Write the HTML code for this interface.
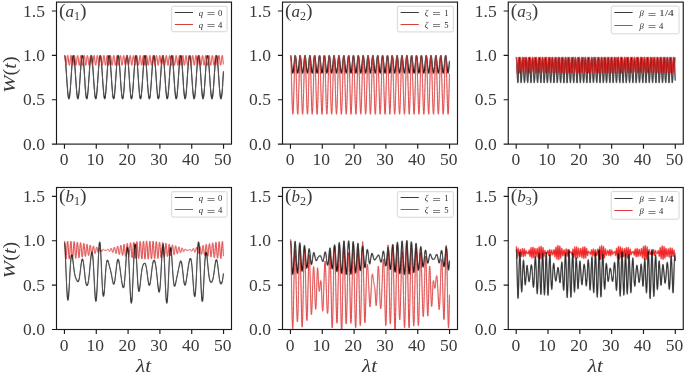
<!DOCTYPE html><html><head><meta charset="utf-8"><style>html,body{margin:0;padding:0;background:#fff;}svg{display:block;}text{font-family:"Liberation Serif",serif;}</style></head><body>
<svg width="685" height="374" viewBox="0 0 685 374">
<rect width="685" height="374" fill="#fff"/>
<defs>
<filter id="bl" x="0" y="0" width="685" height="374" filterUnits="userSpaceOnUse"><feConvolveMatrix order="3" kernelMatrix="0.00250 0.04500 0.00250 0.04500 0.81000 0.04500 0.00250 0.04500 0.00250" divisor="1" edgeMode="duplicate"/></filter>
<filter id="nf" x="0" y="0" width="685" height="374" filterUnits="userSpaceOnUse"><feOffset dx="0" dy="0"/></filter>
<clipPath id="c00"><rect x="56.5" y="2.1" width="175.0" height="142.0"/></clipPath>
<clipPath id="c01"><rect x="282.5" y="2.1" width="175.0" height="142.0"/></clipPath>
<clipPath id="c02"><rect x="508.25" y="2.1" width="175.0" height="142.0"/></clipPath>
<clipPath id="c10"><rect x="56.5" y="187.5" width="175.0" height="142.0"/></clipPath>
<clipPath id="c11"><rect x="282.5" y="187.5" width="175.0" height="142.0"/></clipPath>
<clipPath id="c12"><rect x="508.25" y="187.5" width="175.0" height="142.0"/></clipPath>
</defs>
<g filter="url(#bl)">
<rect width="685" height="374" fill="#fff"/>
<g clip-path="url(#c00)">
<polyline points="64.5,55.3 64.6,55.4 64.7,55.6 64.8,55.8 64.9,56.2 65.0,56.7 65.1,57.2 65.2,57.9 65.3,58.7 65.3,59.5 65.4,60.5 65.5,61.5 65.6,62.6 65.7,63.7 65.8,65.0 65.9,66.3 66.0,67.6 66.1,69.0 66.2,70.4 66.3,71.9 66.4,73.4 66.5,74.9 66.6,76.4 66.7,77.9 66.8,79.4 66.9,80.9 67.0,82.4 67.1,83.9 67.2,85.3 67.3,86.7 67.4,88.0 67.5,89.3 67.6,90.5 67.7,91.7 67.8,92.8 67.9,93.8 68.0,94.7 68.1,95.6 68.2,96.3 68.3,97.0 68.4,97.6 68.5,98.0 68.6,98.4 68.7,98.6 68.8,98.8 68.9,98.8 69.0,98.8 69.1,98.6 69.2,98.3 69.3,98.0 69.4,97.5 69.5,96.9 69.6,96.2 69.7,95.5 69.8,94.6 69.9,93.7 70.0,92.6 70.1,91.5 70.2,90.4 70.3,89.1 70.4,87.8 70.5,86.5 70.6,85.1 70.7,83.7 70.8,82.2 70.9,80.7 71.0,79.2 71.1,77.7 71.2,76.2 71.3,74.7 71.4,73.2 71.5,71.7 71.6,70.2 71.7,68.8 71.8,67.4 71.9,66.1 72.0,64.8 72.1,63.6 72.2,62.4 72.3,61.3 72.4,60.3 72.5,59.4 72.6,58.6 72.7,57.8 72.8,57.2 72.9,56.6 73.0,56.1 73.1,55.8 73.2,55.5 73.3,55.4 73.4,55.4 73.5,55.4 73.6,55.6 73.7,55.9 73.8,56.3 73.9,56.7 74.0,57.3 74.1,58.0 74.2,58.8 74.3,59.6 74.4,60.6 74.5,61.6 74.6,62.7 74.7,63.9 74.8,65.1 74.9,66.4 75.0,67.8 75.1,69.2 75.2,70.6 75.3,72.1 75.4,73.6 75.5,75.1 75.6,76.6 75.7,78.1 75.8,79.6 75.9,81.1 76.0,82.6 76.1,84.1 76.2,85.5 76.3,86.9 76.4,88.2 76.5,89.5 76.6,90.7 76.7,91.9 76.8,92.9 76.9,93.9 77.0,94.9 77.1,95.7 77.2,96.4 77.3,97.1 77.4,97.6 77.5,98.1 77.6,98.4 77.7,98.7 77.8,98.8 77.9,98.8 78.0,98.8 78.1,98.6 78.2,98.3 78.3,97.9 78.4,97.4 78.5,96.8 78.6,96.1 78.7,95.4 78.8,94.5 78.9,93.5 79.0,92.5 79.1,91.4 79.2,90.2 79.3,89.0 79.4,87.7 79.5,86.3 79.6,84.9 79.7,83.5 79.8,82.0 79.9,80.5 80.0,79.0 80.1,77.5 80.2,76.0 80.3,74.5 80.4,72.9 80.5,71.5 80.6,70.0 80.7,68.6 80.8,67.2 80.9,65.9 81.0,64.6 81.1,63.4 81.2,62.3 81.3,61.2 81.4,60.2 81.5,59.3 81.6,58.4 81.7,57.7 81.8,57.1 81.9,56.5 82.0,56.1 82.1,55.7 82.2,55.5 82.3,55.4 82.4,55.4 82.5,55.4 82.6,55.6 82.7,55.9 82.8,56.3 82.9,56.8 83.0,57.4 83.1,58.1 83.2,58.9 83.3,59.8 83.4,60.7 83.5,61.8 83.6,62.9 83.7,64.1 83.8,65.3 83.9,66.6 84.0,68.0 84.1,69.4 84.2,70.8 84.3,72.3 84.4,73.8 84.5,75.3 84.6,76.8 84.7,78.3 84.8,79.8 84.9,81.3 85.0,82.8 85.0,84.3 85.1,85.7 85.2,87.1 85.3,88.4 85.4,89.7 85.5,90.9 85.6,92.0 85.7,93.1 85.8,94.1 85.9,95.0 86.0,95.8 86.1,96.5 86.2,97.2 86.3,97.7 86.4,98.1 86.5,98.5 86.6,98.7 86.7,98.8 86.8,98.8 86.9,98.7 87.0,98.5 87.1,98.2 87.2,97.8 87.3,97.3 87.4,96.7 87.5,96.0 87.6,95.2 87.7,94.4 87.8,93.4 87.9,92.3 88.0,91.2 88.1,90.0 88.2,88.8 88.3,87.5 88.4,86.1 88.5,84.7 88.6,83.3 88.7,81.8 88.8,80.3 88.9,78.8 89.0,77.3 89.1,75.8 89.2,74.2 89.3,72.7 89.4,71.3 89.5,69.8 89.6,68.4 89.7,67.0 89.8,65.7 89.9,64.4 90.0,63.2 90.1,62.1 90.2,61.0 90.3,60.1 90.4,59.2 90.5,58.3 90.6,57.6 90.7,57.0 90.8,56.5 90.9,56.0 91.0,55.7 91.1,55.5 91.2,55.4 91.3,55.4 91.4,55.5 91.5,55.7 91.6,56.0 91.7,56.4 91.8,56.9 91.9,57.5 92.0,58.2 92.1,59.0 92.2,59.9 92.3,60.9 92.4,61.9 92.5,63.0 92.6,64.2 92.7,65.5 92.8,66.8 92.9,68.2 93.0,69.6 93.1,71.0 93.2,72.5 93.3,74.0 93.4,75.5 93.5,77.0 93.6,78.5 93.7,80.0 93.8,81.5 93.9,83.0 94.0,84.5 94.1,85.9 94.2,87.2 94.3,88.6 94.4,89.8 94.5,91.0 94.6,92.2 94.7,93.2 94.8,94.2 94.9,95.1 95.0,95.9 95.1,96.6 95.2,97.2 95.3,97.8 95.4,98.2 95.5,98.5 95.6,98.7 95.7,98.8 95.8,98.8 95.9,98.7 96.0,98.5 96.1,98.2 96.2,97.8 96.3,97.3 96.4,96.6 96.5,95.9 96.6,95.1 96.7,94.2 96.8,93.3 96.9,92.2 97.0,91.1 97.1,89.9 97.2,88.6 97.3,87.3 97.4,85.9 97.5,84.5 97.6,83.1 97.7,81.6 97.8,80.1 97.9,78.6 98.0,77.1 98.1,75.5 98.2,74.0 98.3,72.5 98.4,71.1 98.5,69.6 98.6,68.2 98.7,66.8 98.8,65.5 98.9,64.3 99.0,63.1 99.1,61.9 99.2,60.9 99.3,59.9 99.4,59.0 99.5,58.2 99.6,57.5 99.7,56.9 99.8,56.4 99.9,56.0 100.0,55.7 100.1,55.5 100.2,55.4 100.3,55.4 100.4,55.5 100.5,55.7 100.6,56.0 100.7,56.4 100.8,57.0 100.9,57.6 101.0,58.3 101.1,59.1 101.2,60.0 101.3,61.0 101.4,62.1 101.5,63.2 101.6,64.4 101.7,65.7 101.8,67.0 101.9,68.4 102.0,69.8 102.1,71.2 102.2,72.7 102.3,74.2 102.4,75.7 102.5,77.2 102.6,78.7 102.7,80.3 102.8,81.8 102.9,83.2 103.0,84.7 103.1,86.1 103.2,87.4 103.3,88.7 103.4,90.0 103.5,91.2 103.6,92.3 103.7,93.4 103.8,94.3 103.9,95.2 104.0,96.0 104.1,96.7 104.2,97.3 104.3,97.8 104.4,98.2 104.5,98.5 104.6,98.7 104.7,98.8 104.7,98.8 104.8,98.7 104.9,98.5 105.0,98.1 105.1,97.7 105.2,97.2 105.3,96.5 105.4,95.8 105.5,95.0 105.6,94.1 105.7,93.1 105.8,92.0 105.9,90.9 106.0,89.7 106.1,88.4 106.2,87.1 106.3,85.7 106.4,84.3 106.5,82.9 106.6,81.4 106.7,79.9 106.8,78.4 106.9,76.9 107.0,75.3 107.1,73.8 107.2,72.3 107.3,70.9 107.4,69.4 107.5,68.0 107.6,66.7 107.7,65.4 107.8,64.1 107.9,62.9 108.0,61.8 108.1,60.8 108.2,59.8 108.3,58.9 108.4,58.1 108.5,57.4 108.6,56.8 108.7,56.3 108.8,55.9 108.9,55.6 109.0,55.4 109.1,55.4 109.2,55.4 109.3,55.5 109.4,55.7 109.5,56.1 109.6,56.5 109.7,57.0 109.8,57.7 109.9,58.4 110.0,59.2 110.1,60.2 110.2,61.1 110.3,62.2 110.4,63.4 110.5,64.6 110.6,65.9 110.7,67.2 110.8,68.6 110.9,70.0 111.0,71.4 111.1,72.9 111.2,74.4 111.3,75.9 111.4,77.4 111.5,79.0 111.6,80.5 111.7,82.0 111.8,83.4 111.9,84.9 112.0,86.3 112.1,87.6 112.2,88.9 112.3,90.2 112.4,91.4 112.5,92.5 112.6,93.5 112.7,94.5 112.8,95.3 112.9,96.1 113.0,96.8 113.1,97.4 113.2,97.9 113.3,98.3 113.4,98.6 113.5,98.8 113.6,98.8 113.7,98.8 113.8,98.7 113.9,98.4 114.0,98.1 114.1,97.6 114.2,97.1 114.3,96.5 114.4,95.7 114.5,94.9 114.6,94.0 114.7,93.0 114.8,91.9 114.9,90.7 115.0,89.5 115.1,88.2 115.2,86.9 115.3,85.5 115.4,84.1 115.5,82.7 115.6,81.2 115.7,79.7 115.8,78.2 115.9,76.6 116.0,75.1 116.1,73.6 116.2,72.1 116.3,70.7 116.4,69.2 116.5,67.8 116.6,66.5 116.7,65.2 116.8,63.9 116.9,62.8 117.0,61.6 117.1,60.6 117.2,59.7 117.3,58.8 117.4,58.0 117.5,57.3 117.6,56.8 117.7,56.3 117.8,55.9 117.9,55.6 118.0,55.4 118.1,55.4 118.2,55.4 118.3,55.5 118.4,55.8 118.5,56.1 118.6,56.6 118.7,57.1 118.8,57.8 118.9,58.5 119.0,59.4 119.1,60.3 119.2,61.3 119.3,62.4 119.4,63.5 119.5,64.8 119.6,66.0 119.7,67.4 119.8,68.7 119.9,70.2 120.0,71.6 120.1,73.1 120.2,74.6 120.3,76.1 120.4,77.7 120.5,79.2 120.6,80.7 120.7,82.2 120.8,83.6 120.9,85.1 121.0,86.5 121.1,87.8 121.2,89.1 121.3,90.3 121.4,91.5 121.5,92.6 121.6,93.6 121.7,94.6 121.8,95.4 121.9,96.2 122.0,96.9 122.1,97.5 122.2,98.0 122.3,98.3 122.4,98.6 122.5,98.8 122.6,98.8 122.7,98.8 122.8,98.6 122.9,98.4 123.0,98.0 123.1,97.6 123.2,97.0 123.3,96.4 123.4,95.6 123.5,94.8 123.6,93.8 123.7,92.8 123.8,91.7 123.9,90.6 124.0,89.4 124.1,88.1 124.2,86.7 124.3,85.3 124.3,83.9 124.4,82.5 124.5,81.0 124.6,79.5 124.7,78.0 124.8,76.4 124.9,74.9 125.0,73.4 125.1,71.9 125.2,70.5 125.3,69.0 125.4,67.6 125.5,66.3 125.6,65.0 125.7,63.8 125.8,62.6 125.9,61.5 126.0,60.5 126.1,59.5 126.2,58.7 126.3,57.9 126.4,57.3 126.5,56.7 126.6,56.2 126.7,55.8 126.8,55.6 126.9,55.4 127.0,55.4 127.1,55.4 127.2,55.6 127.3,55.8 127.4,56.2 127.5,56.6 127.6,57.2 127.7,57.9 127.8,58.6 127.9,59.5 128.0,60.4 128.1,61.4 128.2,62.5 128.3,63.7 128.4,64.9 128.5,66.2 128.6,67.6 128.7,68.9 128.8,70.4 128.9,71.8 129.0,73.3 129.1,74.8 129.2,76.3 129.3,77.9 129.4,79.4 129.5,80.9 129.6,82.4 129.7,83.8 129.8,85.3 129.9,86.6 130.0,88.0 130.1,89.3 130.2,90.5 130.3,91.7 130.4,92.8 130.5,93.8 130.6,94.7 130.7,95.6 130.8,96.3 130.9,97.0 131.0,97.5 131.1,98.0 131.2,98.4 131.3,98.6 131.4,98.8 131.5,98.8 131.6,98.8 131.7,98.6 131.8,98.3 131.9,98.0 132.0,97.5 132.1,96.9 132.2,96.3 132.3,95.5 132.4,94.6 132.5,93.7 132.6,92.7 132.7,91.6 132.8,90.4 132.9,89.2 133.0,87.9 133.1,86.5 133.2,85.1 133.3,83.7 133.4,82.3 133.5,80.8 133.6,79.3 133.7,77.7 133.8,76.2 133.9,74.7 134.0,73.2 134.1,71.7 134.2,70.3 134.3,68.8 134.4,67.4 134.5,66.1 134.6,64.8 134.7,63.6 134.8,62.4 134.9,61.4 135.0,60.3 135.1,59.4 135.2,58.6 135.3,57.8 135.4,57.2 135.5,56.6 135.6,56.1 135.7,55.8 135.8,55.5 135.9,55.4 136.0,55.4 136.1,55.4 136.2,55.6 136.3,55.9 136.4,56.2 136.5,56.7 136.6,57.3 136.7,58.0 136.8,58.8 136.9,59.6 137.0,60.6 137.1,61.6 137.2,62.7 137.3,63.9 137.4,65.1 137.5,66.4 137.6,67.7 137.7,69.1 137.8,70.6 137.9,72.0 138.0,73.5 138.1,75.0 138.2,76.6 138.3,78.1 138.4,79.6 138.5,81.1 138.6,82.6 138.7,84.0 138.8,85.5 138.9,86.8 139.0,88.2 139.1,89.4 139.2,90.7 139.3,91.8 139.4,92.9 139.5,93.9 139.6,94.8 139.7,95.7 139.8,96.4 139.9,97.1 140.0,97.6 140.1,98.1 140.2,98.4 140.3,98.7 140.4,98.8 140.5,98.8 140.6,98.8 140.7,98.6 140.8,98.3 140.9,97.9 141.0,97.4 141.1,96.8 141.2,96.2 141.3,95.4 141.4,94.5 141.5,93.6 141.6,92.5 141.7,91.4 141.8,90.2 141.9,89.0 142.0,87.7 142.1,86.3 142.2,85.0 142.3,83.5 142.4,82.0 142.5,80.6 142.6,79.0 142.7,77.5 142.8,76.0 142.9,74.5 143.0,73.0 143.1,71.5 143.2,70.1 143.3,68.6 143.4,67.3 143.5,65.9 143.6,64.7 143.7,63.4 143.8,62.3 143.9,61.2 144.0,60.2 144.0,59.3 144.1,58.5 144.2,57.7 144.3,57.1 144.4,56.5 144.5,56.1 144.6,55.8 144.7,55.5 144.8,55.4 144.9,55.4 145.0,55.4 145.1,55.6 145.2,55.9 145.3,56.3 145.4,56.8 145.5,57.4 145.6,58.1 145.7,58.9 145.8,59.7 145.9,60.7 146.0,61.7 146.1,62.8 146.2,64.0 146.3,65.3 146.4,66.6 146.5,67.9 146.6,69.3 146.7,70.8 146.8,72.2 146.9,73.7 147.0,75.2 147.1,76.8 147.2,78.3 147.3,79.8 147.4,81.3 147.5,82.8 147.6,84.2 147.7,85.6 147.8,87.0 147.9,88.3 148.0,89.6 148.1,90.8 148.2,92.0 148.3,93.0 148.4,94.0 148.5,95.0 148.6,95.8 148.7,96.5 148.8,97.1 148.9,97.7 149.0,98.1 149.1,98.5 149.2,98.7 149.3,98.8 149.4,98.8 149.5,98.7 149.6,98.6 149.7,98.3 149.8,97.9 149.9,97.4 150.0,96.8 150.1,96.1 150.2,95.3 150.3,94.4 150.4,93.4 150.5,92.4 150.6,91.3 150.7,90.1 150.8,88.8 150.9,87.5 151.0,86.2 151.1,84.8 151.2,83.3 151.3,81.8 151.4,80.3 151.5,78.8 151.6,77.3 151.7,75.8 151.8,74.3 151.9,72.8 152.0,71.3 152.1,69.9 152.2,68.4 152.3,67.1 152.4,65.7 152.5,64.5 152.6,63.3 152.7,62.1 152.8,61.1 152.9,60.1 153.0,59.2 153.1,58.4 153.2,57.6 153.3,57.0 153.4,56.5 153.5,56.0 153.6,55.7 153.7,55.5 153.8,55.4 153.9,55.4 154.0,55.5 154.1,55.7 154.2,56.0 154.3,56.4 154.4,56.9 154.5,57.5 154.6,58.2 154.7,59.0 154.8,59.9 154.9,60.8 155.0,61.9 155.1,63.0 155.2,64.2 155.3,65.5 155.4,66.8 155.5,68.1 155.6,69.5 155.7,71.0 155.8,72.4 155.9,73.9 156.0,75.5 156.1,77.0 156.2,78.5 156.3,80.0 156.4,81.5 156.5,83.0 156.6,84.4 156.7,85.8 156.8,87.2 156.9,88.5 157.0,89.8 157.1,91.0 157.2,92.1 157.3,93.2 157.4,94.2 157.5,95.1 157.6,95.9 157.7,96.6 157.8,97.2 157.9,97.7 158.0,98.2 158.1,98.5 158.2,98.7 158.3,98.8 158.4,98.8 158.5,98.7 158.6,98.5 158.7,98.2 158.8,97.8 158.9,97.3 159.0,96.7 159.1,95.9 159.2,95.1 159.3,94.3 159.4,93.3 159.5,92.2 159.6,91.1 159.7,89.9 159.8,88.6 159.9,87.3 160.0,86.0 160.1,84.6 160.2,83.1 160.3,81.6 160.4,80.1 160.5,78.6 160.6,77.1 160.7,75.6 160.8,74.1 160.9,72.6 161.0,71.1 161.1,69.7 161.2,68.3 161.3,66.9 161.4,65.6 161.5,64.3 161.6,63.1 161.7,62.0 161.8,60.9 161.9,60.0 162.0,59.1 162.1,58.3 162.2,57.5 162.3,56.9 162.4,56.4 162.5,56.0 162.6,55.7 162.7,55.5 162.8,55.4 162.9,55.4 163.0,55.5 163.1,55.7 163.2,56.0 163.3,56.4 163.4,57.0 163.5,57.6 163.6,58.3 163.7,59.1 163.7,60.0 163.8,61.0 163.9,62.0 164.0,63.2 164.1,64.4 164.2,65.6 164.3,67.0 164.4,68.3 164.5,69.7 164.6,71.2 164.7,72.7 164.8,74.2 164.9,75.7 165.0,77.2 165.1,78.7 165.2,80.2 165.3,81.7 165.4,83.2 165.5,84.6 165.6,86.0 165.7,87.4 165.8,88.7 165.9,90.0 166.0,91.2 166.1,92.3 166.2,93.3 166.3,94.3 166.4,95.2 166.5,96.0 166.6,96.7 166.7,97.3 166.8,97.8 166.9,98.2 167.0,98.5 167.1,98.7 167.2,98.8 167.3,98.8 167.4,98.7 167.5,98.5 167.6,98.2 167.7,97.7 167.8,97.2 167.9,96.6 168.0,95.8 168.1,95.0 168.2,94.1 168.3,93.1 168.4,92.1 168.5,90.9 168.6,89.7 168.7,88.5 168.8,87.1 168.9,85.8 169.0,84.4 169.1,82.9 169.2,81.4 169.3,79.9 169.4,78.4 169.5,76.9 169.6,75.4 169.7,73.9 169.8,72.4 169.9,70.9 170.0,69.5 170.1,68.1 170.2,66.7 170.3,65.4 170.4,64.1 170.5,63.0 170.6,61.8 170.7,60.8 170.8,59.8 170.9,58.9 171.0,58.1 171.1,57.4 171.2,56.8 171.3,56.3 171.4,55.9 171.5,55.6 171.6,55.4 171.7,55.4 171.8,55.4 171.9,55.5 172.0,55.7 172.1,56.1 172.2,56.5 172.3,57.0 172.4,57.7 172.5,58.4 172.6,59.2 172.7,60.1 172.8,61.1 172.9,62.2 173.0,63.3 173.1,64.5 173.2,65.8 173.3,67.1 173.4,68.5 173.5,69.9 173.6,71.4 173.7,72.9 173.8,74.4 173.9,75.9 174.0,77.4 174.1,78.9 174.2,80.4 174.3,81.9 174.4,83.4 174.5,84.8 174.6,86.2 174.7,87.6 174.8,88.9 174.9,90.1 175.0,91.3 175.1,92.4 175.2,93.5 175.3,94.4 175.4,95.3 175.5,96.1 175.6,96.8 175.7,97.4 175.8,97.9 175.9,98.3 176.0,98.6 176.1,98.8 176.2,98.8 176.3,98.8 176.4,98.7 176.5,98.4 176.6,98.1 176.7,97.7 176.8,97.1 176.9,96.5 177.0,95.7 177.1,94.9 177.2,94.0 177.3,93.0 177.4,91.9 177.5,90.8 177.6,89.6 177.7,88.3 177.8,87.0 177.9,85.6 178.0,84.2 178.1,82.7 178.2,81.2 178.3,79.7 178.4,78.2 178.5,76.7 178.6,75.2 178.7,73.7 178.8,72.2 178.9,70.7 179.0,69.3 179.1,67.9 179.2,66.5 179.3,65.2 179.4,64.0 179.5,62.8 179.6,61.7 179.7,60.6 179.8,59.7 179.9,58.8 180.0,58.0 180.1,57.4 180.2,56.8 180.3,56.3 180.4,55.9 180.5,55.6 180.6,55.4 180.7,55.4 180.8,55.4 180.9,55.5 181.0,55.8 181.1,56.1 181.2,56.6 181.3,57.1 181.4,57.8 181.5,58.5 181.6,59.3 181.7,60.3 181.8,61.3 181.9,62.3 182.0,63.5 182.1,64.7 182.2,66.0 182.3,67.3 182.4,68.7 182.5,70.1 182.6,71.6 182.7,73.1 182.8,74.6 182.9,76.1 183.0,77.6 183.1,79.1 183.2,80.6 183.3,82.1 183.3,83.6 183.4,85.0 183.5,86.4 183.6,87.8 183.7,89.1 183.8,90.3 183.9,91.5 184.0,92.6 184.1,93.6 184.2,94.6 184.3,95.4 184.4,96.2 184.5,96.9 184.6,97.5 184.7,97.9 184.8,98.3 184.9,98.6 185.0,98.8 185.1,98.8 185.2,98.8 185.3,98.7 185.4,98.4 185.5,98.0 185.6,97.6 185.7,97.0 185.8,96.4 185.9,95.6 186.0,94.8 186.1,93.9 186.2,92.9 186.3,91.8 186.4,90.6 186.5,89.4 186.6,88.1 186.7,86.8 186.8,85.4 186.9,84.0 187.0,82.5 187.1,81.0 187.2,79.5 187.3,78.0 187.4,76.5 187.5,75.0 187.6,73.5 187.7,72.0 187.8,70.5 187.9,69.1 188.0,67.7 188.1,66.3 188.2,65.0 188.3,63.8 188.4,62.6 188.5,61.5 188.6,60.5 188.7,59.6 188.8,58.7 188.9,57.9 189.0,57.3 189.1,56.7 189.2,56.2 189.3,55.8 189.4,55.6 189.5,55.4 189.6,55.4 189.7,55.4 189.8,55.5 189.9,55.8 190.0,56.2 190.1,56.6 190.2,57.2 190.3,57.9 190.4,58.6 190.5,59.5 190.6,60.4 190.7,61.4 190.8,62.5 190.9,63.7 191.0,64.9 191.1,66.2 191.2,67.5 191.3,68.9 191.4,70.3 191.5,71.8 191.6,73.3 191.7,74.8 191.8,76.3 191.9,77.8 192.0,79.3 192.1,80.8 192.2,82.3 192.3,83.8 192.4,85.2 192.5,86.6 192.6,87.9 192.7,89.2 192.8,90.5 192.9,91.6 193.0,92.7 193.1,93.7 193.2,94.7 193.3,95.5 193.4,96.3 193.5,97.0 193.6,97.5 193.7,98.0 193.8,98.4 193.9,98.6 194.0,98.8 194.1,98.8 194.2,98.8 194.3,98.6 194.4,98.4 194.5,98.0 194.6,97.5 194.7,96.9 194.8,96.3 194.9,95.5 195.0,94.7 195.1,93.7 195.2,92.7 195.3,91.6 195.4,90.4 195.5,89.2 195.6,87.9 195.7,86.6 195.8,85.2 195.9,83.8 196.0,82.3 196.1,80.8 196.2,79.3 196.3,77.8 196.4,76.3 196.5,74.8 196.6,73.2 196.7,71.8 196.8,70.3 196.9,68.9 197.0,67.5 197.1,66.1 197.2,64.9 197.3,63.6 197.4,62.5 197.5,61.4 197.6,60.4 197.7,59.4 197.8,58.6 197.9,57.8 198.0,57.2 198.1,56.6 198.2,56.2 198.3,55.8 198.4,55.5 198.5,55.4 198.6,55.4 198.7,55.4 198.8,55.6 198.9,55.9 199.0,56.2 199.1,56.7 199.2,57.3 199.3,58.0 199.4,58.7 199.5,59.6 199.6,60.5 199.7,61.6 199.8,62.7 199.9,63.8 200.0,65.1 200.1,66.4 200.2,67.7 200.3,69.1 200.4,70.5 200.5,72.0 200.6,73.5 200.7,75.0 200.8,76.5 200.9,78.0 201.0,79.5 201.1,81.0 201.2,82.5 201.3,84.0 201.4,85.4 201.5,86.8 201.6,88.1 201.7,89.4 201.8,90.6 201.9,91.8 202.0,92.9 202.1,93.9 202.2,94.8 202.3,95.6 202.4,96.4 202.5,97.0 202.6,97.6 202.7,98.1 202.8,98.4 202.9,98.7 203.0,98.8 203.0,98.8 203.1,98.8 203.2,98.6 203.3,98.3 203.4,97.9 203.5,97.4 203.6,96.9 203.7,96.2 203.8,95.4 203.9,94.5 204.0,93.6 204.1,92.6 204.2,91.5 204.3,90.3 204.4,89.0 204.5,87.7 204.6,86.4 204.7,85.0 204.8,83.6 204.9,82.1 205.0,80.6 205.1,79.1 205.2,77.6 205.3,76.1 205.4,74.5 205.5,73.0 205.6,71.6 205.7,70.1 205.8,68.7 205.9,67.3 206.0,66.0 206.1,64.7 206.2,63.5 206.3,62.3 206.4,61.2 206.5,60.2 206.6,59.3 206.7,58.5 206.8,57.7 206.9,57.1 207.0,56.6 207.1,56.1 207.2,55.8 207.3,55.5 207.4,55.4 207.5,55.4 207.6,55.4 207.7,55.6 207.8,55.9 207.9,56.3 208.0,56.8 208.1,57.4 208.2,58.1 208.3,58.8 208.4,59.7 208.5,60.7 208.6,61.7 208.7,62.8 208.8,64.0 208.9,65.2 209.0,66.5 209.1,67.9 209.2,69.3 209.3,70.7 209.4,72.2 209.5,73.7 209.6,75.2 209.7,76.7 209.8,78.2 209.9,79.8 210.0,81.3 210.1,82.7 210.2,84.2 210.3,85.6 210.4,87.0 210.5,88.3 210.6,89.6 210.7,90.8 210.8,91.9 210.9,93.0 211.0,94.0 211.1,94.9 211.2,95.8 211.3,96.5 211.4,97.1 211.5,97.7 211.6,98.1 211.7,98.4 211.8,98.7 211.9,98.8 212.0,98.8 212.1,98.7 212.2,98.6 212.3,98.3 212.4,97.9 212.5,97.4 212.6,96.8 212.7,96.1 212.8,95.3 212.9,94.4 213.0,93.5 213.1,92.4 213.2,91.3 213.3,90.1 213.4,88.9 213.5,87.6 213.6,86.2 213.7,84.8 213.8,83.4 213.9,81.9 214.0,80.4 214.1,78.9 214.2,77.4 214.3,75.8 214.4,74.3 214.5,72.8 214.6,71.4 214.7,69.9 214.8,68.5 214.9,67.1 215.0,65.8 215.1,64.5 215.2,63.3 215.3,62.2 215.4,61.1 215.5,60.1 215.6,59.2 215.7,58.4 215.8,57.7 215.9,57.0 216.0,56.5 216.1,56.1 216.2,55.7 216.3,55.5 216.4,55.4 216.5,55.4 216.6,55.4 216.7,55.6 216.8,55.9 216.9,56.4 217.0,56.9 217.1,57.5 217.2,58.2 217.3,59.0 217.4,59.8 217.5,60.8 217.6,61.9 217.7,63.0 217.8,64.2 217.9,65.4 218.0,66.7 218.1,68.1 218.2,69.5 218.3,70.9 218.4,72.4 218.5,73.9 218.6,75.4 218.7,76.9 218.8,78.4 218.9,80.0 219.0,81.5 219.1,82.9 219.2,84.4 219.3,85.8 219.4,87.2 219.5,88.5 219.6,89.8 219.7,91.0 219.8,92.1 219.9,93.2 220.0,94.1 220.1,95.0 220.2,95.9 220.3,96.6 220.4,97.2 220.5,97.7 220.6,98.2 220.7,98.5 220.8,98.7 220.9,98.8 221.0,98.8 221.1,98.7 221.2,98.5 221.3,98.2 221.4,97.8 221.5,97.3 221.6,96.7 221.7,96.0 221.8,95.2 221.9,94.3 222.0,93.3 222.1,92.3 222.2,91.1 222.3,89.9 222.4,88.7 222.5,87.4 222.6,86.0 222.7,84.6 222.7,83.2 222.8,81.7 222.9,80.2 223.0,78.7 223.1,77.2 223.2,75.6 223.3,74.1 223.4,72.6 223.5,71.2" fill="none" stroke="#000" stroke-width="1.05" stroke-linejoin="round" opacity="1.0"/>
<polyline points="64.5,55.3 64.6,55.4 64.7,55.7 64.8,56.1 64.9,56.7 65.0,57.4 65.1,58.3 65.2,59.1 65.3,60.1 65.3,61.0 65.4,61.9 65.5,62.8 65.6,63.6 65.7,64.2 65.8,64.7 65.9,65.1 66.0,65.3 66.1,65.3 66.2,65.1 66.3,64.7 66.4,64.2 66.5,63.6 66.6,62.8 66.7,62.0 66.8,61.1 66.9,60.1 67.0,59.2 67.1,58.3 67.2,57.5 67.3,56.7 67.4,56.2 67.5,55.7 67.6,55.4 67.7,55.4 67.8,55.4 67.9,55.7 68.0,56.1 68.1,56.7 68.2,57.4 68.3,58.2 68.4,59.1 68.5,60.0 68.6,61.0 68.7,61.9 68.8,62.8 68.9,63.5 69.0,64.2 69.1,64.7 69.2,65.1 69.3,65.3 69.4,65.3 69.5,65.1 69.6,64.8 69.7,64.3 69.8,63.6 69.9,62.9 70.0,62.0 70.1,61.1 70.2,60.1 70.3,59.2 70.4,58.3 70.5,57.5 70.6,56.8 70.7,56.2 70.8,55.7 70.9,55.5 71.0,55.4 71.1,55.4 71.2,55.7 71.3,56.1 71.4,56.7 71.5,57.4 71.6,58.2 71.7,59.1 71.8,60.0 71.9,61.0 72.0,61.9 72.1,62.7 72.2,63.5 72.3,64.2 72.4,64.7 72.5,65.1 72.6,65.3 72.7,65.3 72.8,65.1 72.9,64.8 73.0,64.3 73.1,63.6 73.2,62.9 73.3,62.0 73.4,61.1 73.5,60.2 73.6,59.2 73.7,58.3 73.8,57.5 73.9,56.8 74.0,56.2 74.1,55.7 74.2,55.5 74.3,55.4 74.4,55.4 74.5,55.7 74.6,56.1 74.7,56.7 74.8,57.4 74.9,58.2 75.0,59.0 75.1,60.0 75.2,60.9 75.3,61.8 75.4,62.7 75.5,63.5 75.6,64.2 75.7,64.7 75.8,65.1 75.9,65.3 76.0,65.3 76.1,65.1 76.2,64.8 76.3,64.3 76.4,63.7 76.5,62.9 76.6,62.1 76.7,61.1 76.8,60.2 76.9,59.3 77.0,58.4 77.1,57.5 77.2,56.8 77.3,56.2 77.4,55.8 77.5,55.5 77.6,55.4 77.7,55.4 77.8,55.7 77.9,56.1 78.0,56.6 78.1,57.3 78.2,58.1 78.3,59.0 78.4,59.9 78.5,60.9 78.6,61.8 78.7,62.7 78.8,63.5 78.9,64.1 79.0,64.7 79.1,65.0 79.2,65.3 79.3,65.3 79.4,65.1 79.5,64.8 79.6,64.3 79.7,63.7 79.8,62.9 79.9,62.1 80.0,61.2 80.1,60.2 80.2,59.3 80.3,58.4 80.4,57.6 80.5,56.8 80.6,56.2 80.7,55.8 80.8,55.5 80.9,55.4 81.0,55.4 81.1,55.6 81.2,56.1 81.3,56.6 81.4,57.3 81.5,58.1 81.6,59.0 81.7,59.9 81.8,60.9 81.9,61.8 82.0,62.7 82.1,63.4 82.2,64.1 82.3,64.7 82.4,65.0 82.5,65.2 82.6,65.3 82.7,65.1 82.8,64.8 82.9,64.3 83.0,63.7 83.1,63.0 83.2,62.1 83.3,61.2 83.4,60.3 83.5,59.3 83.6,58.4 83.7,57.6 83.8,56.9 83.9,56.2 84.0,55.8 84.1,55.5 84.2,55.4 84.3,55.4 84.4,55.6 84.5,56.0 84.6,56.6 84.7,57.3 84.8,58.1 84.9,59.0 85.0,59.9 85.0,60.8 85.1,61.8 85.2,62.6 85.3,63.4 85.4,64.1 85.5,64.6 85.6,65.0 85.7,65.2 85.8,65.3 85.9,65.1 86.0,64.8 86.1,64.4 86.2,63.7 86.3,63.0 86.4,62.1 86.5,61.2 86.6,60.3 86.7,59.4 86.8,58.5 86.9,57.6 87.0,56.9 87.1,56.3 87.2,55.8 87.3,55.5 87.4,55.4 87.5,55.4 87.6,55.6 87.7,56.0 87.8,56.6 87.9,57.3 88.0,58.0 88.1,58.9 88.2,59.9 88.3,60.8 88.4,61.7 88.5,62.6 88.6,63.4 88.7,64.1 88.8,64.6 88.9,65.0 89.0,65.2 89.1,65.3 89.2,65.2 89.3,64.8 89.4,64.4 89.5,63.8 89.6,63.0 89.7,62.2 89.8,61.3 89.9,60.3 90.0,59.4 90.1,58.5 90.2,57.6 90.3,56.9 90.4,56.3 90.5,55.8 90.6,55.5 90.7,55.4 90.8,55.4 90.9,55.6 91.0,56.0 91.1,56.5 91.2,57.2 91.3,58.0 91.4,58.9 91.5,59.8 91.6,60.8 91.7,61.7 91.8,62.6 91.9,63.4 92.0,64.1 92.1,64.6 92.2,65.0 92.3,65.2 92.4,65.3 92.5,65.2 92.6,64.9 92.7,64.4 92.8,63.8 92.9,63.0 93.0,62.2 93.1,61.3 93.2,60.4 93.3,59.4 93.4,58.5 93.5,57.7 93.6,56.9 93.7,56.3 93.8,55.8 93.9,55.5 94.0,55.4 94.1,55.4 94.2,55.6 94.3,56.0 94.4,56.5 94.5,57.2 94.6,58.0 94.7,58.9 94.8,59.8 94.9,60.7 95.0,61.7 95.1,62.5 95.2,63.3 95.3,64.0 95.4,64.6 95.5,65.0 95.6,65.2 95.7,65.3 95.8,65.2 95.9,64.9 96.0,64.4 96.1,63.8 96.2,63.1 96.3,62.2 96.4,61.3 96.5,60.4 96.6,59.5 96.7,58.5 96.8,57.7 96.9,56.9 97.0,56.3 97.1,55.8 97.2,55.5 97.3,55.4 97.4,55.4 97.5,55.6 97.6,56.0 97.7,56.5 97.8,57.2 97.9,58.0 98.0,58.8 98.1,59.8 98.2,60.7 98.3,61.6 98.4,62.5 98.5,63.3 98.6,64.0 98.7,64.6 98.8,65.0 98.9,65.2 99.0,65.3 99.1,65.2 99.2,64.9 99.3,64.4 99.4,63.8 99.5,63.1 99.6,62.3 99.7,61.4 99.8,60.4 99.9,59.5 100.0,58.6 100.1,57.7 100.2,57.0 100.3,56.3 100.4,55.8 100.5,55.5 100.6,55.4 100.7,55.4 100.8,55.6 100.9,56.0 101.0,56.5 101.1,57.2 101.2,57.9 101.3,58.8 101.4,59.7 101.5,60.7 101.6,61.6 101.7,62.5 101.8,63.3 101.9,64.0 102.0,64.6 102.1,65.0 102.2,65.2 102.3,65.3 102.4,65.2 102.5,64.9 102.6,64.4 102.7,63.8 102.8,63.1 102.9,62.3 103.0,61.4 103.1,60.5 103.2,59.5 103.3,58.6 103.4,57.8 103.5,57.0 103.6,56.4 103.7,55.9 103.8,55.5 103.9,55.4 104.0,55.4 104.1,55.6 104.2,55.9 104.3,56.5 104.4,57.1 104.5,57.9 104.6,58.8 104.7,59.7 104.7,60.6 104.8,61.6 104.9,62.5 105.0,63.3 105.1,64.0 105.2,64.5 105.3,65.0 105.4,65.2 105.5,65.3 105.6,65.2 105.7,64.9 105.8,64.5 105.9,63.9 106.0,63.1 106.1,62.3 106.2,61.4 106.3,60.5 106.4,59.5 106.5,58.6 106.6,57.8 106.7,57.0 106.8,56.4 106.9,55.9 107.0,55.5 107.1,55.4 107.2,55.4 107.3,55.6 107.4,55.9 107.5,56.4 107.6,57.1 107.7,57.9 107.8,58.7 107.9,59.7 108.0,60.6 108.1,61.5 108.2,62.4 108.3,63.2 108.4,63.9 108.5,64.5 108.6,65.0 108.7,65.2 108.8,65.3 108.9,65.2 109.0,64.9 109.1,64.5 109.2,63.9 109.3,63.2 109.4,62.4 109.5,61.5 109.6,60.5 109.7,59.6 109.8,58.7 109.9,57.8 110.0,57.0 110.1,56.4 110.2,55.9 110.3,55.5 110.4,55.4 110.5,55.4 110.6,55.6 110.7,55.9 110.8,56.4 110.9,57.1 111.0,57.9 111.1,58.7 111.2,59.6 111.3,60.6 111.4,61.5 111.5,62.4 111.6,63.2 111.7,63.9 111.8,64.5 111.9,64.9 112.0,65.2 112.1,65.3 112.2,65.2 112.3,64.9 112.4,64.5 112.5,63.9 112.6,63.2 112.7,62.4 112.8,61.5 112.9,60.6 113.0,59.6 113.1,58.7 113.2,57.8 113.3,57.1 113.4,56.4 113.5,55.9 113.6,55.6 113.7,55.4 113.8,55.4 113.9,55.5 114.0,55.9 114.1,56.4 114.2,57.1 114.3,57.8 114.4,58.7 114.5,59.6 114.6,60.5 114.7,61.5 114.8,62.4 114.9,63.2 115.0,63.9 115.1,64.5 115.2,64.9 115.3,65.2 115.4,65.3 115.5,65.2 115.6,64.9 115.7,64.5 115.8,63.9 115.9,63.2 116.0,62.4 116.1,61.5 116.2,60.6 116.3,59.6 116.4,58.7 116.5,57.9 116.6,57.1 116.7,56.4 116.8,55.9 116.9,55.6 117.0,55.4 117.1,55.4 117.2,55.5 117.3,55.9 117.4,56.4 117.5,57.0 117.6,57.8 117.7,58.7 117.8,59.6 117.9,60.5 118.0,61.4 118.1,62.3 118.2,63.2 118.3,63.9 118.4,64.5 118.5,64.9 118.6,65.2 118.7,65.3 118.8,65.2 118.9,65.0 119.0,64.5 119.1,64.0 119.2,63.3 119.3,62.4 119.4,61.5 119.5,60.6 119.6,59.7 119.7,58.8 119.8,57.9 119.9,57.1 120.0,56.5 120.1,55.9 120.2,55.6 120.3,55.4 120.4,55.4 120.5,55.5 120.6,55.9 120.7,56.4 120.8,57.0 120.9,57.8 121.0,58.6 121.1,59.5 121.2,60.5 121.3,61.4 121.4,62.3 121.5,63.1 121.6,63.9 121.7,64.5 121.8,64.9 121.9,65.2 122.0,65.3 122.1,65.2 122.2,65.0 122.3,64.5 122.4,64.0 122.5,63.3 122.6,62.5 122.7,61.6 122.8,60.6 122.9,59.7 123.0,58.8 123.1,57.9 123.2,57.1 123.3,56.5 123.4,55.9 123.5,55.6 123.6,55.4 123.7,55.4 123.8,55.5 123.9,55.9 124.0,56.3 124.1,57.0 124.2,57.7 124.3,58.6 124.3,59.5 124.4,60.4 124.5,61.4 124.6,62.3 124.7,63.1 124.8,63.8 124.9,64.4 125.0,64.9 125.1,65.2 125.2,65.3 125.3,65.2 125.4,65.0 125.5,64.6 125.6,64.0 125.7,63.3 125.8,62.5 125.9,61.6 126.0,60.7 126.1,59.7 126.2,58.8 126.3,57.9 126.4,57.2 126.5,56.5 126.6,56.0 126.7,55.6 126.8,55.4 126.9,55.4 127.0,55.5 127.1,55.8 127.2,56.3 127.3,57.0 127.4,57.7 127.5,58.6 127.6,59.5 127.7,60.4 127.8,61.4 127.9,62.3 128.0,63.1 128.1,63.8 128.2,64.4 128.3,64.9 128.4,65.2 128.5,65.3 128.6,65.2 128.7,65.0 128.8,64.6 128.9,64.0 129.0,63.3 129.1,62.5 129.2,61.6 129.3,60.7 129.4,59.8 129.5,58.8 129.6,58.0 129.7,57.2 129.8,56.5 129.9,56.0 130.0,55.6 130.1,55.4 130.2,55.4 130.3,55.5 130.4,55.8 130.5,56.3 130.6,56.9 130.7,57.7 130.8,58.5 130.9,59.4 131.0,60.4 131.1,61.3 131.2,62.2 131.3,63.1 131.4,63.8 131.5,64.4 131.6,64.9 131.7,65.2 131.8,65.3 131.9,65.2 132.0,65.0 132.1,64.6 132.2,64.0 132.3,63.4 132.4,62.6 132.5,61.7 132.6,60.7 132.7,59.8 132.8,58.9 132.9,58.0 133.0,57.2 133.1,56.5 133.2,56.0 133.3,55.6 133.4,55.4 133.5,55.4 133.6,55.5 133.7,55.8 133.8,56.3 133.9,56.9 134.0,57.7 134.1,58.5 134.2,59.4 134.3,60.4 134.4,61.3 134.5,62.2 134.6,63.0 134.7,63.8 134.8,64.4 134.9,64.9 135.0,65.2 135.1,65.3 135.2,65.2 135.3,65.0 135.4,64.6 135.5,64.1 135.6,63.4 135.7,62.6 135.8,61.7 135.9,60.8 136.0,59.8 136.1,58.9 136.2,58.0 136.3,57.2 136.4,56.6 136.5,56.0 136.6,55.6 136.7,55.4 136.8,55.4 136.9,55.5 137.0,55.8 137.1,56.3 137.2,56.9 137.3,57.6 137.4,58.5 137.5,59.4 137.6,60.3 137.7,61.3 137.8,62.2 137.9,63.0 138.0,63.7 138.1,64.4 138.2,64.8 138.3,65.1 138.4,65.3 138.5,65.2 138.6,65.0 138.7,64.6 138.8,64.1 138.9,63.4 139.0,62.6 139.1,61.7 139.2,60.8 139.3,59.9 139.4,58.9 139.5,58.1 139.6,57.3 139.7,56.6 139.8,56.0 139.9,55.6 140.0,55.4 140.1,55.4 140.2,55.5 140.3,55.8 140.4,56.3 140.5,56.9 140.6,57.6 140.7,58.4 140.8,59.3 140.9,60.3 141.0,61.2 141.1,62.1 141.2,63.0 141.3,63.7 141.4,64.3 141.5,64.8 141.6,65.1 141.7,65.3 141.8,65.2 141.9,65.0 142.0,64.6 142.1,64.1 142.2,63.4 142.3,62.6 142.4,61.8 142.5,60.8 142.6,59.9 142.7,59.0 142.8,58.1 142.9,57.3 143.0,56.6 143.1,56.0 143.2,55.6 143.3,55.4 143.4,55.4 143.5,55.5 143.6,55.8 143.7,56.2 143.8,56.8 143.9,57.6 144.0,58.4 144.0,59.3 144.1,60.3 144.2,61.2 144.3,62.1 144.4,63.0 144.5,63.7 144.6,64.3 144.7,64.8 144.8,65.1 144.9,65.3 145.0,65.2 145.1,65.0 145.2,64.7 145.3,64.1 145.4,63.5 145.5,62.7 145.6,61.8 145.7,60.9 145.8,59.9 145.9,59.0 146.0,58.1 146.1,57.3 146.2,56.6 146.3,56.1 146.4,55.7 146.5,55.4 146.6,55.4 146.7,55.5 146.8,55.8 146.9,56.2 147.0,56.8 147.1,57.6 147.2,58.4 147.3,59.3 147.4,60.2 147.5,61.2 147.6,62.1 147.7,62.9 147.8,63.7 147.9,64.3 148.0,64.8 148.1,65.1 148.2,65.3 148.3,65.3 148.4,65.1 148.5,64.7 148.6,64.1 148.7,63.5 148.8,62.7 148.9,61.8 149.0,60.9 149.1,60.0 149.2,59.0 149.3,58.1 149.4,57.3 149.5,56.6 149.6,56.1 149.7,55.7 149.8,55.4 149.9,55.4 150.0,55.5 150.1,55.7 150.2,56.2 150.3,56.8 150.4,57.5 150.5,58.4 150.6,59.3 150.7,60.2 150.8,61.1 150.9,62.0 151.0,62.9 151.1,63.7 151.2,64.3 151.3,64.8 151.4,65.1 151.5,65.3 151.6,65.3 151.7,65.1 151.8,64.7 151.9,64.2 152.0,63.5 152.1,62.7 152.2,61.9 152.3,60.9 152.4,60.0 152.5,59.1 152.6,58.2 152.7,57.4 152.8,56.7 152.9,56.1 153.0,55.7 153.1,55.4 153.2,55.4 153.3,55.5 153.4,55.7 153.5,56.2 153.6,56.8 153.7,57.5 153.8,58.3 153.9,59.2 154.0,60.2 154.1,61.1 154.2,62.0 154.3,62.9 154.4,63.6 154.5,64.3 154.6,64.8 154.7,65.1 154.8,65.3 154.9,65.3 155.0,65.1 155.1,64.7 155.2,64.2 155.3,63.5 155.4,62.7 155.5,61.9 155.6,61.0 155.7,60.0 155.8,59.1 155.9,58.2 156.0,57.4 156.1,56.7 156.2,56.1 156.3,55.7 156.4,55.4 156.5,55.4 156.6,55.4 156.7,55.7 156.8,56.2 156.9,56.8 157.0,57.5 157.1,58.3 157.2,59.2 157.3,60.1 157.4,61.1 157.5,62.0 157.6,62.8 157.7,63.6 157.8,64.3 157.9,64.8 158.0,65.1 158.1,65.3 158.2,65.3 158.3,65.1 158.4,64.7 158.5,64.2 158.6,63.5 158.7,62.8 158.8,61.9 158.9,61.0 159.0,60.1 159.1,59.1 159.2,58.2 159.3,57.4 159.4,56.7 159.5,56.1 159.6,55.7 159.7,55.4 159.8,55.4 159.9,55.4 160.0,55.7 160.1,56.1 160.2,56.7 160.3,57.5 160.4,58.3 160.5,59.2 160.6,60.1 160.7,61.0 160.8,62.0 160.9,62.8 161.0,63.6 161.1,64.2 161.2,64.7 161.3,65.1 161.4,65.3 161.5,65.3 161.6,65.1 161.7,64.7 161.8,64.2 161.9,63.6 162.0,62.8 162.1,61.9 162.2,61.0 162.3,60.1 162.4,59.2 162.5,58.3 162.6,57.4 162.7,56.7 162.8,56.1 162.9,55.7 163.0,55.4 163.1,55.4 163.2,55.4 163.3,55.7 163.4,56.1 163.5,56.7 163.6,57.4 163.7,58.2 163.7,59.1 163.8,60.1 163.9,61.0 164.0,61.9 164.1,62.8 164.2,63.6 164.3,64.2 164.4,64.7 164.5,65.1 164.6,65.3 164.7,65.3 164.8,65.1 164.9,64.8 165.0,64.2 165.1,63.6 165.2,62.8 165.3,62.0 165.4,61.1 165.5,60.1 165.6,59.2 165.7,58.3 165.8,57.5 165.9,56.8 166.0,56.2 166.1,55.7 166.2,55.4 166.3,55.4 166.4,55.4 166.5,55.7 166.6,56.1 166.7,56.7 166.8,57.4 166.9,58.2 167.0,59.1 167.1,60.0 167.2,61.0 167.3,61.9 167.4,62.8 167.5,63.5 167.6,64.2 167.7,64.7 167.8,65.1 167.9,65.3 168.0,65.3 168.1,65.1 168.2,64.8 168.3,64.3 168.4,63.6 168.5,62.9 168.6,62.0 168.7,61.1 168.8,60.2 168.9,59.2 169.0,58.3 169.1,57.5 169.2,56.8 169.3,56.2 169.4,55.7 169.5,55.5 169.6,55.4 169.7,55.4 169.8,55.7 169.9,56.1 170.0,56.7 170.1,57.4 170.2,58.2 170.3,59.1 170.4,60.0 170.5,60.9 170.6,61.9 170.7,62.7 170.8,63.5 170.9,64.2 171.0,64.7 171.1,65.1 171.2,65.3 171.3,65.3 171.4,65.1 171.5,64.8 171.6,64.3 171.7,63.6 171.8,62.9 171.9,62.0 172.0,61.1 172.1,60.2 172.2,59.2 172.3,58.3 172.4,57.5 172.5,56.8 172.6,56.2 172.7,55.7 172.8,55.5 172.9,55.4 173.0,55.4 173.1,55.7 173.2,56.1 173.3,56.6 173.4,57.3 173.5,58.2 173.6,59.0 173.7,60.0 173.8,60.9 173.9,61.8 174.0,62.7 174.1,63.5 174.2,64.2 174.3,64.7 174.4,65.1 174.5,65.3 174.6,65.3 174.7,65.1 174.8,64.8 174.9,64.3 175.0,63.7 175.1,62.9 175.2,62.1 175.3,61.2 175.4,60.2 175.5,59.3 175.6,58.4 175.7,57.5 175.8,56.8 175.9,56.2 176.0,55.8 176.1,55.5 176.2,55.4 176.3,55.4 176.4,55.7 176.5,56.1 176.6,56.6 176.7,57.3 176.8,58.1 176.9,59.0 177.0,59.9 177.1,60.9 177.2,61.8 177.3,62.7 177.4,63.5 177.5,64.1 177.6,64.7 177.7,65.0 177.8,65.3 177.9,65.3 178.0,65.1 178.1,64.8 178.2,64.3 178.3,63.7 178.4,62.9 178.5,62.1 178.6,61.2 178.7,60.2 178.8,59.3 178.9,58.4 179.0,57.6 179.1,56.8 179.2,56.2 179.3,55.8 179.4,55.5 179.5,55.4 179.6,55.4 179.7,55.6 179.8,56.0 179.9,56.6 180.0,57.3 180.1,58.1 180.2,59.0 180.3,59.9 180.4,60.8 180.5,61.8 180.6,62.6 180.7,63.4 180.8,64.1 180.9,64.7 181.0,65.0 181.1,65.2 181.2,65.3 181.3,65.1 181.4,64.8 181.5,64.3 181.6,63.7 181.7,63.0 181.8,62.1 181.9,61.2 182.0,60.3 182.1,59.3 182.2,58.4 182.3,57.6 182.4,56.9 182.5,56.3 182.6,55.8 182.7,55.5 182.8,55.4 182.9,55.4 183.0,55.6 183.1,56.0 183.2,56.6 183.3,57.3 183.3,58.1 183.4,58.9 183.5,59.9 183.6,60.8 183.7,61.7 183.8,62.6 183.9,63.4 184.0,64.1 184.1,64.6 184.2,65.0 184.3,65.2 184.4,65.3 184.5,65.1 184.6,64.8 184.7,64.4 184.8,63.7 184.9,63.0 185.0,62.2 185.1,61.2 185.2,60.3 185.3,59.4 185.4,58.5 185.5,57.6 185.6,56.9 185.7,56.3 185.8,55.8 185.9,55.5 186.0,55.4 186.1,55.4 186.2,55.6 186.3,56.0 186.4,56.6 186.5,57.2 186.6,58.0 186.7,58.9 186.8,59.8 186.9,60.8 187.0,61.7 187.1,62.6 187.2,63.4 187.3,64.1 187.4,64.6 187.5,65.0 187.6,65.2 187.7,65.3 187.8,65.2 187.9,64.8 188.0,64.4 188.1,63.8 188.2,63.0 188.3,62.2 188.4,61.3 188.5,60.3 188.6,59.4 188.7,58.5 188.8,57.7 188.9,56.9 189.0,56.3 189.1,55.8 189.2,55.5 189.3,55.4 189.4,55.4 189.5,55.6 189.6,56.0 189.7,56.5 189.8,57.2 189.9,58.0 190.0,58.9 190.1,59.8 190.2,60.8 190.3,61.7 190.4,62.6 190.5,63.4 190.6,64.0 190.7,64.6 190.8,65.0 190.9,65.2 191.0,65.3 191.1,65.2 191.2,64.9 191.3,64.4 191.4,63.8 191.5,63.0 191.6,62.2 191.7,61.3 191.8,60.4 191.9,59.4 192.0,58.5 192.1,57.7 192.2,56.9 192.3,56.3 192.4,55.8 192.5,55.5 192.6,55.4 192.7,55.4 192.8,55.6 192.9,56.0 193.0,56.5 193.1,57.2 193.2,58.0 193.3,58.9 193.4,59.8 193.5,60.7 193.6,61.7 193.7,62.5 193.8,63.3 193.9,64.0 194.0,64.6 194.1,65.0 194.2,65.2 194.3,65.3 194.4,65.2 194.5,64.9 194.6,64.4 194.7,63.8 194.8,63.1 194.9,62.2 195.0,61.3 195.1,60.4 195.2,59.5 195.3,58.6 195.4,57.7 195.5,57.0 195.6,56.3 195.7,55.8 195.8,55.5 195.9,55.4 196.0,55.4 196.1,55.6 196.2,56.0 196.3,56.5 196.4,57.2 196.5,58.0 196.6,58.8 196.7,59.7 196.8,60.7 196.9,61.6 197.0,62.5 197.1,63.3 197.2,64.0 197.3,64.6 197.4,65.0 197.5,65.2 197.6,65.3 197.7,65.2 197.8,64.9 197.9,64.4 198.0,63.8 198.1,63.1 198.2,62.3 198.3,61.4 198.4,60.4 198.5,59.5 198.6,58.6 198.7,57.7 198.8,57.0 198.9,56.3 199.0,55.9 199.1,55.5 199.2,55.4 199.3,55.4 199.4,55.6 199.5,56.0 199.6,56.5 199.7,57.1 199.8,57.9 199.9,58.8 200.0,59.7 200.1,60.7 200.2,61.6 200.3,62.5 200.4,63.3 200.5,64.0 200.6,64.6 200.7,65.0 200.8,65.2 200.9,65.3 201.0,65.2 201.1,64.9 201.2,64.5 201.3,63.9 201.4,63.1 201.5,62.3 201.6,61.4 201.7,60.5 201.8,59.5 201.9,58.6 202.0,57.8 202.1,57.0 202.2,56.4 202.3,55.9 202.4,55.5 202.5,55.4 202.6,55.4 202.7,55.6 202.8,55.9 202.9,56.5 203.0,57.1 203.0,57.9 203.1,58.8 203.2,59.7 203.3,60.6 203.4,61.6 203.5,62.4 203.6,63.3 203.7,64.0 203.8,64.5 203.9,65.0 204.0,65.2 204.1,65.3 204.2,65.2 204.3,64.9 204.4,64.5 204.5,63.9 204.6,63.2 204.7,62.3 204.8,61.4 204.9,60.5 205.0,59.6 205.1,58.6 205.2,57.8 205.3,57.0 205.4,56.4 205.5,55.9 205.6,55.5 205.7,55.4 205.8,55.4 205.9,55.6 206.0,55.9 206.1,56.4 206.2,57.1 206.3,57.9 206.4,58.7 206.5,59.7 206.6,60.6 206.7,61.5 206.8,62.4 206.9,63.2 207.0,63.9 207.1,64.5 207.2,64.9 207.3,65.2 207.4,65.3 207.5,65.2 207.6,64.9 207.7,64.5 207.8,63.9 207.9,63.2 208.0,62.4 208.1,61.5 208.2,60.5 208.3,59.6 208.4,58.7 208.5,57.8 208.6,57.1 208.7,56.4 208.8,55.9 208.9,55.5 209.0,55.4 209.1,55.4 209.2,55.6 209.3,55.9 209.4,56.4 209.5,57.1 209.6,57.8 209.7,58.7 209.8,59.6 209.9,60.6 210.0,61.5 210.1,62.4 210.2,63.2 210.3,63.9 210.4,64.5 210.5,64.9 210.6,65.2 210.7,65.3 210.8,65.2 210.9,64.9 211.0,64.5 211.1,63.9 211.2,63.2 211.3,62.4 211.4,61.5 211.5,60.6 211.6,59.6 211.7,58.7 211.8,57.8 211.9,57.1 212.0,56.4 212.1,55.9 212.2,55.6 212.3,55.4 212.4,55.4 212.5,55.5 212.6,55.9 212.7,56.4 212.8,57.0 212.9,57.8 213.0,58.7 213.1,59.6 213.2,60.5 213.3,61.5 213.4,62.4 213.5,63.2 213.6,63.9 213.7,64.5 213.8,64.9 213.9,65.2 214.0,65.3 214.1,65.2 214.2,64.9 214.3,64.5 214.4,63.9 214.5,63.2 214.6,62.4 214.7,61.5 214.8,60.6 214.9,59.7 215.0,58.7 215.1,57.9 215.2,57.1 215.3,56.4 215.4,55.9 215.5,55.6 215.6,55.4 215.7,55.4 215.8,55.5 215.9,55.9 216.0,56.4 216.1,57.0 216.2,57.8 216.3,58.6 216.4,59.6 216.5,60.5 216.6,61.4 216.7,62.3 216.8,63.2 216.9,63.9 217.0,64.5 217.1,64.9 217.2,65.2 217.3,65.3 217.4,65.2 217.5,65.0 217.6,64.5 217.7,64.0 217.8,63.3 217.9,62.4 218.0,61.6 218.1,60.6 218.2,59.7 218.3,58.8 218.4,57.9 218.5,57.1 218.6,56.5 218.7,55.9 218.8,55.6 218.9,55.4 219.0,55.4 219.1,55.5 219.2,55.9 219.3,56.4 219.4,57.0 219.5,57.8 219.6,58.6 219.7,59.5 219.8,60.5 219.9,61.4 220.0,62.3 220.1,63.1 220.2,63.9 220.3,64.4 220.4,64.9 220.5,65.2 220.6,65.3 220.7,65.2 220.8,65.0 220.9,64.6 221.0,64.0 221.1,63.3 221.2,62.5 221.3,61.6 221.4,60.7 221.5,59.7 221.6,58.8 221.7,57.9 221.8,57.1 221.9,56.5 222.0,56.0 222.1,55.6 222.2,55.4 222.3,55.4 222.4,55.5 222.5,55.9 222.6,56.3 222.7,57.0 222.7,57.7 222.8,58.6 222.9,59.5 223.0,60.4 223.1,61.4 223.2,62.3 223.3,63.1 223.4,63.8 223.5,64.4" fill="none" stroke="#dc2626" stroke-width="1.0" stroke-linejoin="round" opacity="1.0"/>
<polyline points="64.5,55.3 64.6,55.4 64.7,55.6 64.8,55.8 64.9,56.2 65.0,56.7 65.1,57.2 65.2,57.9 65.3,58.7 65.3,59.5 65.4,60.5 65.5,61.5 65.6,62.6 65.7,63.7 65.8,65.0 65.9,66.3 66.0,67.6 66.1,69.0 66.2,70.4 66.3,71.9 66.4,73.4 66.5,74.9 66.6,76.4 66.7,77.9 66.8,79.4 66.9,80.9 67.0,82.4 67.1,83.9 67.2,85.3 67.3,86.7 67.4,88.0 67.5,89.3 67.6,90.5 67.7,91.7 67.8,92.8 67.9,93.8 68.0,94.7 68.1,95.6 68.2,96.3 68.3,97.0 68.4,97.6 68.5,98.0 68.6,98.4 68.7,98.6 68.8,98.8 68.9,98.8 69.0,98.8 69.1,98.6 69.2,98.3 69.3,98.0 69.4,97.5 69.5,96.9 69.6,96.2 69.7,95.5 69.8,94.6 69.9,93.7 70.0,92.6 70.1,91.5 70.2,90.4 70.3,89.1 70.4,87.8 70.5,86.5 70.6,85.1 70.7,83.7 70.8,82.2 70.9,80.7 71.0,79.2 71.1,77.7 71.2,76.2 71.3,74.7 71.4,73.2 71.5,71.7 71.6,70.2 71.7,68.8 71.8,67.4 71.9,66.1 72.0,64.8 72.1,63.6 72.2,62.4 72.3,61.3 72.4,60.3 72.5,59.4 72.6,58.6 72.7,57.8 72.8,57.2 72.9,56.6 73.0,56.1 73.1,55.8 73.2,55.5 73.3,55.4 73.4,55.4 73.5,55.4 73.6,55.6 73.7,55.9 73.8,56.3 73.9,56.7 74.0,57.3 74.1,58.0 74.2,58.8 74.3,59.6 74.4,60.6 74.5,61.6 74.6,62.7 74.7,63.9 74.8,65.1 74.9,66.4 75.0,67.8 75.1,69.2 75.2,70.6 75.3,72.1 75.4,73.6 75.5,75.1 75.6,76.6 75.7,78.1 75.8,79.6 75.9,81.1 76.0,82.6 76.1,84.1 76.2,85.5 76.3,86.9 76.4,88.2 76.5,89.5 76.6,90.7 76.7,91.9 76.8,92.9 76.9,93.9 77.0,94.9 77.1,95.7 77.2,96.4 77.3,97.1 77.4,97.6 77.5,98.1 77.6,98.4 77.7,98.7 77.8,98.8 77.9,98.8 78.0,98.8 78.1,98.6 78.2,98.3 78.3,97.9 78.4,97.4 78.5,96.8 78.6,96.1 78.7,95.4 78.8,94.5 78.9,93.5 79.0,92.5 79.1,91.4 79.2,90.2 79.3,89.0 79.4,87.7 79.5,86.3 79.6,84.9 79.7,83.5 79.8,82.0 79.9,80.5 80.0,79.0 80.1,77.5 80.2,76.0 80.3,74.5 80.4,72.9 80.5,71.5 80.6,70.0 80.7,68.6 80.8,67.2 80.9,65.9 81.0,64.6 81.1,63.4 81.2,62.3 81.3,61.2 81.4,60.2 81.5,59.3 81.6,58.4 81.7,57.7 81.8,57.1 81.9,56.5 82.0,56.1 82.1,55.7 82.2,55.5 82.3,55.4 82.4,55.4 82.5,55.4 82.6,55.6 82.7,55.9 82.8,56.3 82.9,56.8 83.0,57.4 83.1,58.1 83.2,58.9 83.3,59.8 83.4,60.7 83.5,61.8 83.6,62.9 83.7,64.1 83.8,65.3 83.9,66.6 84.0,68.0 84.1,69.4 84.2,70.8 84.3,72.3 84.4,73.8 84.5,75.3 84.6,76.8 84.7,78.3 84.8,79.8 84.9,81.3 85.0,82.8 85.0,84.3 85.1,85.7 85.2,87.1 85.3,88.4 85.4,89.7 85.5,90.9 85.6,92.0 85.7,93.1 85.8,94.1 85.9,95.0 86.0,95.8 86.1,96.5 86.2,97.2 86.3,97.7 86.4,98.1 86.5,98.5 86.6,98.7 86.7,98.8 86.8,98.8 86.9,98.7 87.0,98.5 87.1,98.2 87.2,97.8 87.3,97.3 87.4,96.7 87.5,96.0 87.6,95.2 87.7,94.4 87.8,93.4 87.9,92.3 88.0,91.2 88.1,90.0 88.2,88.8 88.3,87.5 88.4,86.1 88.5,84.7 88.6,83.3 88.7,81.8 88.8,80.3 88.9,78.8 89.0,77.3 89.1,75.8 89.2,74.2 89.3,72.7 89.4,71.3 89.5,69.8 89.6,68.4 89.7,67.0 89.8,65.7 89.9,64.4 90.0,63.2 90.1,62.1 90.2,61.0 90.3,60.1 90.4,59.2 90.5,58.3 90.6,57.6 90.7,57.0 90.8,56.5 90.9,56.0 91.0,55.7 91.1,55.5 91.2,55.4 91.3,55.4 91.4,55.5 91.5,55.7 91.6,56.0 91.7,56.4 91.8,56.9 91.9,57.5 92.0,58.2 92.1,59.0 92.2,59.9 92.3,60.9 92.4,61.9 92.5,63.0 92.6,64.2 92.7,65.5 92.8,66.8 92.9,68.2 93.0,69.6 93.1,71.0 93.2,72.5 93.3,74.0 93.4,75.5 93.5,77.0 93.6,78.5 93.7,80.0 93.8,81.5 93.9,83.0 94.0,84.5 94.1,85.9 94.2,87.2 94.3,88.6 94.4,89.8 94.5,91.0 94.6,92.2 94.7,93.2 94.8,94.2 94.9,95.1 95.0,95.9 95.1,96.6 95.2,97.2 95.3,97.8 95.4,98.2 95.5,98.5 95.6,98.7 95.7,98.8 95.8,98.8 95.9,98.7 96.0,98.5 96.1,98.2 96.2,97.8 96.3,97.3 96.4,96.6 96.5,95.9 96.6,95.1 96.7,94.2 96.8,93.3 96.9,92.2 97.0,91.1 97.1,89.9 97.2,88.6 97.3,87.3 97.4,85.9 97.5,84.5 97.6,83.1 97.7,81.6 97.8,80.1 97.9,78.6 98.0,77.1 98.1,75.5 98.2,74.0 98.3,72.5 98.4,71.1 98.5,69.6 98.6,68.2 98.7,66.8 98.8,65.5 98.9,64.3 99.0,63.1 99.1,61.9 99.2,60.9 99.3,59.9 99.4,59.0 99.5,58.2 99.6,57.5 99.7,56.9 99.8,56.4 99.9,56.0 100.0,55.7 100.1,55.5 100.2,55.4 100.3,55.4 100.4,55.5 100.5,55.7 100.6,56.0 100.7,56.4 100.8,57.0 100.9,57.6 101.0,58.3 101.1,59.1 101.2,60.0 101.3,61.0 101.4,62.1 101.5,63.2 101.6,64.4 101.7,65.7 101.8,67.0 101.9,68.4 102.0,69.8 102.1,71.2 102.2,72.7 102.3,74.2 102.4,75.7 102.5,77.2 102.6,78.7 102.7,80.3 102.8,81.8 102.9,83.2 103.0,84.7 103.1,86.1 103.2,87.4 103.3,88.7 103.4,90.0 103.5,91.2 103.6,92.3 103.7,93.4 103.8,94.3 103.9,95.2 104.0,96.0 104.1,96.7 104.2,97.3 104.3,97.8 104.4,98.2 104.5,98.5 104.6,98.7 104.7,98.8 104.7,98.8 104.8,98.7 104.9,98.5 105.0,98.1 105.1,97.7 105.2,97.2 105.3,96.5 105.4,95.8 105.5,95.0 105.6,94.1 105.7,93.1 105.8,92.0 105.9,90.9 106.0,89.7 106.1,88.4 106.2,87.1 106.3,85.7 106.4,84.3 106.5,82.9 106.6,81.4 106.7,79.9 106.8,78.4 106.9,76.9 107.0,75.3 107.1,73.8 107.2,72.3 107.3,70.9 107.4,69.4 107.5,68.0 107.6,66.7 107.7,65.4 107.8,64.1 107.9,62.9 108.0,61.8 108.1,60.8 108.2,59.8 108.3,58.9 108.4,58.1 108.5,57.4 108.6,56.8 108.7,56.3 108.8,55.9 108.9,55.6 109.0,55.4 109.1,55.4 109.2,55.4 109.3,55.5 109.4,55.7 109.5,56.1 109.6,56.5 109.7,57.0 109.8,57.7 109.9,58.4 110.0,59.2 110.1,60.2 110.2,61.1 110.3,62.2 110.4,63.4 110.5,64.6 110.6,65.9 110.7,67.2 110.8,68.6 110.9,70.0 111.0,71.4 111.1,72.9 111.2,74.4 111.3,75.9 111.4,77.4 111.5,79.0 111.6,80.5 111.7,82.0 111.8,83.4 111.9,84.9 112.0,86.3 112.1,87.6 112.2,88.9 112.3,90.2 112.4,91.4 112.5,92.5 112.6,93.5 112.7,94.5 112.8,95.3 112.9,96.1 113.0,96.8 113.1,97.4 113.2,97.9 113.3,98.3 113.4,98.6 113.5,98.8 113.6,98.8 113.7,98.8 113.8,98.7 113.9,98.4 114.0,98.1 114.1,97.6 114.2,97.1 114.3,96.5 114.4,95.7 114.5,94.9 114.6,94.0 114.7,93.0 114.8,91.9 114.9,90.7 115.0,89.5 115.1,88.2 115.2,86.9 115.3,85.5 115.4,84.1 115.5,82.7 115.6,81.2 115.7,79.7 115.8,78.2 115.9,76.6 116.0,75.1 116.1,73.6 116.2,72.1 116.3,70.7 116.4,69.2 116.5,67.8 116.6,66.5 116.7,65.2 116.8,63.9 116.9,62.8 117.0,61.6 117.1,60.6 117.2,59.7 117.3,58.8 117.4,58.0 117.5,57.3 117.6,56.8 117.7,56.3 117.8,55.9 117.9,55.6 118.0,55.4 118.1,55.4 118.2,55.4 118.3,55.5 118.4,55.8 118.5,56.1 118.6,56.6 118.7,57.1 118.8,57.8 118.9,58.5 119.0,59.4 119.1,60.3 119.2,61.3 119.3,62.4 119.4,63.5 119.5,64.8 119.6,66.0 119.7,67.4 119.8,68.7 119.9,70.2 120.0,71.6 120.1,73.1 120.2,74.6 120.3,76.1 120.4,77.7 120.5,79.2 120.6,80.7 120.7,82.2 120.8,83.6 120.9,85.1 121.0,86.5 121.1,87.8 121.2,89.1 121.3,90.3 121.4,91.5 121.5,92.6 121.6,93.6 121.7,94.6 121.8,95.4 121.9,96.2 122.0,96.9 122.1,97.5 122.2,98.0 122.3,98.3 122.4,98.6 122.5,98.8 122.6,98.8 122.7,98.8 122.8,98.6 122.9,98.4 123.0,98.0 123.1,97.6 123.2,97.0 123.3,96.4 123.4,95.6 123.5,94.8 123.6,93.8 123.7,92.8 123.8,91.7 123.9,90.6 124.0,89.4 124.1,88.1 124.2,86.7 124.3,85.3 124.3,83.9 124.4,82.5 124.5,81.0 124.6,79.5 124.7,78.0 124.8,76.4 124.9,74.9 125.0,73.4 125.1,71.9 125.2,70.5 125.3,69.0 125.4,67.6 125.5,66.3 125.6,65.0 125.7,63.8 125.8,62.6 125.9,61.5 126.0,60.5 126.1,59.5 126.2,58.7 126.3,57.9 126.4,57.3 126.5,56.7 126.6,56.2 126.7,55.8 126.8,55.6 126.9,55.4 127.0,55.4 127.1,55.4 127.2,55.6 127.3,55.8 127.4,56.2 127.5,56.6 127.6,57.2 127.7,57.9 127.8,58.6 127.9,59.5 128.0,60.4 128.1,61.4 128.2,62.5 128.3,63.7 128.4,64.9 128.5,66.2 128.6,67.6 128.7,68.9 128.8,70.4 128.9,71.8 129.0,73.3 129.1,74.8 129.2,76.3 129.3,77.9 129.4,79.4 129.5,80.9 129.6,82.4 129.7,83.8 129.8,85.3 129.9,86.6 130.0,88.0 130.1,89.3 130.2,90.5 130.3,91.7 130.4,92.8 130.5,93.8 130.6,94.7 130.7,95.6 130.8,96.3 130.9,97.0 131.0,97.5 131.1,98.0 131.2,98.4 131.3,98.6 131.4,98.8 131.5,98.8 131.6,98.8 131.7,98.6 131.8,98.3 131.9,98.0 132.0,97.5 132.1,96.9 132.2,96.3 132.3,95.5 132.4,94.6 132.5,93.7 132.6,92.7 132.7,91.6 132.8,90.4 132.9,89.2 133.0,87.9 133.1,86.5 133.2,85.1 133.3,83.7 133.4,82.3 133.5,80.8 133.6,79.3 133.7,77.7 133.8,76.2 133.9,74.7 134.0,73.2 134.1,71.7 134.2,70.3 134.3,68.8 134.4,67.4 134.5,66.1 134.6,64.8 134.7,63.6 134.8,62.4 134.9,61.4 135.0,60.3 135.1,59.4 135.2,58.6 135.3,57.8 135.4,57.2 135.5,56.6 135.6,56.1 135.7,55.8 135.8,55.5 135.9,55.4 136.0,55.4 136.1,55.4 136.2,55.6 136.3,55.9 136.4,56.2 136.5,56.7 136.6,57.3 136.7,58.0 136.8,58.8 136.9,59.6 137.0,60.6 137.1,61.6 137.2,62.7 137.3,63.9 137.4,65.1 137.5,66.4 137.6,67.7 137.7,69.1 137.8,70.6 137.9,72.0 138.0,73.5 138.1,75.0 138.2,76.6 138.3,78.1 138.4,79.6 138.5,81.1 138.6,82.6 138.7,84.0 138.8,85.5 138.9,86.8 139.0,88.2 139.1,89.4 139.2,90.7 139.3,91.8 139.4,92.9 139.5,93.9 139.6,94.8 139.7,95.7 139.8,96.4 139.9,97.1 140.0,97.6 140.1,98.1 140.2,98.4 140.3,98.7 140.4,98.8 140.5,98.8 140.6,98.8 140.7,98.6 140.8,98.3 140.9,97.9 141.0,97.4 141.1,96.8 141.2,96.2 141.3,95.4 141.4,94.5 141.5,93.6 141.6,92.5 141.7,91.4 141.8,90.2 141.9,89.0 142.0,87.7 142.1,86.3 142.2,85.0 142.3,83.5 142.4,82.0 142.5,80.6 142.6,79.0 142.7,77.5 142.8,76.0 142.9,74.5 143.0,73.0 143.1,71.5 143.2,70.1 143.3,68.6 143.4,67.3 143.5,65.9 143.6,64.7 143.7,63.4 143.8,62.3 143.9,61.2 144.0,60.2 144.0,59.3 144.1,58.5 144.2,57.7 144.3,57.1 144.4,56.5 144.5,56.1 144.6,55.8 144.7,55.5 144.8,55.4 144.9,55.4 145.0,55.4 145.1,55.6 145.2,55.9 145.3,56.3 145.4,56.8 145.5,57.4 145.6,58.1 145.7,58.9 145.8,59.7 145.9,60.7 146.0,61.7 146.1,62.8 146.2,64.0 146.3,65.3 146.4,66.6 146.5,67.9 146.6,69.3 146.7,70.8 146.8,72.2 146.9,73.7 147.0,75.2 147.1,76.8 147.2,78.3 147.3,79.8 147.4,81.3 147.5,82.8 147.6,84.2 147.7,85.6 147.8,87.0 147.9,88.3 148.0,89.6 148.1,90.8 148.2,92.0 148.3,93.0 148.4,94.0 148.5,95.0 148.6,95.8 148.7,96.5 148.8,97.1 148.9,97.7 149.0,98.1 149.1,98.5 149.2,98.7 149.3,98.8 149.4,98.8 149.5,98.7 149.6,98.6 149.7,98.3 149.8,97.9 149.9,97.4 150.0,96.8 150.1,96.1 150.2,95.3 150.3,94.4 150.4,93.4 150.5,92.4 150.6,91.3 150.7,90.1 150.8,88.8 150.9,87.5 151.0,86.2 151.1,84.8 151.2,83.3 151.3,81.8 151.4,80.3 151.5,78.8 151.6,77.3 151.7,75.8 151.8,74.3 151.9,72.8 152.0,71.3 152.1,69.9 152.2,68.4 152.3,67.1 152.4,65.7 152.5,64.5 152.6,63.3 152.7,62.1 152.8,61.1 152.9,60.1 153.0,59.2 153.1,58.4 153.2,57.6 153.3,57.0 153.4,56.5 153.5,56.0 153.6,55.7 153.7,55.5 153.8,55.4 153.9,55.4 154.0,55.5 154.1,55.7 154.2,56.0 154.3,56.4 154.4,56.9 154.5,57.5 154.6,58.2 154.7,59.0 154.8,59.9 154.9,60.8 155.0,61.9 155.1,63.0 155.2,64.2 155.3,65.5 155.4,66.8 155.5,68.1 155.6,69.5 155.7,71.0 155.8,72.4 155.9,73.9 156.0,75.5 156.1,77.0 156.2,78.5 156.3,80.0 156.4,81.5 156.5,83.0 156.6,84.4 156.7,85.8 156.8,87.2 156.9,88.5 157.0,89.8 157.1,91.0 157.2,92.1 157.3,93.2 157.4,94.2 157.5,95.1 157.6,95.9 157.7,96.6 157.8,97.2 157.9,97.7 158.0,98.2 158.1,98.5 158.2,98.7 158.3,98.8 158.4,98.8 158.5,98.7 158.6,98.5 158.7,98.2 158.8,97.8 158.9,97.3 159.0,96.7 159.1,95.9 159.2,95.1 159.3,94.3 159.4,93.3 159.5,92.2 159.6,91.1 159.7,89.9 159.8,88.6 159.9,87.3 160.0,86.0 160.1,84.6 160.2,83.1 160.3,81.6 160.4,80.1 160.5,78.6 160.6,77.1 160.7,75.6 160.8,74.1 160.9,72.6 161.0,71.1 161.1,69.7 161.2,68.3 161.3,66.9 161.4,65.6 161.5,64.3 161.6,63.1 161.7,62.0 161.8,60.9 161.9,60.0 162.0,59.1 162.1,58.3 162.2,57.5 162.3,56.9 162.4,56.4 162.5,56.0 162.6,55.7 162.7,55.5 162.8,55.4 162.9,55.4 163.0,55.5 163.1,55.7 163.2,56.0 163.3,56.4 163.4,57.0 163.5,57.6 163.6,58.3 163.7,59.1 163.7,60.0 163.8,61.0 163.9,62.0 164.0,63.2 164.1,64.4 164.2,65.6 164.3,67.0 164.4,68.3 164.5,69.7 164.6,71.2 164.7,72.7 164.8,74.2 164.9,75.7 165.0,77.2 165.1,78.7 165.2,80.2 165.3,81.7 165.4,83.2 165.5,84.6 165.6,86.0 165.7,87.4 165.8,88.7 165.9,90.0 166.0,91.2 166.1,92.3 166.2,93.3 166.3,94.3 166.4,95.2 166.5,96.0 166.6,96.7 166.7,97.3 166.8,97.8 166.9,98.2 167.0,98.5 167.1,98.7 167.2,98.8 167.3,98.8 167.4,98.7 167.5,98.5 167.6,98.2 167.7,97.7 167.8,97.2 167.9,96.6 168.0,95.8 168.1,95.0 168.2,94.1 168.3,93.1 168.4,92.1 168.5,90.9 168.6,89.7 168.7,88.5 168.8,87.1 168.9,85.8 169.0,84.4 169.1,82.9 169.2,81.4 169.3,79.9 169.4,78.4 169.5,76.9 169.6,75.4 169.7,73.9 169.8,72.4 169.9,70.9 170.0,69.5 170.1,68.1 170.2,66.7 170.3,65.4 170.4,64.1 170.5,63.0 170.6,61.8 170.7,60.8 170.8,59.8 170.9,58.9 171.0,58.1 171.1,57.4 171.2,56.8 171.3,56.3 171.4,55.9 171.5,55.6 171.6,55.4 171.7,55.4 171.8,55.4 171.9,55.5 172.0,55.7 172.1,56.1 172.2,56.5 172.3,57.0 172.4,57.7 172.5,58.4 172.6,59.2 172.7,60.1 172.8,61.1 172.9,62.2 173.0,63.3 173.1,64.5 173.2,65.8 173.3,67.1 173.4,68.5 173.5,69.9 173.6,71.4 173.7,72.9 173.8,74.4 173.9,75.9 174.0,77.4 174.1,78.9 174.2,80.4 174.3,81.9 174.4,83.4 174.5,84.8 174.6,86.2 174.7,87.6 174.8,88.9 174.9,90.1 175.0,91.3 175.1,92.4 175.2,93.5 175.3,94.4 175.4,95.3 175.5,96.1 175.6,96.8 175.7,97.4 175.8,97.9 175.9,98.3 176.0,98.6 176.1,98.8 176.2,98.8 176.3,98.8 176.4,98.7 176.5,98.4 176.6,98.1 176.7,97.7 176.8,97.1 176.9,96.5 177.0,95.7 177.1,94.9 177.2,94.0 177.3,93.0 177.4,91.9 177.5,90.8 177.6,89.6 177.7,88.3 177.8,87.0 177.9,85.6 178.0,84.2 178.1,82.7 178.2,81.2 178.3,79.7 178.4,78.2 178.5,76.7 178.6,75.2 178.7,73.7 178.8,72.2 178.9,70.7 179.0,69.3 179.1,67.9 179.2,66.5 179.3,65.2 179.4,64.0 179.5,62.8 179.6,61.7 179.7,60.6 179.8,59.7 179.9,58.8 180.0,58.0 180.1,57.4 180.2,56.8 180.3,56.3 180.4,55.9 180.5,55.6 180.6,55.4 180.7,55.4 180.8,55.4 180.9,55.5 181.0,55.8 181.1,56.1 181.2,56.6 181.3,57.1 181.4,57.8 181.5,58.5 181.6,59.3 181.7,60.3 181.8,61.3 181.9,62.3 182.0,63.5 182.1,64.7 182.2,66.0 182.3,67.3 182.4,68.7 182.5,70.1 182.6,71.6 182.7,73.1 182.8,74.6 182.9,76.1 183.0,77.6 183.1,79.1 183.2,80.6 183.3,82.1 183.3,83.6 183.4,85.0 183.5,86.4 183.6,87.8 183.7,89.1 183.8,90.3 183.9,91.5 184.0,92.6 184.1,93.6 184.2,94.6 184.3,95.4 184.4,96.2 184.5,96.9 184.6,97.5 184.7,97.9 184.8,98.3 184.9,98.6 185.0,98.8 185.1,98.8 185.2,98.8 185.3,98.7 185.4,98.4 185.5,98.0 185.6,97.6 185.7,97.0 185.8,96.4 185.9,95.6 186.0,94.8 186.1,93.9 186.2,92.9 186.3,91.8 186.4,90.6 186.5,89.4 186.6,88.1 186.7,86.8 186.8,85.4 186.9,84.0 187.0,82.5 187.1,81.0 187.2,79.5 187.3,78.0 187.4,76.5 187.5,75.0 187.6,73.5 187.7,72.0 187.8,70.5 187.9,69.1 188.0,67.7 188.1,66.3 188.2,65.0 188.3,63.8 188.4,62.6 188.5,61.5 188.6,60.5 188.7,59.6 188.8,58.7 188.9,57.9 189.0,57.3 189.1,56.7 189.2,56.2 189.3,55.8 189.4,55.6 189.5,55.4 189.6,55.4 189.7,55.4 189.8,55.5 189.9,55.8 190.0,56.2 190.1,56.6 190.2,57.2 190.3,57.9 190.4,58.6 190.5,59.5 190.6,60.4 190.7,61.4 190.8,62.5 190.9,63.7 191.0,64.9 191.1,66.2 191.2,67.5 191.3,68.9 191.4,70.3 191.5,71.8 191.6,73.3 191.7,74.8 191.8,76.3 191.9,77.8 192.0,79.3 192.1,80.8 192.2,82.3 192.3,83.8 192.4,85.2 192.5,86.6 192.6,87.9 192.7,89.2 192.8,90.5 192.9,91.6 193.0,92.7 193.1,93.7 193.2,94.7 193.3,95.5 193.4,96.3 193.5,97.0 193.6,97.5 193.7,98.0 193.8,98.4 193.9,98.6 194.0,98.8 194.1,98.8 194.2,98.8 194.3,98.6 194.4,98.4 194.5,98.0 194.6,97.5 194.7,96.9 194.8,96.3 194.9,95.5 195.0,94.7 195.1,93.7 195.2,92.7 195.3,91.6 195.4,90.4 195.5,89.2 195.6,87.9 195.7,86.6 195.8,85.2 195.9,83.8 196.0,82.3 196.1,80.8 196.2,79.3 196.3,77.8 196.4,76.3 196.5,74.8 196.6,73.2 196.7,71.8 196.8,70.3 196.9,68.9 197.0,67.5 197.1,66.1 197.2,64.9 197.3,63.6 197.4,62.5 197.5,61.4 197.6,60.4 197.7,59.4 197.8,58.6 197.9,57.8 198.0,57.2 198.1,56.6 198.2,56.2 198.3,55.8 198.4,55.5 198.5,55.4 198.6,55.4 198.7,55.4 198.8,55.6 198.9,55.9 199.0,56.2 199.1,56.7 199.2,57.3 199.3,58.0 199.4,58.7 199.5,59.6 199.6,60.5 199.7,61.6 199.8,62.7 199.9,63.8 200.0,65.1 200.1,66.4 200.2,67.7 200.3,69.1 200.4,70.5 200.5,72.0 200.6,73.5 200.7,75.0 200.8,76.5 200.9,78.0 201.0,79.5 201.1,81.0 201.2,82.5 201.3,84.0 201.4,85.4 201.5,86.8 201.6,88.1 201.7,89.4 201.8,90.6 201.9,91.8 202.0,92.9 202.1,93.9 202.2,94.8 202.3,95.6 202.4,96.4 202.5,97.0 202.6,97.6 202.7,98.1 202.8,98.4 202.9,98.7 203.0,98.8 203.0,98.8 203.1,98.8 203.2,98.6 203.3,98.3 203.4,97.9 203.5,97.4 203.6,96.9 203.7,96.2 203.8,95.4 203.9,94.5 204.0,93.6 204.1,92.6 204.2,91.5 204.3,90.3 204.4,89.0 204.5,87.7 204.6,86.4 204.7,85.0 204.8,83.6 204.9,82.1 205.0,80.6 205.1,79.1 205.2,77.6 205.3,76.1 205.4,74.5 205.5,73.0 205.6,71.6 205.7,70.1 205.8,68.7 205.9,67.3 206.0,66.0 206.1,64.7 206.2,63.5 206.3,62.3 206.4,61.2 206.5,60.2 206.6,59.3 206.7,58.5 206.8,57.7 206.9,57.1 207.0,56.6 207.1,56.1 207.2,55.8 207.3,55.5 207.4,55.4 207.5,55.4 207.6,55.4 207.7,55.6 207.8,55.9 207.9,56.3 208.0,56.8 208.1,57.4 208.2,58.1 208.3,58.8 208.4,59.7 208.5,60.7 208.6,61.7 208.7,62.8 208.8,64.0 208.9,65.2 209.0,66.5 209.1,67.9 209.2,69.3 209.3,70.7 209.4,72.2 209.5,73.7 209.6,75.2 209.7,76.7 209.8,78.2 209.9,79.8 210.0,81.3 210.1,82.7 210.2,84.2 210.3,85.6 210.4,87.0 210.5,88.3 210.6,89.6 210.7,90.8 210.8,91.9 210.9,93.0 211.0,94.0 211.1,94.9 211.2,95.8 211.3,96.5 211.4,97.1 211.5,97.7 211.6,98.1 211.7,98.4 211.8,98.7 211.9,98.8 212.0,98.8 212.1,98.7 212.2,98.6 212.3,98.3 212.4,97.9 212.5,97.4 212.6,96.8 212.7,96.1 212.8,95.3 212.9,94.4 213.0,93.5 213.1,92.4 213.2,91.3 213.3,90.1 213.4,88.9 213.5,87.6 213.6,86.2 213.7,84.8 213.8,83.4 213.9,81.9 214.0,80.4 214.1,78.9 214.2,77.4 214.3,75.8 214.4,74.3 214.5,72.8 214.6,71.4 214.7,69.9 214.8,68.5 214.9,67.1 215.0,65.8 215.1,64.5 215.2,63.3 215.3,62.2 215.4,61.1 215.5,60.1 215.6,59.2 215.7,58.4 215.8,57.7 215.9,57.0 216.0,56.5 216.1,56.1 216.2,55.7 216.3,55.5 216.4,55.4 216.5,55.4 216.6,55.4 216.7,55.6 216.8,55.9 216.9,56.4 217.0,56.9 217.1,57.5 217.2,58.2 217.3,59.0 217.4,59.8 217.5,60.8 217.6,61.9 217.7,63.0 217.8,64.2 217.9,65.4 218.0,66.7 218.1,68.1 218.2,69.5 218.3,70.9 218.4,72.4 218.5,73.9 218.6,75.4 218.7,76.9 218.8,78.4 218.9,80.0 219.0,81.5 219.1,82.9 219.2,84.4 219.3,85.8 219.4,87.2 219.5,88.5 219.6,89.8 219.7,91.0 219.8,92.1 219.9,93.2 220.0,94.1 220.1,95.0 220.2,95.9 220.3,96.6 220.4,97.2 220.5,97.7 220.6,98.2 220.7,98.5 220.8,98.7 220.9,98.8 221.0,98.8 221.1,98.7 221.2,98.5 221.3,98.2 221.4,97.8 221.5,97.3 221.6,96.7 221.7,96.0 221.8,95.2 221.9,94.3 222.0,93.3 222.1,92.3 222.2,91.1 222.3,89.9 222.4,88.7 222.5,87.4 222.6,86.0 222.7,84.6 222.7,83.2 222.8,81.7 222.9,80.2 223.0,78.7 223.1,77.2 223.2,75.6 223.3,74.1 223.4,72.6 223.5,71.2" fill="none" stroke="#000" stroke-width="1.05" stroke-linejoin="round" opacity="0.22"/>
</g>
<rect x="171.60" y="6.25" width="55.50" height="25.45" rx="1.6" fill="#fff" fill-opacity="0.8" stroke="#cfcfcf" stroke-width="0.9"/>
<g clip-path="url(#c01)">
<polyline points="290.5,55.3 290.6,55.4 290.7,55.6 290.8,56.0 290.9,56.5 291.0,57.1 291.1,57.9 291.2,58.7 291.3,59.7 291.3,60.7 291.4,61.8 291.5,62.9 291.6,64.0 291.7,65.2 291.8,66.3 291.9,67.4 292.0,68.4 292.1,69.4 292.2,70.3 292.3,71.1 292.4,71.7 292.5,72.3 292.6,72.7 292.7,73.0 292.8,73.1 292.9,73.1 293.0,72.9 293.1,72.6 293.2,72.1 293.3,71.6 293.4,70.9 293.5,70.0 293.6,69.1 293.7,68.1 293.8,67.1 293.9,66.0 294.0,64.9 294.1,63.7 294.2,62.6 294.3,61.5 294.4,60.4 294.5,59.4 294.6,58.5 294.7,57.7 294.8,57.0 294.9,56.4 295.0,55.9 295.1,55.6 295.2,55.4 295.3,55.4 295.4,55.5 295.5,55.7 295.6,56.1 295.7,56.7 295.8,57.3 295.9,58.1 296.0,59.0 296.1,59.9 296.2,61.0 296.3,62.1 296.4,63.2 296.5,64.3 296.6,65.5 296.7,66.6 296.8,67.7 296.9,68.7 297.0,69.6 297.1,70.5 297.2,71.2 297.3,71.9 297.4,72.4 297.5,72.8 297.6,73.0 297.7,73.1 297.8,73.0 297.9,72.8 298.0,72.5 298.1,72.0 298.2,71.4 298.3,70.7 298.4,69.8 298.5,68.9 298.6,67.9 298.7,66.8 298.8,65.7 298.9,64.6 299.0,63.4 299.1,62.3 299.2,61.2 299.3,60.1 299.4,59.2 299.5,58.3 299.6,57.5 299.7,56.8 299.8,56.2 299.9,55.8 300.0,55.5 300.1,55.4 300.2,55.4 300.3,55.5 300.4,55.8 300.5,56.3 300.6,56.8 300.7,57.5 300.8,58.3 300.9,59.2 301.0,60.2 301.1,61.2 301.2,62.3 301.3,63.5 301.4,64.6 301.5,65.8 301.6,66.9 301.7,67.9 301.8,68.9 301.9,69.9 302.0,70.7 302.1,71.4 302.2,72.0 302.3,72.5 302.4,72.9 302.5,73.0 302.6,73.1 302.7,73.0 302.8,72.8 302.9,72.4 303.0,71.9 303.1,71.2 303.2,70.4 303.3,69.6 303.4,68.6 303.5,67.6 303.6,66.5 303.7,65.4 303.8,64.2 303.9,63.1 304.0,62.0 304.1,60.9 304.2,59.9 304.3,58.9 304.4,58.0 304.5,57.3 304.6,56.6 304.7,56.1 304.8,55.7 304.9,55.5 305.0,55.4 305.1,55.4 305.2,55.6 305.3,55.9 305.4,56.4 305.5,57.0 305.6,57.7 305.7,58.5 305.8,59.5 305.9,60.5 306.0,61.5 306.1,62.6 306.2,63.8 306.3,64.9 306.4,66.1 306.5,67.2 306.6,68.2 306.7,69.2 306.8,70.1 306.9,70.9 307.0,71.6 307.1,72.2 307.2,72.6 307.3,72.9 307.4,73.1 307.5,73.1 307.6,72.9 307.7,72.7 307.8,72.2 307.9,71.7 308.0,71.0 308.1,70.2 308.2,69.3 308.3,68.4 308.4,67.3 308.5,66.2 308.6,65.1 308.7,63.9 308.8,62.8 308.9,61.7 309.0,60.6 309.1,59.6 309.2,58.7 309.3,57.8 309.4,57.1 309.5,56.5 309.6,56.0 309.7,55.6 309.8,55.4 309.9,55.4 310.0,55.4 310.1,55.7 310.2,56.0 310.3,56.5 310.4,57.2 310.5,57.9 310.6,58.8 310.7,59.7 310.8,60.8 310.9,61.8 311.0,62.9 311.0,64.1 311.1,65.2 311.2,66.4 311.3,67.4 311.4,68.5 311.5,69.4 311.6,70.3 311.7,71.1 311.8,71.8 311.9,72.3 312.0,72.7 312.1,73.0 312.2,73.1 312.3,73.1 312.4,72.9 312.5,72.6 312.6,72.1 312.7,71.5 312.8,70.8 312.9,70.0 313.0,69.1 313.1,68.1 313.2,67.0 313.3,65.9 313.4,64.8 313.5,63.6 313.6,62.5 313.7,61.4 313.8,60.3 313.9,59.3 314.0,58.4 314.1,57.6 314.2,56.9 314.3,56.3 314.4,55.9 314.5,55.6 314.6,55.4 314.7,55.4 314.8,55.5 314.9,55.7 315.0,56.2 315.1,56.7 315.2,57.4 315.3,58.1 315.4,59.0 315.5,60.0 315.6,61.0 315.7,62.1 315.8,63.2 315.9,64.4 316.0,65.5 316.1,66.6 316.2,67.7 316.3,68.7 316.4,69.7 316.5,70.5 316.6,71.3 316.7,71.9 316.8,72.4 316.9,72.8 317.0,73.0 317.1,73.1 317.2,73.0 317.3,72.8 317.4,72.5 317.5,72.0 317.6,71.3 317.7,70.6 317.8,69.8 317.9,68.8 318.0,67.8 318.1,66.7 318.2,65.6 318.3,64.5 318.4,63.3 318.5,62.2 318.6,61.1 318.7,60.1 318.8,59.1 318.9,58.2 319.0,57.4 319.1,56.7 319.2,56.2 319.3,55.8 319.4,55.5 319.5,55.4 319.6,55.4 319.7,55.5 319.8,55.8 319.9,56.3 320.0,56.9 320.1,57.6 320.2,58.4 320.3,59.3 320.4,60.3 320.5,61.3 320.6,62.4 320.7,63.6 320.8,64.7 320.9,65.8 321.0,66.9 321.1,68.0 321.2,69.0 321.3,69.9 321.4,70.8 321.5,71.5 321.6,72.1 321.7,72.5 321.8,72.9 321.9,73.1 322.0,73.1 322.1,73.0 322.2,72.7 322.3,72.3 322.4,71.8 322.5,71.2 322.6,70.4 322.7,69.5 322.8,68.6 322.9,67.5 323.0,66.4 323.1,65.3 323.2,64.2 323.3,63.0 323.4,61.9 323.5,60.8 323.6,59.8 323.7,58.9 323.8,58.0 323.9,57.2 324.0,56.6 324.1,56.1 324.2,55.7 324.3,55.4 324.4,55.4 324.5,55.4 324.6,55.6 324.7,55.9 324.8,56.4 324.9,57.0 325.0,57.8 325.1,58.6 325.2,59.5 325.3,60.5 325.4,61.6 325.5,62.7 325.6,63.9 325.7,65.0 325.8,66.1 325.9,67.2 326.0,68.3 326.1,69.3 326.2,70.2 326.3,71.0 326.4,71.6 326.5,72.2 326.6,72.6 326.7,72.9 326.8,73.1 326.9,73.1 327.0,72.9 327.1,72.6 327.2,72.2 327.3,71.7 327.4,71.0 327.5,70.2 327.6,69.3 327.7,68.3 327.8,67.2 327.9,66.1 328.0,65.0 328.1,63.9 328.2,62.7 328.3,61.6 328.4,60.6 328.5,59.5 328.6,58.6 328.7,57.8 328.8,57.0 328.9,56.4 329.0,56.0 329.1,55.6 329.2,55.4 329.3,55.4 329.4,55.4 329.5,55.7 329.6,56.1 329.7,56.6 329.8,57.2 329.9,58.0 330.0,58.8 330.1,59.8 330.2,60.8 330.3,61.9 330.4,63.0 330.5,64.2 330.6,65.3 330.7,66.4 330.7,67.5 330.8,68.5 330.9,69.5 331.0,70.4 331.1,71.2 331.2,71.8 331.3,72.3 331.4,72.7 331.5,73.0 331.6,73.1 331.7,73.1 331.8,72.9 331.9,72.5 332.0,72.1 332.1,71.5 332.2,70.8 332.3,69.9 332.4,69.0 332.5,68.0 332.6,67.0 332.7,65.8 332.8,64.7 332.9,63.6 333.0,62.4 333.1,61.3 333.2,60.3 333.3,59.3 333.4,58.4 333.5,57.6 333.6,56.9 333.7,56.3 333.8,55.8 333.9,55.5 334.0,55.4 334.1,55.4 334.2,55.5 334.3,55.8 334.4,56.2 334.5,56.7 334.6,57.4 334.7,58.2 334.8,59.1 334.9,60.1 335.0,61.1 335.1,62.2 335.2,63.3 335.3,64.5 335.4,65.6 335.5,66.7 335.6,67.8 335.7,68.8 335.8,69.7 335.9,70.6 336.0,71.3 336.1,72.0 336.2,72.5 336.3,72.8 336.4,73.0 336.5,73.1 336.6,73.0 336.7,72.8 336.8,72.4 336.9,71.9 337.0,71.3 337.1,70.6 337.2,69.7 337.3,68.8 337.4,67.7 337.5,66.7 337.6,65.5 337.7,64.4 337.8,63.3 337.9,62.1 338.0,61.0 338.1,60.0 338.2,59.0 338.3,58.2 338.4,57.4 338.5,56.7 338.6,56.2 338.7,55.8 338.8,55.5 338.9,55.4 339.0,55.4 339.1,55.6 339.2,55.9 339.3,56.3 339.4,56.9 339.5,57.6 339.6,58.4 339.7,59.3 339.8,60.3 339.9,61.4 340.0,62.5 340.1,63.6 340.2,64.8 340.3,65.9 340.4,67.0 340.5,68.1 340.6,69.1 340.7,70.0 340.8,70.8 340.9,71.5 341.0,72.1 341.1,72.6 341.2,72.9 341.3,73.1 341.4,73.1 341.5,73.0 341.6,72.7 341.7,72.3 341.8,71.8 341.9,71.1 342.0,70.3 342.1,69.5 342.2,68.5 342.3,67.5 342.4,66.4 342.5,65.2 342.6,64.1 342.7,63.0 342.8,61.8 342.9,60.8 343.0,59.7 343.1,58.8 343.2,57.9 343.3,57.2 343.4,56.5 343.5,56.0 343.6,55.7 343.7,55.4 343.8,55.4 343.9,55.4 344.0,55.6 344.1,56.0 344.2,56.5 344.3,57.1 344.4,57.8 344.5,58.7 344.6,59.6 344.7,60.6 344.8,61.7 344.9,62.8 345.0,63.9 345.1,65.1 345.2,66.2 345.3,67.3 345.4,68.3 345.5,69.3 345.6,70.2 345.7,71.0 345.8,71.7 345.9,72.2 346.0,72.7 346.1,72.9 346.2,73.1 346.3,73.1 346.4,72.9 346.5,72.6 346.6,72.2 346.7,71.6 346.8,70.9 346.9,70.1 347.0,69.2 347.1,68.2 347.2,67.2 347.3,66.1 347.4,64.9 347.5,63.8 347.6,62.7 347.7,61.6 347.8,60.5 347.9,59.5 348.0,58.6 348.1,57.7 348.2,57.0 348.3,56.4 348.4,55.9 348.5,55.6 348.6,55.4 348.7,55.4 348.8,55.5 348.9,55.7 349.0,56.1 349.1,56.6 349.2,57.3 349.3,58.0 349.4,58.9 349.5,59.9 349.6,60.9 349.7,62.0 349.8,63.1 349.9,64.2 350.0,65.4 350.1,66.5 350.2,67.6 350.3,68.6 350.3,69.6 350.4,70.4 350.5,71.2 350.6,71.8 350.7,72.4 350.8,72.8 350.9,73.0 351.0,73.1 351.1,73.1 351.2,72.9 351.3,72.5 351.4,72.0 351.5,71.4 351.6,70.7 351.7,69.9 351.8,69.0 351.9,68.0 352.0,66.9 352.1,65.8 352.2,64.6 352.3,63.5 352.4,62.4 352.5,61.3 352.6,60.2 352.7,59.2 352.8,58.3 352.9,57.5 353.0,56.8 353.1,56.3 353.2,55.8 353.3,55.5 353.4,55.4 353.5,55.4 353.6,55.5 353.7,55.8 353.8,56.2 353.9,56.8 354.0,57.5 354.1,58.3 354.2,59.1 354.3,60.1 354.4,61.2 354.5,62.3 354.6,63.4 354.7,64.5 354.8,65.7 354.9,66.8 355.0,67.9 355.1,68.9 355.2,69.8 355.3,70.6 355.4,71.4 355.5,72.0 355.6,72.5 355.7,72.8 355.8,73.0 355.9,73.1 356.0,73.0 356.1,72.8 356.2,72.4 356.3,71.9 356.4,71.3 356.5,70.5 356.6,69.6 356.7,68.7 356.8,67.7 356.9,66.6 357.0,65.5 357.1,64.3 357.2,63.2 357.3,62.1 357.4,61.0 357.5,59.9 357.6,59.0 357.7,58.1 357.8,57.3 357.9,56.7 358.0,56.1 358.1,55.7 358.2,55.5 358.3,55.4 358.4,55.4 358.5,55.6 358.6,55.9 358.7,56.4 358.8,56.9 358.9,57.7 359.0,58.5 359.1,59.4 359.2,60.4 359.3,61.5 359.4,62.6 359.5,63.7 359.6,64.8 359.7,66.0 359.8,67.1 359.9,68.1 360.0,69.1 360.1,70.0 360.2,70.9 360.3,71.6 360.4,72.1 360.5,72.6 360.6,72.9 360.7,73.1 360.8,73.1 360.9,73.0 361.0,72.7 361.1,72.3 361.2,71.7 361.3,71.1 361.4,70.3 361.5,69.4 361.6,68.4 361.7,67.4 361.8,66.3 361.9,65.2 362.0,64.0 362.1,62.9 362.2,61.8 362.3,60.7 362.4,59.7 362.5,58.7 362.6,57.9 362.7,57.1 362.8,56.5 362.9,56.0 363.0,55.6 363.1,55.4 363.2,55.4 363.3,55.4 363.4,55.6 363.5,56.0 363.6,56.5 363.7,57.1 363.8,57.9 363.9,58.7 364.0,59.7 364.1,60.7 364.2,61.7 364.3,62.9 364.4,64.0 364.5,65.1 364.6,66.3 364.7,67.4 364.8,68.4 364.9,69.4 365.0,70.3 365.1,71.0 365.2,71.7 365.3,72.3 365.4,72.7 365.5,73.0 365.6,73.1 365.7,73.1 365.8,72.9 365.9,72.6 366.0,72.2 366.1,71.6 366.2,70.9 366.3,70.1 366.4,69.2 366.5,68.2 366.6,67.1 366.7,66.0 366.8,64.9 366.9,63.7 367.0,62.6 367.1,61.5 367.2,60.4 367.3,59.4 367.4,58.5 367.5,57.7 367.6,57.0 367.7,56.4 367.8,55.9 367.9,55.6 368.0,55.4 368.1,55.4 368.2,55.5 368.3,55.7 368.4,56.1 368.5,56.7 368.6,57.3 368.7,58.1 368.8,59.0 368.9,59.9 369.0,61.0 369.1,62.0 369.2,63.2 369.3,64.3 369.4,65.4 369.5,66.6 369.6,67.6 369.7,68.7 369.8,69.6 369.9,70.5 370.0,71.2 370.0,71.9 370.1,72.4 370.2,72.8 370.3,73.0 370.4,73.1 370.5,73.0 370.6,72.8 370.7,72.5 370.8,72.0 370.9,71.4 371.0,70.7 371.1,69.8 371.2,68.9 371.3,67.9 371.4,66.8 371.5,65.7 371.6,64.6 371.7,63.4 371.8,62.3 371.9,61.2 372.0,60.1 372.1,59.2 372.2,58.3 372.3,57.5 372.4,56.8 372.5,56.2 372.6,55.8 372.7,55.5 372.8,55.4 372.9,55.4 373.0,55.5 373.1,55.8 373.2,56.2 373.3,56.8 373.4,57.5 373.5,58.3 373.6,59.2 373.7,60.2 373.8,61.2 373.9,62.3 374.0,63.5 374.1,64.6 374.2,65.7 374.3,66.9 374.4,67.9 374.5,68.9 374.6,69.9 374.7,70.7 374.8,71.4 374.9,72.0 375.0,72.5 375.1,72.8 375.2,73.0 375.3,73.1 375.4,73.0 375.5,72.8 375.6,72.4 375.7,71.9 375.8,71.2 375.9,70.5 376.0,69.6 376.1,68.6 376.2,67.6 376.3,66.5 376.4,65.4 376.5,64.3 376.6,63.1 376.7,62.0 376.8,60.9 376.9,59.9 377.0,58.9 377.1,58.1 377.2,57.3 377.3,56.6 377.4,56.1 377.5,55.7 377.6,55.5 377.7,55.4 377.8,55.4 377.9,55.6 378.0,55.9 378.1,56.4 378.2,57.0 378.3,57.7 378.4,58.5 378.5,59.5 378.6,60.5 378.7,61.5 378.8,62.6 378.9,63.8 379.0,64.9 379.1,66.0 379.2,67.1 379.3,68.2 379.4,69.2 379.5,70.1 379.6,70.9 379.7,71.6 379.8,72.2 379.9,72.6 380.0,72.9 380.1,73.1 380.2,73.1 380.3,73.0 380.4,72.7 380.5,72.3 380.6,71.7 380.7,71.0 380.8,70.2 380.9,69.3 381.0,68.4 381.1,67.3 381.2,66.2 381.3,65.1 381.4,64.0 381.5,62.8 381.6,61.7 381.7,60.6 381.8,59.6 381.9,58.7 382.0,57.8 382.1,57.1 382.2,56.5 382.3,56.0 382.4,55.6 382.5,55.4 382.6,55.4 382.7,55.4 382.8,55.7 382.9,56.0 383.0,56.5 383.1,57.2 383.2,57.9 383.3,58.8 383.4,59.7 383.5,60.7 383.6,61.8 383.7,62.9 383.8,64.1 383.9,65.2 384.0,66.3 384.1,67.4 384.2,68.5 384.3,69.4 384.4,70.3 384.5,71.1 384.6,71.8 384.7,72.3 384.8,72.7 384.9,73.0 385.0,73.1 385.1,73.1 385.2,72.9 385.3,72.6 385.4,72.1 385.5,71.5 385.6,70.8 385.7,70.0 385.8,69.1 385.9,68.1 386.0,67.0 386.1,65.9 386.2,64.8 386.3,63.7 386.4,62.5 386.5,61.4 386.6,60.4 386.7,59.4 386.8,58.4 386.9,57.6 387.0,56.9 387.1,56.3 387.2,55.9 387.3,55.6 387.4,55.4 387.5,55.4 387.6,55.5 387.7,55.7 387.8,56.1 387.9,56.7 388.0,57.4 388.1,58.1 388.2,59.0 388.3,60.0 388.4,61.0 388.5,62.1 388.6,63.2 388.7,64.4 388.8,65.5 388.9,66.6 389.0,67.7 389.1,68.7 389.2,69.7 389.3,70.5 389.4,71.3 389.5,71.9 389.6,72.4 389.7,72.8 389.7,73.0 389.8,73.1 389.9,73.0 390.0,72.8 390.1,72.5 390.2,72.0 390.3,71.4 390.4,70.6 390.5,69.8 390.6,68.8 390.7,67.8 390.8,66.7 390.9,65.6 391.0,64.5 391.1,63.4 391.2,62.2 391.3,61.1 391.4,60.1 391.5,59.1 391.6,58.2 391.7,57.4 391.8,56.8 391.9,56.2 392.0,55.8 392.1,55.5 392.2,55.4 392.3,55.4 392.4,55.5 392.5,55.8 392.6,56.3 392.7,56.9 392.8,57.6 392.9,58.4 393.0,59.3 393.1,60.3 393.2,61.3 393.3,62.4 393.4,63.5 393.5,64.7 393.6,65.8 393.7,66.9 393.8,68.0 393.9,69.0 394.0,69.9 394.1,70.7 394.2,71.5 394.3,72.1 394.4,72.5 394.5,72.9 394.6,73.1 394.7,73.1 394.8,73.0 394.9,72.7 395.0,72.3 395.1,71.8 395.2,71.2 395.3,70.4 395.4,69.5 395.5,68.6 395.6,67.5 395.7,66.5 395.8,65.3 395.9,64.2 396.0,63.0 396.1,61.9 396.2,60.8 396.3,59.8 396.4,58.9 396.5,58.0 396.6,57.2 396.7,56.6 396.8,56.1 396.9,55.7 397.0,55.4 397.1,55.4 397.2,55.4 397.3,55.6 397.4,55.9 397.5,56.4 397.6,57.0 397.7,57.8 397.8,58.6 397.9,59.5 398.0,60.5 398.1,61.6 398.2,62.7 398.3,63.8 398.4,65.0 398.5,66.1 398.6,67.2 398.7,68.3 398.8,69.2 398.9,70.1 399.0,70.9 399.1,71.6 399.2,72.2 399.3,72.6 399.4,72.9 399.5,73.1 399.6,73.1 399.7,72.9 399.8,72.7 399.9,72.2 400.0,71.7 400.1,71.0 400.2,70.2 400.3,69.3 400.4,68.3 400.5,67.3 400.6,66.2 400.7,65.0 400.8,63.9 400.9,62.7 401.0,61.6 401.1,60.6 401.2,59.6 401.3,58.6 401.4,57.8 401.5,57.1 401.6,56.4 401.7,56.0 401.8,55.6 401.9,55.4 402.0,55.4 402.1,55.4 402.2,55.7 402.3,56.1 402.4,56.6 402.5,57.2 402.6,58.0 402.7,58.8 402.8,59.8 402.9,60.8 403.0,61.9 403.1,63.0 403.2,64.1 403.3,65.3 403.4,66.4 403.5,67.5 403.6,68.5 403.7,69.5 403.8,70.4 403.9,71.1 404.0,71.8 404.1,72.3 404.2,72.7 404.3,73.0 404.4,73.1 404.5,73.1 404.6,72.9 404.7,72.5 404.8,72.1 404.9,71.5 405.0,70.8 405.1,69.9 405.2,69.0 405.3,68.0 405.4,67.0 405.5,65.9 405.6,64.7 405.7,63.6 405.8,62.4 405.9,61.3 406.0,60.3 406.1,59.3 406.2,58.4 406.3,57.6 406.4,56.9 406.5,56.3 406.6,55.9 406.7,55.5 406.8,55.4 406.9,55.4 407.0,55.5 407.1,55.8 407.2,56.2 407.3,56.7 407.4,57.4 407.5,58.2 407.6,59.1 407.7,60.0 407.8,61.1 407.9,62.2 408.0,63.3 408.1,64.4 408.2,65.6 408.3,66.7 408.4,67.8 408.5,68.8 408.6,69.7 408.7,70.6 408.8,71.3 408.9,72.0 409.0,72.4 409.1,72.8 409.2,73.0 409.3,73.1 409.3,73.0 409.4,72.8 409.5,72.4 409.6,71.9 409.7,71.3 409.8,70.6 409.9,69.7 410.0,68.8 410.1,67.8 410.2,66.7 410.3,65.6 410.4,64.4 410.5,63.3 410.6,62.2 410.7,61.1 410.8,60.0 410.9,59.1 411.0,58.2 411.1,57.4 411.2,56.7 411.3,56.2 411.4,55.8 411.5,55.5 411.6,55.4 411.7,55.4 411.8,55.5 411.9,55.9 412.0,56.3 412.1,56.9 412.2,57.6 412.3,58.4 412.4,59.3 412.5,60.3 412.6,61.4 412.7,62.5 412.8,63.6 412.9,64.8 413.0,65.9 413.1,67.0 413.2,68.1 413.3,69.1 413.4,70.0 413.5,70.8 413.6,71.5 413.7,72.1 413.8,72.6 413.9,72.9 414.0,73.1 414.1,73.1 414.2,73.0 414.3,72.7 414.4,72.3 414.5,71.8 414.6,71.1 414.7,70.3 414.8,69.5 414.9,68.5 415.0,67.5 415.1,66.4 415.2,65.3 415.3,64.1 415.4,63.0 415.5,61.9 415.6,60.8 415.7,59.8 415.8,58.8 415.9,57.9 416.0,57.2 416.1,56.6 416.2,56.0 416.3,55.7 416.4,55.4 416.5,55.4 416.6,55.4 416.7,55.6 416.8,56.0 416.9,56.5 417.0,57.1 417.1,57.8 417.2,58.6 417.3,59.6 417.4,60.6 417.5,61.7 417.6,62.8 417.7,63.9 417.8,65.1 417.9,66.2 418.0,67.3 418.1,68.3 418.2,69.3 418.3,70.2 418.4,71.0 418.5,71.7 418.6,72.2 418.7,72.7 418.8,72.9 418.9,73.1 419.0,73.1 419.1,72.9 419.2,72.6 419.3,72.2 419.4,71.6 419.5,70.9 419.6,70.1 419.7,69.2 419.8,68.2 419.9,67.2 420.0,66.1 420.1,65.0 420.2,63.8 420.3,62.7 420.4,61.6 420.5,60.5 420.6,59.5 420.7,58.6 420.8,57.7 420.9,57.0 421.0,56.4 421.1,55.9 421.2,55.6 421.3,55.4 421.4,55.4 421.5,55.5 421.6,55.7 421.7,56.1 421.8,56.6 421.9,57.3 422.0,58.0 422.1,58.9 422.2,59.8 422.3,60.9 422.4,62.0 422.5,63.1 422.6,64.2 422.7,65.4 422.8,66.5 422.9,67.6 423.0,68.6 423.1,69.6 423.2,70.4 423.3,71.2 423.4,71.8 423.5,72.4 423.6,72.7 423.7,73.0 423.8,73.1 423.9,73.1 424.0,72.9 424.1,72.5 424.2,72.1 424.3,71.4 424.4,70.7 424.5,69.9 424.6,69.0 424.7,68.0 424.8,66.9 424.9,65.8 425.0,64.7 425.1,63.5 425.2,62.4 425.3,61.3 425.4,60.2 425.5,59.2 425.6,58.3 425.7,57.5 425.8,56.8 425.9,56.3 426.0,55.8 426.1,55.5 426.2,55.4 426.3,55.4 426.4,55.5 426.5,55.8 426.6,56.2 426.7,56.8 426.8,57.4 426.9,58.2 427.0,59.1 427.1,60.1 427.2,61.2 427.3,62.2 427.4,63.4 427.5,64.5 427.6,65.7 427.7,66.8 427.8,67.8 427.9,68.9 428.0,69.8 428.1,70.6 428.2,71.4 428.3,72.0 428.4,72.5 428.5,72.8 428.6,73.0 428.7,73.1 428.8,73.0 428.9,72.8 429.0,72.4 429.0,71.9 429.1,71.3 429.2,70.5 429.3,69.7 429.4,68.7 429.5,67.7 429.6,66.6 429.7,65.5 429.8,64.3 429.9,63.2 430.0,62.1 430.1,61.0 430.2,60.0 430.3,59.0 430.4,58.1 430.5,57.3 430.6,56.7 430.7,56.1 430.8,55.7 430.9,55.5 431.0,55.4 431.1,55.4 431.2,55.6 431.3,55.9 431.4,56.3 431.5,56.9 431.6,57.6 431.7,58.5 431.8,59.4 431.9,60.4 432.0,61.4 432.1,62.5 432.2,63.7 432.3,64.8 432.4,66.0 432.5,67.1 432.6,68.1 432.7,69.1 432.8,70.0 432.9,70.8 433.0,71.5 433.1,72.1 433.2,72.6 433.3,72.9 433.4,73.1 433.5,73.1 433.6,73.0 433.7,72.7 433.8,72.3 433.9,71.7 434.0,71.1 434.1,70.3 434.2,69.4 434.3,68.4 434.4,67.4 434.5,66.3 434.6,65.2 434.7,64.0 434.8,62.9 434.9,61.8 435.0,60.7 435.1,59.7 435.2,58.7 435.3,57.9 435.4,57.1 435.5,56.5 435.6,56.0 435.7,55.7 435.8,55.4 435.9,55.4 436.0,55.4 436.1,55.6 436.2,56.0 436.3,56.5 436.4,57.1 436.5,57.9 436.6,58.7 436.7,59.6 436.8,60.7 436.9,61.7 437.0,62.8 437.1,64.0 437.2,65.1 437.3,66.3 437.4,67.3 437.5,68.4 437.6,69.4 437.7,70.3 437.8,71.0 437.9,71.7 438.0,72.3 438.1,72.7 438.2,73.0 438.3,73.1 438.4,73.1 438.5,72.9 438.6,72.6 438.7,72.2 438.8,71.6 438.9,70.9 439.0,70.1 439.1,69.2 439.2,68.2 439.3,67.1 439.4,66.0 439.5,64.9 439.6,63.7 439.7,62.6 439.8,61.5 439.9,60.4 440.0,59.4 440.1,58.5 440.2,57.7 440.3,57.0 440.4,56.4 440.5,55.9 440.6,55.6 440.7,55.4 440.8,55.4 440.9,55.5 441.0,55.7 441.1,56.1 441.2,56.6 441.3,57.3 441.4,58.1 441.5,58.9 441.6,59.9 441.7,60.9 441.8,62.0 441.9,63.1 442.0,64.3 442.1,65.4 442.2,66.6 442.3,67.6 442.4,68.7 442.5,69.6 442.6,70.5 442.7,71.2 442.8,71.9 442.9,72.4 443.0,72.8 443.1,73.0 443.2,73.1 443.3,73.0 443.4,72.8 443.5,72.5 443.6,72.0 443.7,71.4 443.8,70.7 443.9,69.8 444.0,68.9 444.1,67.9 444.2,66.8 444.3,65.7 444.4,64.6 444.5,63.4 444.6,62.3 444.7,61.2 444.8,60.2 444.9,59.2 445.0,58.3 445.1,57.5 445.2,56.8 445.3,56.2 445.4,55.8 445.5,55.5 445.6,55.4 445.7,55.4 445.8,55.5 445.9,55.8 446.0,56.2 446.1,56.8 446.2,57.5 446.3,58.3 446.4,59.2 446.5,60.2 446.6,61.2 446.7,62.3 446.8,63.5 446.9,64.6 447.0,65.7 447.1,66.8 447.2,67.9 447.3,68.9 447.4,69.8 447.5,70.7 447.6,71.4 447.7,72.0 447.8,72.5 447.9,72.8 448.0,73.0 448.1,73.1 448.2,73.0 448.3,72.8 448.4,72.4 448.5,71.9 448.6,71.2 448.7,70.5 448.7,69.6 448.8,68.6 448.9,67.6 449.0,66.5 449.1,65.4 449.2,64.3 449.3,63.1 449.4,62.0 449.5,60.9" fill="none" stroke="#000" stroke-width="1.05" stroke-linejoin="round" opacity="1.0"/>
<polyline points="290.5,55.3 290.6,55.6 290.7,56.3 290.8,57.5 290.9,59.2 291.0,61.3 291.1,63.7 291.2,66.6 291.3,69.7 291.3,73.1 291.4,76.6 291.5,80.3 291.6,84.1 291.7,87.9 291.8,91.7 291.9,95.3 292.0,98.7 292.1,102.0 292.2,104.9 292.3,107.5 292.4,109.7 292.5,111.5 292.6,112.9 292.7,113.8 292.8,114.2 292.9,114.2 293.0,113.6 293.1,112.6 293.2,111.1 293.3,109.2 293.4,106.8 293.5,104.1 293.6,101.1 293.7,97.8 293.8,94.3 293.9,90.7 294.0,86.9 294.1,83.1 294.2,79.3 294.3,75.7 294.4,72.1 294.5,68.8 294.6,65.8 294.7,63.0 294.8,60.7 294.9,58.7 295.0,57.2 295.1,56.1 295.2,55.5 295.3,55.4 295.4,55.7 295.5,56.6 295.6,57.9 295.7,59.7 295.8,61.9 295.9,64.5 296.0,67.4 296.1,70.6 296.2,74.0 296.3,77.6 296.4,81.3 296.5,85.1 296.6,88.9 296.7,92.6 296.8,96.2 296.9,99.6 297.0,102.8 297.1,105.6 297.2,108.1 297.3,110.3 297.4,112.0 297.5,113.2 297.6,114.0 297.7,114.3 297.8,114.1 297.9,113.4 298.0,112.2 298.1,110.6 298.2,108.6 298.3,106.2 298.4,103.4 298.5,100.3 298.6,96.9 298.7,93.4 298.8,89.7 298.9,85.9 299.0,82.1 299.1,78.4 299.2,74.7 299.3,71.2 299.4,68.0 299.5,65.0 299.6,62.4 299.7,60.1 299.8,58.2 299.9,56.8 300.0,55.9 300.1,55.4 300.2,55.4 300.3,55.9 300.4,56.9 300.5,58.4 300.6,60.2 300.7,62.5 300.8,65.2 300.9,68.2 301.0,71.4 301.1,74.9 301.2,78.6 301.3,82.3 301.4,86.1 301.5,89.9 301.6,93.6 301.7,97.1 301.8,100.5 301.9,103.6 302.0,106.3 302.1,108.7 302.2,110.8 302.3,112.3 302.4,113.5 302.5,114.1 302.6,114.3 302.7,113.9 302.8,113.1 302.9,111.9 303.0,110.1 303.1,108.0 303.2,105.5 303.3,102.6 303.4,99.4 303.5,96.0 303.6,92.4 303.7,88.7 303.8,84.9 303.9,81.1 304.0,77.4 304.1,73.8 304.2,70.3 304.3,67.2 304.4,64.3 304.5,61.7 304.6,59.6 304.7,57.8 304.8,56.5 304.9,55.7 305.0,55.4 305.1,55.5 305.2,56.1 305.3,57.2 305.4,58.8 305.5,60.8 305.6,63.2 305.7,66.0 305.8,69.0 305.9,72.4 306.0,75.9 306.1,79.6 306.2,83.3 306.3,87.1 306.4,90.9 306.5,94.6 306.6,98.1 306.7,101.3 306.8,104.3 306.9,107.0 307.0,109.3 307.1,111.2 307.2,112.7 307.3,113.7 307.4,114.2 307.5,114.2 307.6,113.8 307.7,112.8 307.8,111.4 307.9,109.6 308.0,107.3 308.1,104.7 308.2,101.8 308.3,98.5 308.4,95.1 308.5,91.4 308.6,87.7 308.7,83.9 308.8,80.1 308.9,76.4 309.0,72.8 309.1,69.5 309.2,66.4 309.3,63.6 309.4,61.1 309.5,59.1 309.6,57.4 309.7,56.3 309.8,55.6 309.9,55.4 310.0,55.6 310.1,56.4 310.2,57.6 310.3,59.3 310.4,61.4 310.5,63.9 310.6,66.7 310.7,69.9 310.8,73.3 310.9,76.9 311.0,80.6 311.0,84.4 311.1,88.1 311.2,91.9 311.3,95.5 311.4,98.9 311.5,102.2 311.6,105.1 311.7,107.7 311.8,109.9 311.9,111.6 312.0,113.0 312.1,113.9 312.2,114.3 312.3,114.2 312.4,113.6 312.5,112.5 312.6,111.0 312.7,109.0 312.8,106.7 312.9,104.0 313.0,100.9 313.1,97.6 313.2,94.1 313.3,90.4 313.4,86.7 313.5,82.9 313.6,79.1 313.7,75.4 313.8,71.9 313.9,68.6 314.0,65.6 314.1,62.9 314.2,60.5 314.3,58.6 314.4,57.1 314.5,56.0 314.6,55.5 314.7,55.4 314.8,55.8 314.9,56.7 315.0,58.0 315.1,59.8 315.2,62.0 315.3,64.6 315.4,67.6 315.5,70.8 315.6,74.2 315.7,77.8 315.8,81.6 315.9,85.4 316.0,89.2 316.1,92.9 316.2,96.4 316.3,99.8 316.4,103.0 316.5,105.8 316.6,108.3 316.7,110.4 316.8,112.0 316.9,113.3 317.0,114.0 317.1,114.3 317.2,114.1 317.3,113.3 317.4,112.2 317.5,110.5 317.6,108.5 317.7,106.0 317.8,103.2 317.9,100.1 318.0,96.7 318.1,93.1 318.2,89.4 318.3,85.7 318.4,81.9 318.5,78.1 318.6,74.5 318.7,71.0 318.8,67.8 318.9,64.8 319.0,62.2 319.1,60.0 319.2,58.1 319.3,56.8 319.4,55.8 319.5,55.4 319.6,55.4 319.7,56.0 319.8,57.0 319.9,58.5 320.0,60.4 320.1,62.7 320.2,65.4 320.3,68.4 320.4,71.7 320.5,75.2 320.6,78.8 320.7,82.6 320.8,86.4 320.9,90.1 321.0,93.8 321.1,97.4 321.2,100.7 321.3,103.7 321.4,106.5 321.5,108.9 321.6,110.9 321.7,112.4 321.8,113.5 321.9,114.1 322.0,114.3 322.1,113.9 322.2,113.1 322.3,111.8 322.4,110.0 322.5,107.8 322.6,105.3 322.7,102.4 322.8,99.2 322.9,95.8 323.0,92.2 323.1,88.4 323.2,84.6 323.3,80.9 323.4,77.1 323.5,73.5 323.6,70.1 323.7,67.0 323.8,64.1 323.9,61.6 324.0,59.4 324.1,57.7 324.2,56.5 324.3,55.7 324.4,55.4 324.5,55.5 324.6,56.2 324.7,57.3 324.8,58.9 324.9,60.9 325.0,63.4 325.1,66.1 325.2,69.2 325.3,72.6 325.4,76.1 325.5,79.8 325.6,83.6 325.7,87.4 325.8,91.1 325.9,94.8 326.0,98.3 326.1,101.5 326.2,104.5 326.3,107.2 326.4,109.4 326.5,111.3 326.6,112.8 326.7,113.7 326.8,114.2 326.9,114.2 327.0,113.7 327.1,112.8 327.2,111.3 327.3,109.5 327.4,107.2 327.5,104.5 327.6,101.6 327.7,98.3 327.8,94.8 327.9,91.2 328.0,87.4 328.1,83.6 328.2,79.9 328.3,76.2 328.4,72.6 328.5,69.3 328.6,66.2 328.7,63.4 328.8,61.0 328.9,58.9 329.0,57.3 329.1,56.2 329.2,55.5 329.3,55.4 329.4,55.7 329.5,56.5 329.6,57.7 329.7,59.4 329.8,61.6 329.9,64.1 330.0,66.9 330.1,70.1 330.2,73.5 330.3,77.1 330.4,80.8 330.5,84.6 330.6,88.4 330.7,92.1 330.7,95.7 330.8,99.2 330.9,102.3 331.0,105.2 331.1,107.8 331.2,110.0 331.3,111.7 331.4,113.1 331.5,113.9 331.6,114.3 331.7,114.1 331.8,113.5 331.9,112.4 332.0,110.9 332.1,108.9 332.2,106.5 332.3,103.8 332.4,100.7 332.5,97.4 332.6,93.9 332.7,90.2 332.8,86.4 332.9,82.6 333.0,78.9 333.1,75.2 333.2,71.7 333.3,68.4 333.4,65.4 333.5,62.7 333.6,60.4 333.7,58.5 333.8,57.0 333.9,56.0 334.0,55.4 334.1,55.4 334.2,55.8 334.3,56.7 334.4,58.1 334.5,59.9 334.6,62.2 334.7,64.8 334.8,67.7 334.9,71.0 335.0,74.4 335.1,78.1 335.2,81.8 335.3,85.6 335.4,89.4 335.5,93.1 335.6,96.7 335.7,100.0 335.8,103.1 335.9,106.0 336.0,108.4 336.1,110.5 336.2,112.1 336.3,113.3 336.4,114.0 336.5,114.3 336.6,114.0 336.7,113.3 336.8,112.1 336.9,110.4 337.0,108.3 337.1,105.8 337.2,103.0 337.3,99.9 337.4,96.5 337.5,92.9 337.6,89.2 337.7,85.4 337.8,81.6 337.9,77.9 338.0,74.3 338.1,70.8 338.2,67.6 338.3,64.7 338.4,62.1 338.5,59.8 338.6,58.0 338.7,56.7 338.8,55.8 338.9,55.4 339.0,55.5 339.1,56.0 339.2,57.1 339.3,58.6 339.4,60.5 339.5,62.8 339.6,65.6 339.7,68.6 339.8,71.9 339.9,75.4 340.0,79.1 340.1,82.8 340.2,86.6 340.3,90.4 340.4,94.1 340.5,97.6 340.6,100.9 340.7,103.9 340.8,106.7 340.9,109.0 341.0,111.0 341.1,112.5 341.2,113.6 341.3,114.2 341.4,114.3 341.5,113.9 341.6,113.0 341.7,111.7 341.8,109.9 341.9,107.7 342.0,105.1 342.1,102.2 342.2,99.0 342.3,95.6 342.4,91.9 342.5,88.2 342.6,84.4 342.7,80.6 342.8,76.9 342.9,73.3 343.0,69.9 343.1,66.8 343.2,63.9 343.3,61.4 343.4,59.3 343.5,57.6 343.6,56.4 343.7,55.6 343.8,55.4 343.9,55.6 344.0,56.3 344.1,57.4 344.2,59.0 344.3,61.1 344.4,63.5 344.5,66.3 344.6,69.4 344.7,72.8 344.8,76.4 344.9,80.1 345.0,83.8 345.1,87.6 345.2,91.4 345.3,95.0 345.4,98.5 345.5,101.7 345.6,104.7 345.7,107.3 345.8,109.6 345.9,111.4 346.0,112.8 346.1,113.8 346.2,114.2 346.3,114.2 346.4,113.7 346.5,112.7 346.6,111.2 346.7,109.3 346.8,107.0 346.9,104.4 347.0,101.4 347.1,98.1 347.2,94.6 347.3,91.0 347.4,87.2 347.5,83.4 347.6,79.6 347.7,75.9 347.8,72.4 347.9,69.1 348.0,66.0 348.1,63.2 348.2,60.8 348.3,58.8 348.4,57.3 348.5,56.1 348.6,55.5 348.7,55.4 348.8,55.7 348.9,56.5 349.0,57.8 349.1,59.5 349.2,61.7 349.3,64.2 349.4,67.1 349.5,70.3 349.6,73.7 349.7,77.3 349.8,81.0 349.9,84.8 350.0,88.6 350.1,92.4 350.2,96.0 350.3,99.4 350.3,102.5 350.4,105.4 350.5,108.0 350.6,110.1 350.7,111.8 350.8,113.1 350.9,113.9 351.0,114.3 351.1,114.1 351.2,113.5 351.3,112.4 351.4,110.8 351.5,108.8 351.6,106.4 351.7,103.6 351.8,100.5 351.9,97.2 352.0,93.6 352.1,90.0 352.2,86.2 352.3,82.4 352.4,78.6 352.5,75.0 352.6,71.5 352.7,68.2 352.8,65.2 352.9,62.6 353.0,60.3 353.1,58.4 353.2,56.9 353.3,55.9 353.4,55.4 353.5,55.4 353.6,55.9 353.7,56.8 353.8,58.2 353.9,60.1 354.0,62.3 354.1,65.0 354.2,67.9 354.3,71.2 354.4,74.7 354.5,78.3 354.6,82.1 354.7,85.8 354.8,89.6 354.9,93.3 355.0,96.9 355.1,100.2 355.2,103.3 355.3,106.1 355.4,108.6 355.5,110.6 355.6,112.2 355.7,113.4 355.8,114.1 355.9,114.3 356.0,114.0 356.1,113.2 356.2,112.0 356.3,110.3 356.4,108.2 356.5,105.7 356.6,102.8 356.7,99.7 356.8,96.3 356.9,92.7 357.0,89.0 357.1,85.2 357.2,81.4 357.3,77.7 357.4,74.0 357.5,70.6 357.6,67.4 357.7,64.5 357.8,61.9 357.9,59.7 358.0,57.9 358.1,56.6 358.2,55.7 358.3,55.4 358.4,55.5 358.5,56.1 358.6,57.1 358.7,58.7 358.8,60.6 358.9,63.0 359.0,65.7 359.1,68.8 359.2,72.1 359.3,75.6 359.4,79.3 359.5,83.1 359.6,86.9 359.7,90.6 359.8,94.3 359.9,97.8 360.0,101.1 360.1,104.1 360.2,106.8 360.3,109.2 360.4,111.1 360.5,112.6 360.6,113.6 360.7,114.2 360.8,114.2 360.9,113.8 361.0,112.9 361.1,111.6 361.2,109.8 361.3,107.5 361.4,104.9 361.5,102.0 361.6,98.8 361.7,95.3 361.8,91.7 361.9,88.0 362.0,84.2 362.1,80.4 362.2,76.7 362.3,73.1 362.4,69.7 362.5,66.6 362.6,63.8 362.7,61.3 362.8,59.2 362.9,57.5 363.0,56.3 363.1,55.6 363.2,55.4 363.3,55.6 363.4,56.3 363.5,57.5 363.6,59.2 363.7,61.2 363.8,63.7 363.9,66.5 364.0,69.6 364.1,73.0 364.2,76.6 364.3,80.3 364.4,84.1 364.5,87.9 364.6,91.6 364.7,95.2 364.8,98.7 364.9,101.9 365.0,104.9 365.1,107.5 365.2,109.7 365.3,111.5 365.4,112.9 365.5,113.8 365.6,114.2 365.7,114.2 365.8,113.6 365.9,112.6 366.0,111.1 366.1,109.2 366.2,106.9 366.3,104.2 366.4,101.2 366.5,97.9 366.6,94.4 366.7,90.7 366.8,87.0 366.9,83.2 367.0,79.4 367.1,75.7 367.2,72.2 367.3,68.9 367.4,65.8 367.5,63.1 367.6,60.7 367.7,58.7 367.8,57.2 367.9,56.1 368.0,55.5 368.1,55.4 368.2,55.7 368.3,56.6 368.4,57.9 368.5,59.7 368.6,61.9 368.7,64.4 368.8,67.3 368.9,70.5 369.0,73.9 369.1,77.6 369.2,81.3 369.3,85.1 369.4,88.9 369.5,92.6 369.6,96.2 369.7,99.6 369.8,102.7 369.9,105.6 370.0,108.1 370.0,110.2 370.1,111.9 370.2,113.2 370.3,114.0 370.4,114.3 370.5,114.1 370.6,113.4 370.7,112.3 370.8,110.7 370.9,108.6 371.0,106.2 371.1,103.4 371.2,100.3 371.3,97.0 371.4,93.4 371.5,89.7 371.6,85.9 371.7,82.2 371.8,78.4 371.9,74.8 372.0,71.3 372.1,68.0 372.2,65.1 372.3,62.4 372.4,60.1 372.5,58.3 372.6,56.8 372.7,55.9 372.8,55.4 372.9,55.4 373.0,55.9 373.1,56.9 373.2,58.3 373.3,60.2 373.4,62.5 373.5,65.2 373.6,68.1 373.7,71.4 373.8,74.9 373.9,78.5 374.0,82.3 374.1,86.1 374.2,89.9 374.3,93.6 374.4,97.1 374.5,100.4 374.6,103.5 374.7,106.3 374.8,108.7 374.9,110.7 375.0,112.3 375.1,113.4 375.2,114.1 375.3,114.3 375.4,114.0 375.5,113.2 375.6,111.9 375.7,110.2 375.8,108.0 375.9,105.5 376.0,102.6 376.1,99.5 376.2,96.0 376.3,92.4 376.4,88.7 376.5,84.9 376.6,81.1 376.7,77.4 376.8,73.8 376.9,70.4 377.0,67.2 377.1,64.3 377.2,61.8 377.3,59.6 377.4,57.8 377.5,56.5 377.6,55.7 377.7,55.4 377.8,55.5 377.9,56.1 378.0,57.2 378.1,58.8 378.2,60.8 378.3,63.2 378.4,65.9 378.5,69.0 378.6,72.3 378.7,75.8 378.8,79.5 378.9,83.3 379.0,87.1 379.1,90.9 379.2,94.5 379.3,98.0 379.4,101.3 379.5,104.3 379.6,107.0 379.7,109.3 379.8,111.2 379.9,112.7 380.0,113.7 380.1,114.2 380.2,114.2 380.3,113.8 380.4,112.9 380.5,111.5 380.6,109.6 380.7,107.4 380.8,104.8 380.9,101.8 381.0,98.6 381.1,95.1 381.2,91.5 381.3,87.7 381.4,83.9 381.5,80.1 381.6,76.4 381.7,72.9 381.8,69.5 381.9,66.4 382.0,63.6 382.1,61.1 382.2,59.1 382.3,57.5 382.4,56.3 382.5,55.6 382.6,55.4 382.7,55.6 382.8,56.4 382.9,57.6 383.0,59.3 383.1,61.4 383.2,63.9 383.3,66.7 383.4,69.8 383.5,73.2 383.6,76.8 383.7,80.5 383.8,84.3 383.9,88.1 384.0,91.8 384.1,95.5 384.2,98.9 384.3,102.1 384.4,105.0 384.5,107.6 384.6,109.8 384.7,111.6 384.8,113.0 384.9,113.9 385.0,114.3 385.1,114.2 385.2,113.6 385.3,112.5 385.4,111.0 385.5,109.1 385.6,106.7 385.7,104.0 385.8,101.0 385.9,97.7 386.0,94.2 386.1,90.5 386.2,86.7 386.3,82.9 386.4,79.2 386.5,75.5 386.6,72.0 386.7,68.7 386.8,65.6 386.9,62.9 387.0,60.6 387.1,58.6 387.2,57.1 387.3,56.0 387.4,55.5 387.5,55.4 387.6,55.8 387.7,56.7 387.8,58.0 387.9,59.8 388.0,62.0 388.1,64.6 388.2,67.5 388.3,70.7 388.4,74.2 388.5,77.8 388.6,81.5 388.7,85.3 388.8,89.1 388.9,92.8 389.0,96.4 389.1,99.8 389.2,102.9 389.3,105.8 389.4,108.2 389.5,110.4 389.6,112.0 389.7,113.3 389.7,114.0 389.8,114.3 389.9,114.1 390.0,113.4 390.1,112.2 390.2,110.5 390.3,108.5 390.4,106.0 390.5,103.2 390.6,100.1 390.7,96.8 390.8,93.2 390.9,89.5 391.0,85.7 391.1,81.9 391.2,78.2 391.3,74.5 391.4,71.1 391.5,67.8 391.6,64.9 391.7,62.3 391.8,60.0 391.9,58.2 392.0,56.8 392.1,55.8 392.2,55.4 392.3,55.4 392.4,56.0 392.5,57.0 392.6,58.4 392.7,60.3 392.8,62.7 392.9,65.3 393.0,68.3 393.1,71.6 393.2,75.1 393.3,78.8 393.4,82.5 393.5,86.3 393.6,90.1 393.7,93.8 393.8,97.3 393.9,100.6 394.0,103.7 394.1,106.5 394.2,108.8 394.3,110.8 394.4,112.4 394.5,113.5 394.6,114.1 394.7,114.3 394.8,113.9 394.9,113.1 395.0,111.8 395.1,110.0 395.2,107.9 395.3,105.3 395.4,102.4 395.5,99.2 395.6,95.8 395.7,92.2 395.8,88.5 395.9,84.7 396.0,80.9 396.1,77.2 396.2,73.6 396.3,70.2 396.4,67.0 396.5,64.1 396.6,61.6 396.7,59.5 396.8,57.8 396.9,56.5 397.0,55.7 397.1,55.4 397.2,55.5 397.3,56.2 397.4,57.3 397.5,58.9 397.6,60.9 397.7,63.3 397.8,66.1 397.9,69.2 398.0,72.5 398.1,76.1 398.2,79.8 398.3,83.5 398.4,87.3 398.5,91.1 398.6,94.7 398.7,98.2 398.8,101.5 398.9,104.5 399.0,107.1 399.1,109.4 399.2,111.3 399.3,112.7 399.4,113.7 399.5,114.2 399.6,114.2 399.7,113.7 399.8,112.8 399.9,111.4 400.0,109.5 400.1,107.2 400.2,104.6 400.3,101.6 400.4,98.4 400.5,94.9 400.6,91.2 400.7,87.5 400.8,83.7 400.9,79.9 401.0,76.2 401.1,72.7 401.2,69.3 401.3,66.2 401.4,63.4 401.5,61.0 401.6,59.0 401.7,57.4 401.8,56.2 401.9,55.5 402.0,55.4 402.1,55.7 402.2,56.4 402.3,57.7 402.4,59.4 402.5,61.5 402.6,64.0 402.7,66.9 402.8,70.1 402.9,73.5 403.0,77.0 403.1,80.8 403.2,84.5 403.3,88.3 403.4,92.1 403.5,95.7 403.6,99.1 403.7,102.3 403.8,105.2 403.9,107.8 404.0,110.0 404.1,111.7 404.2,113.0 404.3,113.9 404.4,114.3 404.5,114.1 404.6,113.5 404.7,112.5 404.8,110.9 404.9,108.9 405.0,106.6 405.1,103.8 405.2,100.8 405.3,97.4 405.4,93.9 405.5,90.2 405.6,86.5 405.7,82.7 405.8,78.9 405.9,75.3 406.0,71.8 406.1,68.5 406.2,65.4 406.3,62.8 406.4,60.4 406.5,58.5 406.6,57.0 406.7,56.0 406.8,55.4 406.9,55.4 407.0,55.8 407.1,56.7 407.2,58.1 407.3,59.9 407.4,62.2 407.5,64.8 407.6,67.7 407.7,70.9 407.8,74.4 407.9,78.0 408.0,81.8 408.1,85.6 408.2,89.3 408.3,93.0 408.4,96.6 408.5,100.0 408.6,103.1 408.7,105.9 408.8,108.4 408.9,110.5 409.0,112.1 409.1,113.3 409.2,114.0 409.3,114.3 409.3,114.0 409.4,113.3 409.5,112.1 409.6,110.4 409.7,108.3 409.8,105.9 409.9,103.0 410.0,99.9 410.1,96.5 410.2,93.0 410.3,89.2 410.4,85.5 410.5,81.7 410.6,77.9 410.7,74.3 410.8,70.9 410.9,67.6 411.0,64.7 411.1,62.1 411.2,59.9 411.3,58.1 411.4,56.7 411.5,55.8 411.6,55.4 411.7,55.5 411.8,56.0 411.9,57.0 412.0,58.5 412.1,60.5 412.2,62.8 412.3,65.5 412.4,68.5 412.5,71.8 412.6,75.3 412.7,79.0 412.8,82.8 412.9,86.6 413.0,90.3 413.1,94.0 413.2,97.5 413.3,100.8 413.4,103.9 413.5,106.6 413.6,109.0 413.7,111.0 413.8,112.5 413.9,113.6 414.0,114.2 414.1,114.3 414.2,113.9 414.3,113.0 414.4,111.7 414.5,109.9 414.6,107.7 414.7,105.1 414.8,102.2 414.9,99.0 415.0,95.6 415.1,92.0 415.2,88.2 415.3,84.5 415.4,80.7 415.5,77.0 415.6,73.4 415.7,70.0 415.8,66.8 415.9,64.0 416.0,61.5 416.1,59.4 416.2,57.7 416.3,56.4 416.4,55.6 416.5,55.4 416.6,55.6 416.7,56.2 416.8,57.4 416.9,59.0 417.0,61.1 417.1,63.5 417.2,66.3 417.3,69.4 417.4,72.7 417.5,76.3 417.6,80.0 417.7,83.8 417.8,87.6 417.9,91.3 418.0,95.0 418.1,98.4 418.2,101.7 418.3,104.6 418.4,107.3 418.5,109.5 418.6,111.4 418.7,112.8 418.8,113.8 418.9,114.2 419.0,114.2 419.1,113.7 419.2,112.7 419.3,111.3 419.4,109.4 419.5,107.1 419.6,104.4 419.7,101.4 419.8,98.1 419.9,94.7 420.0,91.0 420.1,87.2 420.2,83.4 420.3,79.7 420.4,76.0 420.5,72.4 420.6,69.1 420.7,66.0 420.8,63.3 420.9,60.9 421.0,58.9 421.1,57.3 421.2,56.2 421.3,55.5 421.4,55.4 421.5,55.7 421.6,56.5 421.7,57.8 421.8,59.5 421.9,61.7 422.0,64.2 422.1,67.1 422.2,70.3 422.3,73.7 422.4,77.3 422.5,81.0 422.6,84.8 422.7,88.6 422.8,92.3 422.9,95.9 423.0,99.3 423.1,102.5 423.2,105.4 423.3,107.9 423.4,110.1 423.5,111.8 423.6,113.1 423.7,113.9 423.8,114.3 423.9,114.1 424.0,113.5 424.1,112.4 424.2,110.8 424.3,108.8 424.4,106.4 424.5,103.6 424.6,100.6 424.7,97.2 424.8,93.7 424.9,90.0 425.0,86.2 425.1,82.4 425.2,78.7 425.3,75.0 425.4,71.5 425.5,68.3 425.6,65.3 425.7,62.6 425.8,60.3 425.9,58.4 426.0,56.9 426.1,55.9 426.2,55.4 426.3,55.4 426.4,55.9 426.5,56.8 426.6,58.2 426.7,60.1 426.8,62.3 426.9,64.9 427.0,67.9 427.1,71.1 427.2,74.6 427.3,78.3 427.4,82.0 427.5,85.8 427.6,89.6 427.7,93.3 427.8,96.8 427.9,100.2 428.0,103.3 428.1,106.1 428.2,108.5 428.3,110.6 428.4,112.2 428.5,113.4 428.6,114.1 428.7,114.3 428.8,114.0 428.9,113.2 429.0,112.0 429.0,110.3 429.1,108.2 429.2,105.7 429.3,102.8 429.4,99.7 429.5,96.3 429.6,92.7 429.7,89.0 429.8,85.2 429.9,81.4 430.0,77.7 430.1,74.1 430.2,70.6 430.3,67.4 430.4,64.5 430.5,61.9 430.6,59.7 430.7,58.0 430.8,56.6 430.9,55.8 431.0,55.4 431.1,55.5 431.2,56.1 431.3,57.1 431.4,58.7 431.5,60.6 431.6,63.0 431.7,65.7 431.8,68.7 431.9,72.0 432.0,75.6 432.1,79.2 432.2,83.0 432.3,86.8 432.4,90.6 432.5,94.2 432.6,97.7 432.7,101.0 432.8,104.1 432.9,106.8 433.0,109.1 433.1,111.1 433.2,112.6 433.3,113.6 433.4,114.2 433.5,114.3 433.6,113.8 433.7,112.9 433.8,111.6 433.9,109.8 434.0,107.6 434.1,105.0 434.2,102.0 434.3,98.8 434.4,95.4 434.5,91.7 434.6,88.0 434.7,84.2 434.8,80.4 434.9,76.7 435.0,73.1 435.1,69.8 435.2,66.6 435.3,63.8 435.4,61.3 435.5,59.2 435.6,57.6 435.7,56.3 435.8,55.6 435.9,55.4 436.0,55.6 436.1,56.3 436.2,57.5 436.3,59.1 436.4,61.2 436.5,63.7 436.6,66.5 436.7,69.6 436.8,73.0 436.9,76.5 437.0,80.2 437.1,84.0 437.2,87.8 437.3,91.6 437.4,95.2 437.5,98.6 437.6,101.9 437.7,104.8 437.8,107.4 437.9,109.7 438.0,111.5 438.1,112.9 438.2,113.8 438.3,114.2 438.4,114.2 438.5,113.6 438.6,112.6 438.7,111.2 438.8,109.2 438.9,106.9 439.0,104.2 439.1,101.2 439.2,97.9 439.3,94.4 439.4,90.8 439.5,87.0 439.6,83.2 439.7,79.4 439.8,75.8 439.9,72.2 440.0,68.9 440.1,65.9 440.2,63.1 440.3,60.7 440.4,58.7 440.5,57.2 440.6,56.1 440.7,55.5 440.8,55.4 440.9,55.7 441.0,56.6 441.1,57.9 441.2,59.6 441.3,61.8 441.4,64.4 441.5,67.3 441.6,70.5 441.7,73.9 441.8,77.5 441.9,81.2 442.0,85.0 442.1,88.8 442.2,92.5 442.3,96.1 442.4,99.5 442.5,102.7 442.6,105.6 442.7,108.1 442.8,110.2 442.9,111.9 443.0,113.2 443.1,114.0 443.2,114.3 443.3,114.1 443.4,113.4 443.5,112.3 443.6,110.7 443.7,108.7 443.8,106.2 443.9,103.5 444.0,100.4 444.1,97.0 444.2,93.5 444.3,89.8 444.4,86.0 444.5,82.2 444.6,78.4 444.7,74.8 444.8,71.3 444.9,68.1 445.0,65.1 445.1,62.4 445.2,60.2 445.3,58.3 445.4,56.9 445.5,55.9 445.6,55.4 445.7,55.4 445.8,55.9 445.9,56.9 446.0,58.3 446.1,60.2 446.2,62.5 446.3,65.1 446.4,68.1 446.5,71.4 446.6,74.8 446.7,78.5 446.8,82.2 446.9,86.0 447.0,89.8 447.1,93.5 447.2,97.1 447.3,100.4 447.4,103.5 447.5,106.3 447.6,108.7 447.7,110.7 447.8,112.3 447.9,113.4 448.0,114.1 448.1,114.3 448.2,114.0 448.3,113.2 448.4,111.9 448.5,110.2 448.6,108.0 448.7,105.5 448.7,102.7 448.8,99.5 448.9,96.1 449.0,92.5 449.1,88.8 449.2,85.0 449.3,81.2 449.4,77.5 449.5,73.9" fill="none" stroke="#dc2626" stroke-width="1.0" stroke-linejoin="round" opacity="1.0"/>
<polyline points="290.5,55.3 290.6,55.4 290.7,55.6 290.8,56.0 290.9,56.5 291.0,57.1 291.1,57.9 291.2,58.7 291.3,59.7 291.3,60.7 291.4,61.8 291.5,62.9 291.6,64.0 291.7,65.2 291.8,66.3 291.9,67.4 292.0,68.4 292.1,69.4 292.2,70.3 292.3,71.1 292.4,71.7 292.5,72.3 292.6,72.7 292.7,73.0 292.8,73.1 292.9,73.1 293.0,72.9 293.1,72.6 293.2,72.1 293.3,71.6 293.4,70.9 293.5,70.0 293.6,69.1 293.7,68.1 293.8,67.1 293.9,66.0 294.0,64.9 294.1,63.7 294.2,62.6 294.3,61.5 294.4,60.4 294.5,59.4 294.6,58.5 294.7,57.7 294.8,57.0 294.9,56.4 295.0,55.9 295.1,55.6 295.2,55.4 295.3,55.4 295.4,55.5 295.5,55.7 295.6,56.1 295.7,56.7 295.8,57.3 295.9,58.1 296.0,59.0 296.1,59.9 296.2,61.0 296.3,62.1 296.4,63.2 296.5,64.3 296.6,65.5 296.7,66.6 296.8,67.7 296.9,68.7 297.0,69.6 297.1,70.5 297.2,71.2 297.3,71.9 297.4,72.4 297.5,72.8 297.6,73.0 297.7,73.1 297.8,73.0 297.9,72.8 298.0,72.5 298.1,72.0 298.2,71.4 298.3,70.7 298.4,69.8 298.5,68.9 298.6,67.9 298.7,66.8 298.8,65.7 298.9,64.6 299.0,63.4 299.1,62.3 299.2,61.2 299.3,60.1 299.4,59.2 299.5,58.3 299.6,57.5 299.7,56.8 299.8,56.2 299.9,55.8 300.0,55.5 300.1,55.4 300.2,55.4 300.3,55.5 300.4,55.8 300.5,56.3 300.6,56.8 300.7,57.5 300.8,58.3 300.9,59.2 301.0,60.2 301.1,61.2 301.2,62.3 301.3,63.5 301.4,64.6 301.5,65.8 301.6,66.9 301.7,67.9 301.8,68.9 301.9,69.9 302.0,70.7 302.1,71.4 302.2,72.0 302.3,72.5 302.4,72.9 302.5,73.0 302.6,73.1 302.7,73.0 302.8,72.8 302.9,72.4 303.0,71.9 303.1,71.2 303.2,70.4 303.3,69.6 303.4,68.6 303.5,67.6 303.6,66.5 303.7,65.4 303.8,64.2 303.9,63.1 304.0,62.0 304.1,60.9 304.2,59.9 304.3,58.9 304.4,58.0 304.5,57.3 304.6,56.6 304.7,56.1 304.8,55.7 304.9,55.5 305.0,55.4 305.1,55.4 305.2,55.6 305.3,55.9 305.4,56.4 305.5,57.0 305.6,57.7 305.7,58.5 305.8,59.5 305.9,60.5 306.0,61.5 306.1,62.6 306.2,63.8 306.3,64.9 306.4,66.1 306.5,67.2 306.6,68.2 306.7,69.2 306.8,70.1 306.9,70.9 307.0,71.6 307.1,72.2 307.2,72.6 307.3,72.9 307.4,73.1 307.5,73.1 307.6,72.9 307.7,72.7 307.8,72.2 307.9,71.7 308.0,71.0 308.1,70.2 308.2,69.3 308.3,68.4 308.4,67.3 308.5,66.2 308.6,65.1 308.7,63.9 308.8,62.8 308.9,61.7 309.0,60.6 309.1,59.6 309.2,58.7 309.3,57.8 309.4,57.1 309.5,56.5 309.6,56.0 309.7,55.6 309.8,55.4 309.9,55.4 310.0,55.4 310.1,55.7 310.2,56.0 310.3,56.5 310.4,57.2 310.5,57.9 310.6,58.8 310.7,59.7 310.8,60.8 310.9,61.8 311.0,62.9 311.0,64.1 311.1,65.2 311.2,66.4 311.3,67.4 311.4,68.5 311.5,69.4 311.6,70.3 311.7,71.1 311.8,71.8 311.9,72.3 312.0,72.7 312.1,73.0 312.2,73.1 312.3,73.1 312.4,72.9 312.5,72.6 312.6,72.1 312.7,71.5 312.8,70.8 312.9,70.0 313.0,69.1 313.1,68.1 313.2,67.0 313.3,65.9 313.4,64.8 313.5,63.6 313.6,62.5 313.7,61.4 313.8,60.3 313.9,59.3 314.0,58.4 314.1,57.6 314.2,56.9 314.3,56.3 314.4,55.9 314.5,55.6 314.6,55.4 314.7,55.4 314.8,55.5 314.9,55.7 315.0,56.2 315.1,56.7 315.2,57.4 315.3,58.1 315.4,59.0 315.5,60.0 315.6,61.0 315.7,62.1 315.8,63.2 315.9,64.4 316.0,65.5 316.1,66.6 316.2,67.7 316.3,68.7 316.4,69.7 316.5,70.5 316.6,71.3 316.7,71.9 316.8,72.4 316.9,72.8 317.0,73.0 317.1,73.1 317.2,73.0 317.3,72.8 317.4,72.5 317.5,72.0 317.6,71.3 317.7,70.6 317.8,69.8 317.9,68.8 318.0,67.8 318.1,66.7 318.2,65.6 318.3,64.5 318.4,63.3 318.5,62.2 318.6,61.1 318.7,60.1 318.8,59.1 318.9,58.2 319.0,57.4 319.1,56.7 319.2,56.2 319.3,55.8 319.4,55.5 319.5,55.4 319.6,55.4 319.7,55.5 319.8,55.8 319.9,56.3 320.0,56.9 320.1,57.6 320.2,58.4 320.3,59.3 320.4,60.3 320.5,61.3 320.6,62.4 320.7,63.6 320.8,64.7 320.9,65.8 321.0,66.9 321.1,68.0 321.2,69.0 321.3,69.9 321.4,70.8 321.5,71.5 321.6,72.1 321.7,72.5 321.8,72.9 321.9,73.1 322.0,73.1 322.1,73.0 322.2,72.7 322.3,72.3 322.4,71.8 322.5,71.2 322.6,70.4 322.7,69.5 322.8,68.6 322.9,67.5 323.0,66.4 323.1,65.3 323.2,64.2 323.3,63.0 323.4,61.9 323.5,60.8 323.6,59.8 323.7,58.9 323.8,58.0 323.9,57.2 324.0,56.6 324.1,56.1 324.2,55.7 324.3,55.4 324.4,55.4 324.5,55.4 324.6,55.6 324.7,55.9 324.8,56.4 324.9,57.0 325.0,57.8 325.1,58.6 325.2,59.5 325.3,60.5 325.4,61.6 325.5,62.7 325.6,63.9 325.7,65.0 325.8,66.1 325.9,67.2 326.0,68.3 326.1,69.3 326.2,70.2 326.3,71.0 326.4,71.6 326.5,72.2 326.6,72.6 326.7,72.9 326.8,73.1 326.9,73.1 327.0,72.9 327.1,72.6 327.2,72.2 327.3,71.7 327.4,71.0 327.5,70.2 327.6,69.3 327.7,68.3 327.8,67.2 327.9,66.1 328.0,65.0 328.1,63.9 328.2,62.7 328.3,61.6 328.4,60.6 328.5,59.5 328.6,58.6 328.7,57.8 328.8,57.0 328.9,56.4 329.0,56.0 329.1,55.6 329.2,55.4 329.3,55.4 329.4,55.4 329.5,55.7 329.6,56.1 329.7,56.6 329.8,57.2 329.9,58.0 330.0,58.8 330.1,59.8 330.2,60.8 330.3,61.9 330.4,63.0 330.5,64.2 330.6,65.3 330.7,66.4 330.7,67.5 330.8,68.5 330.9,69.5 331.0,70.4 331.1,71.2 331.2,71.8 331.3,72.3 331.4,72.7 331.5,73.0 331.6,73.1 331.7,73.1 331.8,72.9 331.9,72.5 332.0,72.1 332.1,71.5 332.2,70.8 332.3,69.9 332.4,69.0 332.5,68.0 332.6,67.0 332.7,65.8 332.8,64.7 332.9,63.6 333.0,62.4 333.1,61.3 333.2,60.3 333.3,59.3 333.4,58.4 333.5,57.6 333.6,56.9 333.7,56.3 333.8,55.8 333.9,55.5 334.0,55.4 334.1,55.4 334.2,55.5 334.3,55.8 334.4,56.2 334.5,56.7 334.6,57.4 334.7,58.2 334.8,59.1 334.9,60.1 335.0,61.1 335.1,62.2 335.2,63.3 335.3,64.5 335.4,65.6 335.5,66.7 335.6,67.8 335.7,68.8 335.8,69.7 335.9,70.6 336.0,71.3 336.1,72.0 336.2,72.5 336.3,72.8 336.4,73.0 336.5,73.1 336.6,73.0 336.7,72.8 336.8,72.4 336.9,71.9 337.0,71.3 337.1,70.6 337.2,69.7 337.3,68.8 337.4,67.7 337.5,66.7 337.6,65.5 337.7,64.4 337.8,63.3 337.9,62.1 338.0,61.0 338.1,60.0 338.2,59.0 338.3,58.2 338.4,57.4 338.5,56.7 338.6,56.2 338.7,55.8 338.8,55.5 338.9,55.4 339.0,55.4 339.1,55.6 339.2,55.9 339.3,56.3 339.4,56.9 339.5,57.6 339.6,58.4 339.7,59.3 339.8,60.3 339.9,61.4 340.0,62.5 340.1,63.6 340.2,64.8 340.3,65.9 340.4,67.0 340.5,68.1 340.6,69.1 340.7,70.0 340.8,70.8 340.9,71.5 341.0,72.1 341.1,72.6 341.2,72.9 341.3,73.1 341.4,73.1 341.5,73.0 341.6,72.7 341.7,72.3 341.8,71.8 341.9,71.1 342.0,70.3 342.1,69.5 342.2,68.5 342.3,67.5 342.4,66.4 342.5,65.2 342.6,64.1 342.7,63.0 342.8,61.8 342.9,60.8 343.0,59.7 343.1,58.8 343.2,57.9 343.3,57.2 343.4,56.5 343.5,56.0 343.6,55.7 343.7,55.4 343.8,55.4 343.9,55.4 344.0,55.6 344.1,56.0 344.2,56.5 344.3,57.1 344.4,57.8 344.5,58.7 344.6,59.6 344.7,60.6 344.8,61.7 344.9,62.8 345.0,63.9 345.1,65.1 345.2,66.2 345.3,67.3 345.4,68.3 345.5,69.3 345.6,70.2 345.7,71.0 345.8,71.7 345.9,72.2 346.0,72.7 346.1,72.9 346.2,73.1 346.3,73.1 346.4,72.9 346.5,72.6 346.6,72.2 346.7,71.6 346.8,70.9 346.9,70.1 347.0,69.2 347.1,68.2 347.2,67.2 347.3,66.1 347.4,64.9 347.5,63.8 347.6,62.7 347.7,61.6 347.8,60.5 347.9,59.5 348.0,58.6 348.1,57.7 348.2,57.0 348.3,56.4 348.4,55.9 348.5,55.6 348.6,55.4 348.7,55.4 348.8,55.5 348.9,55.7 349.0,56.1 349.1,56.6 349.2,57.3 349.3,58.0 349.4,58.9 349.5,59.9 349.6,60.9 349.7,62.0 349.8,63.1 349.9,64.2 350.0,65.4 350.1,66.5 350.2,67.6 350.3,68.6 350.3,69.6 350.4,70.4 350.5,71.2 350.6,71.8 350.7,72.4 350.8,72.8 350.9,73.0 351.0,73.1 351.1,73.1 351.2,72.9 351.3,72.5 351.4,72.0 351.5,71.4 351.6,70.7 351.7,69.9 351.8,69.0 351.9,68.0 352.0,66.9 352.1,65.8 352.2,64.6 352.3,63.5 352.4,62.4 352.5,61.3 352.6,60.2 352.7,59.2 352.8,58.3 352.9,57.5 353.0,56.8 353.1,56.3 353.2,55.8 353.3,55.5 353.4,55.4 353.5,55.4 353.6,55.5 353.7,55.8 353.8,56.2 353.9,56.8 354.0,57.5 354.1,58.3 354.2,59.1 354.3,60.1 354.4,61.2 354.5,62.3 354.6,63.4 354.7,64.5 354.8,65.7 354.9,66.8 355.0,67.9 355.1,68.9 355.2,69.8 355.3,70.6 355.4,71.4 355.5,72.0 355.6,72.5 355.7,72.8 355.8,73.0 355.9,73.1 356.0,73.0 356.1,72.8 356.2,72.4 356.3,71.9 356.4,71.3 356.5,70.5 356.6,69.6 356.7,68.7 356.8,67.7 356.9,66.6 357.0,65.5 357.1,64.3 357.2,63.2 357.3,62.1 357.4,61.0 357.5,59.9 357.6,59.0 357.7,58.1 357.8,57.3 357.9,56.7 358.0,56.1 358.1,55.7 358.2,55.5 358.3,55.4 358.4,55.4 358.5,55.6 358.6,55.9 358.7,56.4 358.8,56.9 358.9,57.7 359.0,58.5 359.1,59.4 359.2,60.4 359.3,61.5 359.4,62.6 359.5,63.7 359.6,64.8 359.7,66.0 359.8,67.1 359.9,68.1 360.0,69.1 360.1,70.0 360.2,70.9 360.3,71.6 360.4,72.1 360.5,72.6 360.6,72.9 360.7,73.1 360.8,73.1 360.9,73.0 361.0,72.7 361.1,72.3 361.2,71.7 361.3,71.1 361.4,70.3 361.5,69.4 361.6,68.4 361.7,67.4 361.8,66.3 361.9,65.2 362.0,64.0 362.1,62.9 362.2,61.8 362.3,60.7 362.4,59.7 362.5,58.7 362.6,57.9 362.7,57.1 362.8,56.5 362.9,56.0 363.0,55.6 363.1,55.4 363.2,55.4 363.3,55.4 363.4,55.6 363.5,56.0 363.6,56.5 363.7,57.1 363.8,57.9 363.9,58.7 364.0,59.7 364.1,60.7 364.2,61.7 364.3,62.9 364.4,64.0 364.5,65.1 364.6,66.3 364.7,67.4 364.8,68.4 364.9,69.4 365.0,70.3 365.1,71.0 365.2,71.7 365.3,72.3 365.4,72.7 365.5,73.0 365.6,73.1 365.7,73.1 365.8,72.9 365.9,72.6 366.0,72.2 366.1,71.6 366.2,70.9 366.3,70.1 366.4,69.2 366.5,68.2 366.6,67.1 366.7,66.0 366.8,64.9 366.9,63.7 367.0,62.6 367.1,61.5 367.2,60.4 367.3,59.4 367.4,58.5 367.5,57.7 367.6,57.0 367.7,56.4 367.8,55.9 367.9,55.6 368.0,55.4 368.1,55.4 368.2,55.5 368.3,55.7 368.4,56.1 368.5,56.7 368.6,57.3 368.7,58.1 368.8,59.0 368.9,59.9 369.0,61.0 369.1,62.0 369.2,63.2 369.3,64.3 369.4,65.4 369.5,66.6 369.6,67.6 369.7,68.7 369.8,69.6 369.9,70.5 370.0,71.2 370.0,71.9 370.1,72.4 370.2,72.8 370.3,73.0 370.4,73.1 370.5,73.0 370.6,72.8 370.7,72.5 370.8,72.0 370.9,71.4 371.0,70.7 371.1,69.8 371.2,68.9 371.3,67.9 371.4,66.8 371.5,65.7 371.6,64.6 371.7,63.4 371.8,62.3 371.9,61.2 372.0,60.1 372.1,59.2 372.2,58.3 372.3,57.5 372.4,56.8 372.5,56.2 372.6,55.8 372.7,55.5 372.8,55.4 372.9,55.4 373.0,55.5 373.1,55.8 373.2,56.2 373.3,56.8 373.4,57.5 373.5,58.3 373.6,59.2 373.7,60.2 373.8,61.2 373.9,62.3 374.0,63.5 374.1,64.6 374.2,65.7 374.3,66.9 374.4,67.9 374.5,68.9 374.6,69.9 374.7,70.7 374.8,71.4 374.9,72.0 375.0,72.5 375.1,72.8 375.2,73.0 375.3,73.1 375.4,73.0 375.5,72.8 375.6,72.4 375.7,71.9 375.8,71.2 375.9,70.5 376.0,69.6 376.1,68.6 376.2,67.6 376.3,66.5 376.4,65.4 376.5,64.3 376.6,63.1 376.7,62.0 376.8,60.9 376.9,59.9 377.0,58.9 377.1,58.1 377.2,57.3 377.3,56.6 377.4,56.1 377.5,55.7 377.6,55.5 377.7,55.4 377.8,55.4 377.9,55.6 378.0,55.9 378.1,56.4 378.2,57.0 378.3,57.7 378.4,58.5 378.5,59.5 378.6,60.5 378.7,61.5 378.8,62.6 378.9,63.8 379.0,64.9 379.1,66.0 379.2,67.1 379.3,68.2 379.4,69.2 379.5,70.1 379.6,70.9 379.7,71.6 379.8,72.2 379.9,72.6 380.0,72.9 380.1,73.1 380.2,73.1 380.3,73.0 380.4,72.7 380.5,72.3 380.6,71.7 380.7,71.0 380.8,70.2 380.9,69.3 381.0,68.4 381.1,67.3 381.2,66.2 381.3,65.1 381.4,64.0 381.5,62.8 381.6,61.7 381.7,60.6 381.8,59.6 381.9,58.7 382.0,57.8 382.1,57.1 382.2,56.5 382.3,56.0 382.4,55.6 382.5,55.4 382.6,55.4 382.7,55.4 382.8,55.7 382.9,56.0 383.0,56.5 383.1,57.2 383.2,57.9 383.3,58.8 383.4,59.7 383.5,60.7 383.6,61.8 383.7,62.9 383.8,64.1 383.9,65.2 384.0,66.3 384.1,67.4 384.2,68.5 384.3,69.4 384.4,70.3 384.5,71.1 384.6,71.8 384.7,72.3 384.8,72.7 384.9,73.0 385.0,73.1 385.1,73.1 385.2,72.9 385.3,72.6 385.4,72.1 385.5,71.5 385.6,70.8 385.7,70.0 385.8,69.1 385.9,68.1 386.0,67.0 386.1,65.9 386.2,64.8 386.3,63.7 386.4,62.5 386.5,61.4 386.6,60.4 386.7,59.4 386.8,58.4 386.9,57.6 387.0,56.9 387.1,56.3 387.2,55.9 387.3,55.6 387.4,55.4 387.5,55.4 387.6,55.5 387.7,55.7 387.8,56.1 387.9,56.7 388.0,57.4 388.1,58.1 388.2,59.0 388.3,60.0 388.4,61.0 388.5,62.1 388.6,63.2 388.7,64.4 388.8,65.5 388.9,66.6 389.0,67.7 389.1,68.7 389.2,69.7 389.3,70.5 389.4,71.3 389.5,71.9 389.6,72.4 389.7,72.8 389.7,73.0 389.8,73.1 389.9,73.0 390.0,72.8 390.1,72.5 390.2,72.0 390.3,71.4 390.4,70.6 390.5,69.8 390.6,68.8 390.7,67.8 390.8,66.7 390.9,65.6 391.0,64.5 391.1,63.4 391.2,62.2 391.3,61.1 391.4,60.1 391.5,59.1 391.6,58.2 391.7,57.4 391.8,56.8 391.9,56.2 392.0,55.8 392.1,55.5 392.2,55.4 392.3,55.4 392.4,55.5 392.5,55.8 392.6,56.3 392.7,56.9 392.8,57.6 392.9,58.4 393.0,59.3 393.1,60.3 393.2,61.3 393.3,62.4 393.4,63.5 393.5,64.7 393.6,65.8 393.7,66.9 393.8,68.0 393.9,69.0 394.0,69.9 394.1,70.7 394.2,71.5 394.3,72.1 394.4,72.5 394.5,72.9 394.6,73.1 394.7,73.1 394.8,73.0 394.9,72.7 395.0,72.3 395.1,71.8 395.2,71.2 395.3,70.4 395.4,69.5 395.5,68.6 395.6,67.5 395.7,66.5 395.8,65.3 395.9,64.2 396.0,63.0 396.1,61.9 396.2,60.8 396.3,59.8 396.4,58.9 396.5,58.0 396.6,57.2 396.7,56.6 396.8,56.1 396.9,55.7 397.0,55.4 397.1,55.4 397.2,55.4 397.3,55.6 397.4,55.9 397.5,56.4 397.6,57.0 397.7,57.8 397.8,58.6 397.9,59.5 398.0,60.5 398.1,61.6 398.2,62.7 398.3,63.8 398.4,65.0 398.5,66.1 398.6,67.2 398.7,68.3 398.8,69.2 398.9,70.1 399.0,70.9 399.1,71.6 399.2,72.2 399.3,72.6 399.4,72.9 399.5,73.1 399.6,73.1 399.7,72.9 399.8,72.7 399.9,72.2 400.0,71.7 400.1,71.0 400.2,70.2 400.3,69.3 400.4,68.3 400.5,67.3 400.6,66.2 400.7,65.0 400.8,63.9 400.9,62.7 401.0,61.6 401.1,60.6 401.2,59.6 401.3,58.6 401.4,57.8 401.5,57.1 401.6,56.4 401.7,56.0 401.8,55.6 401.9,55.4 402.0,55.4 402.1,55.4 402.2,55.7 402.3,56.1 402.4,56.6 402.5,57.2 402.6,58.0 402.7,58.8 402.8,59.8 402.9,60.8 403.0,61.9 403.1,63.0 403.2,64.1 403.3,65.3 403.4,66.4 403.5,67.5 403.6,68.5 403.7,69.5 403.8,70.4 403.9,71.1 404.0,71.8 404.1,72.3 404.2,72.7 404.3,73.0 404.4,73.1 404.5,73.1 404.6,72.9 404.7,72.5 404.8,72.1 404.9,71.5 405.0,70.8 405.1,69.9 405.2,69.0 405.3,68.0 405.4,67.0 405.5,65.9 405.6,64.7 405.7,63.6 405.8,62.4 405.9,61.3 406.0,60.3 406.1,59.3 406.2,58.4 406.3,57.6 406.4,56.9 406.5,56.3 406.6,55.9 406.7,55.5 406.8,55.4 406.9,55.4 407.0,55.5 407.1,55.8 407.2,56.2 407.3,56.7 407.4,57.4 407.5,58.2 407.6,59.1 407.7,60.0 407.8,61.1 407.9,62.2 408.0,63.3 408.1,64.4 408.2,65.6 408.3,66.7 408.4,67.8 408.5,68.8 408.6,69.7 408.7,70.6 408.8,71.3 408.9,72.0 409.0,72.4 409.1,72.8 409.2,73.0 409.3,73.1 409.3,73.0 409.4,72.8 409.5,72.4 409.6,71.9 409.7,71.3 409.8,70.6 409.9,69.7 410.0,68.8 410.1,67.8 410.2,66.7 410.3,65.6 410.4,64.4 410.5,63.3 410.6,62.2 410.7,61.1 410.8,60.0 410.9,59.1 411.0,58.2 411.1,57.4 411.2,56.7 411.3,56.2 411.4,55.8 411.5,55.5 411.6,55.4 411.7,55.4 411.8,55.5 411.9,55.9 412.0,56.3 412.1,56.9 412.2,57.6 412.3,58.4 412.4,59.3 412.5,60.3 412.6,61.4 412.7,62.5 412.8,63.6 412.9,64.8 413.0,65.9 413.1,67.0 413.2,68.1 413.3,69.1 413.4,70.0 413.5,70.8 413.6,71.5 413.7,72.1 413.8,72.6 413.9,72.9 414.0,73.1 414.1,73.1 414.2,73.0 414.3,72.7 414.4,72.3 414.5,71.8 414.6,71.1 414.7,70.3 414.8,69.5 414.9,68.5 415.0,67.5 415.1,66.4 415.2,65.3 415.3,64.1 415.4,63.0 415.5,61.9 415.6,60.8 415.7,59.8 415.8,58.8 415.9,57.9 416.0,57.2 416.1,56.6 416.2,56.0 416.3,55.7 416.4,55.4 416.5,55.4 416.6,55.4 416.7,55.6 416.8,56.0 416.9,56.5 417.0,57.1 417.1,57.8 417.2,58.6 417.3,59.6 417.4,60.6 417.5,61.7 417.6,62.8 417.7,63.9 417.8,65.1 417.9,66.2 418.0,67.3 418.1,68.3 418.2,69.3 418.3,70.2 418.4,71.0 418.5,71.7 418.6,72.2 418.7,72.7 418.8,72.9 418.9,73.1 419.0,73.1 419.1,72.9 419.2,72.6 419.3,72.2 419.4,71.6 419.5,70.9 419.6,70.1 419.7,69.2 419.8,68.2 419.9,67.2 420.0,66.1 420.1,65.0 420.2,63.8 420.3,62.7 420.4,61.6 420.5,60.5 420.6,59.5 420.7,58.6 420.8,57.7 420.9,57.0 421.0,56.4 421.1,55.9 421.2,55.6 421.3,55.4 421.4,55.4 421.5,55.5 421.6,55.7 421.7,56.1 421.8,56.6 421.9,57.3 422.0,58.0 422.1,58.9 422.2,59.8 422.3,60.9 422.4,62.0 422.5,63.1 422.6,64.2 422.7,65.4 422.8,66.5 422.9,67.6 423.0,68.6 423.1,69.6 423.2,70.4 423.3,71.2 423.4,71.8 423.5,72.4 423.6,72.7 423.7,73.0 423.8,73.1 423.9,73.1 424.0,72.9 424.1,72.5 424.2,72.1 424.3,71.4 424.4,70.7 424.5,69.9 424.6,69.0 424.7,68.0 424.8,66.9 424.9,65.8 425.0,64.7 425.1,63.5 425.2,62.4 425.3,61.3 425.4,60.2 425.5,59.2 425.6,58.3 425.7,57.5 425.8,56.8 425.9,56.3 426.0,55.8 426.1,55.5 426.2,55.4 426.3,55.4 426.4,55.5 426.5,55.8 426.6,56.2 426.7,56.8 426.8,57.4 426.9,58.2 427.0,59.1 427.1,60.1 427.2,61.2 427.3,62.2 427.4,63.4 427.5,64.5 427.6,65.7 427.7,66.8 427.8,67.8 427.9,68.9 428.0,69.8 428.1,70.6 428.2,71.4 428.3,72.0 428.4,72.5 428.5,72.8 428.6,73.0 428.7,73.1 428.8,73.0 428.9,72.8 429.0,72.4 429.0,71.9 429.1,71.3 429.2,70.5 429.3,69.7 429.4,68.7 429.5,67.7 429.6,66.6 429.7,65.5 429.8,64.3 429.9,63.2 430.0,62.1 430.1,61.0 430.2,60.0 430.3,59.0 430.4,58.1 430.5,57.3 430.6,56.7 430.7,56.1 430.8,55.7 430.9,55.5 431.0,55.4 431.1,55.4 431.2,55.6 431.3,55.9 431.4,56.3 431.5,56.9 431.6,57.6 431.7,58.5 431.8,59.4 431.9,60.4 432.0,61.4 432.1,62.5 432.2,63.7 432.3,64.8 432.4,66.0 432.5,67.1 432.6,68.1 432.7,69.1 432.8,70.0 432.9,70.8 433.0,71.5 433.1,72.1 433.2,72.6 433.3,72.9 433.4,73.1 433.5,73.1 433.6,73.0 433.7,72.7 433.8,72.3 433.9,71.7 434.0,71.1 434.1,70.3 434.2,69.4 434.3,68.4 434.4,67.4 434.5,66.3 434.6,65.2 434.7,64.0 434.8,62.9 434.9,61.8 435.0,60.7 435.1,59.7 435.2,58.7 435.3,57.9 435.4,57.1 435.5,56.5 435.6,56.0 435.7,55.7 435.8,55.4 435.9,55.4 436.0,55.4 436.1,55.6 436.2,56.0 436.3,56.5 436.4,57.1 436.5,57.9 436.6,58.7 436.7,59.6 436.8,60.7 436.9,61.7 437.0,62.8 437.1,64.0 437.2,65.1 437.3,66.3 437.4,67.3 437.5,68.4 437.6,69.4 437.7,70.3 437.8,71.0 437.9,71.7 438.0,72.3 438.1,72.7 438.2,73.0 438.3,73.1 438.4,73.1 438.5,72.9 438.6,72.6 438.7,72.2 438.8,71.6 438.9,70.9 439.0,70.1 439.1,69.2 439.2,68.2 439.3,67.1 439.4,66.0 439.5,64.9 439.6,63.7 439.7,62.6 439.8,61.5 439.9,60.4 440.0,59.4 440.1,58.5 440.2,57.7 440.3,57.0 440.4,56.4 440.5,55.9 440.6,55.6 440.7,55.4 440.8,55.4 440.9,55.5 441.0,55.7 441.1,56.1 441.2,56.6 441.3,57.3 441.4,58.1 441.5,58.9 441.6,59.9 441.7,60.9 441.8,62.0 441.9,63.1 442.0,64.3 442.1,65.4 442.2,66.6 442.3,67.6 442.4,68.7 442.5,69.6 442.6,70.5 442.7,71.2 442.8,71.9 442.9,72.4 443.0,72.8 443.1,73.0 443.2,73.1 443.3,73.0 443.4,72.8 443.5,72.5 443.6,72.0 443.7,71.4 443.8,70.7 443.9,69.8 444.0,68.9 444.1,67.9 444.2,66.8 444.3,65.7 444.4,64.6 444.5,63.4 444.6,62.3 444.7,61.2 444.8,60.2 444.9,59.2 445.0,58.3 445.1,57.5 445.2,56.8 445.3,56.2 445.4,55.8 445.5,55.5 445.6,55.4 445.7,55.4 445.8,55.5 445.9,55.8 446.0,56.2 446.1,56.8 446.2,57.5 446.3,58.3 446.4,59.2 446.5,60.2 446.6,61.2 446.7,62.3 446.8,63.5 446.9,64.6 447.0,65.7 447.1,66.8 447.2,67.9 447.3,68.9 447.4,69.8 447.5,70.7 447.6,71.4 447.7,72.0 447.8,72.5 447.9,72.8 448.0,73.0 448.1,73.1 448.2,73.0 448.3,72.8 448.4,72.4 448.5,71.9 448.6,71.2 448.7,70.5 448.7,69.6 448.8,68.6 448.9,67.6 449.0,66.5 449.1,65.4 449.2,64.3 449.3,63.1 449.4,62.0 449.5,60.9" fill="none" stroke="#000" stroke-width="1.05" stroke-linejoin="round" opacity="0.22"/>
</g>
<rect x="397.40" y="6.25" width="56.00" height="25.65" rx="1.6" fill="#fff" fill-opacity="0.8" stroke="#cfcfcf" stroke-width="0.9"/>
<g clip-path="url(#c02)">
<polyline points="516.2,57.1 516.3,57.4 516.4,58.0 516.5,59.2 516.6,60.7 516.7,62.5 516.8,64.6 516.9,66.9 517.0,69.4 517.1,71.8 517.2,74.2 517.3,76.4 517.4,78.4 517.5,80.1 517.6,81.4 517.7,82.3 517.8,82.8 517.9,82.8 518.0,82.4 518.1,81.5 518.2,80.1 518.3,78.5 518.4,76.5 518.5,74.3 518.6,71.9 518.7,69.4 518.8,67.0 518.9,64.7 519.0,62.6 519.1,60.7 519.2,59.2 519.3,58.1 519.4,57.4 519.5,57.1 519.6,57.3 519.7,58.0 519.8,59.1 519.9,60.6 520.0,62.5 520.1,64.6 520.2,66.9 520.3,69.3 520.4,71.7 520.5,74.1 520.6,76.3 520.7,78.3 520.8,80.0 520.9,81.4 521.0,82.3 521.1,82.8 521.2,82.8 521.3,82.4 521.4,81.5 521.5,80.2 521.6,78.5 521.7,76.5 521.8,74.3 521.9,72.0 522.0,69.5 522.1,67.1 522.2,64.8 522.3,62.7 522.4,60.8 522.5,59.3 522.6,58.1 522.7,57.4 522.8,57.1 522.9,57.3 523.0,58.0 523.1,59.1 523.2,60.6 523.3,62.4 523.4,64.5 523.5,66.8 523.6,69.2 523.7,71.6 523.8,74.0 523.9,76.3 524.0,78.3 524.1,80.0 524.2,81.3 524.3,82.3 524.4,82.8 524.5,82.8 524.6,82.4 524.7,81.5 524.8,80.2 524.9,78.6 525.0,76.6 525.1,74.4 525.2,72.0 525.3,69.6 525.4,67.2 525.5,64.9 525.6,62.7 525.7,60.8 525.8,59.3 525.9,58.1 526.0,57.4 526.1,57.1 526.2,57.3 526.3,58.0 526.4,59.0 526.5,60.5 526.6,62.3 526.7,64.4 526.8,66.7 526.9,69.1 526.9,71.6 527.0,73.9 527.1,76.2 527.2,78.2 527.3,79.9 527.4,81.3 527.5,82.3 527.6,82.8 527.7,82.8 527.8,82.4 527.9,81.6 528.0,80.3 528.1,78.6 528.2,76.7 528.3,74.5 528.4,72.1 528.5,69.7 528.6,67.3 528.7,64.9 528.8,62.8 528.9,60.9 529.0,59.3 529.1,58.2 529.2,57.4 529.3,57.1 529.4,57.3 529.5,57.9 529.6,59.0 529.7,60.4 529.8,62.3 529.9,64.3 530.0,66.6 530.1,69.0 530.2,71.5 530.3,73.9 530.4,76.1 530.5,78.1 530.6,79.9 530.7,81.3 530.8,82.2 530.9,82.8 531.0,82.8 531.1,82.4 531.2,81.6 531.3,80.3 531.4,78.7 531.5,76.8 531.6,74.6 531.7,72.2 531.8,69.8 531.9,67.3 532.0,65.0 532.1,62.9 532.2,61.0 532.3,59.4 532.4,58.2 532.5,57.4 532.6,57.1 532.7,57.3 532.8,57.9 532.9,58.9 533.0,60.4 533.1,62.2 533.2,64.3 533.3,66.5 533.4,68.9 533.5,71.4 533.6,73.8 533.7,76.0 533.8,78.1 533.9,79.8 534.0,81.2 534.1,82.2 534.2,82.8 534.3,82.8 534.4,82.5 534.5,81.6 534.6,80.4 534.7,78.8 534.8,76.8 534.9,74.6 535.0,72.3 535.1,69.9 535.2,67.4 535.3,65.1 535.4,62.9 535.5,61.0 535.6,59.4 535.7,58.2 535.8,57.5 535.9,57.1 536.0,57.3 536.1,57.9 536.2,58.9 536.3,60.3 536.4,62.1 536.5,64.2 536.6,66.5 536.7,68.9 536.8,71.3 536.9,73.7 537.0,76.0 537.1,78.0 537.2,79.8 537.3,81.2 537.4,82.2 537.5,82.7 537.6,82.8 537.7,82.5 537.8,81.7 537.9,80.4 538.0,78.8 538.1,76.9 538.2,74.7 538.3,72.4 538.4,69.9 538.5,67.5 538.6,65.2 538.7,63.0 538.8,61.1 538.9,59.5 539.0,58.3 539.1,57.5 539.2,57.1 539.3,57.3 539.4,57.8 539.5,58.9 539.6,60.3 539.7,62.1 539.8,64.1 539.9,66.4 540.0,68.8 540.1,71.2 540.2,73.6 540.3,75.9 540.4,78.0 540.5,79.7 540.6,81.1 540.7,82.2 540.8,82.7 540.9,82.8 541.0,82.5 541.1,81.7 541.2,80.5 541.3,78.9 541.4,77.0 541.5,74.8 541.6,72.5 541.7,70.0 541.8,67.6 541.9,65.2 542.0,63.1 542.1,61.1 542.2,59.5 542.3,58.3 542.4,57.5 542.5,57.1 542.6,57.2 542.7,57.8 542.8,58.8 542.9,60.2 543.0,62.0 543.1,64.0 543.2,66.3 543.3,68.7 543.4,71.1 543.5,73.5 543.6,75.8 543.7,77.9 543.8,79.7 543.9,81.1 544.0,82.1 544.1,82.7 544.2,82.9 544.3,82.5 544.4,81.7 544.5,80.5 544.6,78.9 544.7,77.0 544.8,74.9 544.9,72.5 545.0,70.1 545.1,67.7 545.2,65.3 545.3,63.1 545.4,61.2 545.5,59.6 545.6,58.3 545.7,57.5 545.8,57.1 545.9,57.2 546.0,57.8 546.1,58.8 546.2,60.2 546.3,61.9 546.4,64.0 546.5,66.2 546.6,68.6 546.6,71.1 546.7,73.5 546.8,75.7 546.9,77.8 547.0,79.6 547.1,81.1 547.2,82.1 547.3,82.7 547.4,82.9 547.5,82.5 547.6,81.8 547.7,80.6 547.8,79.0 547.9,77.1 548.0,75.0 548.1,72.6 548.2,70.2 548.3,67.8 548.4,65.4 548.5,63.2 548.6,61.3 548.7,59.6 548.8,58.4 548.9,57.5 549.0,57.2 549.1,57.2 549.2,57.8 549.3,58.7 549.4,60.1 549.5,61.9 549.6,63.9 549.7,66.1 549.8,68.5 549.9,71.0 550.0,73.4 550.1,75.7 550.2,77.8 550.3,79.6 550.4,81.0 550.5,82.1 550.6,82.7 550.7,82.9 550.8,82.6 550.9,81.8 551.0,80.6 551.1,79.1 551.2,77.2 551.3,75.0 551.4,72.7 551.5,70.3 551.6,67.8 551.7,65.5 551.8,63.3 551.9,61.3 552.0,59.7 552.1,58.4 552.2,57.6 552.3,57.2 552.4,57.2 552.5,57.7 552.6,58.7 552.7,60.1 552.8,61.8 552.9,63.8 553.0,66.1 553.1,68.5 553.2,70.9 553.3,73.3 553.4,75.6 553.5,77.7 553.6,79.5 553.7,81.0 553.8,82.0 553.9,82.7 554.0,82.9 554.1,82.6 554.2,81.8 554.3,80.7 554.4,79.1 554.5,77.2 554.6,75.1 554.7,72.8 554.8,70.4 554.9,67.9 555.0,65.5 555.1,63.3 555.2,61.4 555.3,59.7 555.4,58.4 555.5,57.6 555.6,57.2 555.7,57.2 555.8,57.7 555.9,58.7 556.0,60.0 556.1,61.7 556.2,63.8 556.3,66.0 556.4,68.4 556.5,70.8 556.6,73.2 556.7,75.5 556.8,77.6 556.9,79.4 557.0,80.9 557.1,82.0 557.2,82.7 557.3,82.9 557.4,82.6 557.5,81.9 557.6,80.7 557.7,79.2 557.8,77.3 557.9,75.2 558.0,72.9 558.1,70.4 558.2,68.0 558.3,65.6 558.4,63.4 558.5,61.4 558.6,59.8 558.7,58.5 558.8,57.6 558.9,57.2 559.0,57.2 559.1,57.7 559.2,58.6 559.3,60.0 559.4,61.7 559.5,63.7 559.6,65.9 559.7,68.3 559.8,70.7 559.9,73.2 560.0,75.5 560.1,77.6 560.2,79.4 560.3,80.9 560.4,82.0 560.5,82.7 560.6,82.9 560.7,82.6 560.8,81.9 560.9,80.8 561.0,79.2 561.1,77.4 561.2,75.3 561.3,72.9 561.4,70.5 561.5,68.1 561.6,65.7 561.7,63.5 561.8,61.5 561.9,59.8 562.0,58.5 562.1,57.6 562.2,57.2 562.3,57.2 562.4,57.7 562.5,58.6 562.6,59.9 562.7,61.6 562.8,63.6 562.9,65.8 563.0,68.2 563.1,70.7 563.2,73.1 563.3,75.4 563.4,77.5 563.5,79.3 563.6,80.8 563.7,82.0 563.8,82.6 563.9,82.9 564.0,82.6 564.1,81.9 564.2,80.8 564.3,79.3 564.4,77.4 564.5,75.3 564.6,73.0 564.7,70.6 564.8,68.2 564.9,65.8 565.0,63.6 565.1,61.6 565.2,59.9 565.3,58.6 565.4,57.6 565.5,57.2 565.6,57.2 565.7,57.6 565.8,58.5 565.9,59.9 566.0,61.5 566.1,63.5 566.2,65.8 566.3,68.1 566.3,70.6 566.4,73.0 566.5,75.3 566.6,77.4 566.7,79.3 566.8,80.8 566.9,81.9 567.0,82.6 567.1,82.9 567.2,82.6 567.3,82.0 567.4,80.9 567.5,79.4 567.6,77.5 567.7,75.4 567.8,73.1 567.9,70.7 568.0,68.2 568.1,65.9 568.2,63.6 568.3,61.6 568.4,59.9 568.5,58.6 568.6,57.7 568.7,57.2 568.8,57.2 568.9,57.6 569.0,58.5 569.1,59.8 569.2,61.5 569.3,63.5 569.4,65.7 569.5,68.0 569.6,70.5 569.7,72.9 569.8,75.2 569.9,77.4 570.0,79.2 570.1,80.7 570.2,81.9 570.3,82.6 570.4,82.9 570.5,82.7 570.6,82.0 570.7,80.9 570.8,79.4 570.9,77.6 571.0,75.5 571.1,73.2 571.2,70.8 571.3,68.3 571.4,65.9 571.5,63.7 571.6,61.7 571.7,60.0 571.8,58.6 571.9,57.7 572.0,57.2 572.1,57.2 572.2,57.6 572.3,58.5 572.4,59.8 572.5,61.4 572.6,63.4 572.7,65.6 572.8,68.0 572.9,70.4 573.0,72.8 573.1,75.2 573.2,77.3 573.3,79.2 573.4,80.7 573.5,81.9 573.6,82.6 573.7,82.9 573.8,82.7 573.9,82.0 574.0,80.9 574.1,79.5 574.2,77.6 574.3,75.6 574.4,73.3 574.5,70.8 574.6,68.4 574.7,66.0 574.8,63.8 574.9,61.8 575.0,60.0 575.1,58.7 575.2,57.7 575.3,57.2 575.4,57.2 575.5,57.6 575.6,58.4 575.7,59.7 575.8,61.4 575.9,63.3 576.0,65.5 576.1,67.9 576.2,70.3 576.3,72.7 576.4,75.1 576.5,77.2 576.6,79.1 576.7,80.7 576.8,81.8 576.9,82.6 577.0,82.9 577.1,82.7 577.2,82.1 577.3,81.0 577.4,79.5 577.5,77.7 577.6,75.6 577.7,73.3 577.8,70.9 577.9,68.5 578.0,66.1 578.1,63.8 578.2,61.8 578.3,60.1 578.4,58.7 578.5,57.7 578.6,57.2 578.7,57.2 578.8,57.6 578.9,58.4 579.0,59.7 579.1,61.3 579.2,63.3 579.3,65.4 579.4,67.8 579.5,70.2 579.6,72.7 579.7,75.0 579.8,77.2 579.9,79.0 580.0,80.6 580.1,81.8 580.2,82.6 580.3,82.9 580.4,82.7 580.5,82.1 580.6,81.0 580.7,79.6 580.8,77.8 580.9,75.7 581.0,73.4 581.1,71.0 581.2,68.6 581.3,66.2 581.4,63.9 581.5,61.9 581.6,60.1 581.7,58.8 581.8,57.8 581.9,57.2 582.0,57.1 582.1,57.5 582.2,58.4 582.3,59.6 582.4,61.2 582.5,63.2 582.6,65.4 582.7,67.7 582.8,70.2 582.9,72.6 583.0,74.9 583.1,77.1 583.2,79.0 583.3,80.6 583.4,81.8 583.5,82.5 583.6,82.9 583.7,82.7 583.8,82.1 583.9,81.1 584.0,79.6 584.1,77.8 584.2,75.8 584.3,73.5 584.4,71.1 584.5,68.6 584.6,66.3 584.7,64.0 584.8,61.9 584.9,60.2 585.0,58.8 585.1,57.8 585.2,57.2 585.3,57.1 585.4,57.5 585.5,58.3 585.6,59.6 585.7,61.2 585.8,63.1 585.9,65.3 585.9,67.6 586.0,70.1 586.1,72.5 586.2,74.8 586.3,77.0 586.4,78.9 586.5,80.5 586.6,81.7 586.7,82.5 586.8,82.9 586.9,82.7 587.0,82.1 587.1,81.1 587.2,79.7 587.3,77.9 587.4,75.8 587.5,73.6 587.6,71.2 587.7,68.7 587.8,66.3 587.9,64.1 588.0,62.0 588.1,60.2 588.2,58.8 588.3,57.8 588.4,57.3 588.5,57.1 588.6,57.5 588.7,58.3 588.8,59.5 588.9,61.1 589.0,63.0 589.1,65.2 589.2,67.6 589.3,70.0 589.4,72.4 589.5,74.8 589.6,76.9 589.7,78.9 589.8,80.5 589.9,81.7 590.0,82.5 590.1,82.8 590.2,82.7 590.3,82.2 590.4,81.2 590.5,79.7 590.6,78.0 590.7,75.9 590.8,73.7 590.9,71.3 591.0,68.8 591.1,66.4 591.2,64.1 591.3,62.1 591.4,60.3 591.5,58.9 591.6,57.9 591.7,57.3 591.8,57.1 591.9,57.5 592.0,58.3 592.1,59.5 592.2,61.1 592.3,63.0 592.4,65.1 592.5,67.5 592.6,69.9 592.7,72.3 592.8,74.7 592.9,76.9 593.0,78.8 593.1,80.4 593.2,81.7 593.3,82.5 593.4,82.8 593.5,82.7 593.6,82.2 593.7,81.2 593.8,79.8 593.9,78.0 594.0,76.0 594.1,73.7 594.2,71.3 594.3,68.9 594.4,66.5 594.5,64.2 594.6,62.1 594.7,60.4 594.8,58.9 594.9,57.9 595.0,57.3 595.1,57.1 595.2,57.5 595.3,58.2 595.4,59.4 595.5,61.0 595.6,62.9 595.7,65.1 595.8,67.4 595.9,69.8 596.0,72.3 596.1,74.6 596.2,76.8 596.3,78.7 596.4,80.4 596.5,81.6 596.6,82.5 596.7,82.8 596.8,82.8 596.9,82.2 597.0,81.2 597.1,79.8 597.2,78.1 597.3,76.1 597.4,73.8 597.5,71.4 597.6,69.0 597.7,66.6 597.8,64.3 597.9,62.2 598.0,60.4 598.1,59.0 598.2,57.9 598.3,57.3 598.4,57.1 598.5,57.4 598.6,58.2 598.7,59.4 598.8,60.9 598.9,62.8 599.0,65.0 599.1,67.3 599.2,69.7 599.3,72.2 599.4,74.5 599.5,76.7 599.6,78.7 599.7,80.3 599.8,81.6 599.9,82.4 600.0,82.8 600.1,82.8 600.2,82.2 600.3,81.3 600.4,79.9 600.5,78.2 600.6,76.1 600.7,73.9 600.8,71.5 600.9,69.1 601.0,66.7 601.1,64.4 601.2,62.3 601.3,60.5 601.4,59.0 601.5,57.9 601.6,57.3 601.7,57.1 601.8,57.4 601.9,58.2 602.0,59.3 602.1,60.9 602.2,62.8 602.3,64.9 602.4,67.2 602.5,69.7 602.6,72.1 602.7,74.5 602.8,76.7 602.9,78.6 603.0,80.3 603.1,81.6 603.2,82.4 603.3,82.8 603.4,82.8 603.5,82.3 603.6,81.3 603.7,80.0 603.8,78.2 603.9,76.2 604.0,74.0 604.1,71.6 604.2,69.1 604.3,66.7 604.4,64.4 604.5,62.3 604.6,60.5 604.7,59.0 604.8,58.0 604.9,57.3 605.0,57.1 605.1,57.4 605.2,58.1 605.3,59.3 605.4,60.8 605.5,62.7 605.6,64.8 605.6,67.2 605.7,69.6 605.8,72.0 605.9,74.4 606.0,76.6 606.1,78.6 606.2,80.2 606.3,81.5 606.4,82.4 606.5,82.8 606.6,82.8 606.7,82.3 606.8,81.4 606.9,80.0 607.0,78.3 607.1,76.3 607.2,74.0 607.3,71.7 607.4,69.2 607.5,66.8 607.6,64.5 607.7,62.4 607.8,60.6 607.9,59.1 608.0,58.0 608.1,57.3 608.2,57.1 608.3,57.4 608.4,58.1 608.5,59.2 608.6,60.8 608.7,62.6 608.8,64.8 608.9,67.1 609.0,69.5 609.1,71.9 609.2,74.3 609.3,76.5 609.4,78.5 609.5,80.2 609.6,81.5 609.7,82.4 609.8,82.8 609.9,82.8 610.0,82.3 610.1,81.4 610.2,80.1 610.3,78.4 610.4,76.4 610.5,74.1 610.6,71.7 610.7,69.3 610.8,66.9 610.9,64.6 611.0,62.5 611.1,60.6 611.2,59.1 611.3,58.0 611.4,57.3 611.5,57.1 611.6,57.4 611.7,58.1 611.8,59.2 611.9,60.7 612.0,62.6 612.1,64.7 612.2,67.0 612.3,69.4 612.4,71.9 612.5,74.2 612.6,76.5 612.7,78.4 612.8,80.1 612.9,81.4 613.0,82.3 613.1,82.8 613.2,82.8 613.3,82.3 613.4,81.4 613.5,80.1 613.6,78.4 613.7,76.4 613.8,74.2 613.9,71.8 614.0,69.4 614.1,67.0 614.2,64.7 614.3,62.5 614.4,60.7 614.5,59.2 614.6,58.1 614.7,57.4 614.8,57.1 614.9,57.4 615.0,58.0 615.1,59.1 615.2,60.7 615.3,62.5 615.4,64.6 615.5,66.9 615.6,69.3 615.7,71.8 615.8,74.2 615.9,76.4 616.0,78.4 616.1,80.1 616.2,81.4 616.3,82.3 616.4,82.8 616.5,82.8 616.6,82.4 616.7,81.5 616.8,80.2 616.9,78.5 617.0,76.5 617.1,74.3 617.2,71.9 617.3,69.5 617.4,67.1 617.5,64.7 617.6,62.6 617.7,60.8 617.8,59.2 617.9,58.1 618.0,57.4 618.1,57.1 618.2,57.3 618.3,58.0 618.4,59.1 618.5,60.6 618.6,62.4 618.7,64.5 618.8,66.8 618.9,69.3 619.0,71.7 619.1,74.1 619.2,76.3 619.3,78.3 619.4,80.0 619.5,81.4 619.6,82.3 619.7,82.8 619.8,82.8 619.9,82.4 620.0,81.5 620.1,80.2 620.2,78.5 620.3,76.6 620.4,74.4 620.5,72.0 620.6,69.6 620.7,67.1 620.8,64.8 620.9,62.7 621.0,60.8 621.1,59.3 621.2,58.1 621.3,57.4 621.4,57.1 621.5,57.3 621.6,58.0 621.7,59.1 621.8,60.5 621.9,62.4 622.0,64.5 622.1,66.8 622.2,69.2 622.3,71.6 622.4,74.0 622.5,76.2 622.6,78.3 622.7,80.0 622.8,81.3 622.9,82.3 623.0,82.8 623.1,82.8 623.2,82.4 623.3,81.5 623.4,80.3 623.5,78.6 623.6,76.6 623.7,74.4 623.8,72.1 623.9,69.6 624.0,67.2 624.1,64.9 624.2,62.7 624.3,60.9 624.4,59.3 624.5,58.2 624.6,57.4 624.7,57.1 624.8,57.3 624.9,57.9 625.0,59.0 625.1,60.5 625.2,62.3 625.2,64.4 625.3,66.7 625.4,69.1 625.5,71.5 625.6,73.9 625.7,76.2 625.8,78.2 625.9,79.9 626.0,81.3 626.1,82.2 626.2,82.8 626.3,82.8 626.4,82.4 626.5,81.6 626.6,80.3 626.7,78.7 626.8,76.7 626.9,74.5 627.0,72.2 627.1,69.7 627.2,67.3 627.3,65.0 627.4,62.8 627.5,60.9 627.6,59.4 627.7,58.2 627.8,57.4 627.9,57.1 628.0,57.3 628.1,57.9 628.2,59.0 628.3,60.4 628.4,62.2 628.5,64.3 628.6,66.6 628.7,69.0 628.8,71.4 628.9,73.8 629.0,76.1 629.1,78.1 629.2,79.9 629.3,81.2 629.4,82.2 629.5,82.8 629.6,82.8 629.7,82.4 629.8,81.6 629.9,80.4 630.0,78.7 630.1,76.8 630.2,74.6 630.3,72.2 630.4,69.8 630.5,67.4 630.6,65.0 630.7,62.9 630.8,61.0 630.9,59.4 631.0,58.2 631.1,57.4 631.2,57.1 631.3,57.3 631.4,57.9 631.5,58.9 631.6,60.4 631.7,62.2 631.8,64.2 631.9,66.5 632.0,68.9 632.1,71.4 632.2,73.8 632.3,76.0 632.4,78.1 632.5,79.8 632.6,81.2 632.7,82.2 632.8,82.7 632.9,82.8 633.0,82.5 633.1,81.6 633.2,80.4 633.3,78.8 633.4,76.9 633.5,74.7 633.6,72.3 633.7,69.9 633.8,67.5 633.9,65.1 634.0,63.0 634.1,61.0 634.2,59.5 634.3,58.2 634.4,57.5 634.5,57.1 634.6,57.3 634.7,57.9 634.8,58.9 634.9,60.3 635.0,62.1 635.1,64.2 635.2,66.4 635.3,68.8 635.4,71.3 635.5,73.7 635.6,75.9 635.7,78.0 635.8,79.8 635.9,81.2 636.0,82.2 636.1,82.7 636.2,82.8 636.3,82.5 636.4,81.7 636.5,80.5 636.6,78.8 636.7,76.9 636.8,74.7 636.9,72.4 637.0,70.0 637.1,67.5 637.2,65.2 637.3,63.0 637.4,61.1 637.5,59.5 637.6,58.3 637.7,57.5 637.8,57.1 637.9,57.3 638.0,57.8 638.1,58.8 638.2,60.3 638.3,62.0 638.4,64.1 638.5,66.4 638.6,68.8 638.7,71.2 638.8,73.6 638.9,75.9 639.0,77.9 639.1,79.7 639.2,81.1 639.3,82.1 639.4,82.7 639.5,82.8 639.6,82.5 639.7,81.7 639.8,80.5 639.9,78.9 640.0,77.0 640.1,74.8 640.2,72.5 640.3,70.0 640.4,67.6 640.5,65.3 640.6,63.1 640.7,61.2 640.8,59.6 640.9,58.3 641.0,57.5 641.1,57.1 641.2,57.2 641.3,57.8 641.4,58.8 641.5,60.2 641.6,62.0 641.7,64.0 641.8,66.3 641.9,68.7 642.0,71.1 642.1,73.5 642.2,75.8 642.3,77.9 642.4,79.6 642.5,81.1 642.6,82.1 642.7,82.7 642.8,82.9 642.9,82.5 643.0,81.8 643.1,80.5 643.2,79.0 643.3,77.1 643.4,74.9 643.5,72.6 643.6,70.1 643.7,67.7 643.8,65.3 643.9,63.2 644.0,61.2 644.1,59.6 644.2,58.4 644.3,57.5 644.4,57.1 644.5,57.2 644.6,57.8 644.7,58.8 644.8,60.2 644.9,61.9 644.9,63.9 645.0,66.2 645.1,68.6 645.2,71.0 645.3,73.4 645.4,75.7 645.5,77.8 645.6,79.6 645.7,81.0 645.8,82.1 645.9,82.7 646.0,82.9 646.1,82.5 646.2,81.8 646.3,80.6 646.4,79.0 646.5,77.1 646.6,75.0 646.7,72.6 646.8,70.2 646.9,67.8 647.0,65.4 647.1,63.2 647.2,61.3 647.3,59.6 647.4,58.4 647.5,57.5 647.6,57.2 647.7,57.2 647.8,57.8 647.9,58.7 648.0,60.1 648.1,61.8 648.2,63.9 648.3,66.1 648.4,68.5 648.5,71.0 648.6,73.4 648.7,75.7 648.8,77.7 648.9,79.5 649.0,81.0 649.1,82.1 649.2,82.7 649.3,82.9 649.4,82.6 649.5,81.8 649.6,80.6 649.7,79.1 649.8,77.2 649.9,75.1 650.0,72.7 650.1,70.3 650.2,67.9 650.3,65.5 650.4,63.3 650.5,61.3 650.6,59.7 650.7,58.4 650.8,57.6 650.9,57.2 651.0,57.2 651.1,57.7 651.2,58.7 651.3,60.1 651.4,61.8 651.5,63.8 651.6,66.0 651.7,68.4 651.8,70.9 651.9,73.3 652.0,75.6 652.1,77.7 652.2,79.5 652.3,81.0 652.4,82.0 652.5,82.7 652.6,82.9 652.7,82.6 652.8,81.8 652.9,80.7 653.0,79.1 653.1,77.3 653.2,75.1 653.3,72.8 653.4,70.4 653.5,67.9 653.6,65.6 653.7,63.4 653.8,61.4 653.9,59.7 654.0,58.5 654.1,57.6 654.2,57.2 654.3,57.2 654.4,57.7 654.5,58.6 654.6,60.0 654.7,61.7 654.8,63.7 654.9,66.0 655.0,68.3 655.1,70.8 655.2,73.2 655.3,75.5 655.4,77.6 655.5,79.4 655.6,80.9 655.7,82.0 655.8,82.7 655.9,82.9 656.0,82.6 656.1,81.9 656.2,80.7 656.3,79.2 656.4,77.3 656.5,75.2 656.6,72.9 656.7,70.5 656.8,68.0 656.9,65.7 657.0,63.4 657.1,61.5 657.2,59.8 657.3,58.5 657.4,57.6 657.5,57.2 657.6,57.2 657.7,57.7 657.8,58.6 657.9,59.9 658.0,61.7 658.1,63.7 658.2,65.9 658.3,68.3 658.4,70.7 658.5,73.1 658.6,75.4 658.7,77.5 658.8,79.4 658.9,80.9 659.0,82.0 659.1,82.6 659.2,82.9 659.3,82.6 659.4,81.9 659.5,80.8 659.6,79.3 659.7,77.4 659.8,75.3 659.9,73.0 660.0,70.5 660.1,68.1 660.2,65.7 660.3,63.5 660.4,61.5 660.5,59.8 660.6,58.5 660.7,57.6 660.8,57.2 660.9,57.2 661.0,57.7 661.1,58.6 661.2,59.9 661.3,61.6 661.4,63.6 661.5,65.8 661.6,68.2 661.7,70.6 661.8,73.0 661.9,75.4 662.0,77.5 662.1,79.3 662.2,80.8 662.3,81.9 662.4,82.6 662.5,82.9 662.6,82.6 662.7,81.9 662.8,80.8 662.9,79.3 663.0,77.5 663.1,75.4 663.2,73.0 663.3,70.6 663.4,68.2 663.5,65.8 663.6,63.6 663.7,61.6 663.8,59.9 663.9,58.6 664.0,57.7 664.1,57.2 664.2,57.2 664.3,57.6 664.4,58.5 664.5,59.8 664.6,61.5 664.6,63.5 664.7,65.7 664.8,68.1 664.9,70.5 665.0,73.0 665.1,75.3 665.2,77.4 665.3,79.3 665.4,80.8 665.5,81.9 665.6,82.6 665.7,82.9 665.8,82.6 665.9,82.0 666.0,80.9 666.1,79.4 666.2,77.5 666.3,75.4 666.4,73.1 666.5,70.7 666.6,68.3 666.7,65.9 666.8,63.7 666.9,61.7 667.0,60.0 667.1,58.6 667.2,57.7 667.3,57.2 667.4,57.2 667.5,57.6 667.6,58.5 667.7,59.8 667.8,61.5 667.9,63.4 668.0,65.7 668.1,68.0 668.2,70.5 668.3,72.9 668.4,75.2 668.5,77.3 668.6,79.2 668.7,80.7 668.8,81.9 668.9,82.6 669.0,82.9 669.1,82.7 669.2,82.0 669.3,80.9 669.4,79.4 669.5,77.6 669.6,75.5 669.7,73.2 669.8,70.8 669.9,68.3 670.0,66.0 670.1,63.7 670.2,61.7 670.3,60.0 670.4,58.6 670.5,57.7 670.6,57.2 670.7,57.2 670.8,57.6 670.9,58.5 671.0,59.7 671.1,61.4 671.2,63.4 671.3,65.6 671.4,67.9 671.5,70.4 671.6,72.8 671.7,75.1 671.8,77.3 671.9,79.1 672.0,80.7 672.1,81.8 672.2,82.6 672.3,82.9 672.4,82.7 672.5,82.0 672.6,81.0 672.7,79.5 672.8,77.7 672.9,75.6 673.0,73.3 673.1,70.9 673.2,68.4 673.3,66.0 673.4,63.8 673.5,61.8 673.6,60.1 673.7,58.7 673.8,57.7 673.9,57.2 674.0,57.2 674.1,57.6 674.2,58.4 674.3,59.7 674.4,61.3 674.5,63.3 674.6,65.5 674.7,67.9 674.8,70.3 674.9,72.7 675.0,75.1 675.1,77.2 675.2,79.1 675.3,80.6" fill="none" stroke="#000" stroke-width="0.85" stroke-linejoin="round" opacity="1.0"/>
<polyline points="516.2,57.3 516.3,57.7 516.4,58.7 516.5,60.4 516.6,62.5 516.7,64.8 516.8,67.2 516.9,69.4 517.0,71.1 517.1,72.4 517.2,72.9 517.3,72.7 517.4,71.8 517.5,70.3 517.6,68.3 517.7,66.0 517.8,63.6 517.9,61.4 518.0,59.5 518.1,58.1 518.2,57.4 518.3,57.4 518.4,58.1 518.5,59.5 518.6,61.4 518.7,63.6 518.8,66.0 518.9,68.3 519.0,70.3 519.1,71.8 519.2,72.7 519.3,72.9 519.4,72.4 519.5,71.1 519.6,69.4 519.7,67.2 519.8,64.8 519.9,62.5 520.0,60.4 520.1,58.7 520.2,57.7 520.3,57.3 520.4,57.7 520.5,58.7 520.6,60.4 520.7,62.5 520.8,64.8 520.9,67.2 521.0,69.3 521.1,71.1 521.2,72.3 521.3,72.9 521.4,72.7 521.5,71.8 521.6,70.3 521.7,68.3 521.8,66.0 521.9,63.6 522.0,61.4 522.1,59.5 522.2,58.1 522.3,57.4 522.4,57.4 522.5,58.1 522.6,59.5 522.7,61.4 522.8,63.6 522.9,66.0 523.0,68.3 523.1,70.3 523.2,71.8 523.3,72.7 523.4,72.9 523.5,72.4 523.6,71.2 523.7,69.4 523.8,67.2 523.9,64.8 524.0,62.5 524.1,60.4 524.2,58.7 524.3,57.7 524.4,57.3 524.5,57.7 524.6,58.7 524.7,60.3 524.8,62.4 524.9,64.8 525.0,67.1 525.1,69.3 525.2,71.1 525.3,72.3 525.4,72.9 525.5,72.7 525.6,71.8 525.7,70.3 525.8,68.3 525.9,66.0 526.0,63.7 526.1,61.4 526.2,59.5 526.3,58.1 526.4,57.4 526.5,57.4 526.6,58.1 526.7,59.5 526.8,61.3 526.9,63.6 526.9,66.0 527.0,68.3 527.1,70.3 527.2,71.8 527.3,72.7 527.4,72.9 527.5,72.4 527.6,71.2 527.7,69.4 527.8,67.2 527.9,64.9 528.0,62.5 528.1,60.4 528.2,58.8 528.3,57.7 528.4,57.3 528.5,57.7 528.6,58.7 528.7,60.3 528.8,62.4 528.9,64.8 529.0,67.1 529.1,69.3 529.2,71.1 529.3,72.3 529.4,72.9 529.5,72.7 529.6,71.9 529.7,70.4 529.8,68.4 529.9,66.1 530.0,63.7 530.1,61.4 530.2,59.5 530.3,58.1 530.4,57.4 530.5,57.4 530.6,58.1 530.7,59.4 530.8,61.3 530.9,63.6 531.0,65.9 531.1,68.2 531.2,70.3 531.3,71.8 531.4,72.7 531.5,72.9 531.6,72.4 531.7,71.2 531.8,69.4 531.9,67.2 532.0,64.9 532.1,62.5 532.2,60.4 532.3,58.8 532.4,57.7 532.5,57.3 532.6,57.6 532.7,58.7 532.8,60.3 532.9,62.4 533.0,64.7 533.1,67.1 533.2,69.3 533.3,71.1 533.4,72.3 533.5,72.9 533.6,72.7 533.7,71.9 533.8,70.4 533.9,68.4 534.0,66.1 534.1,63.7 534.2,61.5 534.3,59.5 534.4,58.1 534.5,57.4 534.6,57.4 534.7,58.1 534.8,59.4 534.9,61.3 535.0,63.5 535.1,65.9 535.2,68.2 535.3,70.2 535.4,71.8 535.5,72.7 535.6,72.9 535.7,72.4 535.8,71.2 535.9,69.4 536.0,67.3 536.1,64.9 536.2,62.6 536.3,60.4 536.4,58.8 536.5,57.7 536.6,57.3 536.7,57.6 536.8,58.7 536.9,60.3 537.0,62.4 537.1,64.7 537.2,67.1 537.3,69.3 537.4,71.1 537.5,72.3 537.6,72.9 537.7,72.7 537.8,71.9 537.9,70.4 538.0,68.4 538.1,66.1 538.2,63.7 538.3,61.5 538.4,59.6 538.5,58.2 538.6,57.4 538.7,57.4 538.8,58.1 538.9,59.4 539.0,61.3 539.1,63.5 539.2,65.9 539.3,68.2 539.4,70.2 539.5,71.8 539.6,72.7 539.7,72.9 539.8,72.4 539.9,71.2 540.0,69.4 540.1,67.3 540.2,64.9 540.3,62.6 540.4,60.5 540.5,58.8 540.6,57.7 540.7,57.3 540.8,57.6 540.9,58.7 541.0,60.3 541.1,62.4 541.2,64.7 541.3,67.1 541.4,69.3 541.5,71.1 541.6,72.3 541.7,72.9 541.8,72.7 541.9,71.9 542.0,70.4 542.1,68.4 542.2,66.1 542.3,63.7 542.4,61.5 542.5,59.6 542.6,58.2 542.7,57.4 542.8,57.4 542.9,58.1 543.0,59.4 543.1,61.3 543.2,63.5 543.3,65.9 543.4,68.2 543.5,70.2 543.6,71.8 543.7,72.7 543.8,72.9 543.9,72.4 544.0,71.2 544.1,69.5 544.2,67.3 544.3,64.9 544.4,62.6 544.5,60.5 544.6,58.8 544.7,57.7 544.8,57.3 544.9,57.6 545.0,58.7 545.1,60.3 545.2,62.4 545.3,64.7 545.4,67.1 545.5,69.3 545.6,71.1 545.7,72.3 545.8,72.9 545.9,72.7 546.0,71.9 546.1,70.4 546.2,68.4 546.3,66.1 546.4,63.8 546.5,61.5 546.6,59.6 546.6,58.2 546.7,57.4 546.8,57.4 546.9,58.1 547.0,59.4 547.1,61.3 547.2,63.5 547.3,65.9 547.4,68.2 547.5,70.2 547.6,71.8 547.7,72.7 547.8,72.9 547.9,72.4 548.0,71.2 548.1,69.5 548.2,67.3 548.3,65.0 548.4,62.6 548.5,60.5 548.6,58.8 548.7,57.7 548.8,57.3 548.9,57.6 549.0,58.6 549.1,60.3 549.2,62.3 549.3,64.7 549.4,67.0 549.5,69.2 549.6,71.0 549.7,72.3 549.8,72.9 549.9,72.7 550.0,71.9 550.1,70.4 550.2,68.4 550.3,66.2 550.4,63.8 550.5,61.5 550.6,59.6 550.7,58.2 550.8,57.4 550.9,57.4 551.0,58.0 551.1,59.4 551.2,61.2 551.3,63.5 551.4,65.9 551.5,68.2 551.6,70.2 551.7,71.7 551.8,72.7 551.9,72.9 552.0,72.4 552.1,71.2 552.2,69.5 552.3,67.3 552.4,65.0 552.5,62.6 552.6,60.5 552.7,58.8 552.8,57.7 552.9,57.3 553.0,57.6 553.1,58.6 553.2,60.3 553.3,62.3 553.4,64.7 553.5,67.0 553.6,69.2 553.7,71.0 553.8,72.3 553.9,72.9 554.0,72.8 554.1,71.9 554.2,70.4 554.3,68.5 554.4,66.2 554.5,63.8 554.6,61.5 554.7,59.6 554.8,58.2 554.9,57.4 555.0,57.4 555.1,58.0 555.2,59.4 555.3,61.2 555.4,63.5 555.5,65.8 555.6,68.2 555.7,70.2 555.8,71.7 555.9,72.7 556.0,72.9 556.1,72.4 556.2,71.2 556.3,69.5 556.4,67.3 556.5,65.0 556.6,62.6 556.7,60.5 556.8,58.8 556.9,57.7 557.0,57.3 557.1,57.6 557.2,58.6 557.3,60.2 557.4,62.3 557.5,64.6 557.6,67.0 557.7,69.2 557.8,71.0 557.9,72.3 558.0,72.9 558.1,72.8 558.2,71.9 558.3,70.4 558.4,68.5 558.5,66.2 558.6,63.8 558.7,61.5 558.8,59.6 558.9,58.2 559.0,57.4 559.1,57.4 559.2,58.0 559.3,59.4 559.4,61.2 559.5,63.4 559.6,65.8 559.7,68.1 559.8,70.2 559.9,71.7 560.0,72.7 560.1,72.9 560.2,72.4 560.3,71.3 560.4,69.5 560.5,67.4 560.6,65.0 560.7,62.7 560.8,60.5 560.9,58.8 561.0,57.7 561.1,57.3 561.2,57.6 561.3,58.6 561.4,60.2 561.5,62.3 561.6,64.6 561.7,67.0 561.8,69.2 561.9,71.0 562.0,72.3 562.1,72.9 562.2,72.8 562.3,71.9 562.4,70.5 562.5,68.5 562.6,66.2 562.7,63.8 562.8,61.6 562.9,59.6 563.0,58.2 563.1,57.4 563.2,57.4 563.3,58.0 563.4,59.3 563.5,61.2 563.6,63.4 563.7,65.8 563.8,68.1 563.9,70.2 564.0,71.7 564.1,72.7 564.2,72.9 564.3,72.4 564.4,71.3 564.5,69.5 564.6,67.4 564.7,65.0 564.8,62.7 564.9,60.5 565.0,58.8 565.1,57.7 565.2,57.3 565.3,57.6 565.4,58.6 565.5,60.2 565.6,62.3 565.7,64.6 565.8,67.0 565.9,69.2 566.0,71.0 566.1,72.3 566.2,72.9 566.3,72.8 566.3,71.9 566.4,70.5 566.5,68.5 566.6,66.2 566.7,63.8 566.8,61.6 566.9,59.6 567.0,58.2 567.1,57.4 567.2,57.4 567.3,58.0 567.4,59.3 567.5,61.2 567.6,63.4 567.7,65.8 567.8,68.1 567.9,70.1 568.0,71.7 568.1,72.7 568.2,72.9 568.3,72.4 568.4,71.3 568.5,69.5 568.6,67.4 568.7,65.0 568.8,62.7 568.9,60.6 569.0,58.9 569.1,57.7 569.2,57.3 569.3,57.6 569.4,58.6 569.5,60.2 569.6,62.3 569.7,64.6 569.8,67.0 569.9,69.2 570.0,71.0 570.1,72.3 570.2,72.9 570.3,72.8 570.4,71.9 570.5,70.5 570.6,68.5 570.7,66.2 570.8,63.9 570.9,61.6 571.0,59.7 571.1,58.2 571.2,57.4 571.3,57.4 571.4,58.0 571.5,59.3 571.6,61.2 571.7,63.4 571.8,65.8 571.9,68.1 572.0,70.1 572.1,71.7 572.2,72.7 572.3,72.9 572.4,72.4 572.5,71.3 572.6,69.6 572.7,67.4 572.8,65.1 572.9,62.7 573.0,60.6 573.1,58.9 573.2,57.7 573.3,57.3 573.4,57.6 573.5,58.6 573.6,60.2 573.7,62.2 573.8,64.6 573.9,66.9 574.0,69.1 574.1,71.0 574.2,72.3 574.3,72.9 574.4,72.8 574.5,72.0 574.6,70.5 574.7,68.5 574.8,66.3 574.9,63.9 575.0,61.6 575.1,59.7 575.2,58.2 575.3,57.4 575.4,57.4 575.5,58.0 575.6,59.3 575.7,61.2 575.8,63.4 575.9,65.8 576.0,68.1 576.1,70.1 576.2,71.7 576.3,72.7 576.4,72.9 576.5,72.5 576.6,71.3 576.7,69.6 576.8,67.4 576.9,65.1 577.0,62.7 577.1,60.6 577.2,58.9 577.3,57.8 577.4,57.3 577.5,57.6 577.6,58.6 577.7,60.2 577.8,62.2 577.9,64.5 578.0,66.9 578.1,69.1 578.2,71.0 578.3,72.3 578.4,72.9 578.5,72.8 578.6,72.0 578.7,70.5 578.8,68.6 578.9,66.3 579.0,63.9 579.1,61.6 579.2,59.7 579.3,58.2 579.4,57.4 579.5,57.4 579.6,58.0 579.7,59.3 579.8,61.1 579.9,63.4 580.0,65.7 580.1,68.1 580.2,70.1 580.3,71.7 580.4,72.6 580.5,72.9 580.6,72.5 580.7,71.3 580.8,69.6 580.9,67.5 581.0,65.1 581.1,62.7 581.2,60.6 581.3,58.9 581.4,57.8 581.5,57.3 581.6,57.6 581.7,58.6 581.8,60.2 581.9,62.2 582.0,64.5 582.1,66.9 582.2,69.1 582.3,71.0 582.4,72.2 582.5,72.9 582.6,72.8 582.7,72.0 582.8,70.5 582.9,68.6 583.0,66.3 583.1,63.9 583.2,61.6 583.3,59.7 583.4,58.2 583.5,57.4 583.6,57.4 583.7,58.0 583.8,59.3 583.9,61.1 584.0,63.3 584.1,65.7 584.2,68.0 584.3,70.1 584.4,71.7 584.5,72.6 584.6,72.9 584.7,72.5 584.8,71.3 584.9,69.6 585.0,67.5 585.1,65.1 585.2,62.8 585.3,60.6 585.4,58.9 585.5,57.8 585.6,57.3 585.7,57.6 585.8,58.6 585.9,60.1 585.9,62.2 586.0,64.5 586.1,66.9 586.2,69.1 586.3,70.9 586.4,72.2 586.5,72.9 586.6,72.8 586.7,72.0 586.8,70.5 586.9,68.6 587.0,66.3 587.1,63.9 587.2,61.7 587.3,59.7 587.4,58.3 587.5,57.4 587.6,57.4 587.7,58.0 587.8,59.3 587.9,61.1 588.0,63.3 588.1,65.7 588.2,68.0 588.3,70.1 588.4,71.7 588.5,72.6 588.6,72.9 588.7,72.5 588.8,71.3 588.9,69.6 589.0,67.5 589.1,65.1 589.2,62.8 589.3,60.6 589.4,58.9 589.5,57.8 589.6,57.3 589.7,57.6 589.8,58.5 589.9,60.1 590.0,62.2 590.1,64.5 590.2,66.9 590.3,69.1 590.4,70.9 590.5,72.2 590.6,72.9 590.7,72.8 590.8,72.0 590.9,70.5 591.0,68.6 591.1,66.3 591.2,63.9 591.3,61.7 591.4,59.7 591.5,58.3 591.6,57.5 591.7,57.4 591.8,58.0 591.9,59.3 592.0,61.1 592.1,63.3 592.2,65.7 592.3,68.0 592.4,70.1 592.5,71.7 592.6,72.6 592.7,72.9 592.8,72.5 592.9,71.3 593.0,69.6 593.1,67.5 593.2,65.1 593.3,62.8 593.4,60.6 593.5,58.9 593.6,57.8 593.7,57.3 593.8,57.6 593.9,58.5 594.0,60.1 594.1,62.2 594.2,64.5 594.3,66.9 594.4,69.1 594.5,70.9 594.6,72.2 594.7,72.9 594.8,72.8 594.9,72.0 595.0,70.6 595.1,68.6 595.2,66.3 595.3,64.0 595.4,61.7 595.5,59.7 595.6,58.3 595.7,57.5 595.8,57.3 595.9,58.0 596.0,59.3 596.1,61.1 596.2,63.3 596.3,65.7 596.4,68.0 596.5,70.0 596.6,71.6 596.7,72.6 596.8,72.9 596.9,72.5 597.0,71.4 597.1,69.6 597.2,67.5 597.3,65.2 597.4,62.8 597.5,60.7 597.6,58.9 597.7,57.8 597.8,57.3 597.9,57.6 598.0,58.5 598.1,60.1 598.2,62.1 598.3,64.5 598.4,66.8 598.5,69.1 598.6,70.9 598.7,72.2 598.8,72.9 598.9,72.8 599.0,72.0 599.1,70.6 599.2,68.6 599.3,66.4 599.4,64.0 599.5,61.7 599.6,59.7 599.7,58.3 599.8,57.5 599.9,57.3 600.0,58.0 600.1,59.2 600.2,61.1 600.3,63.3 600.4,65.6 600.5,68.0 600.6,70.0 600.7,71.6 600.8,72.6 600.9,72.9 601.0,72.5 601.1,71.4 601.2,69.7 601.3,67.5 601.4,65.2 601.5,62.8 601.6,60.7 601.7,58.9 601.8,57.8 601.9,57.3 602.0,57.6 602.1,58.5 602.2,60.1 602.3,62.1 602.4,64.4 602.5,66.8 602.6,69.0 602.7,70.9 602.8,72.2 602.9,72.9 603.0,72.8 603.1,72.0 603.2,70.6 603.3,68.6 603.4,66.4 603.5,64.0 603.6,61.7 603.7,59.8 603.8,58.3 603.9,57.5 604.0,57.3 604.1,58.0 604.2,59.2 604.3,61.1 604.4,63.3 604.5,65.6 604.6,68.0 604.7,70.0 604.8,71.6 604.9,72.6 605.0,72.9 605.1,72.5 605.2,71.4 605.3,69.7 605.4,67.6 605.5,65.2 605.6,62.8 605.6,60.7 605.7,59.0 605.8,57.8 605.9,57.3 606.0,57.6 606.1,58.5 606.2,60.1 606.3,62.1 606.4,64.4 606.5,66.8 606.6,69.0 606.7,70.9 606.8,72.2 606.9,72.9 607.0,72.8 607.1,72.0 607.2,70.6 607.3,68.7 607.4,66.4 607.5,64.0 607.6,61.7 607.7,59.8 607.8,58.3 607.9,57.5 608.0,57.3 608.1,57.9 608.2,59.2 608.3,61.0 608.4,63.2 608.5,65.6 608.6,67.9 608.7,70.0 608.8,71.6 608.9,72.6 609.0,72.9 609.1,72.5 609.2,71.4 609.3,69.7 609.4,67.6 609.5,65.2 609.6,62.9 609.7,60.7 609.8,59.0 609.9,57.8 610.0,57.3 610.1,57.6 610.2,58.5 610.3,60.1 610.4,62.1 610.5,64.4 610.6,66.8 610.7,69.0 610.8,70.9 610.9,72.2 611.0,72.9 611.1,72.8 611.2,72.0 611.3,70.6 611.4,68.7 611.5,66.4 611.6,64.0 611.7,61.8 611.8,59.8 611.9,58.3 612.0,57.5 612.1,57.3 612.2,57.9 612.3,59.2 612.4,61.0 612.5,63.2 612.6,65.6 612.7,67.9 612.8,70.0 612.9,71.6 613.0,72.6 613.1,72.9 613.2,72.5 613.3,71.4 613.4,69.7 613.5,67.6 613.6,65.2 613.7,62.9 613.8,60.7 613.9,59.0 614.0,57.8 614.1,57.3 614.2,57.5 614.3,58.5 614.4,60.0 614.5,62.1 614.6,64.4 614.7,66.8 614.8,69.0 614.9,70.9 615.0,72.2 615.1,72.9 615.2,72.8 615.3,72.0 615.4,70.6 615.5,68.7 615.6,66.4 615.7,64.1 615.8,61.8 615.9,59.8 616.0,58.3 616.1,57.5 616.2,57.3 616.3,57.9 616.4,59.2 616.5,61.0 616.6,63.2 616.7,65.6 616.8,67.9 616.9,70.0 617.0,71.6 617.1,72.6 617.2,72.9 617.3,72.5 617.4,71.4 617.5,69.7 617.6,67.6 617.7,65.3 617.8,62.9 617.9,60.7 618.0,59.0 618.1,57.8 618.2,57.3 618.3,57.5 618.4,58.5 618.5,60.0 618.6,62.1 618.7,64.4 618.8,66.7 618.9,69.0 619.0,70.8 619.1,72.2 619.2,72.9 619.3,72.8 619.4,72.0 619.5,70.6 619.6,68.7 619.7,66.5 619.8,64.1 619.9,61.8 620.0,59.8 620.1,58.3 620.2,57.5 620.3,57.3 620.4,57.9 620.5,59.2 620.6,61.0 620.7,63.2 620.8,65.6 620.9,67.9 621.0,70.0 621.1,71.6 621.2,72.6 621.3,72.9 621.4,72.5 621.5,71.4 621.6,69.7 621.7,67.6 621.8,65.3 621.9,62.9 622.0,60.8 622.1,59.0 622.2,57.8 622.3,57.3 622.4,57.5 622.5,58.5 622.6,60.0 622.7,62.0 622.8,64.4 622.9,66.7 623.0,69.0 623.1,70.8 623.2,72.2 623.3,72.9 623.4,72.8 623.5,72.1 623.6,70.6 623.7,68.7 623.8,66.5 623.9,64.1 624.0,61.8 624.1,59.8 624.2,58.3 624.3,57.5 624.4,57.3 624.5,57.9 624.6,59.2 624.7,61.0 624.8,63.2 624.9,65.5 625.0,67.9 625.1,69.9 625.2,71.6 625.2,72.6 625.3,72.9 625.4,72.5 625.5,71.4 625.6,69.7 625.7,67.6 625.8,65.3 625.9,62.9 626.0,60.8 626.1,59.0 626.2,57.8 626.3,57.3 626.4,57.5 626.5,58.5 626.6,60.0 626.7,62.0 626.8,64.3 626.9,66.7 627.0,68.9 627.1,70.8 627.2,72.2 627.3,72.8 627.4,72.8 627.5,72.1 627.6,70.7 627.7,68.7 627.8,66.5 627.9,64.1 628.0,61.8 628.1,59.8 628.2,58.3 628.3,57.5 628.4,57.3 628.5,57.9 628.6,59.2 628.7,61.0 628.8,63.1 628.9,65.5 629.0,67.9 629.1,69.9 629.2,71.6 629.3,72.6 629.4,72.9 629.5,72.5 629.6,71.4 629.7,69.8 629.8,67.7 629.9,65.3 630.0,62.9 630.1,60.8 630.2,59.0 630.3,57.8 630.4,57.3 630.5,57.5 630.6,58.5 630.7,60.0 630.8,62.0 630.9,64.3 631.0,66.7 631.1,68.9 631.2,70.8 631.3,72.2 631.4,72.8 631.5,72.8 631.6,72.1 631.7,70.7 631.8,68.8 631.9,66.5 632.0,64.1 632.1,61.8 632.2,59.8 632.3,58.4 632.4,57.5 632.5,57.3 632.6,57.9 632.7,59.1 632.8,60.9 632.9,63.1 633.0,65.5 633.1,67.8 633.2,69.9 633.3,71.6 633.4,72.6 633.5,72.9 633.6,72.5 633.7,71.4 633.8,69.8 633.9,67.7 634.0,65.3 634.1,63.0 634.2,60.8 634.3,59.0 634.4,57.8 634.5,57.3 634.6,57.5 634.7,58.4 634.8,60.0 634.9,62.0 635.0,64.3 635.1,66.7 635.2,68.9 635.3,70.8 635.4,72.1 635.5,72.8 635.6,72.8 635.7,72.1 635.8,70.7 635.9,68.8 636.0,66.5 636.1,64.1 636.2,61.8 636.3,59.9 636.4,58.4 636.5,57.5 636.6,57.3 636.7,57.9 636.8,59.1 636.9,60.9 637.0,63.1 637.1,65.5 637.2,67.8 637.3,69.9 637.4,71.5 637.5,72.6 637.6,72.9 637.7,72.5 637.8,71.5 637.9,69.8 638.0,67.7 638.1,65.3 638.2,63.0 638.3,60.8 638.4,59.0 638.5,57.8 638.6,57.3 638.7,57.5 638.8,58.4 638.9,60.0 639.0,62.0 639.1,64.3 639.2,66.7 639.3,68.9 639.4,70.8 639.5,72.1 639.6,72.8 639.7,72.8 639.8,72.1 639.9,70.7 640.0,68.8 640.1,66.5 640.2,64.2 640.3,61.9 640.4,59.9 640.5,58.4 640.6,57.5 640.7,57.3 640.8,57.9 640.9,59.1 641.0,60.9 641.1,63.1 641.2,65.5 641.3,67.8 641.4,69.9 641.5,71.5 641.6,72.6 641.7,72.9 641.8,72.5 641.9,71.5 642.0,69.8 642.1,67.7 642.2,65.4 642.3,63.0 642.4,60.8 642.5,59.1 642.6,57.9 642.7,57.3 642.8,57.5 642.9,58.4 643.0,60.0 643.1,62.0 643.2,64.3 643.3,66.6 643.4,68.9 643.5,70.8 643.6,72.1 643.7,72.8 643.8,72.8 643.9,72.1 644.0,70.7 644.1,68.8 644.2,66.6 644.3,64.2 644.4,61.9 644.5,59.9 644.6,58.4 644.7,57.5 644.8,57.3 644.9,57.9 644.9,59.1 645.0,60.9 645.1,63.1 645.2,65.4 645.3,67.8 645.4,69.9 645.5,71.5 645.6,72.6 645.7,72.9 645.8,72.5 645.9,71.5 646.0,69.8 646.1,67.7 646.2,65.4 646.3,63.0 646.4,60.8 646.5,59.1 646.6,57.9 646.7,57.3 646.8,57.5 646.9,58.4 647.0,59.9 647.1,61.9 647.2,64.2 647.3,66.6 647.4,68.9 647.5,70.8 647.6,72.1 647.7,72.8 647.8,72.8 647.9,72.1 648.0,70.7 648.1,68.8 648.2,66.6 648.3,64.2 648.4,61.9 648.5,59.9 648.6,58.4 648.7,57.5 648.8,57.3 648.9,57.9 649.0,59.1 649.1,60.9 649.2,63.1 649.3,65.4 649.4,67.8 649.5,69.9 649.6,71.5 649.7,72.6 649.8,72.9 649.9,72.6 650.0,71.5 650.1,69.8 650.2,67.7 650.3,65.4 650.4,63.0 650.5,60.9 650.6,59.1 650.7,57.9 650.8,57.3 650.9,57.5 651.0,58.4 651.1,59.9 651.2,61.9 651.3,64.2 651.4,66.6 651.5,68.9 651.6,70.7 651.7,72.1 651.8,72.8 651.9,72.8 652.0,72.1 652.1,70.7 652.2,68.8 652.3,66.6 652.4,64.2 652.5,61.9 652.6,59.9 652.7,58.4 652.8,57.5 652.9,57.3 653.0,57.9 653.1,59.1 653.2,60.9 653.3,63.0 653.4,65.4 653.5,67.8 653.6,69.8 653.7,71.5 653.8,72.6 653.9,72.9 654.0,72.6 654.1,71.5 654.2,69.8 654.3,67.8 654.4,65.4 654.5,63.0 654.6,60.9 654.7,59.1 654.8,57.9 654.9,57.3 655.0,57.5 655.1,58.4 655.2,59.9 655.3,61.9 655.4,64.2 655.5,66.6 655.6,68.8 655.7,70.7 655.8,72.1 655.9,72.8 656.0,72.8 656.1,72.1 656.2,70.7 656.3,68.9 656.4,66.6 656.5,64.2 656.6,61.9 656.7,59.9 656.8,58.4 656.9,57.5 657.0,57.3 657.1,57.9 657.2,59.1 657.3,60.9 657.4,63.0 657.5,65.4 657.6,67.7 657.7,69.8 657.8,71.5 657.9,72.6 658.0,72.9 658.1,72.6 658.2,71.5 658.3,69.9 658.4,67.8 658.5,65.4 658.6,63.1 658.7,60.9 658.8,59.1 658.9,57.9 659.0,57.3 659.1,57.5 659.2,58.4 659.3,59.9 659.4,61.9 659.5,64.2 659.6,66.6 659.7,68.8 659.8,70.7 659.9,72.1 660.0,72.8 660.1,72.8 660.2,72.1 660.3,70.8 660.4,68.9 660.5,66.6 660.6,64.2 660.7,61.9 660.8,59.9 660.9,58.4 661.0,57.5 661.1,57.3 661.2,57.9 661.3,59.1 661.4,60.8 661.5,63.0 661.6,65.4 661.7,67.7 661.8,69.8 661.9,71.5 662.0,72.5 662.1,72.9 662.2,72.6 662.3,71.5 662.4,69.9 662.5,67.8 662.6,65.4 662.7,63.1 662.8,60.9 662.9,59.1 663.0,57.9 663.1,57.3 663.2,57.5 663.3,58.4 663.4,59.9 663.5,61.9 663.6,64.2 663.7,66.6 663.8,68.8 663.9,70.7 664.0,72.1 664.1,72.8 664.2,72.8 664.3,72.1 664.4,70.8 664.5,68.9 664.6,66.6 664.6,64.3 664.7,62.0 664.8,60.0 664.9,58.4 665.0,57.5 665.1,57.3 665.2,57.9 665.3,59.1 665.4,60.8 665.5,63.0 665.6,65.4 665.7,67.7 665.8,69.8 665.9,71.5 666.0,72.5 666.1,72.9 666.2,72.6 666.3,71.5 666.4,69.9 666.5,67.8 666.6,65.5 666.7,63.1 666.8,60.9 666.9,59.1 667.0,57.9 667.1,57.3 667.2,57.5 667.3,58.4 667.4,59.9 667.5,61.9 667.6,64.2 667.7,66.5 667.8,68.8 667.9,70.7 668.0,72.1 668.1,72.8 668.2,72.8 668.3,72.1 668.4,70.8 668.5,68.9 668.6,66.7 668.7,64.3 668.8,62.0 668.9,60.0 669.0,58.4 669.1,57.5 669.2,57.3 669.3,57.8 669.4,59.0 669.5,60.8 669.6,63.0 669.7,65.3 669.8,67.7 669.9,69.8 670.0,71.5 670.1,72.5 670.2,72.9 670.3,72.6 670.4,71.5 670.5,69.9 670.6,67.8 670.7,65.5 670.8,63.1 670.9,60.9 671.0,59.1 671.1,57.9 671.2,57.3 671.3,57.5 671.4,58.4 671.5,59.9 671.6,61.8 671.7,64.1 671.8,66.5 671.9,68.8 672.0,70.7 672.1,72.1 672.2,72.8 672.3,72.8 672.4,72.1 672.5,70.8 672.6,68.9 672.7,66.7 672.8,64.3 672.9,62.0 673.0,60.0 673.1,58.4 673.2,57.5 673.3,57.3 673.4,57.8 673.5,59.0 673.6,60.8 673.7,63.0 673.8,65.3 673.9,67.7 674.0,69.8 674.1,71.4 674.2,72.5 674.3,72.9 674.4,72.6 674.5,71.6 674.6,69.9 674.7,67.8 674.8,65.5 674.9,63.1 675.0,60.9 675.1,59.1 675.2,57.9 675.3,57.3" fill="none" stroke="#ee2a2a" stroke-width="1.1" stroke-linejoin="round" opacity="1.0"/>
<polyline points="516.2,57.1 516.3,57.4 516.4,58.0 516.5,59.2 516.6,60.7 516.7,62.5 516.8,64.6 516.9,66.9 517.0,69.4 517.1,71.8 517.2,74.2 517.3,76.4 517.4,78.4 517.5,80.1 517.6,81.4 517.7,82.3 517.8,82.8 517.9,82.8 518.0,82.4 518.1,81.5 518.2,80.1 518.3,78.5 518.4,76.5 518.5,74.3 518.6,71.9 518.7,69.4 518.8,67.0 518.9,64.7 519.0,62.6 519.1,60.7 519.2,59.2 519.3,58.1 519.4,57.4 519.5,57.1 519.6,57.3 519.7,58.0 519.8,59.1 519.9,60.6 520.0,62.5 520.1,64.6 520.2,66.9 520.3,69.3 520.4,71.7 520.5,74.1 520.6,76.3 520.7,78.3 520.8,80.0 520.9,81.4 521.0,82.3 521.1,82.8 521.2,82.8 521.3,82.4 521.4,81.5 521.5,80.2 521.6,78.5 521.7,76.5 521.8,74.3 521.9,72.0 522.0,69.5 522.1,67.1 522.2,64.8 522.3,62.7 522.4,60.8 522.5,59.3 522.6,58.1 522.7,57.4 522.8,57.1 522.9,57.3 523.0,58.0 523.1,59.1 523.2,60.6 523.3,62.4 523.4,64.5 523.5,66.8 523.6,69.2 523.7,71.6 523.8,74.0 523.9,76.3 524.0,78.3 524.1,80.0 524.2,81.3 524.3,82.3 524.4,82.8 524.5,82.8 524.6,82.4 524.7,81.5 524.8,80.2 524.9,78.6 525.0,76.6 525.1,74.4 525.2,72.0 525.3,69.6 525.4,67.2 525.5,64.9 525.6,62.7 525.7,60.8 525.8,59.3 525.9,58.1 526.0,57.4 526.1,57.1 526.2,57.3 526.3,58.0 526.4,59.0 526.5,60.5 526.6,62.3 526.7,64.4 526.8,66.7 526.9,69.1 526.9,71.6 527.0,73.9 527.1,76.2 527.2,78.2 527.3,79.9 527.4,81.3 527.5,82.3 527.6,82.8 527.7,82.8 527.8,82.4 527.9,81.6 528.0,80.3 528.1,78.6 528.2,76.7 528.3,74.5 528.4,72.1 528.5,69.7 528.6,67.3 528.7,64.9 528.8,62.8 528.9,60.9 529.0,59.3 529.1,58.2 529.2,57.4 529.3,57.1 529.4,57.3 529.5,57.9 529.6,59.0 529.7,60.4 529.8,62.3 529.9,64.3 530.0,66.6 530.1,69.0 530.2,71.5 530.3,73.9 530.4,76.1 530.5,78.1 530.6,79.9 530.7,81.3 530.8,82.2 530.9,82.8 531.0,82.8 531.1,82.4 531.2,81.6 531.3,80.3 531.4,78.7 531.5,76.8 531.6,74.6 531.7,72.2 531.8,69.8 531.9,67.3 532.0,65.0 532.1,62.9 532.2,61.0 532.3,59.4 532.4,58.2 532.5,57.4 532.6,57.1 532.7,57.3 532.8,57.9 532.9,58.9 533.0,60.4 533.1,62.2 533.2,64.3 533.3,66.5 533.4,68.9 533.5,71.4 533.6,73.8 533.7,76.0 533.8,78.1 533.9,79.8 534.0,81.2 534.1,82.2 534.2,82.8 534.3,82.8 534.4,82.5 534.5,81.6 534.6,80.4 534.7,78.8 534.8,76.8 534.9,74.6 535.0,72.3 535.1,69.9 535.2,67.4 535.3,65.1 535.4,62.9 535.5,61.0 535.6,59.4 535.7,58.2 535.8,57.5 535.9,57.1 536.0,57.3 536.1,57.9 536.2,58.9 536.3,60.3 536.4,62.1 536.5,64.2 536.6,66.5 536.7,68.9 536.8,71.3 536.9,73.7 537.0,76.0 537.1,78.0 537.2,79.8 537.3,81.2 537.4,82.2 537.5,82.7 537.6,82.8 537.7,82.5 537.8,81.7 537.9,80.4 538.0,78.8 538.1,76.9 538.2,74.7 538.3,72.4 538.4,69.9 538.5,67.5 538.6,65.2 538.7,63.0 538.8,61.1 538.9,59.5 539.0,58.3 539.1,57.5 539.2,57.1 539.3,57.3 539.4,57.8 539.5,58.9 539.6,60.3 539.7,62.1 539.8,64.1 539.9,66.4 540.0,68.8 540.1,71.2 540.2,73.6 540.3,75.9 540.4,78.0 540.5,79.7 540.6,81.1 540.7,82.2 540.8,82.7 540.9,82.8 541.0,82.5 541.1,81.7 541.2,80.5 541.3,78.9 541.4,77.0 541.5,74.8 541.6,72.5 541.7,70.0 541.8,67.6 541.9,65.2 542.0,63.1 542.1,61.1 542.2,59.5 542.3,58.3 542.4,57.5 542.5,57.1 542.6,57.2 542.7,57.8 542.8,58.8 542.9,60.2 543.0,62.0 543.1,64.0 543.2,66.3 543.3,68.7 543.4,71.1 543.5,73.5 543.6,75.8 543.7,77.9 543.8,79.7 543.9,81.1 544.0,82.1 544.1,82.7 544.2,82.9 544.3,82.5 544.4,81.7 544.5,80.5 544.6,78.9 544.7,77.0 544.8,74.9 544.9,72.5 545.0,70.1 545.1,67.7 545.2,65.3 545.3,63.1 545.4,61.2 545.5,59.6 545.6,58.3 545.7,57.5 545.8,57.1 545.9,57.2 546.0,57.8 546.1,58.8 546.2,60.2 546.3,61.9 546.4,64.0 546.5,66.2 546.6,68.6 546.6,71.1 546.7,73.5 546.8,75.7 546.9,77.8 547.0,79.6 547.1,81.1 547.2,82.1 547.3,82.7 547.4,82.9 547.5,82.5 547.6,81.8 547.7,80.6 547.8,79.0 547.9,77.1 548.0,75.0 548.1,72.6 548.2,70.2 548.3,67.8 548.4,65.4 548.5,63.2 548.6,61.3 548.7,59.6 548.8,58.4 548.9,57.5 549.0,57.2 549.1,57.2 549.2,57.8 549.3,58.7 549.4,60.1 549.5,61.9 549.6,63.9 549.7,66.1 549.8,68.5 549.9,71.0 550.0,73.4 550.1,75.7 550.2,77.8 550.3,79.6 550.4,81.0 550.5,82.1 550.6,82.7 550.7,82.9 550.8,82.6 550.9,81.8 551.0,80.6 551.1,79.1 551.2,77.2 551.3,75.0 551.4,72.7 551.5,70.3 551.6,67.8 551.7,65.5 551.8,63.3 551.9,61.3 552.0,59.7 552.1,58.4 552.2,57.6 552.3,57.2 552.4,57.2 552.5,57.7 552.6,58.7 552.7,60.1 552.8,61.8 552.9,63.8 553.0,66.1 553.1,68.5 553.2,70.9 553.3,73.3 553.4,75.6 553.5,77.7 553.6,79.5 553.7,81.0 553.8,82.0 553.9,82.7 554.0,82.9 554.1,82.6 554.2,81.8 554.3,80.7 554.4,79.1 554.5,77.2 554.6,75.1 554.7,72.8 554.8,70.4 554.9,67.9 555.0,65.5 555.1,63.3 555.2,61.4 555.3,59.7 555.4,58.4 555.5,57.6 555.6,57.2 555.7,57.2 555.8,57.7 555.9,58.7 556.0,60.0 556.1,61.7 556.2,63.8 556.3,66.0 556.4,68.4 556.5,70.8 556.6,73.2 556.7,75.5 556.8,77.6 556.9,79.4 557.0,80.9 557.1,82.0 557.2,82.7 557.3,82.9 557.4,82.6 557.5,81.9 557.6,80.7 557.7,79.2 557.8,77.3 557.9,75.2 558.0,72.9 558.1,70.4 558.2,68.0 558.3,65.6 558.4,63.4 558.5,61.4 558.6,59.8 558.7,58.5 558.8,57.6 558.9,57.2 559.0,57.2 559.1,57.7 559.2,58.6 559.3,60.0 559.4,61.7 559.5,63.7 559.6,65.9 559.7,68.3 559.8,70.7 559.9,73.2 560.0,75.5 560.1,77.6 560.2,79.4 560.3,80.9 560.4,82.0 560.5,82.7 560.6,82.9 560.7,82.6 560.8,81.9 560.9,80.8 561.0,79.2 561.1,77.4 561.2,75.3 561.3,72.9 561.4,70.5 561.5,68.1 561.6,65.7 561.7,63.5 561.8,61.5 561.9,59.8 562.0,58.5 562.1,57.6 562.2,57.2 562.3,57.2 562.4,57.7 562.5,58.6 562.6,59.9 562.7,61.6 562.8,63.6 562.9,65.8 563.0,68.2 563.1,70.7 563.2,73.1 563.3,75.4 563.4,77.5 563.5,79.3 563.6,80.8 563.7,82.0 563.8,82.6 563.9,82.9 564.0,82.6 564.1,81.9 564.2,80.8 564.3,79.3 564.4,77.4 564.5,75.3 564.6,73.0 564.7,70.6 564.8,68.2 564.9,65.8 565.0,63.6 565.1,61.6 565.2,59.9 565.3,58.6 565.4,57.6 565.5,57.2 565.6,57.2 565.7,57.6 565.8,58.5 565.9,59.9 566.0,61.5 566.1,63.5 566.2,65.8 566.3,68.1 566.3,70.6 566.4,73.0 566.5,75.3 566.6,77.4 566.7,79.3 566.8,80.8 566.9,81.9 567.0,82.6 567.1,82.9 567.2,82.6 567.3,82.0 567.4,80.9 567.5,79.4 567.6,77.5 567.7,75.4 567.8,73.1 567.9,70.7 568.0,68.2 568.1,65.9 568.2,63.6 568.3,61.6 568.4,59.9 568.5,58.6 568.6,57.7 568.7,57.2 568.8,57.2 568.9,57.6 569.0,58.5 569.1,59.8 569.2,61.5 569.3,63.5 569.4,65.7 569.5,68.0 569.6,70.5 569.7,72.9 569.8,75.2 569.9,77.4 570.0,79.2 570.1,80.7 570.2,81.9 570.3,82.6 570.4,82.9 570.5,82.7 570.6,82.0 570.7,80.9 570.8,79.4 570.9,77.6 571.0,75.5 571.1,73.2 571.2,70.8 571.3,68.3 571.4,65.9 571.5,63.7 571.6,61.7 571.7,60.0 571.8,58.6 571.9,57.7 572.0,57.2 572.1,57.2 572.2,57.6 572.3,58.5 572.4,59.8 572.5,61.4 572.6,63.4 572.7,65.6 572.8,68.0 572.9,70.4 573.0,72.8 573.1,75.2 573.2,77.3 573.3,79.2 573.4,80.7 573.5,81.9 573.6,82.6 573.7,82.9 573.8,82.7 573.9,82.0 574.0,80.9 574.1,79.5 574.2,77.6 574.3,75.6 574.4,73.3 574.5,70.8 574.6,68.4 574.7,66.0 574.8,63.8 574.9,61.8 575.0,60.0 575.1,58.7 575.2,57.7 575.3,57.2 575.4,57.2 575.5,57.6 575.6,58.4 575.7,59.7 575.8,61.4 575.9,63.3 576.0,65.5 576.1,67.9 576.2,70.3 576.3,72.7 576.4,75.1 576.5,77.2 576.6,79.1 576.7,80.7 576.8,81.8 576.9,82.6 577.0,82.9 577.1,82.7 577.2,82.1 577.3,81.0 577.4,79.5 577.5,77.7 577.6,75.6 577.7,73.3 577.8,70.9 577.9,68.5 578.0,66.1 578.1,63.8 578.2,61.8 578.3,60.1 578.4,58.7 578.5,57.7 578.6,57.2 578.7,57.2 578.8,57.6 578.9,58.4 579.0,59.7 579.1,61.3 579.2,63.3 579.3,65.4 579.4,67.8 579.5,70.2 579.6,72.7 579.7,75.0 579.8,77.2 579.9,79.0 580.0,80.6 580.1,81.8 580.2,82.6 580.3,82.9 580.4,82.7 580.5,82.1 580.6,81.0 580.7,79.6 580.8,77.8 580.9,75.7 581.0,73.4 581.1,71.0 581.2,68.6 581.3,66.2 581.4,63.9 581.5,61.9 581.6,60.1 581.7,58.8 581.8,57.8 581.9,57.2 582.0,57.1 582.1,57.5 582.2,58.4 582.3,59.6 582.4,61.2 582.5,63.2 582.6,65.4 582.7,67.7 582.8,70.2 582.9,72.6 583.0,74.9 583.1,77.1 583.2,79.0 583.3,80.6 583.4,81.8 583.5,82.5 583.6,82.9 583.7,82.7 583.8,82.1 583.9,81.1 584.0,79.6 584.1,77.8 584.2,75.8 584.3,73.5 584.4,71.1 584.5,68.6 584.6,66.3 584.7,64.0 584.8,61.9 584.9,60.2 585.0,58.8 585.1,57.8 585.2,57.2 585.3,57.1 585.4,57.5 585.5,58.3 585.6,59.6 585.7,61.2 585.8,63.1 585.9,65.3 585.9,67.6 586.0,70.1 586.1,72.5 586.2,74.8 586.3,77.0 586.4,78.9 586.5,80.5 586.6,81.7 586.7,82.5 586.8,82.9 586.9,82.7 587.0,82.1 587.1,81.1 587.2,79.7 587.3,77.9 587.4,75.8 587.5,73.6 587.6,71.2 587.7,68.7 587.8,66.3 587.9,64.1 588.0,62.0 588.1,60.2 588.2,58.8 588.3,57.8 588.4,57.3 588.5,57.1 588.6,57.5 588.7,58.3 588.8,59.5 588.9,61.1 589.0,63.0 589.1,65.2 589.2,67.6 589.3,70.0 589.4,72.4 589.5,74.8 589.6,76.9 589.7,78.9 589.8,80.5 589.9,81.7 590.0,82.5 590.1,82.8 590.2,82.7 590.3,82.2 590.4,81.2 590.5,79.7 590.6,78.0 590.7,75.9 590.8,73.7 590.9,71.3 591.0,68.8 591.1,66.4 591.2,64.1 591.3,62.1 591.4,60.3 591.5,58.9 591.6,57.9 591.7,57.3 591.8,57.1 591.9,57.5 592.0,58.3 592.1,59.5 592.2,61.1 592.3,63.0 592.4,65.1 592.5,67.5 592.6,69.9 592.7,72.3 592.8,74.7 592.9,76.9 593.0,78.8 593.1,80.4 593.2,81.7 593.3,82.5 593.4,82.8 593.5,82.7 593.6,82.2 593.7,81.2 593.8,79.8 593.9,78.0 594.0,76.0 594.1,73.7 594.2,71.3 594.3,68.9 594.4,66.5 594.5,64.2 594.6,62.1 594.7,60.4 594.8,58.9 594.9,57.9 595.0,57.3 595.1,57.1 595.2,57.5 595.3,58.2 595.4,59.4 595.5,61.0 595.6,62.9 595.7,65.1 595.8,67.4 595.9,69.8 596.0,72.3 596.1,74.6 596.2,76.8 596.3,78.7 596.4,80.4 596.5,81.6 596.6,82.5 596.7,82.8 596.8,82.8 596.9,82.2 597.0,81.2 597.1,79.8 597.2,78.1 597.3,76.1 597.4,73.8 597.5,71.4 597.6,69.0 597.7,66.6 597.8,64.3 597.9,62.2 598.0,60.4 598.1,59.0 598.2,57.9 598.3,57.3 598.4,57.1 598.5,57.4 598.6,58.2 598.7,59.4 598.8,60.9 598.9,62.8 599.0,65.0 599.1,67.3 599.2,69.7 599.3,72.2 599.4,74.5 599.5,76.7 599.6,78.7 599.7,80.3 599.8,81.6 599.9,82.4 600.0,82.8 600.1,82.8 600.2,82.2 600.3,81.3 600.4,79.9 600.5,78.2 600.6,76.1 600.7,73.9 600.8,71.5 600.9,69.1 601.0,66.7 601.1,64.4 601.2,62.3 601.3,60.5 601.4,59.0 601.5,57.9 601.6,57.3 601.7,57.1 601.8,57.4 601.9,58.2 602.0,59.3 602.1,60.9 602.2,62.8 602.3,64.9 602.4,67.2 602.5,69.7 602.6,72.1 602.7,74.5 602.8,76.7 602.9,78.6 603.0,80.3 603.1,81.6 603.2,82.4 603.3,82.8 603.4,82.8 603.5,82.3 603.6,81.3 603.7,80.0 603.8,78.2 603.9,76.2 604.0,74.0 604.1,71.6 604.2,69.1 604.3,66.7 604.4,64.4 604.5,62.3 604.6,60.5 604.7,59.0 604.8,58.0 604.9,57.3 605.0,57.1 605.1,57.4 605.2,58.1 605.3,59.3 605.4,60.8 605.5,62.7 605.6,64.8 605.6,67.2 605.7,69.6 605.8,72.0 605.9,74.4 606.0,76.6 606.1,78.6 606.2,80.2 606.3,81.5 606.4,82.4 606.5,82.8 606.6,82.8 606.7,82.3 606.8,81.4 606.9,80.0 607.0,78.3 607.1,76.3 607.2,74.0 607.3,71.7 607.4,69.2 607.5,66.8 607.6,64.5 607.7,62.4 607.8,60.6 607.9,59.1 608.0,58.0 608.1,57.3 608.2,57.1 608.3,57.4 608.4,58.1 608.5,59.2 608.6,60.8 608.7,62.6 608.8,64.8 608.9,67.1 609.0,69.5 609.1,71.9 609.2,74.3 609.3,76.5 609.4,78.5 609.5,80.2 609.6,81.5 609.7,82.4 609.8,82.8 609.9,82.8 610.0,82.3 610.1,81.4 610.2,80.1 610.3,78.4 610.4,76.4 610.5,74.1 610.6,71.7 610.7,69.3 610.8,66.9 610.9,64.6 611.0,62.5 611.1,60.6 611.2,59.1 611.3,58.0 611.4,57.3 611.5,57.1 611.6,57.4 611.7,58.1 611.8,59.2 611.9,60.7 612.0,62.6 612.1,64.7 612.2,67.0 612.3,69.4 612.4,71.9 612.5,74.2 612.6,76.5 612.7,78.4 612.8,80.1 612.9,81.4 613.0,82.3 613.1,82.8 613.2,82.8 613.3,82.3 613.4,81.4 613.5,80.1 613.6,78.4 613.7,76.4 613.8,74.2 613.9,71.8 614.0,69.4 614.1,67.0 614.2,64.7 614.3,62.5 614.4,60.7 614.5,59.2 614.6,58.1 614.7,57.4 614.8,57.1 614.9,57.4 615.0,58.0 615.1,59.1 615.2,60.7 615.3,62.5 615.4,64.6 615.5,66.9 615.6,69.3 615.7,71.8 615.8,74.2 615.9,76.4 616.0,78.4 616.1,80.1 616.2,81.4 616.3,82.3 616.4,82.8 616.5,82.8 616.6,82.4 616.7,81.5 616.8,80.2 616.9,78.5 617.0,76.5 617.1,74.3 617.2,71.9 617.3,69.5 617.4,67.1 617.5,64.7 617.6,62.6 617.7,60.8 617.8,59.2 617.9,58.1 618.0,57.4 618.1,57.1 618.2,57.3 618.3,58.0 618.4,59.1 618.5,60.6 618.6,62.4 618.7,64.5 618.8,66.8 618.9,69.3 619.0,71.7 619.1,74.1 619.2,76.3 619.3,78.3 619.4,80.0 619.5,81.4 619.6,82.3 619.7,82.8 619.8,82.8 619.9,82.4 620.0,81.5 620.1,80.2 620.2,78.5 620.3,76.6 620.4,74.4 620.5,72.0 620.6,69.6 620.7,67.1 620.8,64.8 620.9,62.7 621.0,60.8 621.1,59.3 621.2,58.1 621.3,57.4 621.4,57.1 621.5,57.3 621.6,58.0 621.7,59.1 621.8,60.5 621.9,62.4 622.0,64.5 622.1,66.8 622.2,69.2 622.3,71.6 622.4,74.0 622.5,76.2 622.6,78.3 622.7,80.0 622.8,81.3 622.9,82.3 623.0,82.8 623.1,82.8 623.2,82.4 623.3,81.5 623.4,80.3 623.5,78.6 623.6,76.6 623.7,74.4 623.8,72.1 623.9,69.6 624.0,67.2 624.1,64.9 624.2,62.7 624.3,60.9 624.4,59.3 624.5,58.2 624.6,57.4 624.7,57.1 624.8,57.3 624.9,57.9 625.0,59.0 625.1,60.5 625.2,62.3 625.2,64.4 625.3,66.7 625.4,69.1 625.5,71.5 625.6,73.9 625.7,76.2 625.8,78.2 625.9,79.9 626.0,81.3 626.1,82.2 626.2,82.8 626.3,82.8 626.4,82.4 626.5,81.6 626.6,80.3 626.7,78.7 626.8,76.7 626.9,74.5 627.0,72.2 627.1,69.7 627.2,67.3 627.3,65.0 627.4,62.8 627.5,60.9 627.6,59.4 627.7,58.2 627.8,57.4 627.9,57.1 628.0,57.3 628.1,57.9 628.2,59.0 628.3,60.4 628.4,62.2 628.5,64.3 628.6,66.6 628.7,69.0 628.8,71.4 628.9,73.8 629.0,76.1 629.1,78.1 629.2,79.9 629.3,81.2 629.4,82.2 629.5,82.8 629.6,82.8 629.7,82.4 629.8,81.6 629.9,80.4 630.0,78.7 630.1,76.8 630.2,74.6 630.3,72.2 630.4,69.8 630.5,67.4 630.6,65.0 630.7,62.9 630.8,61.0 630.9,59.4 631.0,58.2 631.1,57.4 631.2,57.1 631.3,57.3 631.4,57.9 631.5,58.9 631.6,60.4 631.7,62.2 631.8,64.2 631.9,66.5 632.0,68.9 632.1,71.4 632.2,73.8 632.3,76.0 632.4,78.1 632.5,79.8 632.6,81.2 632.7,82.2 632.8,82.7 632.9,82.8 633.0,82.5 633.1,81.6 633.2,80.4 633.3,78.8 633.4,76.9 633.5,74.7 633.6,72.3 633.7,69.9 633.8,67.5 633.9,65.1 634.0,63.0 634.1,61.0 634.2,59.5 634.3,58.2 634.4,57.5 634.5,57.1 634.6,57.3 634.7,57.9 634.8,58.9 634.9,60.3 635.0,62.1 635.1,64.2 635.2,66.4 635.3,68.8 635.4,71.3 635.5,73.7 635.6,75.9 635.7,78.0 635.8,79.8 635.9,81.2 636.0,82.2 636.1,82.7 636.2,82.8 636.3,82.5 636.4,81.7 636.5,80.5 636.6,78.8 636.7,76.9 636.8,74.7 636.9,72.4 637.0,70.0 637.1,67.5 637.2,65.2 637.3,63.0 637.4,61.1 637.5,59.5 637.6,58.3 637.7,57.5 637.8,57.1 637.9,57.3 638.0,57.8 638.1,58.8 638.2,60.3 638.3,62.0 638.4,64.1 638.5,66.4 638.6,68.8 638.7,71.2 638.8,73.6 638.9,75.9 639.0,77.9 639.1,79.7 639.2,81.1 639.3,82.1 639.4,82.7 639.5,82.8 639.6,82.5 639.7,81.7 639.8,80.5 639.9,78.9 640.0,77.0 640.1,74.8 640.2,72.5 640.3,70.0 640.4,67.6 640.5,65.3 640.6,63.1 640.7,61.2 640.8,59.6 640.9,58.3 641.0,57.5 641.1,57.1 641.2,57.2 641.3,57.8 641.4,58.8 641.5,60.2 641.6,62.0 641.7,64.0 641.8,66.3 641.9,68.7 642.0,71.1 642.1,73.5 642.2,75.8 642.3,77.9 642.4,79.6 642.5,81.1 642.6,82.1 642.7,82.7 642.8,82.9 642.9,82.5 643.0,81.8 643.1,80.5 643.2,79.0 643.3,77.1 643.4,74.9 643.5,72.6 643.6,70.1 643.7,67.7 643.8,65.3 643.9,63.2 644.0,61.2 644.1,59.6 644.2,58.4 644.3,57.5 644.4,57.1 644.5,57.2 644.6,57.8 644.7,58.8 644.8,60.2 644.9,61.9 644.9,63.9 645.0,66.2 645.1,68.6 645.2,71.0 645.3,73.4 645.4,75.7 645.5,77.8 645.6,79.6 645.7,81.0 645.8,82.1 645.9,82.7 646.0,82.9 646.1,82.5 646.2,81.8 646.3,80.6 646.4,79.0 646.5,77.1 646.6,75.0 646.7,72.6 646.8,70.2 646.9,67.8 647.0,65.4 647.1,63.2 647.2,61.3 647.3,59.6 647.4,58.4 647.5,57.5 647.6,57.2 647.7,57.2 647.8,57.8 647.9,58.7 648.0,60.1 648.1,61.8 648.2,63.9 648.3,66.1 648.4,68.5 648.5,71.0 648.6,73.4 648.7,75.7 648.8,77.7 648.9,79.5 649.0,81.0 649.1,82.1 649.2,82.7 649.3,82.9 649.4,82.6 649.5,81.8 649.6,80.6 649.7,79.1 649.8,77.2 649.9,75.1 650.0,72.7 650.1,70.3 650.2,67.9 650.3,65.5 650.4,63.3 650.5,61.3 650.6,59.7 650.7,58.4 650.8,57.6 650.9,57.2 651.0,57.2 651.1,57.7 651.2,58.7 651.3,60.1 651.4,61.8 651.5,63.8 651.6,66.0 651.7,68.4 651.8,70.9 651.9,73.3 652.0,75.6 652.1,77.7 652.2,79.5 652.3,81.0 652.4,82.0 652.5,82.7 652.6,82.9 652.7,82.6 652.8,81.8 652.9,80.7 653.0,79.1 653.1,77.3 653.2,75.1 653.3,72.8 653.4,70.4 653.5,67.9 653.6,65.6 653.7,63.4 653.8,61.4 653.9,59.7 654.0,58.5 654.1,57.6 654.2,57.2 654.3,57.2 654.4,57.7 654.5,58.6 654.6,60.0 654.7,61.7 654.8,63.7 654.9,66.0 655.0,68.3 655.1,70.8 655.2,73.2 655.3,75.5 655.4,77.6 655.5,79.4 655.6,80.9 655.7,82.0 655.8,82.7 655.9,82.9 656.0,82.6 656.1,81.9 656.2,80.7 656.3,79.2 656.4,77.3 656.5,75.2 656.6,72.9 656.7,70.5 656.8,68.0 656.9,65.7 657.0,63.4 657.1,61.5 657.2,59.8 657.3,58.5 657.4,57.6 657.5,57.2 657.6,57.2 657.7,57.7 657.8,58.6 657.9,59.9 658.0,61.7 658.1,63.7 658.2,65.9 658.3,68.3 658.4,70.7 658.5,73.1 658.6,75.4 658.7,77.5 658.8,79.4 658.9,80.9 659.0,82.0 659.1,82.6 659.2,82.9 659.3,82.6 659.4,81.9 659.5,80.8 659.6,79.3 659.7,77.4 659.8,75.3 659.9,73.0 660.0,70.5 660.1,68.1 660.2,65.7 660.3,63.5 660.4,61.5 660.5,59.8 660.6,58.5 660.7,57.6 660.8,57.2 660.9,57.2 661.0,57.7 661.1,58.6 661.2,59.9 661.3,61.6 661.4,63.6 661.5,65.8 661.6,68.2 661.7,70.6 661.8,73.0 661.9,75.4 662.0,77.5 662.1,79.3 662.2,80.8 662.3,81.9 662.4,82.6 662.5,82.9 662.6,82.6 662.7,81.9 662.8,80.8 662.9,79.3 663.0,77.5 663.1,75.4 663.2,73.0 663.3,70.6 663.4,68.2 663.5,65.8 663.6,63.6 663.7,61.6 663.8,59.9 663.9,58.6 664.0,57.7 664.1,57.2 664.2,57.2 664.3,57.6 664.4,58.5 664.5,59.8 664.6,61.5 664.6,63.5 664.7,65.7 664.8,68.1 664.9,70.5 665.0,73.0 665.1,75.3 665.2,77.4 665.3,79.3 665.4,80.8 665.5,81.9 665.6,82.6 665.7,82.9 665.8,82.6 665.9,82.0 666.0,80.9 666.1,79.4 666.2,77.5 666.3,75.4 666.4,73.1 666.5,70.7 666.6,68.3 666.7,65.9 666.8,63.7 666.9,61.7 667.0,60.0 667.1,58.6 667.2,57.7 667.3,57.2 667.4,57.2 667.5,57.6 667.6,58.5 667.7,59.8 667.8,61.5 667.9,63.4 668.0,65.7 668.1,68.0 668.2,70.5 668.3,72.9 668.4,75.2 668.5,77.3 668.6,79.2 668.7,80.7 668.8,81.9 668.9,82.6 669.0,82.9 669.1,82.7 669.2,82.0 669.3,80.9 669.4,79.4 669.5,77.6 669.6,75.5 669.7,73.2 669.8,70.8 669.9,68.3 670.0,66.0 670.1,63.7 670.2,61.7 670.3,60.0 670.4,58.6 670.5,57.7 670.6,57.2 670.7,57.2 670.8,57.6 670.9,58.5 671.0,59.7 671.1,61.4 671.2,63.4 671.3,65.6 671.4,67.9 671.5,70.4 671.6,72.8 671.7,75.1 671.8,77.3 671.9,79.1 672.0,80.7 672.1,81.8 672.2,82.6 672.3,82.9 672.4,82.7 672.5,82.0 672.6,81.0 672.7,79.5 672.8,77.7 672.9,75.6 673.0,73.3 673.1,70.9 673.2,68.4 673.3,66.0 673.4,63.8 673.5,61.8 673.6,60.1 673.7,58.7 673.8,57.7 673.9,57.2 674.0,57.2 674.1,57.6 674.2,58.4 674.3,59.7 674.4,61.3 674.5,63.3 674.6,65.5 674.7,67.9 674.8,70.3 674.9,72.7 675.0,75.1 675.1,77.2 675.2,79.1 675.3,80.6" fill="none" stroke="#000" stroke-width="1.05" stroke-linejoin="round" opacity="0.3"/>
</g>
<rect x="611.20" y="6.10" width="67.90" height="27.70" rx="1.6" fill="#fff" fill-opacity="0.8" stroke="#cfcfcf" stroke-width="0.9"/>
<g clip-path="url(#c10)">
<polyline points="64.5,240.9 64.6,241.1 64.7,241.6 64.8,242.4 64.9,243.5 65.0,244.9 65.1,246.4 65.2,248.1 65.3,249.9 65.3,251.7 65.4,253.4 65.5,254.9 65.6,256.3 65.7,257.5 65.8,258.4 65.9,258.9 66.0,259.2 66.1,259.1 66.2,258.6 66.3,257.9 66.4,256.8 66.5,255.5 66.6,254.0 66.7,252.4 66.8,250.6 66.9,248.8 67.0,247.1 67.1,245.5 67.2,244.1 67.3,242.9 67.4,242.0 67.5,241.3 67.6,241.0 67.7,241.1 67.8,241.4 67.9,242.1 68.0,243.1 68.1,244.4 68.2,245.8 68.3,247.5 68.4,249.2 68.5,250.9 68.6,252.6 68.7,254.3 68.8,255.7 68.9,257.0 69.0,257.9 69.1,258.6 69.2,259.0 69.3,259.0 69.4,258.7 69.5,258.1 69.6,257.2 69.7,256.0 69.8,254.6 69.9,253.0 70.0,251.3 70.1,249.6 70.2,247.9 70.3,246.2 70.4,244.8 70.5,243.5 70.6,242.5 70.7,241.7 70.8,241.3 70.9,241.2 71.0,241.4 71.1,242.0 71.2,242.9 71.3,244.0 71.4,245.3 71.5,246.9 71.6,248.5 71.7,250.2 71.8,251.9 71.9,253.5 72.0,255.0 72.1,256.3 72.2,257.4 72.3,258.1 72.4,258.6 72.5,258.8 72.6,258.6 72.7,258.1 72.8,257.3 72.9,256.3 73.0,255.0 73.1,253.5 73.2,251.9 73.3,250.3 73.4,248.6 73.5,247.0 73.6,245.5 73.7,244.2 73.8,243.1 73.9,242.3 74.0,241.8 74.1,241.5 74.2,241.6 74.3,242.1 74.4,242.8 74.5,243.8 74.6,245.0 74.7,246.4 74.8,247.9 74.9,249.5 75.0,251.2 75.1,252.7 75.2,254.2 75.3,255.5 75.4,256.6 75.5,257.5 75.6,258.1 75.7,258.4 75.8,258.3 75.9,258.0 76.0,257.3 76.1,256.4 76.2,255.3 76.3,254.0 76.4,252.5 76.5,250.9 76.6,249.3 76.7,247.8 76.8,246.3 76.9,245.0 77.0,243.9 77.1,243.0 77.2,242.4 77.3,242.1 77.4,242.0 77.5,242.3 77.6,242.9 77.7,243.7 77.8,244.8 77.9,246.0 78.0,247.4 78.1,248.9 78.2,250.5 78.3,252.0 78.4,253.4 78.5,254.7 78.6,255.8 78.7,256.7 78.8,257.4 78.9,257.8 79.0,257.9 79.1,257.6 79.2,257.2 79.3,256.4 79.4,255.4 79.5,254.2 79.6,252.9 79.7,251.5 79.8,250.0 79.9,248.5 80.0,247.1 80.1,245.8 80.2,244.7 80.3,243.8 80.4,243.1 80.5,242.7 80.6,242.6 80.7,242.7 80.8,243.1 80.9,243.8 81.0,244.7 81.1,245.8 81.2,247.1 81.3,248.4 81.4,249.8 81.5,251.3 81.6,252.6 81.7,253.9 81.8,255.0 81.9,255.9 82.0,256.6 82.1,257.0 82.2,257.2 82.3,257.1 82.4,256.8 82.5,256.2 82.6,255.4 82.7,254.3 82.8,253.2 82.9,251.9 83.0,250.6 83.1,249.2 83.2,247.9 83.3,246.7 83.4,245.6 83.5,244.7 83.6,244.0 83.7,243.5 83.8,243.3 83.9,243.3 84.0,243.6 84.1,244.1 84.2,244.9 84.3,245.8 84.4,246.9 84.5,248.1 84.6,249.3 84.7,250.6 84.8,251.8 84.9,253.0 85.0,254.1 85.0,255.0 85.1,255.7 85.2,256.2 85.3,256.4 85.4,256.4 85.5,256.2 85.6,255.8 85.7,255.1 85.8,254.3 85.9,253.3 86.0,252.2 86.1,251.0 86.2,249.8 86.3,248.6 86.4,247.5 86.5,246.5 86.6,245.6 86.7,244.9 86.8,244.4 86.9,244.2 87.0,244.1 87.1,244.2 87.2,244.6 87.3,245.2 87.4,245.9 87.5,246.8 87.6,247.9 87.7,248.9 87.8,250.1 87.9,251.2 88.0,252.2 88.1,253.2 88.2,254.0 88.3,254.7 88.4,255.2 88.5,255.5 88.6,255.6 88.7,255.5 88.8,255.2 88.9,254.7 89.0,254.0 89.1,253.2 89.2,252.3 89.3,251.3 89.4,250.3 89.5,249.3 89.6,248.3 89.7,247.4 89.8,246.6 89.9,245.9 90.0,245.4 90.1,245.1 90.2,245.0 90.3,245.0 90.4,245.3 90.5,245.7 90.6,246.3 90.7,247.0 90.8,247.8 90.9,248.7 91.0,249.6 91.1,250.6 91.2,251.5 91.3,252.3 91.4,253.1 91.5,253.7 91.6,254.2 91.7,254.5 91.8,254.7 91.9,254.7 92.0,254.5 92.1,254.1 92.2,253.6 92.3,253.0 92.4,252.3 92.5,251.5 92.6,250.7 92.7,249.8 92.8,249.0 92.9,248.2 93.0,247.5 93.1,246.9 93.2,246.5 93.3,246.1 93.4,246.0 93.5,245.9 93.6,246.1 93.7,246.4 93.8,246.8 93.9,247.3 94.0,247.9 94.1,248.6 94.2,249.4 94.3,250.1 94.4,250.9 94.5,251.6 94.6,252.2 94.7,252.7 94.8,253.2 94.9,253.5 95.0,253.6 95.1,253.7 95.2,253.6 95.3,253.4 95.4,253.0 95.5,252.6 95.6,252.1 95.7,251.5 95.8,250.8 95.9,250.2 96.0,249.5 96.1,248.9 96.2,248.4 96.3,247.9 96.4,247.5 96.5,247.2 96.6,247.0 96.7,247.0 96.8,247.0 96.9,247.2 97.0,247.5 97.1,247.8 97.2,248.2 97.3,248.7 97.4,249.3 97.5,249.8 97.6,250.4 97.7,250.9 97.8,251.4 97.9,251.8 98.0,252.1 98.1,252.4 98.2,252.6 98.3,252.6 98.4,252.6 98.5,252.5 98.6,252.3 98.7,252.0 98.8,251.7 98.9,251.3 99.0,250.9 99.1,250.4 99.2,250.0 99.3,249.5 99.4,249.1 99.5,248.8 99.6,248.5 99.7,248.3 99.8,248.1 99.9,248.0 100.0,248.0 100.1,248.1 100.2,248.3 100.3,248.5 100.4,248.7 100.5,249.0 100.6,249.3 100.7,249.7 100.8,250.0 100.9,250.3 101.0,250.6 101.1,250.9 101.2,251.2 101.3,251.3 101.4,251.5 101.5,251.5 101.6,251.6 101.7,251.5 101.8,251.4 101.9,251.3 102.0,251.1 102.1,250.9 102.2,250.7 102.3,250.5 102.4,250.2 102.5,250.0 102.6,249.8 102.7,249.6 102.8,249.4 102.9,249.3 103.0,249.2 103.1,249.2 103.2,249.1 103.3,249.2 103.4,249.2 103.5,249.3 103.6,249.4 103.7,249.5 103.8,249.6 103.9,249.7 104.0,249.8 104.1,250.0 104.2,250.1 104.3,250.2 104.4,250.3 104.5,250.3 104.6,250.4 104.7,250.4 104.7,250.4 104.8,250.4 104.9,250.4 105.0,250.4 105.1,250.4 105.2,250.4 105.3,250.4 105.4,250.4 105.5,250.3 105.6,250.3 105.7,250.3 105.8,250.3 105.9,250.3 106.0,250.3 106.1,250.3 106.2,250.3 106.3,250.3 106.4,250.2 106.5,250.2 106.6,250.2 106.7,250.1 106.8,250.1 106.9,250.0 107.0,249.9 107.1,249.8 107.2,249.7 107.3,249.6 107.4,249.5 107.5,249.5 107.6,249.4 107.7,249.3 107.8,249.3 107.9,249.3 108.0,249.3 108.1,249.4 108.2,249.5 108.3,249.6 108.4,249.7 108.5,249.9 108.6,250.1 108.7,250.3 108.8,250.5 108.9,250.7 109.0,250.8 109.1,251.0 109.2,251.2 109.3,251.3 109.4,251.3 109.5,251.4 109.6,251.4 109.7,251.3 109.8,251.2 109.9,251.0 110.0,250.8 110.1,250.5 110.2,250.3 110.3,250.0 110.4,249.7 110.5,249.4 110.6,249.1 110.7,248.8 110.8,248.6 110.9,248.4 111.0,248.3 111.1,248.2 111.2,248.2 111.3,248.3 111.4,248.4 111.5,248.7 111.6,248.9 111.7,249.3 111.8,249.6 111.9,250.0 112.0,250.4 112.1,250.8 112.2,251.2 112.3,251.6 112.4,251.9 112.5,252.2 112.6,252.4 112.7,252.5 112.8,252.5 112.9,252.4 113.0,252.2 113.1,252.0 113.2,251.6 113.3,251.2 113.4,250.8 113.5,250.3 113.6,249.8 113.7,249.3 113.8,248.8 113.9,248.3 114.0,247.9 114.1,247.6 114.2,247.3 114.3,247.2 114.4,247.1 114.5,247.2 114.6,247.4 114.7,247.7 114.8,248.0 114.9,248.5 115.0,249.0 115.1,249.6 115.2,250.2 115.3,250.8 115.4,251.5 115.5,252.0 115.6,252.5 115.7,252.9 115.8,253.2 115.9,253.5 116.0,253.5 116.1,253.5 116.2,253.3 116.3,253.0 116.4,252.6 116.5,252.1 116.6,251.4 116.7,250.8 116.8,250.1 116.9,249.3 117.0,248.6 117.1,248.0 117.2,247.4 117.3,246.9 117.4,246.5 117.5,246.2 117.6,246.1 117.7,246.1 117.8,246.3 117.9,246.6 118.0,247.1 118.1,247.6 118.2,248.3 118.3,249.1 118.4,249.9 118.5,250.7 118.6,251.5 118.7,252.3 118.8,252.9 118.9,253.5 119.0,254.0 119.1,254.3 119.2,254.5 119.3,254.5 119.4,254.4 119.5,254.0 119.6,253.6 119.7,252.9 119.8,252.2 119.9,251.4 120.0,250.5 120.1,249.6 120.2,248.7 120.3,247.8 120.4,247.0 120.5,246.4 120.6,245.8 120.7,245.4 120.8,245.2 120.9,245.1 121.0,245.3 121.1,245.6 121.2,246.1 121.3,246.7 121.4,247.5 121.5,248.4 121.6,249.4 121.7,250.4 121.8,251.4 121.9,252.3 122.0,253.2 122.1,254.0 122.2,254.6 122.3,255.1 122.4,255.4 122.5,255.5 122.6,255.4 122.7,255.1 122.8,254.6 122.9,253.9 123.0,253.0 123.1,252.1 123.2,251.1 123.3,250.0 123.4,248.9 123.5,247.8 123.6,246.9 123.7,246.0 123.8,245.3 123.9,244.7 124.0,244.4 124.1,244.2 124.2,244.3 124.3,244.6 124.3,245.1 124.4,245.8 124.5,246.6 124.6,247.6 124.7,248.7 124.8,249.9 124.9,251.1 125.0,252.2 125.1,253.3 125.2,254.3 125.3,255.1 125.4,255.7 125.5,256.1 125.6,256.3 125.7,256.3 125.8,256.0 125.9,255.5 126.0,254.8 126.1,253.9 126.2,252.9 126.3,251.7 126.4,250.5 126.5,249.3 126.6,248.0 126.7,246.9 126.8,245.8 126.9,244.9 127.0,244.2 127.1,243.7 127.2,243.4 127.3,243.4 127.4,243.7 127.5,244.1 127.6,244.8 127.7,245.8 127.8,246.8 127.9,248.0 128.0,249.3 128.1,250.6 128.2,252.0 128.3,253.2 128.4,254.3 128.5,255.3 128.6,256.1 128.7,256.7 128.8,257.0 128.9,257.1 129.0,256.9 129.1,256.4 129.2,255.7 129.3,254.8 129.4,253.7 129.5,252.5 129.6,251.2 129.7,249.8 129.8,248.4 129.9,247.0 130.0,245.8 130.1,244.7 130.2,243.9 130.3,243.2 130.4,242.8 130.5,242.7 130.6,242.8 130.7,243.3 130.8,243.9 130.9,244.9 131.0,246.0 131.1,247.2 131.2,248.6 131.3,250.1 131.4,251.5 131.5,252.9 131.6,254.3 131.7,255.4 131.8,256.4 131.9,257.1 132.0,257.6 132.1,257.8 132.2,257.7 132.3,257.3 132.4,256.6 132.5,255.7 132.6,254.6 132.7,253.3 132.8,251.9 132.9,250.4 133.0,248.9 133.1,247.4 133.2,246.0 133.3,244.8 133.4,243.7 133.5,242.9 133.6,242.4 133.7,242.1 133.8,242.1 133.9,242.5 134.0,243.1 134.1,244.0 134.2,245.1 134.3,246.4 134.4,247.9 134.5,249.4 134.6,251.0 134.7,252.5 134.8,254.0 134.9,255.3 135.0,256.4 135.1,257.3 135.2,257.9 135.3,258.3 135.4,258.3 135.5,258.0 135.6,257.4 135.7,256.5 135.8,255.4 135.9,254.1 136.0,252.6 136.1,251.1 136.2,249.4 136.3,247.8 136.4,246.3 136.5,244.9 136.6,243.7 136.7,242.8 136.8,242.1 136.9,241.7 137.0,241.6 137.1,241.8 137.2,242.4 137.3,243.2 137.4,244.3 137.5,245.6 137.6,247.1 137.7,248.7 137.8,250.4 137.9,252.0 138.0,253.6 138.1,255.1 138.2,256.3 138.3,257.4 138.4,258.1 138.5,258.6 138.6,258.7 138.7,258.6 138.8,258.1 138.9,257.3 139.0,256.2 139.1,254.9 139.2,253.4 139.3,251.8 139.4,250.1 139.5,248.4 139.6,246.8 139.7,245.3 139.8,243.9 139.9,242.8 140.0,242.0 140.1,241.5 140.2,241.2 140.3,241.4 140.4,241.8 140.5,242.6 140.6,243.6 140.7,244.9 140.8,246.4 140.9,248.0 141.0,249.7 141.1,251.4 141.2,253.1 141.3,254.6 141.4,256.0 141.5,257.2 141.6,258.1 141.7,258.7 141.8,259.0 141.9,259.0 142.0,258.6 142.1,257.9 142.2,256.9 142.3,255.6 142.4,254.2 142.5,252.5 142.6,250.8 142.7,249.1 142.8,247.4 142.9,245.8 143.0,244.3 143.1,243.1 143.2,242.1 143.3,241.4 143.4,241.1 143.5,241.1 143.6,241.4 143.7,242.0 143.8,243.0 143.9,244.2 144.0,245.6 144.0,247.2 144.1,249.0 144.2,250.7 144.3,252.4 144.4,254.1 144.5,255.6 144.6,256.9 144.7,257.9 144.8,258.7 144.9,259.1 145.0,259.2 145.1,258.9 145.2,258.3 145.3,257.4 145.4,256.2 145.5,254.8 145.6,253.3 145.7,251.5 145.8,249.8 145.9,248.0 146.0,246.4 146.1,244.8 146.2,243.5 146.3,242.4 146.4,241.6 146.5,241.1 146.6,240.9 146.7,241.1 146.8,241.6 146.9,242.5 147.0,243.6 147.1,245.0 147.2,246.5 147.3,248.2 147.4,250.0 147.5,251.8 147.6,253.5 147.7,255.0 147.8,256.4 147.9,257.6 148.0,258.4 148.1,259.0 148.2,259.2 148.3,259.1 148.4,258.6 148.5,257.8 148.6,256.8 148.7,255.4 148.8,253.9 148.9,252.3 149.0,250.5 149.1,248.7 149.2,247.0 149.3,245.4 149.4,244.0 149.5,242.8 149.6,241.9 149.7,241.3 149.8,241.0 149.9,241.1 150.0,241.4 150.1,242.2 150.2,243.2 150.3,244.4 150.4,245.9 150.5,247.6 150.6,249.3 150.7,251.0 150.8,252.7 150.9,254.4 151.0,255.8 151.1,257.0 151.2,258.0 151.3,258.7 151.4,259.0 151.5,259.1 151.6,258.7 151.7,258.1 151.8,257.1 151.9,255.9 152.0,254.5 152.1,252.9 152.2,251.2 152.3,249.5 152.4,247.8 152.5,246.1 152.6,244.7 152.7,243.4 152.8,242.4 152.9,241.7 153.0,241.2 153.1,241.2 153.2,241.4 153.3,242.0 153.4,242.9 153.5,244.0 153.6,245.4 153.7,246.9 153.8,248.6 153.9,250.3 154.0,252.0 154.1,253.6 154.2,255.1 154.3,256.4 154.4,257.5 154.5,258.2 154.6,258.7 154.7,258.8 154.8,258.6 154.9,258.1 155.0,257.3 155.1,256.3 155.2,254.9 155.3,253.5 155.4,251.9 155.5,250.2 155.6,248.5 155.7,246.9 155.8,245.4 155.9,244.1 156.0,243.0 156.1,242.2 156.2,241.7 156.3,241.5 156.4,241.6 156.5,242.0 156.6,242.8 156.7,243.8 156.8,245.0 156.9,246.4 157.0,248.0 157.1,249.6 157.2,251.3 157.3,252.9 157.4,254.3 157.5,255.7 157.6,256.8 157.7,257.6 157.8,258.2 157.9,258.4 158.0,258.4 158.1,258.0 158.2,257.4 158.3,256.4 158.4,255.3 158.5,253.9 158.6,252.4 158.7,250.8 158.8,249.2 158.9,247.7 159.0,246.2 159.1,244.9 159.2,243.8 159.3,242.9 159.4,242.3 159.5,242.0 159.6,242.0 159.7,242.2 159.8,242.8 159.9,243.7 160.0,244.8 160.1,246.1 160.2,247.5 160.3,249.0 160.4,250.6 160.5,252.1 160.6,253.5 160.7,254.8 160.8,256.0 160.9,256.9 161.0,257.5 161.1,257.9 161.2,257.9 161.3,257.7 161.4,257.2 161.5,256.4 161.6,255.4 161.7,254.2 161.8,252.9 161.9,251.4 162.0,249.9 162.1,248.4 162.2,247.0 162.3,245.7 162.4,244.6 162.5,243.7 162.6,243.0 162.7,242.6 162.8,242.5 162.9,242.7 163.0,243.1 163.1,243.8 163.2,244.7 163.3,245.8 163.4,247.1 163.5,248.5 163.6,249.9 163.7,251.4 163.7,252.7 163.8,254.0 163.9,255.1 164.0,256.0 164.1,256.7 164.2,257.1 164.3,257.3 164.4,257.2 164.5,256.9 164.6,256.2 164.7,255.4 164.8,254.3 164.9,253.2 165.0,251.9 165.1,250.5 165.2,249.1 165.3,247.8 165.4,246.6 165.5,245.5 165.6,244.6 165.7,243.9 165.8,243.4 165.9,243.2 166.0,243.2 166.1,243.5 166.2,244.1 166.3,244.8 166.4,245.8 166.5,246.9 166.6,248.1 166.7,249.4 166.8,250.7 166.9,252.0 167.0,253.1 167.1,254.2 167.2,255.1 167.3,255.8 167.4,256.3 167.5,256.6 167.6,256.6 167.7,256.3 167.8,255.9 167.9,255.2 168.0,254.3 168.1,253.3 168.2,252.2 168.3,251.0 168.4,249.7 168.5,248.5 168.6,247.4 168.7,246.4 168.8,245.5 168.9,244.8 169.0,244.3 169.1,244.0 169.2,244.0 169.3,244.1 169.4,244.5 169.5,245.1 169.6,245.9 169.7,246.8 169.8,247.9 169.9,249.0 170.0,250.1 170.1,251.3 170.2,252.3 170.3,253.3 170.4,254.2 170.5,254.9 170.6,255.4 170.7,255.7 170.8,255.8 170.9,255.6 171.0,255.3 171.1,254.8 171.2,254.1 171.3,253.3 171.4,252.3 171.5,251.3 171.6,250.2 171.7,249.2 171.8,248.2 171.9,247.3 172.0,246.4 172.1,245.8 172.2,245.3 172.3,245.0 172.4,244.8 172.5,244.9 172.6,245.2 172.7,245.6 172.8,246.2 172.9,247.0 173.0,247.8 173.1,248.7 173.2,249.7 173.3,250.7 173.4,251.6 173.5,252.5 173.6,253.2 173.7,253.9 173.8,254.4 173.9,254.7 174.0,254.8 174.1,254.8 174.2,254.6 174.3,254.2 174.4,253.7 174.5,253.1 174.6,252.3 174.7,251.5 174.8,250.6 174.9,249.7 175.0,248.9 175.1,248.1 175.2,247.4 175.3,246.8 175.4,246.3 175.5,246.0 175.6,245.8 175.7,245.8 175.8,245.9 175.9,246.3 176.0,246.7 176.1,247.2 176.2,247.9 176.3,248.6 176.4,249.4 176.5,250.2 176.6,250.9 176.7,251.7 176.8,252.3 176.9,252.9 177.0,253.3 177.1,253.6 177.2,253.8 177.3,253.8 177.4,253.7 177.5,253.5 177.6,253.1 177.7,252.7 177.8,252.1 177.9,251.5 178.0,250.8 178.1,250.1 178.2,249.5 178.3,248.8 178.4,248.2 178.5,247.7 178.6,247.3 178.7,247.0 178.8,246.9 178.9,246.8 179.0,246.9 179.1,247.0 179.2,247.3 179.3,247.7 179.4,248.2 179.5,248.7 179.6,249.3 179.7,249.9 179.8,250.4 179.9,251.0 180.0,251.5 180.1,251.9 180.2,252.3 180.3,252.6 180.4,252.7 180.5,252.8 180.6,252.8 180.7,252.6 180.8,252.4 180.9,252.1 181.0,251.8 181.1,251.3 181.2,250.9 181.3,250.4 181.4,249.9 181.5,249.5 181.6,249.0 181.7,248.7 181.8,248.4 181.9,248.1 182.0,248.0 182.1,247.9 182.2,247.9 182.3,248.0 182.4,248.1 182.5,248.4 182.6,248.6 182.7,249.0 182.8,249.3 182.9,249.7 183.0,250.1 183.1,250.4 183.2,250.8 183.3,251.0 183.3,251.3 183.4,251.5 183.5,251.6 183.6,251.7 183.7,251.7 183.8,251.7 183.9,251.6 184.0,251.4 184.1,251.2 184.2,251.0 184.3,250.7 184.4,250.5 184.5,250.2 184.6,249.9 184.7,249.7 184.8,249.5 184.9,249.3 185.0,249.2 185.1,249.1 185.2,249.0 185.3,249.0 185.4,249.0 185.5,249.0 185.6,249.1 185.7,249.2 185.8,249.4 185.9,249.5 186.0,249.7 186.1,249.8 186.2,250.0 186.3,250.1 186.4,250.3 186.5,250.4 186.6,250.5 186.7,250.5 186.8,250.6 186.9,250.6 187.0,250.6 187.1,250.6 187.2,250.6 187.3,250.5 187.4,250.5 187.5,250.4 187.6,250.4 187.7,250.3 187.8,250.3 187.9,250.2 188.0,250.2 188.1,250.2 188.2,250.1 188.3,250.1 188.4,250.1 188.5,250.1 188.6,250.1 188.7,250.0 188.8,250.0 188.9,250.0 189.0,250.0 189.1,249.9 189.2,249.9 189.3,249.8 189.4,249.8 189.5,249.7 189.6,249.6 189.7,249.6 189.8,249.5 189.9,249.5 190.0,249.5 190.1,249.5 190.2,249.5 190.3,249.6 190.4,249.6 190.5,249.7 190.6,249.8 190.7,250.0 190.8,250.1 190.9,250.3 191.0,250.4 191.1,250.6 191.2,250.8 191.3,250.9 191.4,251.0 191.5,251.1 191.6,251.2 191.7,251.2 191.8,251.2 191.9,251.1 192.0,251.0 192.1,250.9 192.2,250.7 192.3,250.5 192.4,250.2 192.5,249.9 192.6,249.7 192.7,249.4 192.8,249.1 192.9,248.9 193.0,248.7 193.1,248.5 193.2,248.4 193.3,248.4 193.4,248.4 193.5,248.5 193.6,248.6 193.7,248.8 193.8,249.1 193.9,249.4 194.0,249.7 194.1,250.1 194.2,250.4 194.3,250.8 194.4,251.2 194.5,251.5 194.6,251.8 194.7,252.0 194.8,252.2 194.9,252.3 195.0,252.3 195.1,252.2 195.2,252.1 195.3,251.8 195.4,251.5 195.5,251.1 195.6,250.7 195.7,250.2 195.8,249.8 195.9,249.3 196.0,248.8 196.1,248.4 196.2,248.0 196.3,247.7 196.4,247.5 196.5,247.3 196.6,247.3 196.7,247.4 196.8,247.5 196.9,247.8 197.0,248.2 197.1,248.6 197.2,249.1 197.3,249.7 197.4,250.3 197.5,250.9 197.6,251.4 197.7,252.0 197.8,252.4 197.9,252.8 198.0,253.1 198.1,253.3 198.2,253.4 198.3,253.3 198.4,253.1 198.5,252.8 198.6,252.4 198.7,251.9 198.8,251.3 198.9,250.7 199.0,250.0 199.1,249.3 199.2,248.7 199.3,248.0 199.4,247.5 199.5,247.0 199.6,246.6 199.7,246.4 199.8,246.3 199.9,246.3 200.0,246.5 200.1,246.8 200.2,247.2 200.3,247.8 200.4,248.4 200.5,249.2 200.6,249.9 200.7,250.7 200.8,251.5 200.9,252.2 201.0,252.9 201.1,253.5 201.2,253.9 201.3,254.2 201.4,254.4 201.5,254.4 201.6,254.2 201.7,253.9 201.8,253.4 201.9,252.8 202.0,252.1 202.1,251.3 202.2,250.4 202.3,249.5 202.4,248.7 202.5,247.8 202.6,247.1 202.7,246.4 202.8,245.9 202.9,245.5 203.0,245.3 203.0,245.3 203.1,245.4 203.2,245.7 203.3,246.2 203.4,246.9 203.5,247.6 203.6,248.5 203.7,249.5 203.8,250.4 203.9,251.4 204.0,252.3 204.1,253.2 204.2,253.9 204.3,254.5 204.4,255.0 204.5,255.3 204.6,255.3 204.7,255.2 204.8,254.9 204.9,254.4 205.0,253.7 205.1,252.9 205.2,252.0 205.3,251.0 205.4,249.9 205.5,248.9 205.6,247.8 205.7,246.9 205.8,246.0 205.9,245.3 206.0,244.8 206.1,244.5 206.2,244.4 206.3,244.4 206.4,244.7 206.5,245.2 206.6,245.9 206.7,246.8 206.8,247.8 206.9,248.8 207.0,250.0 207.1,251.1 207.2,252.2 207.3,253.3 207.4,254.2 207.5,255.0 207.6,255.6 207.7,256.0 207.8,256.2 207.9,256.2 208.0,255.9 208.1,255.4 208.2,254.7 208.3,253.8 208.4,252.8 208.5,251.6 208.6,250.4 208.7,249.2 208.8,248.0 208.9,246.9 209.0,245.8 209.1,245.0 209.2,244.3 209.3,243.8 209.4,243.6 209.5,243.6 209.6,243.8 209.7,244.3 209.8,245.0 209.9,245.9 210.0,247.0 210.1,248.1 210.2,249.4 210.3,250.7 210.4,252.0 210.5,253.2 210.6,254.3 210.7,255.3 210.8,256.1 210.9,256.6 211.0,256.9 211.1,257.0 211.2,256.8 211.3,256.3 211.4,255.6 211.5,254.7 211.6,253.6 211.7,252.4 211.8,251.1 211.9,249.7 212.0,248.3 212.1,247.0 212.2,245.8 212.3,244.8 212.4,243.9 212.5,243.3 212.6,242.9 212.7,242.8 212.8,243.0 212.9,243.4 213.0,244.1 213.1,245.0 213.2,246.1 213.3,247.4 213.4,248.7 213.5,250.2 213.6,251.6 213.7,253.0 213.8,254.3 213.9,255.4 214.0,256.3 214.1,257.0 214.2,257.5 214.3,257.7 214.4,257.6 214.5,257.2 214.6,256.5 214.7,255.6 214.8,254.5 214.9,253.2 215.0,251.8 215.1,250.3 215.2,248.8 215.3,247.3 215.4,246.0 215.5,244.7 215.6,243.7 215.7,242.9 215.8,242.4 215.9,242.2 216.0,242.2 216.1,242.6 216.2,243.2 216.3,244.1 216.4,245.3 216.5,246.6 216.6,248.0 216.7,249.5 216.8,251.1 216.9,252.6 217.0,254.0 217.1,255.3 217.2,256.4 217.3,257.3 217.4,257.9 217.5,258.2 217.6,258.2 217.7,257.9 217.8,257.3 217.9,256.4 218.0,255.3 218.1,254.0 218.2,252.5 218.3,251.0 218.4,249.3 218.5,247.8 218.6,246.3 218.7,244.9 218.8,243.7 218.9,242.8 219.0,242.1 219.1,241.7 219.2,241.7 219.3,241.9 219.4,242.5 219.5,243.3 219.6,244.4 219.7,245.8 219.8,247.2 219.9,248.8 220.0,250.5 220.1,252.1 220.2,253.7 220.3,255.1 220.4,256.3 220.5,257.4 220.6,258.1 220.7,258.5 220.8,258.7 220.9,258.5 221.0,258.0 221.1,257.2 221.2,256.1 221.3,254.8 221.4,253.3 221.5,251.7 221.6,250.0 221.7,248.3 221.8,246.7 221.9,245.2 222.0,243.9 222.1,242.8 222.2,242.0 222.3,241.5 222.4,241.3 222.5,241.4 222.6,241.9 222.7,242.7 222.7,243.7 222.8,245.0 222.9,246.5 223.0,248.1 223.1,249.8 223.2,251.5 223.3,253.2 223.4,254.7 223.5,256.1" fill="none" stroke="#dc2626" stroke-width="1.0" stroke-linejoin="round" opacity="1.0"/>
<polyline points="64.5,242.4 64.6,243.1 64.7,243.9 64.8,244.9 64.9,246.1 65.0,247.5 65.1,249.1 65.2,250.8 65.3,252.6 65.3,254.6 65.4,256.7 65.5,258.9 65.6,261.2 65.7,263.5 65.8,265.9 65.9,268.3 66.0,270.8 66.1,273.2 66.2,275.7 66.3,278.0 66.4,280.4 66.5,282.7 66.6,284.8 66.7,286.9 66.8,288.9 66.9,290.7 67.0,292.4 67.1,294.0 67.2,295.4 67.3,296.6 67.4,297.6 67.5,298.5 67.6,299.2 67.7,299.7 67.8,300.0 67.9,300.1 68.0,300.0 68.1,299.8 68.2,299.4 68.3,298.8 68.4,298.0 68.5,297.1 68.6,296.0 68.7,294.8 68.8,293.4 68.9,292.0 69.0,290.4 69.1,288.8 69.2,287.1 69.3,285.3 69.4,283.5 69.5,281.6 69.6,279.7 69.7,277.8 69.8,275.9 69.9,274.1 70.0,272.3 70.1,270.5 70.2,268.8 70.3,267.1 70.4,265.5 70.5,264.0 70.6,262.6 70.7,261.3 70.8,260.1 70.9,259.1 71.0,258.1 71.1,257.3 71.2,256.5 71.3,255.9 71.4,255.5 71.5,255.1 71.6,254.9 71.7,254.7 71.8,254.7 71.9,254.8 72.0,255.0 72.1,255.3 72.2,255.7 72.3,256.1 72.4,256.7 72.5,257.3 72.6,258.0 72.7,258.7 72.8,259.4 72.9,260.2 73.0,261.1 73.1,261.9 73.2,262.8 73.3,263.7 73.4,264.5 73.5,265.4 73.6,266.3 73.7,267.1 73.8,267.9 73.9,268.8 74.0,269.5 74.1,270.3 74.2,271.0 74.3,271.7 74.4,272.3 74.5,272.9 74.6,273.5 74.7,274.1 74.8,274.6 74.9,275.1 75.0,275.5 75.1,275.9 75.2,276.3 75.3,276.6 75.4,277.0 75.5,277.3 75.6,277.6 75.7,277.9 75.8,278.1 75.9,278.4 76.0,278.6 76.1,278.8 76.2,279.0 76.3,279.2 76.4,279.5 76.5,279.7 76.6,279.8 76.7,280.0 76.8,280.2 76.9,280.4 77.0,280.6 77.1,280.8 77.2,280.9 77.3,281.1 77.4,281.2 77.5,281.3 77.6,281.4 77.7,281.5 77.8,281.6 77.9,281.6 78.0,281.6 78.1,281.6 78.2,281.6 78.3,281.5 78.4,281.3 78.5,281.2 78.6,281.0 78.7,280.7 78.8,280.4 78.9,280.1 79.0,279.7 79.1,279.3 79.2,278.8 79.3,278.3 79.4,277.7 79.5,277.1 79.6,276.4 79.7,275.8 79.8,275.0 79.9,274.3 80.0,273.5 80.1,272.7 80.2,271.9 80.3,271.0 80.4,270.2 80.5,269.3 80.6,268.5 80.7,267.6 80.8,266.8 80.9,266.0 81.0,265.2 81.1,264.4 81.2,263.7 81.3,263.0 81.4,262.3 81.5,261.7 81.6,261.2 81.7,260.7 81.8,260.2 81.9,259.9 82.0,259.6 82.1,259.3 82.2,259.2 82.3,259.1 82.4,259.0 82.5,259.1 82.6,259.2 82.7,259.4 82.8,259.6 82.9,259.9 83.0,260.3 83.1,260.8 83.2,261.3 83.3,261.8 83.4,262.5 83.5,263.1 83.6,263.9 83.7,264.6 83.8,265.4 83.9,266.2 84.0,267.1 84.1,267.9 84.2,268.8 84.3,269.7 84.4,270.6 84.5,271.5 84.6,272.4 84.7,273.3 84.8,274.2 84.9,275.1 85.0,275.9 85.0,276.8 85.1,277.6 85.2,278.4 85.3,279.1 85.4,279.8 85.5,280.5 85.6,281.1 85.7,281.7 85.8,282.3 85.9,282.8 86.0,283.3 86.1,283.7 86.2,284.1 86.3,284.4 86.4,284.7 86.5,285.0 86.6,285.2 86.7,285.3 86.8,285.4 86.9,285.5 87.0,285.5 87.1,285.5 87.2,285.5 87.3,285.3 87.4,285.2 87.5,285.0 87.6,284.8 87.7,284.5 87.8,284.1 87.9,283.8 88.0,283.4 88.1,282.9 88.2,282.4 88.3,281.8 88.4,281.3 88.5,280.6 88.6,279.9 88.7,279.2 88.8,278.5 88.9,277.7 89.0,276.8 89.1,275.9 89.2,275.0 89.3,274.1 89.4,273.1 89.5,272.1 89.6,271.0 89.7,270.0 89.8,268.9 89.9,267.8 90.0,266.7 90.1,265.6 90.2,264.4 90.3,263.3 90.4,262.2 90.5,261.1 90.6,260.1 90.7,259.1 90.8,258.1 90.9,257.1 91.0,256.2 91.1,255.4 91.2,254.7 91.3,254.0 91.4,253.4 91.5,252.8 91.6,252.4 91.7,252.1 91.8,251.9 91.9,251.8 92.0,251.8 92.1,251.9 92.2,252.1 92.3,252.5 92.4,253.0 92.5,253.6 92.6,254.4 92.7,255.3 92.8,256.3 92.9,257.4 93.0,258.6 93.1,260.0 93.2,261.5 93.3,263.0 93.4,264.7 93.5,266.4 93.6,268.2 93.7,270.1 93.8,272.0 93.9,274.0 94.0,276.0 94.1,278.0 94.2,280.0 94.3,282.0 94.4,283.9 94.5,285.9 94.6,287.7 94.7,289.5 94.8,291.2 94.9,292.9 95.0,294.4 95.1,295.8 95.2,297.0 95.3,298.1 95.4,299.1 95.5,299.9 95.6,300.5 95.7,301.0 95.8,301.3 95.9,301.3 96.0,301.2 96.1,300.9 96.2,300.4 96.3,299.8 96.4,298.9 96.5,297.8 96.6,296.6 96.7,295.2 96.8,293.6 96.9,291.9 97.0,290.1 97.1,288.1 97.2,286.0 97.3,283.8 97.4,281.5 97.5,279.1 97.6,276.7 97.7,274.3 97.8,271.8 97.9,269.3 98.0,266.9 98.1,264.4 98.2,262.0 98.3,259.7 98.4,257.5 98.5,255.4 98.6,253.4 98.7,251.5 98.8,249.7 98.9,248.1 99.0,246.7 99.1,245.5 99.2,244.4 99.3,243.5 99.4,242.8 99.5,242.4 99.6,242.1 99.7,242.0 99.8,242.2 99.9,242.5 100.0,243.1 100.1,243.8 100.2,244.7 100.3,245.8 100.4,247.1 100.5,248.5 100.6,250.1 100.7,251.8 100.8,253.7 100.9,255.6 101.0,257.7 101.1,259.8 101.2,262.0 101.3,264.2 101.4,266.5 101.5,268.8 101.6,271.0 101.7,273.3 101.8,275.5 101.9,277.7 102.0,279.7 102.1,281.8 102.2,283.7 102.3,285.5 102.4,287.2 102.5,288.8 102.6,290.2 102.7,291.5 102.8,292.7 102.9,293.7 103.0,294.5 103.1,295.2 103.2,295.7 103.3,296.1 103.4,296.3 103.5,296.3 103.6,296.2 103.7,295.9 103.8,295.5 103.9,294.9 104.0,294.2 104.1,293.4 104.2,292.5 104.3,291.5 104.4,290.4 104.5,289.2 104.6,287.9 104.7,286.6 104.7,285.2 104.8,283.8 104.9,282.3 105.0,280.9 105.1,279.4 105.2,277.9 105.3,276.5 105.4,275.1 105.5,273.7 105.6,272.3 105.7,271.0 105.8,269.8 105.9,268.6 106.0,267.5 106.1,266.5 106.2,265.5 106.3,264.7 106.4,263.9 106.5,263.1 106.6,262.5 106.7,261.9 106.8,261.5 106.9,261.1 107.0,260.7 107.1,260.5 107.2,260.3 107.3,260.2 107.4,260.2 107.5,260.2 107.6,260.2 107.7,260.4 107.8,260.5 107.9,260.7 108.0,261.0 108.1,261.3 108.2,261.6 108.3,261.9 108.4,262.2 108.5,262.6 108.6,262.9 108.7,263.3 108.8,263.7 108.9,264.1 109.0,264.5 109.1,264.9 109.2,265.3 109.3,265.7 109.4,266.0 109.5,266.4 109.6,266.8 109.7,267.2 109.8,267.6 109.9,267.9 110.0,268.3 110.1,268.7 110.2,269.1 110.3,269.4 110.4,269.8 110.5,270.2 110.6,270.7 110.7,271.1 110.8,271.5 110.9,271.9 111.0,272.4 111.1,272.9 111.2,273.4 111.3,273.8 111.4,274.4 111.5,274.9 111.6,275.4 111.7,275.9 111.8,276.5 111.9,277.0 112.0,277.6 112.1,278.2 112.2,278.7 112.3,279.3 112.4,279.8 112.5,280.3 112.6,280.8 112.7,281.3 112.8,281.8 112.9,282.2 113.0,282.6 113.1,283.0 113.2,283.3 113.3,283.6 113.4,283.8 113.5,284.0 113.6,284.1 113.7,284.2 113.8,284.2 113.9,284.1 114.0,284.0 114.1,283.8 114.2,283.6 114.3,283.3 114.4,282.9 114.5,282.5 114.6,282.0 114.7,281.5 114.8,280.9 114.9,280.2 115.0,279.5 115.1,278.8 115.2,278.0 115.3,277.2 115.4,276.3 115.5,275.5 115.6,274.6 115.7,273.6 115.8,272.7 115.9,271.8 116.0,270.8 116.1,269.9 116.2,269.0 116.3,268.1 116.4,267.2 116.5,266.3 116.6,265.5 116.7,264.7 116.8,264.0 116.9,263.3 117.0,262.6 117.1,262.0 117.2,261.5 117.3,261.0 117.4,260.6 117.5,260.2 117.6,259.9 117.7,259.7 117.8,259.5 117.9,259.4 118.0,259.3 118.1,259.3 118.2,259.4 118.3,259.6 118.4,259.7 118.5,260.0 118.6,260.3 118.7,260.6 118.8,261.0 118.9,261.5 119.0,261.9 119.1,262.5 119.2,263.0 119.3,263.6 119.4,264.2 119.5,264.9 119.6,265.5 119.7,266.2 119.8,266.9 119.9,267.7 120.0,268.4 120.1,269.2 120.2,269.9 120.3,270.7 120.4,271.4 120.5,272.2 120.6,273.0 120.7,273.8 120.8,274.5 120.9,275.3 121.0,276.1 121.1,276.8 121.2,277.5 121.3,278.3 121.4,279.0 121.5,279.7 121.6,280.4 121.7,281.1 121.8,281.7 121.9,282.4 122.0,283.0 122.1,283.6 122.2,284.1 122.3,284.7 122.4,285.2 122.5,285.6 122.6,286.0 122.7,286.4 122.8,286.8 122.9,287.1 123.0,287.3 123.1,287.5 123.2,287.6 123.3,287.7 123.4,287.7 123.5,287.6 123.6,287.5 123.7,287.3 123.8,287.0 123.9,286.7 124.0,286.2 124.1,285.7 124.2,285.1 124.3,284.5 124.3,283.7 124.4,282.9 124.5,281.9 124.6,280.9 124.7,279.9 124.8,278.7 124.9,277.5 125.0,276.2 125.1,274.9 125.2,273.5 125.3,272.1 125.4,270.6 125.5,269.1 125.6,267.6 125.7,266.0 125.8,264.5 125.9,263.0 126.0,261.4 126.1,259.9 126.2,258.5 126.3,257.1 126.4,255.7 126.5,254.4 126.6,253.2 126.7,252.1 126.8,251.1 126.9,250.2 127.0,249.4 127.1,248.7 127.2,248.1 127.3,247.8 127.4,247.5 127.5,247.4 127.6,247.5 127.7,247.7 127.8,248.1 127.9,248.6 128.0,249.3 128.1,250.2 128.2,251.2 128.3,252.4 128.4,253.7 128.5,255.2 128.6,256.8 128.7,258.5 128.8,260.4 128.9,262.3 129.0,264.4 129.1,266.5 129.2,268.7 129.3,270.9 129.4,273.2 129.5,275.5 129.6,277.8 129.7,280.1 129.8,282.3 129.9,284.6 130.0,286.7 130.1,288.8 130.2,290.8 130.3,292.7 130.4,294.5 130.5,296.1 130.6,297.6 130.7,298.9 130.8,300.1 130.9,301.1 131.0,301.8 131.1,302.5 131.2,302.9 131.3,303.1 131.4,303.1 131.5,302.8 131.6,302.4 131.7,301.8 131.8,301.0 131.9,300.0 132.0,298.8 132.1,297.4 132.2,295.9 132.3,294.2 132.4,292.3 132.5,290.3 132.6,288.2 132.7,286.0 132.8,283.7 132.9,281.4 133.0,279.0 133.1,276.5 133.2,274.0 133.3,271.6 133.4,269.1 133.5,266.7 133.6,264.3 133.7,262.0 133.8,259.8 133.9,257.7 134.0,255.6 134.1,253.8 134.2,252.0 134.3,250.4 134.4,249.0 134.5,247.7 134.6,246.6 134.7,245.7 134.8,245.0 134.9,244.5 135.0,244.2 135.1,244.0 135.2,244.1 135.3,244.3 135.4,244.7 135.5,245.3 135.6,246.1 135.7,247.0 135.8,248.1 135.9,249.4 136.0,250.7 136.1,252.2 136.2,253.8 136.3,255.5 136.4,257.3 136.5,259.1 136.6,261.0 136.7,263.0 136.8,264.9 136.9,266.9 137.0,268.9 137.1,270.8 137.2,272.7 137.3,274.6 137.4,276.4 137.5,278.1 137.6,279.8 137.7,281.4 137.8,282.9 137.9,284.3 138.0,285.5 138.1,286.7 138.2,287.7 138.3,288.6 138.4,289.4 138.5,290.1 138.6,290.6 138.7,291.0 138.8,291.2 138.9,291.4 139.0,291.4 139.1,291.3 139.2,291.1 139.3,290.8 139.4,290.4 139.5,289.9 139.6,289.4 139.7,288.7 139.8,288.0 139.9,287.2 140.0,286.4 140.1,285.5 140.2,284.6 140.3,283.6 140.4,282.7 140.5,281.7 140.6,280.7 140.7,279.7 140.8,278.7 140.9,277.8 141.0,276.8 141.1,275.9 141.2,275.0 141.3,274.2 141.4,273.3 141.5,272.5 141.6,271.8 141.7,271.1 141.8,270.4 141.9,269.7 142.0,269.1 142.1,268.6 142.2,268.1 142.3,267.6 142.4,267.2 142.5,266.8 142.6,266.4 142.7,266.1 142.8,265.7 142.9,265.5 143.0,265.2 143.1,265.0 143.2,264.8 143.3,264.6 143.4,264.4 143.5,264.2 143.6,264.1 143.7,263.9 143.8,263.8 143.9,263.7 144.0,263.6 144.0,263.5 144.1,263.4 144.2,263.4 144.3,263.3 144.4,263.3 144.5,263.3 144.6,263.2 144.7,263.3 144.8,263.3 144.9,263.3 145.0,263.4 145.1,263.5 145.2,263.7 145.3,263.8 145.4,264.0 145.5,264.2 145.6,264.5 145.7,264.8 145.8,265.2 145.9,265.5 146.0,265.9 146.1,266.4 146.2,266.9 146.3,267.4 146.4,268.0 146.5,268.6 146.6,269.2 146.7,269.9 146.8,270.6 146.9,271.3 147.0,272.1 147.1,272.8 147.2,273.6 147.3,274.4 147.4,275.2 147.5,276.0 147.6,276.8 147.7,277.6 147.8,278.4 147.9,279.1 148.0,279.9 148.1,280.6 148.2,281.2 148.3,281.9 148.4,282.5 148.5,283.0 148.6,283.5 148.7,284.0 148.8,284.4 148.9,284.7 149.0,285.0 149.1,285.2 149.2,285.3 149.3,285.4 149.4,285.4 149.5,285.3 149.6,285.2 149.7,285.0 149.8,284.7 149.9,284.4 150.0,284.0 150.1,283.5 150.2,283.0 150.3,282.4 150.4,281.8 150.5,281.1 150.6,280.4 150.7,279.7 150.8,278.9 150.9,278.1 151.0,277.2 151.1,276.4 151.2,275.5 151.3,274.6 151.4,273.8 151.5,272.9 151.6,272.0 151.7,271.2 151.8,270.3 151.9,269.5 152.0,268.7 152.1,267.9 152.2,267.1 152.3,266.4 152.4,265.7 152.5,265.0 152.6,264.4 152.7,263.8 152.8,263.3 152.9,262.8 153.0,262.3 153.1,261.9 153.2,261.6 153.3,261.2 153.4,261.0 153.5,260.7 153.6,260.5 153.7,260.4 153.8,260.3 153.9,260.2 154.0,260.2 154.1,260.2 154.2,260.2 154.3,260.3 154.4,260.4 154.5,260.6 154.6,260.8 154.7,261.1 154.8,261.3 154.9,261.6 155.0,262.0 155.1,262.4 155.2,262.8 155.3,263.3 155.4,263.8 155.5,264.3 155.6,264.9 155.7,265.5 155.8,266.1 155.9,266.8 156.0,267.5 156.1,268.2 156.2,269.0 156.3,269.8 156.4,270.6 156.5,271.5 156.6,272.4 156.7,273.3 156.8,274.3 156.9,275.3 157.0,276.3 157.1,277.3 157.2,278.3 157.3,279.3 157.4,280.3 157.5,281.3 157.6,282.3 157.7,283.3 157.8,284.3 157.9,285.3 158.0,286.2 158.1,287.0 158.2,287.9 158.3,288.6 158.4,289.3 158.5,290.0 158.6,290.6 158.7,291.0 158.8,291.4 158.9,291.8 159.0,292.0 159.1,292.1 159.2,292.1 159.3,292.0 159.4,291.7 159.5,291.4 159.6,290.9 159.7,290.3 159.8,289.6 159.9,288.8 160.0,287.8 160.1,286.7 160.2,285.5 160.3,284.2 160.4,282.8 160.5,281.4 160.6,279.8 160.7,278.1 160.8,276.4 160.9,274.6 161.0,272.7 161.1,270.8 161.2,268.9 161.3,266.9 161.4,265.0 161.5,263.0 161.6,261.1 161.7,259.2 161.8,257.4 161.9,255.7 162.0,254.0 162.1,252.4 162.2,250.9 162.3,249.5 162.4,248.3 162.5,247.2 162.6,246.2 162.7,245.4 162.8,244.8 162.9,244.3 163.0,244.0 163.1,244.0 163.2,244.0 163.3,244.3 163.4,244.8 163.5,245.5 163.6,246.3 163.7,247.3 163.7,248.5 163.8,249.9 163.9,251.4 164.0,253.1 164.1,254.9 164.2,256.9 164.3,259.0 164.4,261.2 164.5,263.4 164.6,265.8 164.7,268.2 164.8,270.6 164.9,273.1 165.0,275.6 165.1,278.0 165.2,280.5 165.3,282.8 165.4,285.2 165.5,287.4 165.6,289.5 165.7,291.6 165.8,293.5 165.9,295.2 166.0,296.9 166.1,298.3 166.2,299.6 166.3,300.7 166.4,301.6 166.5,302.3 166.6,302.8 166.7,303.0 166.8,303.1 166.9,303.0 167.0,302.7 167.1,302.1 167.2,301.4 167.3,300.5 167.4,299.4 167.5,298.1 167.6,296.7 167.7,295.1 167.8,293.3 167.9,291.5 168.0,289.5 168.1,287.4 168.2,285.3 168.3,283.0 168.4,280.8 168.5,278.5 168.6,276.1 168.7,273.8 168.8,271.5 168.9,269.2 169.0,267.0 169.1,264.8 169.2,262.8 169.3,260.8 169.4,258.9 169.5,257.1 169.6,255.5 169.7,254.0 169.8,252.6 169.9,251.4 170.0,250.4 170.1,249.5 170.2,248.8 170.3,248.2 170.4,247.8 170.5,247.6 170.6,247.5 170.7,247.7 170.8,247.9 170.9,248.3 171.0,248.9 171.1,249.6 171.2,250.5 171.3,251.4 171.4,252.5 171.5,253.6 171.6,254.9 171.7,256.2 171.8,257.6 171.9,259.1 172.0,260.6 172.1,262.1 172.2,263.7 172.3,265.2 172.4,266.8 172.5,268.3 172.6,269.8 172.7,271.3 172.8,272.8 172.9,274.2 173.0,275.5 173.1,276.8 173.2,278.0 173.3,279.1 173.4,280.2 173.5,281.1 173.6,282.0 173.7,282.8 173.8,283.5 173.9,284.1 174.0,284.7 174.1,285.1 174.2,285.5 174.3,285.8 174.4,286.0 174.5,286.1 174.6,286.1 174.7,286.1 174.8,286.0 174.9,285.9 175.0,285.7 175.1,285.4 175.2,285.1 175.3,284.8 175.4,284.4 175.5,284.0 175.6,283.6 175.7,283.1 175.8,282.7 175.9,282.2 176.0,281.7 176.1,281.2 176.2,280.7 176.3,280.2 176.4,279.7 176.5,279.2 176.6,278.7 176.7,278.2 176.8,277.7 176.9,277.2 177.0,276.7 177.1,276.2 177.2,275.7 177.3,275.2 177.4,274.8 177.5,274.3 177.6,273.8 177.7,273.4 177.8,272.9 177.9,272.4 178.0,271.9 178.1,271.4 178.2,271.0 178.3,270.5 178.4,270.0 178.5,269.5 178.6,269.0 178.7,268.5 178.8,268.0 178.9,267.5 179.0,267.0 179.1,266.5 179.2,266.0 179.3,265.5 179.4,265.0 179.5,264.5 179.6,264.1 179.7,263.6 179.8,263.2 179.9,262.8 180.0,262.5 180.1,262.2 180.2,261.9 180.3,261.6 180.4,261.4 180.5,261.2 180.6,261.1 180.7,261.1 180.8,261.0 180.9,261.1 181.0,261.2 181.1,261.3 181.2,261.5 181.3,261.8 181.4,262.1 181.5,262.5 181.6,263.0 181.7,263.4 181.8,264.0 181.9,264.6 182.0,265.2 182.1,265.9 182.2,266.7 182.3,267.4 182.4,268.2 182.5,269.1 182.6,269.9 182.7,270.8 182.8,271.7 182.9,272.6 183.0,273.5 183.1,274.4 183.2,275.3 183.3,276.2 183.3,277.1 183.4,277.9 183.5,278.7 183.6,279.5 183.7,280.3 183.8,281.0 183.9,281.6 184.0,282.2 184.1,282.8 184.2,283.3 184.3,283.7 184.4,284.1 184.5,284.4 184.6,284.7 184.7,284.9 184.8,285.0 184.9,285.1 185.0,285.1 185.1,285.1 185.2,285.0 185.3,284.8 185.4,284.6 185.5,284.3 185.6,284.0 185.7,283.6 185.8,283.2 185.9,282.7 186.0,282.2 186.1,281.7 186.2,281.1 186.3,280.5 186.4,279.9 186.5,279.3 186.6,278.6 186.7,277.9 186.8,277.2 186.9,276.5 187.0,275.8 187.1,275.1 187.2,274.4 187.3,273.7 187.4,272.9 187.5,272.2 187.6,271.5 187.7,270.8 187.8,270.1 187.9,269.4 188.0,268.7 188.1,268.1 188.2,267.4 188.3,266.8 188.4,266.1 188.5,265.5 188.6,264.9 188.7,264.3 188.8,263.8 188.9,263.2 189.0,262.7 189.1,262.2 189.2,261.7 189.3,261.2 189.4,260.8 189.5,260.4 189.6,260.0 189.7,259.6 189.8,259.3 189.9,259.0 190.0,258.8 190.1,258.6 190.2,258.5 190.3,258.4 190.4,258.4 190.5,258.4 190.6,258.4 190.7,258.6 190.8,258.8 190.9,259.1 191.0,259.4 191.1,259.8 191.2,260.3 191.3,260.8 191.4,261.5 191.5,262.2 191.6,263.0 191.7,263.8 191.8,264.8 191.9,265.8 192.0,266.8 192.1,267.9 192.2,269.1 192.3,270.4 192.4,271.7 192.5,273.0 192.6,274.4 192.7,275.8 192.8,277.3 192.9,278.7 193.0,280.2 193.1,281.7 193.2,283.1 193.3,284.5 193.4,285.9 193.5,287.3 193.6,288.6 193.7,289.8 193.8,291.0 193.9,292.0 194.0,293.0 194.1,293.9 194.2,294.7 194.3,295.3 194.4,295.9 194.5,296.3 194.6,296.5 194.7,296.6 194.8,296.6 194.9,296.4 195.0,296.0 195.1,295.5 195.2,294.8 195.3,294.0 195.4,293.0 195.5,291.9 195.6,290.6 195.7,289.2 195.8,287.6 195.9,285.9 196.0,284.1 196.1,282.2 196.2,280.3 196.3,278.2 196.4,276.0 196.5,273.8 196.6,271.6 196.7,269.4 196.8,267.1 196.9,264.8 197.0,262.6 197.1,260.4 197.2,258.3 197.3,256.2 197.4,254.2 197.5,252.4 197.6,250.6 197.7,249.0 197.8,247.5 197.9,246.1 198.0,245.0 198.1,244.0 198.2,243.2 198.3,242.6 198.4,242.1 198.5,241.9 198.6,241.9 198.7,242.1 198.8,242.5 198.9,243.1 199.0,243.9 199.1,244.9 199.2,246.1 199.3,247.4 199.4,249.0 199.5,250.7 199.6,252.5 199.7,254.5 199.8,256.6 199.9,258.8 200.0,261.1 200.1,263.4 200.2,265.9 200.3,268.3 200.4,270.8 200.5,273.3 200.6,275.8 200.7,278.3 200.8,280.7 200.9,283.0 201.0,285.3 201.1,287.4 201.2,289.5 201.3,291.4 201.4,293.2 201.5,294.8 201.6,296.3 201.7,297.6 201.8,298.7 201.9,299.6 202.0,300.4 202.1,300.9 202.2,301.3 202.3,301.4 202.4,301.4 202.5,301.2 202.6,300.8 202.7,300.2 202.8,299.4 202.9,298.5 203.0,297.3 203.0,296.1 203.1,294.7 203.2,293.2 203.3,291.5 203.4,289.8 203.5,288.0 203.6,286.1 203.7,284.1 203.8,282.1 203.9,280.1 204.0,278.1 204.1,276.0 204.2,274.0 204.3,272.0 204.4,270.1 204.5,268.2 204.6,266.3 204.7,264.6 204.8,262.9 204.9,261.4 205.0,259.9 205.1,258.6 205.2,257.3 205.3,256.2 205.4,255.3 205.5,254.4 205.6,253.7 205.7,253.2 205.8,252.7 205.9,252.4 206.0,252.3 206.1,252.2 206.2,252.3 206.3,252.5 206.4,252.8 206.5,253.2 206.6,253.7 206.7,254.4 206.8,255.1 206.9,255.8 207.0,256.7 207.1,257.6 207.2,258.5 207.3,259.5 207.4,260.6 207.5,261.6 207.6,262.7 207.7,263.8 207.8,264.9 207.9,265.9 208.0,267.0 208.1,268.1 208.2,269.1 208.3,270.1 208.4,271.1 208.5,272.0 208.6,272.9 208.7,273.8 208.8,274.6 208.9,275.4 209.0,276.1 209.1,276.8 209.2,277.4 209.3,278.0 209.4,278.5 209.5,279.0 209.6,279.5 209.7,279.9 209.8,280.3 209.9,280.6 210.0,280.9 210.1,281.1 210.2,281.4 210.3,281.6 210.4,281.7 210.5,281.9 210.6,282.0 210.7,282.1 210.8,282.1 210.9,282.2 211.0,282.2 211.1,282.3 211.2,282.3 211.3,282.2 211.4,282.2 211.5,282.1 211.6,282.1 211.7,282.0 211.8,281.9 211.9,281.7 212.0,281.6 212.1,281.4 212.2,281.2 212.3,281.0 212.4,280.8 212.5,280.5 212.6,280.2 212.7,279.9 212.8,279.5 212.9,279.1 213.0,278.7 213.1,278.2 213.2,277.7 213.3,277.2 213.4,276.7 213.5,276.1 213.6,275.5 213.7,274.8 213.8,274.2 213.9,273.5 214.0,272.8 214.1,272.1 214.2,271.3 214.3,270.6 214.4,269.8 214.5,269.1 214.6,268.3 214.7,267.5 214.8,266.8 214.9,266.1 215.0,265.4 215.1,264.7 215.2,264.0 215.3,263.4 215.4,262.8 215.5,262.2 215.6,261.7 215.7,261.3 215.8,260.9 215.9,260.5 216.0,260.3 216.1,260.0 216.2,259.9 216.3,259.8 216.4,259.8 216.5,259.8 216.6,259.9 216.7,260.1 216.8,260.3 216.9,260.6 217.0,261.0 217.1,261.4 217.2,261.9 217.3,262.4 217.4,263.0 217.5,263.6 217.6,264.3 217.7,265.0 217.8,265.8 217.9,266.5 218.0,267.3 218.1,268.2 218.2,269.0 218.3,269.9 218.4,270.7 218.5,271.6 218.6,272.5 218.7,273.3 218.8,274.2 218.9,275.0 219.0,275.8 219.1,276.6 219.2,277.3 219.3,278.0 219.4,278.7 219.5,279.4 219.6,280.0 219.7,280.5 219.8,281.1 219.9,281.5 220.0,282.0 220.1,282.4 220.2,282.7 220.3,283.0 220.4,283.3 220.5,283.5 220.6,283.7 220.7,283.8 220.8,283.9 220.9,284.0 221.0,284.0 221.1,284.0 221.2,283.9 221.3,283.8 221.4,283.7 221.5,283.5 221.6,283.3 221.7,283.1 221.8,282.8 221.9,282.6 222.0,282.2 222.1,281.9 222.2,281.5 222.3,281.1 222.4,280.7 222.5,280.2 222.6,279.7 222.7,279.2 222.7,278.7 222.8,278.1 222.9,277.5 223.0,276.9 223.1,276.2 223.2,275.6 223.3,274.9 223.4,274.1 223.5,273.4" fill="none" stroke="#000" stroke-width="1.05" stroke-linejoin="round" opacity="1.0"/>
</g>
<rect x="171.60" y="191.65" width="55.50" height="25.45" rx="1.6" fill="#fff" fill-opacity="0.8" stroke="#cfcfcf" stroke-width="0.9"/>
<g clip-path="url(#c11)">
<polyline points="290.5,239.0 290.6,239.4 290.7,240.7 290.8,242.9 290.9,245.9 291.0,249.6 291.1,253.9 291.2,258.9 291.3,264.3 291.3,270.1 291.4,276.2 291.5,282.4 291.6,288.6 291.7,294.7 291.8,300.6 291.9,306.2 292.0,311.3 292.1,315.9 292.2,319.9 292.3,323.2 292.4,325.8 292.5,327.6 292.6,328.6 292.7,328.9 292.8,328.3 292.9,326.9 293.0,324.9 293.1,322.1 293.2,318.7 293.3,314.8 293.4,310.4 293.5,305.6 293.6,300.6 293.7,295.4 293.8,290.1 293.9,284.8 294.0,279.6 294.1,274.6 294.2,269.9 294.3,265.5 294.4,261.6 294.5,258.2 294.6,255.3 294.7,253.0 294.8,251.3 294.9,250.2 295.0,249.8 295.1,250.1 295.2,250.9 295.3,252.4 295.4,254.5 295.5,257.0 295.6,260.1 295.7,263.6 295.8,267.5 295.9,271.7 296.0,276.1 296.1,280.6 296.2,285.3 296.3,289.9 296.4,294.5 296.5,299.0 296.6,303.2 296.7,307.1 296.8,310.7 296.9,313.9 297.0,316.6 297.1,318.8 297.2,320.5 297.3,321.6 297.4,322.0 297.5,321.9 297.6,321.1 297.7,319.7 297.8,317.8 297.9,315.2 298.0,312.1 298.1,308.6 298.2,304.6 298.3,300.2 298.4,295.6 298.5,290.7 298.6,285.7 298.7,280.6 298.8,275.6 298.9,270.7 299.0,266.1 299.1,261.7 299.2,257.7 299.3,254.1 299.4,251.1 299.5,248.7 299.6,246.9 299.7,245.7 299.8,245.3 299.9,245.6 300.0,246.6 300.1,248.3 300.2,250.7 300.3,253.7 300.4,257.3 300.5,261.4 300.6,265.9 300.7,270.9 300.8,276.1 300.9,281.5 301.0,287.0 301.1,292.5 301.2,297.8 301.3,303.0 301.4,307.8 301.5,312.3 301.6,316.3 301.7,319.7 301.8,322.6 301.9,324.8 302.0,326.3 302.1,327.1 302.2,327.1 302.3,326.5 302.4,325.1 302.5,323.1 302.6,320.4 302.7,317.2 302.8,313.4 302.9,309.2 303.0,304.6 303.1,299.7 303.2,294.7 303.3,289.5 303.4,284.3 303.5,279.2 303.6,274.3 303.7,269.6 303.8,265.2 303.9,261.3 304.0,257.7 304.1,254.8 304.2,252.3 304.3,250.5 304.4,249.3 304.5,248.8 304.6,248.9 304.7,249.7 304.8,251.0 304.9,253.0 305.0,255.5 305.1,258.6 305.2,262.1 305.3,266.1 305.4,270.5 305.5,275.1 305.6,279.9 305.7,284.8 305.8,289.6 305.9,294.4 306.0,298.9 306.1,303.2 306.2,307.1 306.3,310.6 306.4,313.7 306.5,316.2 306.6,318.2 306.7,319.6 306.8,320.4 306.9,320.6 307.0,320.1 307.1,319.0 307.2,317.4 307.3,315.1 307.4,312.4 307.5,309.3 307.6,305.7 307.7,301.8 307.8,297.7 307.9,293.3 308.0,288.9 308.1,284.5 308.2,280.1 308.3,275.9 308.4,271.9 308.5,268.2 308.6,264.8 308.7,261.9 308.8,259.4 308.9,257.4 309.0,256.0 309.1,255.2 309.2,254.9 309.3,255.2 309.4,256.0 309.5,257.4 309.6,259.4 309.7,261.7 309.8,264.6 309.9,267.7 310.0,271.2 310.1,275.0 310.2,278.9 310.3,282.9 310.4,287.0 310.5,291.0 310.6,294.8 310.7,298.5 310.8,302.0 310.9,305.1 311.0,307.8 311.0,310.2 311.1,312.1 311.2,313.5 311.3,314.4 311.4,314.8 311.5,314.7 311.6,314.1 311.7,313.0 311.8,311.4 311.9,309.4 312.0,307.0 312.1,304.3 312.2,301.4 312.3,298.2 312.4,294.8 312.5,291.4 312.6,288.0 312.7,284.6 312.8,281.3 312.9,278.2 313.0,275.4 313.1,272.9 313.2,270.8 313.3,269.0 313.4,267.7 313.5,266.9 313.6,266.5 313.7,266.7 313.8,267.3 313.9,268.4 314.0,269.9 314.1,271.9 314.2,274.2 314.3,276.8 314.4,279.7 314.5,282.8 314.6,286.0 314.7,289.3 314.8,292.6 314.9,295.7 315.0,298.7 315.1,301.4 315.2,303.8 315.3,305.8 315.4,307.4 315.5,308.6 315.6,309.3 315.7,309.4 315.8,309.1 315.9,308.2 316.0,306.8 316.1,305.0 316.2,302.8 316.3,300.2 316.4,297.3 316.5,294.1 316.6,290.9 316.7,287.5 316.8,284.2 316.9,280.9 317.0,277.8 317.1,275.0 317.2,272.5 317.3,270.4 317.4,268.8 317.5,267.7 317.6,267.9 317.7,268.4 317.8,269.2 317.9,270.4 318.0,271.9 318.1,273.6 318.2,275.4 318.3,277.4 318.4,279.5 318.5,281.5 318.6,283.5 318.7,285.3 318.8,287.0 318.9,288.4 319.0,289.6 319.1,290.5 319.2,291.1 319.3,291.4 319.4,291.4 319.5,291.1 319.6,290.5 319.7,289.7 319.8,288.7 319.9,287.6 320.0,286.4 320.1,285.2 320.2,284.0 320.3,282.9 320.4,282.0 320.5,281.2 320.6,280.7 320.7,280.5 320.8,280.6 320.9,281.0 321.0,281.7 321.1,282.8 321.2,284.1 321.3,285.8 321.4,287.8 321.5,289.9 321.6,292.2 321.7,294.6 321.8,297.1 321.9,299.5 322.0,301.9 322.1,304.1 322.2,306.1 322.3,307.8 322.4,309.3 322.5,310.3 322.6,311.0 322.7,311.2 322.8,311.0 322.9,310.3 323.0,309.2 323.1,307.7 323.2,305.8 323.3,303.5 323.4,300.9 323.5,298.0 323.6,294.9 323.7,291.6 323.8,288.2 323.9,284.8 324.0,281.4 324.1,278.1 324.2,275.0 324.3,272.1 324.4,269.4 324.5,267.1 324.6,265.1 324.7,263.5 324.8,262.3 324.9,261.5 325.0,261.1 325.1,261.2 325.2,261.7 325.3,262.6 325.4,263.9 325.5,265.6 325.6,267.6 325.7,269.9 325.8,272.5 325.9,275.3 326.0,278.3 326.1,281.4 326.2,284.6 326.3,287.8 326.4,291.0 326.5,294.2 326.6,297.2 326.7,300.1 326.8,302.9 326.9,305.4 327.0,307.6 327.1,309.5 327.2,311.1 327.3,312.4 327.4,313.2 327.5,313.6 327.6,313.7 327.7,313.2 327.8,312.4 327.9,311.1 328.0,309.3 328.1,307.2 328.2,304.6 328.3,301.7 328.4,298.4 328.5,294.8 328.6,291.0 328.7,287.0 328.8,282.8 328.9,278.6 329.0,274.4 329.1,270.2 329.2,266.2 329.3,262.5 329.4,259.0 329.5,255.9 329.6,253.2 329.7,251.1 329.8,249.5 329.9,248.8 330.0,248.8 330.1,249.4 330.2,250.7 330.3,252.6 330.4,255.1 330.5,258.2 330.6,261.8 330.7,265.8 330.7,270.3 330.8,275.1 330.9,280.1 331.0,285.3 331.1,290.5 331.2,295.7 331.3,300.9 331.4,305.8 331.5,310.4 331.6,314.6 331.7,318.3 331.8,321.6 331.9,324.2 332.0,326.1 332.1,327.4 332.2,328.0 332.3,327.8 332.4,326.9 332.5,325.2 332.6,322.9 332.7,319.9 332.8,316.3 332.9,312.2 333.0,307.6 333.1,302.6 333.2,297.4 333.3,291.9 333.4,286.4 333.5,280.9 333.6,275.4 333.7,270.2 333.8,265.3 333.9,260.8 334.0,256.7 334.1,253.2 334.2,250.3 334.3,248.0 334.4,246.4 334.5,245.6 334.6,245.4 334.7,246.0 334.8,247.2 334.9,249.1 335.0,251.7 335.1,254.8 335.2,258.5 335.3,262.6 335.4,267.1 335.5,271.9 335.6,276.9 335.7,282.0 335.8,287.2 335.9,292.3 336.0,297.2 336.1,301.9 336.2,306.3 336.3,310.3 336.4,313.9 336.5,316.9 336.6,319.4 336.7,321.3 336.8,322.6 336.9,323.2 337.0,323.2 337.1,322.5 337.2,321.1 337.3,319.1 337.4,316.6 337.5,313.5 337.6,309.9 337.7,305.8 337.8,301.4 337.9,296.7 338.0,291.8 338.1,286.8 338.2,281.7 338.3,276.6 338.4,271.7 338.5,267.0 338.6,262.6 338.7,258.6 338.8,255.1 338.9,252.1 339.0,249.7 339.1,247.9 339.2,246.8 339.3,246.4 339.4,246.7 339.5,247.8 339.6,249.5 339.7,252.0 339.8,255.2 339.9,258.9 340.0,263.2 340.1,268.0 340.2,273.2 340.3,278.6 340.4,284.3 340.5,290.1 340.6,295.9 340.7,301.6 340.8,307.0 340.9,312.1 341.0,316.8 341.1,321.0 341.2,324.5 341.3,327.4 341.4,329.5 341.5,330.8 341.6,331.3 341.7,330.9 341.8,329.7 341.9,327.7 342.0,324.9 342.1,321.4 342.2,317.1 342.3,312.3 342.4,307.0 342.5,301.3 342.6,295.3 342.7,289.1 342.8,282.8 342.9,276.6 343.0,270.6 343.1,264.9 343.2,259.6 343.3,254.8 343.4,250.6 343.5,247.1 343.6,244.4 343.7,242.4 343.8,241.2 343.9,240.9 344.0,241.4 344.1,242.7 344.2,244.8 344.3,247.7 344.4,251.2 344.5,255.3 344.6,259.9 344.7,265.0 344.8,270.3 344.9,275.9 345.0,281.6 345.1,287.2 345.2,292.8 345.3,298.1 345.4,303.1 345.5,307.7 345.6,311.9 345.7,315.5 345.8,318.5 345.9,320.9 346.0,322.6 346.1,323.7 346.2,324.0 346.3,323.7 346.4,322.7 346.5,321.1 346.6,318.8 346.7,316.1 346.8,312.9 346.9,309.2 347.0,305.2 347.1,301.0 347.2,296.5 347.3,291.9 347.4,287.3 347.5,282.7 347.6,278.3 347.7,274.0 347.8,270.0 347.9,266.2 348.0,262.9 348.1,260.0 348.2,257.5 348.3,255.5 348.4,254.0 348.5,253.1 348.6,252.7 348.7,252.9 348.8,253.7 348.9,255.0 349.0,256.8 349.1,259.1 349.2,261.8 349.3,265.0 349.4,268.6 349.5,272.5 349.6,276.6 349.7,281.0 349.8,285.4 349.9,290.0 350.0,294.5 350.1,298.9 350.2,303.2 350.3,307.2 350.3,310.9 350.4,314.2 350.5,317.1 350.6,319.5 350.7,321.4 350.8,322.7 350.9,323.3 351.0,323.3 351.1,322.7 351.2,321.4 351.3,319.5 351.4,316.9 351.5,313.7 351.6,310.1 351.7,305.9 351.8,301.3 351.9,296.4 352.0,291.2 352.1,285.9 352.2,280.5 352.3,275.1 352.4,269.9 352.5,264.9 352.6,260.2 352.7,256.0 352.8,252.2 352.9,249.0 353.0,246.4 353.1,244.6 353.2,243.5 353.3,243.1 353.4,243.5 353.5,244.7 353.6,246.6 353.7,249.2 353.8,252.5 353.9,256.4 354.0,260.9 354.1,265.8 354.2,271.1 354.3,276.6 354.4,282.3 354.5,288.1 354.6,293.8 354.7,299.4 354.8,304.7 354.9,309.6 355.0,314.1 355.1,318.1 355.2,321.4 355.3,324.1 355.4,326.1 355.5,327.4 355.6,327.9 355.7,327.7 355.8,326.7 355.9,325.0 356.0,322.6 356.1,319.6 356.2,316.0 356.3,311.8 356.4,307.3 356.5,302.4 356.6,297.3 356.7,292.0 356.8,286.6 356.9,281.3 357.0,276.1 357.1,271.1 357.2,266.4 357.3,262.2 357.4,258.3 357.5,255.0 357.6,252.3 357.7,250.2 357.8,248.7 357.9,247.9 358.0,247.8 358.1,248.4 358.2,249.7 358.3,251.6 358.4,254.1 358.5,257.2 358.6,260.8 358.7,264.9 358.8,269.4 358.9,274.1 359.0,279.1 359.1,284.2 359.2,289.4 359.3,294.5 359.4,299.5 359.5,304.3 359.6,308.8 359.7,312.9 359.8,316.5 359.9,319.6 360.0,322.1 360.1,324.0 360.2,325.2 360.3,325.7 360.4,325.5 360.5,324.6 360.6,322.9 360.7,320.5 360.8,317.5 360.9,313.9 361.0,309.7 361.1,305.1 361.2,300.0 361.3,294.6 361.4,289.0 361.5,283.4 361.6,277.6 361.7,272.0 361.8,266.6 361.9,261.5 362.0,256.8 362.1,252.6 362.2,249.0 362.3,246.0 362.4,243.8 362.5,242.3 362.6,241.5 362.7,241.7 362.8,242.6 362.9,244.3 363.0,246.9 363.1,250.4 363.2,254.5 363.3,259.2 363.4,264.3 363.5,269.7 363.6,275.3 363.7,281.0 363.8,286.7 363.9,292.3 364.0,297.6 364.1,302.7 364.2,307.2 364.3,311.3 364.4,314.9 364.5,317.8 364.6,320.0 364.7,321.6 364.8,322.5 364.9,322.8 365.0,322.4 365.1,321.3 365.2,319.7 365.3,317.6 365.4,315.0 365.5,312.0 365.6,308.7 365.7,305.1 365.8,301.4 365.9,297.5 366.0,293.7 366.1,289.9 366.2,286.2 366.3,282.6 366.4,279.3 366.5,276.3 366.6,273.5 366.7,271.1 366.8,269.0 366.9,267.3 367.0,266.0 367.1,265.0 367.2,264.4 367.3,264.1 367.4,264.2 367.5,264.6 367.6,265.2 367.7,266.2 367.8,267.4 367.9,268.9 368.0,270.5 368.1,272.3 368.2,274.3 368.3,276.4 368.4,278.6 368.5,280.9 368.6,283.3 368.7,285.6 368.8,288.0 368.9,290.3 369.0,292.6 369.1,294.8 369.2,296.9 369.3,298.8 369.4,300.6 369.5,302.2 369.6,303.6 369.7,304.8 369.8,305.7 369.9,306.4 370.0,306.8 370.0,306.9 370.1,306.7 370.2,306.2 370.3,305.5 370.4,304.5 370.5,303.2 370.6,301.7 370.7,300.0 370.8,298.1 370.9,296.1 371.0,294.0 371.1,291.8 371.2,289.6 371.3,287.4 371.4,285.3 371.5,283.3 371.6,281.4 371.7,279.7 371.8,278.2 371.9,276.9 372.0,275.8 372.1,275.0 372.2,274.4 372.3,274.0 372.4,273.9 372.5,273.9 372.6,274.2 372.7,274.6 372.8,275.2 372.9,275.9 373.0,276.6 373.1,277.4 373.2,278.3 373.3,279.1 373.4,279.9 373.5,280.7 373.6,281.4 373.7,282.1 373.8,282.7 373.9,283.3 374.0,283.8 374.1,284.3 374.2,284.7 374.3,285.2 374.4,285.7 374.5,286.2 374.6,286.8 374.7,287.5 374.8,288.3 374.9,289.1 375.0,290.1 375.1,291.3 375.2,292.5 375.3,294.5 375.4,296.7 375.5,298.7 375.6,300.5 375.7,302.1 375.8,303.5 375.9,304.5 376.0,305.3 376.1,305.7 376.2,305.8 376.3,305.4 376.4,304.8 376.5,303.7 376.6,302.3 376.7,300.6 376.8,298.6 376.9,296.3 377.0,293.8 377.1,291.1 377.2,288.3 377.3,285.5 377.4,282.6 377.5,279.8 377.6,277.2 377.7,274.7 377.8,272.4 377.9,270.4 378.0,268.8 378.1,267.5 378.2,266.6 378.3,266.1 378.4,266.0 378.5,266.4 378.6,267.1 378.7,268.3 378.8,269.8 378.9,271.7 379.0,273.8 379.1,276.2 379.2,278.9 379.3,281.6 379.4,284.5 379.5,287.3 379.6,290.2 379.7,293.0 379.8,295.7 379.9,298.3 380.0,300.6 380.1,302.7 380.2,304.5 380.3,306.0 380.4,307.2 380.5,308.1 380.6,308.7 380.7,308.9 380.8,308.8 380.9,308.4 381.0,307.7 381.1,306.7 381.2,305.3 381.3,303.7 381.4,301.9 381.5,299.9 381.6,297.6 381.7,295.2 381.8,292.7 381.9,290.0 382.0,287.2 382.1,284.4 382.2,281.6 382.3,278.8 382.4,276.0 382.5,273.3 382.6,270.8 382.7,268.4 382.8,266.2 382.9,264.2 383.0,262.6 383.1,261.2 383.2,260.2 383.3,259.6 383.4,259.3 383.5,259.5 383.6,260.2 383.7,261.3 383.8,262.9 383.9,264.9 384.0,267.4 384.1,270.3 384.2,273.6 384.3,277.2 384.4,281.1 384.5,285.2 384.6,289.5 384.7,293.9 384.8,298.4 384.9,302.7 385.0,306.9 385.1,310.8 385.2,314.5 385.3,317.7 385.4,320.5 385.5,322.7 385.6,324.3 385.7,325.3 385.8,325.6 385.9,325.2 386.0,324.2 386.1,322.4 386.2,319.9 386.3,316.8 386.4,313.1 386.5,308.9 386.6,304.2 386.7,299.2 386.8,293.8 386.9,288.3 387.0,282.8 387.1,277.2 387.2,271.8 387.3,266.7 387.4,261.8 387.5,257.4 387.6,253.6 387.7,250.5 387.8,248.0 387.9,246.2 388.0,245.2 388.1,244.9 388.2,245.4 388.3,246.5 388.4,248.4 388.5,250.9 388.6,254.0 388.7,257.7 388.8,261.9 388.9,266.4 389.0,271.3 389.1,276.4 389.2,281.6 389.3,286.9 389.4,292.1 389.5,297.1 389.6,302.0 389.7,306.5 389.7,310.7 389.8,314.4 389.9,317.6 390.0,320.1 390.1,322.1 390.2,323.5 390.3,324.1 390.4,324.1 390.5,323.4 390.6,322.0 390.7,319.9 390.8,317.3 390.9,314.0 391.0,310.3 391.1,306.1 391.2,301.5 391.3,296.6 391.4,291.5 391.5,286.3 391.6,281.0 391.7,275.8 391.8,270.7 391.9,265.8 392.0,261.3 392.1,257.2 392.2,253.6 392.3,250.5 392.4,248.1 392.5,246.3 392.6,245.2 392.7,244.9 392.8,245.3 392.9,246.5 393.0,248.4 393.1,251.0 393.2,254.2 393.3,258.1 393.4,262.5 393.5,267.4 393.6,272.7 393.7,278.2 393.8,284.0 393.9,289.8 394.0,295.6 394.1,301.2 394.2,306.6 394.3,311.7 394.4,316.3 394.5,320.4 394.6,323.8 394.7,326.6 394.8,328.7 394.9,329.9 395.0,330.4 395.1,330.1 395.2,329.0 395.3,327.0 395.4,324.4 395.5,321.0 395.6,317.1 395.7,312.5 395.8,307.6 395.9,302.2 396.0,296.6 396.1,290.8 396.2,285.0 396.3,279.3 396.4,273.7 396.5,268.4 396.6,263.5 396.7,259.0 396.8,255.1 396.9,251.7 397.0,249.0 397.1,247.1 397.2,245.8 397.3,245.2 397.4,245.4 397.5,246.4 397.6,248.0 397.7,250.2 397.8,253.0 397.9,256.4 398.0,260.3 398.1,264.5 398.2,269.0 398.3,273.8 398.4,278.7 398.5,283.6 398.6,288.5 398.7,293.2 398.8,297.8 398.9,302.1 399.0,306.0 399.1,309.5 399.2,312.6 399.3,315.2 399.4,317.2 399.5,318.7 399.6,319.7 399.7,320.0 399.8,319.8 399.9,319.0 400.0,317.6 400.1,315.8 400.2,313.4 400.3,310.7 400.4,307.5 400.5,304.0 400.6,300.2 400.7,296.2 400.8,292.0 400.9,287.7 401.0,283.4 401.1,279.1 401.2,274.9 401.3,270.9 401.4,267.1 401.5,263.6 401.6,260.5 401.7,257.8 401.8,255.5 401.9,253.7 402.0,252.4 402.1,251.7 402.2,251.6 402.3,252.1 402.4,253.1 402.5,254.8 402.6,257.0 402.7,259.8 402.8,263.1 402.9,266.8 403.0,270.9 403.1,275.4 403.2,280.2 403.3,285.1 403.4,290.2 403.5,295.3 403.6,300.2 403.7,305.1 403.8,309.7 403.9,313.9 404.0,317.7 404.1,321.0 404.2,323.7 404.3,325.7 404.4,327.1 404.5,327.8 404.6,327.6 404.7,326.8 404.8,325.1 404.9,322.8 405.0,319.7 405.1,315.9 405.2,311.6 405.3,306.7 405.4,301.4 405.5,295.8 405.6,289.9 405.7,284.0 405.8,278.0 405.9,272.1 406.0,266.4 406.1,261.1 406.2,256.2 406.3,251.8 406.4,248.1 406.5,245.0 406.6,242.7 406.7,241.2 406.8,240.5 406.9,240.7 407.0,241.7 407.1,243.5 407.2,246.1 407.3,249.4 407.4,253.4 407.5,258.0 407.6,263.1 407.7,268.5 407.8,274.3 407.9,280.2 408.0,286.2 408.1,292.1 408.2,297.9 408.3,303.4 408.4,308.5 408.5,313.2 408.6,317.3 408.7,320.9 408.8,323.7 408.9,325.8 409.0,327.2 409.1,327.8 409.2,327.6 409.3,326.7 409.3,325.0 409.4,322.6 409.5,319.6 409.6,316.0 409.7,311.9 409.8,307.4 409.9,302.5 410.0,297.4 410.1,292.1 410.2,286.8 410.3,281.5 410.4,276.3 410.5,271.3 410.6,266.7 410.7,262.4 410.8,258.6 410.9,255.3 411.0,252.6 411.1,250.5 411.2,249.0 411.3,248.2 411.4,248.1 411.5,248.7 411.6,250.0 411.7,251.9 411.8,254.4 411.9,257.5 412.0,261.1 412.1,265.2 412.2,269.6 412.3,274.4 412.4,279.4 412.5,284.5 412.6,289.7 412.7,294.8 412.8,299.8 412.9,304.6 413.0,309.1 413.1,313.2 413.2,316.8 413.3,319.9 413.4,322.5 413.5,324.3 413.6,325.6 413.7,326.1 413.8,325.9 413.9,324.9 414.0,323.3 414.1,321.0 414.2,318.0 414.3,314.4 414.4,310.3 414.5,305.7 414.6,300.7 414.7,295.4 414.8,289.9 414.9,284.3 415.0,278.7 415.1,273.2 415.2,267.9 415.3,262.9 415.4,258.3 415.5,254.1 415.6,250.6 415.7,247.6 415.8,245.3 415.9,243.8 416.0,243.0 416.1,243.0 416.2,243.7 416.3,245.2 416.4,247.4 416.5,250.4 416.6,253.9 416.7,258.0 416.8,262.6 416.9,267.6 417.0,272.9 417.1,278.4 417.2,284.0 417.3,289.6 417.4,295.1 417.5,300.3 417.6,305.3 417.7,309.9 417.8,314.0 417.9,317.6 418.0,320.6 418.1,323.0 418.2,324.6 418.3,325.6 418.4,325.9 418.5,325.5 418.6,324.4 418.7,322.6 418.8,320.3 418.9,317.4 419.0,313.9 419.1,310.1 419.2,305.9 419.3,301.4 419.4,296.8 419.5,292.0 419.6,287.2 419.7,282.4 419.8,277.8 419.9,273.4 420.0,269.2 420.1,265.4 420.2,262.0 420.3,259.0 420.4,256.5 420.5,254.5 420.6,253.1 420.7,252.3 420.8,252.2 420.9,252.7 421.0,253.7 421.1,255.3 421.2,257.4 421.3,259.9 421.4,262.8 421.5,266.0 421.6,269.5 421.7,273.3 421.8,277.1 421.9,281.1 422.0,285.2 422.1,289.2 422.2,293.1 422.3,296.8 422.4,300.4 422.5,303.7 422.6,306.8 422.7,309.5 422.8,311.8 422.9,313.6 423.0,315.1 423.1,316.1 423.2,316.6 423.3,316.6 423.4,316.1 423.5,315.1 423.6,313.6 423.7,311.7 423.8,309.3 423.9,306.5 424.0,303.4 424.1,300.0 424.2,296.3 424.3,292.4 424.4,288.4 424.5,284.4 424.6,280.3 424.7,276.4 424.8,272.6 424.9,269.0 425.0,265.8 425.1,262.9 425.2,260.4 425.3,258.5 425.4,257.0 425.5,256.2 425.6,255.9 425.7,256.2 425.8,257.1 425.9,258.6 426.0,260.7 426.1,263.3 426.2,266.4 426.3,269.9 426.4,273.7 426.5,277.8 426.6,282.1 426.7,286.5 426.8,290.8 426.9,295.1 427.0,299.2 427.1,303.0 427.2,306.4 427.3,309.5 427.4,312.0 427.5,313.9 427.6,315.3 427.7,316.1 427.8,316.2 427.9,315.7 428.0,314.5 428.1,312.8 428.2,310.6 428.3,307.8 428.4,304.7 428.5,301.2 428.6,297.5 428.7,293.7 428.8,289.7 428.9,285.9 429.0,282.1 429.0,278.6 429.1,275.4 429.2,272.6 429.3,270.2 429.4,268.3 429.5,267.0 429.6,266.2 429.7,266.0 429.8,266.3 429.9,267.2 430.0,268.6 430.1,270.5 430.2,272.8 430.3,275.5 430.4,278.4 430.5,281.5 430.6,284.7 430.7,288.0 430.8,291.2 430.9,294.2 431.0,297.0 431.1,299.6 431.2,301.8 431.3,303.6 431.4,305.1 431.5,306.0 431.6,306.5 431.7,306.6 431.8,306.2 431.9,305.4 432.0,304.2 432.1,302.7 432.2,300.8 432.3,298.8 432.4,296.5 432.5,294.1 432.6,291.7 432.7,289.2 432.8,286.9 432.9,284.5 433.0,282.7 433.1,281.8 433.2,281.1 433.3,280.6 433.4,280.5 433.5,280.6 433.6,280.9 433.7,281.3 433.8,282.0 433.9,282.7 434.0,283.5 434.1,284.3 434.2,285.2 434.3,286.0 434.4,286.7 434.5,287.3 434.6,287.9 434.7,288.2 434.8,288.4 434.9,288.4 435.0,288.3 435.1,288.0 435.2,287.5 435.3,286.9 435.4,286.1 435.5,285.2 435.6,284.2 435.7,283.2 435.8,282.1 435.9,281.0 436.0,279.9 436.1,278.9 436.2,278.0 436.3,277.2 436.4,276.5 436.5,276.0 436.6,275.7 436.7,275.6 436.8,275.7 436.9,276.0 437.0,276.5 437.1,277.3 437.2,278.3 437.3,279.5 437.4,280.9 437.5,282.5 437.6,284.3 437.7,286.2 437.8,288.3 437.9,290.4 438.0,292.6 438.1,294.7 438.2,296.9 438.3,299.0 438.4,301.0 438.5,302.9 438.6,304.6 438.7,306.2 438.8,307.4 438.9,308.4 439.0,309.2 439.1,309.5 439.2,309.6 439.3,309.3 439.4,308.7 439.5,307.7 439.6,306.3 439.7,304.7 439.8,302.6 439.9,300.3 440.0,297.8 440.1,295.0 440.2,292.0 440.3,288.8 440.4,285.6 440.5,282.3 440.6,279.0 440.7,275.9 440.8,272.8 440.9,270.0 441.0,267.3 441.1,265.0 441.2,263.0 441.3,261.5 441.4,260.3 441.5,259.6 441.6,259.4 441.7,259.7 441.8,260.4 441.9,261.7 442.0,263.4 442.1,265.7 442.2,268.3 442.3,271.3 442.4,274.7 442.5,278.3 442.6,282.2 442.7,286.2 442.8,290.3 442.9,294.4 443.0,298.4 443.1,302.3 443.2,305.9 443.3,309.3 443.4,312.3 443.5,314.8 443.6,316.9 443.7,318.4 443.8,319.4 443.9,319.7 444.0,319.4 444.1,318.5 444.2,317.0 444.3,314.9 444.4,312.1 444.5,308.9 444.6,305.1 444.7,300.9 444.8,296.3 444.9,291.5 445.0,286.4 445.1,281.3 445.2,276.1 445.3,270.9 445.4,266.2 445.5,261.8 445.6,257.7 445.7,254.1 445.8,251.1 445.9,248.7 446.0,246.8 446.1,245.7 446.2,245.3 446.3,245.6 446.4,246.6 446.5,248.3 446.6,250.7 446.7,253.7 446.8,257.3 446.9,261.4 447.0,266.0 447.1,271.0 447.2,276.3 447.3,281.7 447.4,287.3 447.5,292.8 447.6,298.3 447.7,303.5 447.8,308.4 447.9,313.0 448.0,317.0 448.1,320.6 448.2,323.5 448.3,325.7 448.4,327.2 448.5,328.0 448.6,328.1 448.7,327.4 448.7,326.0 448.8,323.9 448.9,321.1 449.0,317.8 449.1,313.9 449.2,309.6 449.3,304.8 449.4,299.8 449.5,294.7" fill="none" stroke="#dc2626" stroke-width="1.0" stroke-linejoin="round" opacity="1.0"/>
<polyline points="290.5,240.8 290.6,240.9 290.7,241.4 290.8,242.1 290.9,243.1 291.0,244.4 291.1,245.9 291.2,247.6 291.3,249.5 291.3,251.6 291.4,253.7 291.5,256.0 291.6,258.2 291.7,260.4 291.8,262.6 291.9,264.7 292.0,266.7 292.1,268.5 292.2,270.1 292.3,271.5 292.4,272.6 292.5,273.5 292.6,274.0 292.7,274.3 292.8,274.3 292.9,274.0 293.0,273.4 293.1,272.5 293.2,271.3 293.3,269.9 293.4,268.3 293.5,266.5 293.6,264.5 293.7,262.5 293.8,260.3 293.9,258.1 294.0,255.9 294.1,253.7 294.2,251.6 294.3,249.6 294.4,247.8 294.5,246.1 294.6,244.7 294.7,243.5 294.8,242.5 294.9,241.8 295.0,241.4 295.1,241.3 295.2,241.5 295.3,241.9 295.4,242.7 295.5,243.7 295.6,245.0 295.7,246.4 295.8,248.1 295.9,250.0 296.0,251.9 296.1,254.0 296.2,256.1 296.3,258.2 296.4,260.4 296.5,262.4 296.6,264.4 296.7,266.2 296.8,267.9 296.9,269.4 297.0,270.7 297.1,271.7 297.2,272.5 297.3,273.0 297.4,273.2 297.5,273.2 297.6,272.9 297.7,272.3 297.8,271.4 297.9,270.3 298.0,269.0 298.1,267.5 298.2,265.8 298.3,264.0 298.4,262.0 298.5,260.0 298.6,258.0 298.7,256.0 298.8,254.0 298.9,252.1 299.0,250.3 299.1,248.6 299.2,247.1 299.3,245.8 299.4,244.7 299.5,243.9 299.6,243.3 299.7,243.0 299.8,242.9 299.9,243.1 300.0,243.5 300.1,244.2 300.2,245.2 300.3,246.3 300.4,247.6 300.5,249.1 300.6,250.8 300.7,252.6 300.8,254.4 300.9,256.3 301.0,258.2 301.1,260.0 301.2,261.8 301.3,263.6 301.4,265.2 301.5,266.6 301.6,267.9 301.7,269.0 301.8,269.9 301.9,270.6 302.0,271.0 302.1,271.2 302.2,271.1 302.3,270.8 302.4,270.3 302.5,269.5 302.6,268.6 302.7,267.4 302.8,266.1 302.9,264.7 303.0,263.1 303.1,261.4 303.2,259.8 303.3,258.0 303.4,256.3 303.5,254.6 303.6,253.0 303.7,251.5 303.8,250.1 303.9,248.9 304.0,247.8 304.1,246.9 304.2,246.2 304.3,245.8 304.4,245.5 304.5,245.4 304.6,245.6 304.7,246.0 304.8,246.6 304.9,247.3 305.0,248.3 305.1,249.4 305.2,250.6 305.3,251.9 305.4,253.4 305.5,254.9 305.6,256.4 305.7,257.9 305.8,259.4 305.9,260.8 306.0,262.2 306.1,263.5 306.2,264.7 306.3,265.7 306.4,266.5 306.5,267.2 306.6,267.7 306.7,268.1 306.8,268.2 306.9,268.2 307.0,267.9 307.1,267.5 307.2,266.9 307.3,266.2 307.4,265.3 307.5,264.3 307.6,263.2 307.7,262.0 307.8,260.8 307.9,259.5 308.0,258.2 308.1,256.9 308.2,255.6 308.3,254.4 308.4,253.3 308.5,252.3 308.6,251.4 308.7,250.6 308.8,249.9 308.9,249.4 309.0,249.0 309.1,248.8 309.2,248.7 309.3,248.9 309.4,249.1 309.5,249.5 309.6,250.1 309.7,250.7 309.8,251.5 309.9,252.3 310.0,253.3 310.1,254.3 310.2,255.3 310.3,256.3 310.4,257.4 310.5,258.4 310.6,259.4 310.7,260.4 310.8,261.3 310.9,262.1 311.0,262.8 311.0,263.4 311.1,263.9 311.2,264.2 311.3,264.5 311.4,264.6 311.5,264.6 311.6,264.5 311.7,264.2 311.8,263.9 311.9,263.4 312.0,262.9 312.1,262.3 312.2,261.6 312.3,260.9 312.4,260.1 312.5,259.3 312.6,258.6 312.7,257.8 312.8,257.0 312.9,256.3 313.0,255.6 313.1,254.9 313.2,254.4 313.3,253.9 313.4,253.4 313.5,253.1 313.6,252.8 313.7,252.7 313.8,252.6 313.9,252.6 314.0,252.7 314.1,252.9 314.2,253.1 314.3,253.4 314.4,253.8 314.5,254.2 314.6,254.7 314.7,255.1 314.8,255.6 314.9,256.2 315.0,256.7 315.1,257.2 315.2,257.7 315.3,258.2 315.4,258.6 315.5,259.0 315.6,259.4 315.7,259.7 315.8,260.0 315.9,260.2 316.0,260.4 316.1,260.5 316.2,260.6 316.3,260.6 316.4,260.6 316.5,260.6 316.6,260.5 316.7,260.3 316.8,260.2 316.9,260.0 317.0,259.8 317.1,259.6 317.2,259.3 317.3,259.1 317.4,258.9 317.5,258.6 317.6,258.4 317.7,258.2 317.8,257.9 317.9,257.7 318.0,257.5 318.1,257.3 318.2,257.2 318.3,257.0 318.4,256.9 318.5,256.7 318.6,256.6 318.7,256.5 318.8,256.4 318.9,256.3 319.0,256.2 319.1,256.1 319.2,256.0 319.3,256.0 319.4,255.9 319.5,255.9 319.6,255.8 319.7,255.8 319.8,255.7 319.9,255.7 320.0,255.7 320.1,255.7 320.2,255.7 320.3,255.8 320.4,255.8 320.5,255.9 320.6,256.0 320.7,256.1 320.8,256.3 320.9,256.5 321.0,256.7 321.1,257.0 321.2,257.2 321.3,257.5 321.4,257.8 321.5,258.1 321.6,258.5 321.7,258.8 321.8,259.2 321.9,259.5 322.0,259.8 322.1,260.1 322.2,260.4 322.3,260.7 322.4,260.9 322.5,261.1 322.6,261.3 322.7,261.3 322.8,261.4 322.9,261.3 323.0,261.3 323.1,261.1 323.2,260.9 323.3,260.6 323.4,260.2 323.5,259.8 323.6,259.4 323.7,258.9 323.8,258.3 323.9,257.7 324.0,257.1 324.1,256.5 324.2,255.9 324.3,255.3 324.4,254.7 324.5,254.1 324.6,253.6 324.7,253.1 324.8,252.7 324.9,252.4 325.0,252.1 325.1,251.9 325.2,251.9 325.3,251.9 325.4,252.0 325.5,252.2 325.6,252.5 325.7,253.0 325.8,253.5 325.9,254.1 326.0,254.8 326.1,255.5 326.2,256.3 326.3,257.2 326.4,258.0 326.5,258.9 326.6,259.8 326.7,260.7 326.8,261.5 326.9,262.3 327.0,263.0 327.1,263.7 327.2,264.2 327.3,264.7 327.4,265.0 327.5,265.2 327.6,265.3 327.7,265.3 327.8,265.1 327.9,264.7 328.0,264.3 328.1,263.7 328.2,263.0 328.3,262.2 328.4,261.2 328.5,260.2 328.6,259.2 328.7,258.1 328.8,256.9 328.9,255.8 329.0,254.6 329.1,253.5 329.2,252.5 329.3,251.5 329.4,250.6 329.5,249.8 329.6,249.2 329.7,248.7 329.8,248.3 329.9,248.1 330.0,248.1 330.1,248.2 330.2,248.5 330.3,249.0 330.4,249.6 330.5,250.4 330.6,251.3 330.7,252.4 330.7,253.5 330.8,254.8 330.9,256.1 331.0,257.5 331.1,258.9 331.2,260.2 331.3,261.6 331.4,262.9 331.5,264.1 331.6,265.2 331.7,266.2 331.8,267.1 331.9,267.8 332.0,268.3 332.1,268.7 332.2,268.8 332.3,268.8 332.4,268.5 332.5,268.1 332.6,267.4 332.7,266.6 332.8,265.6 332.9,264.5 333.0,263.2 333.1,261.8 333.2,260.3 333.3,258.7 333.4,257.1 333.5,255.5 333.6,254.0 333.7,252.4 333.8,251.0 333.9,249.6 334.0,248.4 334.1,247.3 334.2,246.4 334.3,245.7 334.4,245.2 334.5,245.0 334.6,244.9 334.7,245.1 334.8,245.5 334.9,246.1 335.0,246.9 335.1,247.9 335.2,249.2 335.3,250.5 335.4,252.0 335.5,253.7 335.6,255.4 335.7,257.1 335.8,258.9 335.9,260.7 336.0,262.5 336.1,264.1 336.2,265.7 336.3,267.1 336.4,268.4 336.5,269.5 336.6,270.4 336.7,271.0 336.8,271.4 336.9,271.6 337.0,271.6 337.1,271.2 337.2,270.7 337.3,269.9 337.4,268.8 337.5,267.6 337.6,266.2 337.7,264.6 337.8,262.9 337.9,261.0 338.0,259.1 338.1,257.2 338.2,255.2 338.3,253.3 338.4,251.5 338.5,249.7 338.6,248.1 338.7,246.6 338.8,245.4 338.9,244.3 339.0,243.5 339.1,242.9 339.2,242.6 339.3,242.5 339.4,242.7 339.5,243.2 339.6,244.0 339.7,245.0 339.8,246.2 339.9,247.6 340.0,249.3 340.1,251.0 340.2,253.0 340.3,255.0 340.4,257.0 340.5,259.1 340.6,261.2 340.7,263.2 340.8,265.1 340.9,266.9 341.0,268.5 341.1,269.9 341.2,271.2 341.3,272.2 341.4,272.9 341.5,273.4 341.6,273.5 341.7,273.4 341.8,273.0 341.9,272.4 342.0,271.5 342.1,270.3 342.2,268.9 342.3,267.2 342.4,265.4 342.5,263.5 342.6,261.4 342.7,259.3 342.8,257.1 342.9,255.0 343.0,252.8 343.1,250.8 343.2,248.9 343.3,247.1 343.4,245.5 343.5,244.1 343.6,243.0 343.7,242.1 343.8,241.5 343.9,241.2 344.0,241.1 344.1,241.4 344.2,242.0 344.3,242.8 344.4,243.9 344.5,245.3 344.6,246.9 344.7,248.6 344.8,250.6 344.9,252.7 345.0,254.8 345.1,257.0 345.2,259.3 345.3,261.5 345.4,263.6 345.5,265.6 345.6,267.5 345.7,269.3 345.8,270.8 345.9,272.0 346.0,273.1 346.1,273.8 346.2,274.3 346.3,274.4 346.4,274.3 346.5,273.8 346.6,273.1 346.7,272.1 346.8,270.8 346.9,269.3 347.0,267.6 347.1,265.7 347.2,263.7 347.3,261.5 347.4,259.3 347.5,257.0 347.6,254.8 347.7,252.6 347.8,250.5 347.9,248.5 348.0,246.7 348.1,245.1 348.2,243.7 348.3,242.5 348.4,241.7 348.5,241.1 348.6,240.8 348.7,240.8 348.8,241.1 348.9,241.7 349.0,242.6 349.1,243.8 349.2,245.2 349.3,246.8 349.4,248.6 349.5,250.6 349.6,252.7 349.7,254.9 349.8,257.1 349.9,259.4 350.0,261.6 350.1,263.7 350.2,265.7 350.3,267.6 350.3,269.3 350.4,270.8 350.5,272.0 350.6,273.0 350.7,273.7 350.8,274.1 350.9,274.2 351.0,274.0 351.1,273.6 351.2,272.8 351.3,271.8 351.4,270.5 351.5,269.0 351.6,267.3 351.7,265.4 351.8,263.4 351.9,261.3 352.0,259.1 352.1,257.0 352.2,254.8 352.3,252.7 352.4,250.6 352.5,248.7 352.6,247.0 352.7,245.5 352.8,244.2 352.9,243.1 353.0,242.3 353.1,241.8 353.2,241.5 353.3,241.6 353.4,241.9 353.5,242.5 353.6,243.4 353.7,244.5 353.8,245.9 353.9,247.4 354.0,249.2 354.1,251.1 354.2,253.1 354.3,255.1 354.4,257.2 354.5,259.3 354.6,261.4 354.7,263.4 354.8,265.2 354.9,267.0 355.0,268.5 355.1,269.9 355.2,271.0 355.3,271.9 355.4,272.5 355.5,272.9 355.6,272.9 355.7,272.7 355.8,272.3 355.9,271.6 356.0,270.6 356.1,269.4 356.2,268.0 356.3,266.4 356.4,264.7 356.5,262.9 356.6,260.9 356.7,259.0 356.8,257.0 356.9,255.0 357.0,253.1 357.1,251.3 357.2,249.6 357.3,248.1 357.4,246.7 357.5,245.6 357.6,244.6 357.7,243.9 357.8,243.5 357.9,243.3 358.0,243.4 358.1,243.7 358.2,244.2 358.3,245.0 358.4,246.1 358.5,247.3 358.6,248.7 358.7,250.2 358.8,251.9 358.9,253.6 359.0,255.4 359.1,257.2 359.2,259.1 359.3,260.8 359.4,262.6 359.5,264.2 359.6,265.7 359.7,267.0 359.8,268.1 359.9,269.1 360.0,269.8 360.1,270.3 360.2,270.6 360.3,270.7 360.4,270.5 360.5,270.1 360.6,269.5 360.7,268.6 360.8,267.6 360.9,266.4 361.0,265.1 361.1,263.6 361.2,262.1 361.3,260.5 361.4,258.9 361.5,257.2 361.6,255.6 361.7,254.0 361.8,252.5 361.9,251.1 362.0,249.9 362.1,248.8 362.2,247.8 362.3,247.1 362.4,246.5 362.5,246.2 362.6,246.0 362.7,246.1 362.8,246.3 362.9,246.8 363.0,247.4 363.1,248.2 363.2,249.2 363.3,250.3 363.4,251.6 363.5,252.9 363.6,254.3 363.7,255.7 363.8,257.1 363.9,258.6 364.0,260.0 364.1,261.3 364.2,262.5 364.3,263.7 364.4,264.7 364.5,265.6 364.6,266.3 364.7,266.9 364.8,267.3 364.9,267.5 365.0,267.6 365.1,267.5 365.2,267.1 365.3,266.7 365.4,266.1 365.5,265.3 365.6,264.4 365.7,263.4 365.8,262.4 365.9,261.2 366.0,260.0 366.1,258.8 366.2,257.6 366.3,256.4 366.4,255.3 366.5,254.2 366.6,253.2 366.7,252.3 366.8,251.5 366.9,250.8 367.0,250.2 367.1,249.8 367.2,249.6 367.3,249.4 367.4,249.5 367.5,249.6 367.6,249.9 367.7,250.4 367.8,250.9 367.9,251.5 368.0,252.3 368.1,253.1 368.2,254.0 368.3,254.9 368.4,255.9 368.5,256.8 368.6,257.8 368.7,258.7 368.8,259.6 368.9,260.4 369.0,261.2 369.1,261.9 369.2,262.5 369.3,263.0 369.4,263.4 369.5,263.6 369.6,263.8 369.7,263.9 369.8,263.8 369.9,263.7 370.0,263.4 370.0,263.1 370.1,262.7 370.2,262.2 370.3,261.6 370.4,261.0 370.5,260.3 370.6,259.7 370.7,259.0 370.8,258.3 370.9,257.6 371.0,256.9 371.1,256.3 371.2,255.7 371.3,255.2 371.4,254.7 371.5,254.3 371.6,254.0 371.7,253.7 371.8,253.5 371.9,253.4 372.0,253.3 372.1,253.4 372.2,253.5 372.3,253.6 372.4,253.8 372.5,254.1 372.6,254.4 372.7,254.7 372.8,255.1 372.9,255.5 373.0,255.9 373.1,256.3 373.2,256.7 373.3,257.1 373.4,257.5 373.5,257.9 373.6,258.3 373.7,258.6 373.8,258.9 373.9,259.1 374.0,259.3 374.1,259.5 374.2,259.7 374.3,259.8 374.4,259.9 374.5,259.9 374.6,259.9 374.7,259.9 374.8,259.9 374.9,259.8 375.0,259.7 375.1,259.6 375.2,259.5 375.3,259.4 375.4,259.3 375.5,259.2 375.6,259.0 375.7,258.9 375.8,258.7 375.9,258.6 376.0,258.5 376.1,258.3 376.2,258.2 376.3,258.0 376.4,257.9 376.5,257.7 376.6,257.6 376.7,257.4 376.8,257.3 376.9,257.1 377.0,257.0 377.1,256.8 377.2,256.6 377.3,256.5 377.4,256.3 377.5,256.1 377.6,256.0 377.7,255.8 377.8,255.6 377.9,255.5 378.0,255.4 378.1,255.3 378.2,255.2 378.3,255.1 378.4,255.1 378.5,255.1 378.6,255.1 378.7,255.2 378.8,255.3 378.9,255.4 379.0,255.6 379.1,255.9 379.2,256.1 379.3,256.4 379.4,256.8 379.5,257.2 379.6,257.6 379.7,258.0 379.8,258.4 379.9,258.9 380.0,259.3 380.1,259.8 380.2,260.2 380.3,260.6 380.4,261.0 380.5,261.3 380.6,261.6 380.7,261.8 380.8,262.0 380.9,262.1 381.0,262.1 381.1,262.1 381.2,262.0 381.3,261.8 381.4,261.5 381.5,261.1 381.6,260.7 381.7,260.2 381.8,259.6 381.9,259.0 382.0,258.4 382.1,257.7 382.2,257.0 382.3,256.2 382.4,255.5 382.5,254.8 382.6,254.1 382.7,253.5 382.8,252.9 382.9,252.4 383.0,251.9 383.1,251.6 383.2,251.3 383.3,251.2 383.4,251.1 383.5,251.2 383.6,251.4 383.7,251.7 383.8,252.1 383.9,252.6 384.0,253.2 384.1,253.9 384.2,254.7 384.3,255.6 384.4,256.5 384.5,257.4 384.6,258.4 384.7,259.4 384.8,260.4 384.9,261.3 385.0,262.3 385.1,263.1 385.2,263.9 385.3,264.5 385.4,265.1 385.5,265.5 385.6,265.8 385.7,266.0 385.8,266.0 385.9,265.9 386.0,265.6 386.1,265.2 386.2,264.6 386.3,263.9 386.4,263.1 386.5,262.1 386.6,261.1 386.7,260.0 386.8,258.8 386.9,257.6 387.0,256.3 387.1,255.1 387.2,253.9 387.3,252.7 387.4,251.6 387.5,250.6 387.6,249.7 387.7,249.0 387.8,248.3 387.9,247.9 388.0,247.6 388.1,247.4 388.2,247.5 388.3,247.7 388.4,248.1 388.5,248.7 388.6,249.5 388.7,250.4 388.8,251.4 388.9,252.6 389.0,253.9 389.1,255.3 389.2,256.7 389.3,258.2 389.4,259.6 389.5,261.1 389.6,262.5 389.7,263.8 389.7,265.1 389.8,266.2 389.9,267.2 390.0,268.0 390.1,268.6 390.2,269.1 390.3,269.4 390.4,269.4 390.5,269.2 390.6,268.9 390.7,268.3 390.8,267.5 390.9,266.6 391.0,265.4 391.1,264.2 391.2,262.7 391.3,261.2 391.4,259.6 391.5,258.0 391.6,256.3 391.7,254.6 391.8,253.0 391.9,251.4 392.0,250.0 392.1,248.6 392.2,247.4 392.3,246.4 392.4,245.6 392.5,245.0 392.6,244.6 392.7,244.4 392.8,244.4 392.9,244.7 393.0,245.3 393.1,246.0 393.2,247.0 393.3,248.2 393.4,249.5 393.5,251.0 393.6,252.7 393.7,254.4 393.8,256.2 393.9,258.1 394.0,259.9 394.1,261.7 394.2,263.5 394.3,265.2 394.4,266.7 394.5,268.1 394.6,269.3 394.7,270.3 394.8,271.1 394.9,271.7 395.0,272.0 395.1,272.1 395.2,271.8 395.3,271.4 395.4,270.7 395.5,269.7 395.6,268.5 395.7,267.2 395.8,265.6 395.9,263.9 396.0,262.1 396.1,260.1 396.2,258.2 396.3,256.2 396.4,254.2 396.5,252.2 396.6,250.4 396.7,248.7 396.8,247.1 396.9,245.7 397.0,244.5 397.1,243.5 397.2,242.8 397.3,242.4 397.4,242.2 397.5,242.3 397.6,242.6 397.7,243.3 397.8,244.2 397.9,245.3 398.0,246.7 398.1,248.3 398.2,250.0 398.3,251.9 398.4,253.9 398.5,256.0 398.6,258.1 398.7,260.2 398.8,262.3 398.9,264.3 399.0,266.2 399.1,267.9 399.2,269.5 399.3,270.8 399.4,271.9 399.5,272.8 399.6,273.4 399.7,273.7 399.8,273.8 399.9,273.5 400.0,273.0 400.1,272.1 400.2,271.1 400.3,269.7 400.4,268.2 400.5,266.4 400.6,264.5 400.7,262.5 400.8,260.4 400.9,258.2 401.0,256.0 401.1,253.8 401.2,251.7 401.3,249.7 401.4,247.8 401.5,246.1 401.6,244.6 401.7,243.3 401.8,242.3 401.9,241.6 402.0,241.1 402.1,241.0 402.2,241.1 402.3,241.5 402.4,242.3 402.5,243.2 402.6,244.5 402.7,246.0 402.8,247.7 402.9,249.6 403.0,251.6 403.1,253.7 403.2,256.0 403.3,258.2 403.4,260.4 403.5,262.6 403.6,264.7 403.7,266.7 403.8,268.5 403.9,270.1 404.0,271.5 404.1,272.7 404.2,273.5 404.3,274.1 404.4,274.4 404.5,274.4 404.6,274.1 404.7,273.5 404.8,272.6 404.9,271.5 405.0,270.1 405.1,268.5 405.2,266.6 405.3,264.6 405.4,262.5 405.5,260.3 405.6,258.1 405.7,255.8 405.8,253.6 405.9,251.5 406.0,249.4 406.1,247.6 406.2,245.9 406.3,244.4 406.4,243.1 406.5,242.1 406.6,241.4 406.7,241.0 406.8,240.8 406.9,241.0 407.0,241.5 407.1,242.2 407.2,243.3 407.3,244.5 407.4,246.1 407.5,247.8 407.6,249.7 407.7,251.7 407.8,253.9 407.9,256.1 408.0,258.3 408.1,260.5 408.2,262.7 408.3,264.7 408.4,266.6 408.5,268.4 408.6,270.0 408.7,271.3 408.8,272.4 408.9,273.2 409.0,273.8 409.1,274.0 409.2,274.0 409.3,273.7 409.3,273.1 409.4,272.2 409.5,271.0 409.6,269.6 409.7,268.0 409.8,266.2 409.9,264.3 410.0,262.3 410.1,260.2 410.2,258.0 410.3,255.8 410.4,253.7 410.5,251.7 410.6,249.8 410.7,248.0 410.8,246.4 410.9,245.0 411.0,243.8 411.1,242.9 411.2,242.2 411.3,241.9 411.4,241.8 411.5,242.0 411.6,242.4 411.7,243.2 411.8,244.2 411.9,245.4 412.0,246.9 412.1,248.5 412.2,250.3 412.3,252.2 412.4,254.2 412.5,256.2 412.6,258.3 412.7,260.3 412.8,262.3 412.9,264.2 413.0,266.0 413.1,267.6 413.2,269.0 413.3,270.2 413.4,271.2 413.5,271.9 413.6,272.4 413.7,272.6 413.8,272.5 413.9,272.2 414.0,271.6 414.1,270.8 414.2,269.7 414.3,268.4 414.4,267.0 414.5,265.4 414.6,263.6 414.7,261.8 414.8,259.9 414.9,258.0 415.0,256.0 415.1,254.1 415.2,252.3 415.3,250.6 415.4,249.1 415.5,247.7 415.6,246.4 415.7,245.4 415.8,244.7 415.9,244.1 416.0,243.8 416.1,243.7 416.2,243.9 416.3,244.4 416.4,245.0 416.5,245.9 416.6,247.0 416.7,248.3 416.8,249.7 416.9,251.2 417.0,252.9 417.1,254.6 417.2,256.4 417.3,258.1 417.4,259.9 417.5,261.6 417.6,263.2 417.7,264.7 417.8,266.0 417.9,267.2 418.0,268.2 418.1,269.0 418.2,269.6 418.3,270.0 418.4,270.2 418.5,270.1 418.6,269.8 418.7,269.3 418.8,268.6 418.9,267.7 419.0,266.7 419.1,265.4 419.2,264.1 419.3,262.7 419.4,261.2 419.5,259.6 419.6,258.0 419.7,256.5 419.8,254.9 419.9,253.5 420.0,252.1 420.1,250.8 420.2,249.7 420.3,248.7 420.4,247.9 420.5,247.3 420.6,246.9 420.7,246.6 420.8,246.6 420.9,246.8 421.0,247.1 421.1,247.6 421.2,248.3 421.3,249.2 421.4,250.2 421.5,251.3 421.6,252.5 421.7,253.7 421.8,255.1 421.9,256.4 422.0,257.8 422.1,259.1 422.2,260.4 422.3,261.6 422.4,262.7 422.5,263.8 422.6,264.7 422.7,265.4 422.8,266.1 422.9,266.5 423.0,266.8 423.1,266.9 423.2,266.9 423.3,266.7 423.4,266.3 423.5,265.8 423.6,265.2 423.7,264.4 423.8,263.6 423.9,262.6 424.0,261.6 424.1,260.5 424.2,259.4 424.3,258.3 424.4,257.2 424.5,256.1 424.6,255.1 424.7,254.1 424.8,253.2 424.9,252.4 425.0,251.7 425.1,251.1 425.2,250.7 425.3,250.4 425.4,250.2 425.5,250.1 425.6,250.2 425.7,250.4 425.8,250.7 425.9,251.2 426.0,251.7 426.1,252.3 426.2,253.0 426.3,253.8 426.4,254.6 426.5,255.5 426.6,256.3 426.7,257.2 426.8,258.0 426.9,258.8 427.0,259.6 427.1,260.3 427.2,261.0 427.3,261.6 427.4,262.1 427.5,262.5 427.6,262.8 427.7,263.0 427.8,263.1 427.9,263.1 428.0,263.1 428.1,262.9 428.2,262.6 428.3,262.3 428.4,261.9 428.5,261.5 428.6,261.0 428.7,260.5 428.8,259.9 428.9,259.3 429.0,258.7 429.0,258.1 429.1,257.6 429.2,257.0 429.3,256.5 429.4,256.0 429.5,255.6 429.6,255.2 429.7,254.9 429.8,254.6 429.9,254.4 430.0,254.2 430.1,254.1 430.2,254.1 430.3,254.1 430.4,254.2 430.5,254.3 430.6,254.5 430.7,254.7 430.8,254.9 430.9,255.2 431.0,255.5 431.1,255.7 431.2,256.1 431.3,256.4 431.4,256.7 431.5,257.0 431.6,257.3 431.7,257.6 431.8,257.8 431.9,258.1 432.0,258.3 432.1,258.5 432.2,258.7 432.3,258.8 432.4,259.0 432.5,259.1 432.6,259.2 432.7,259.2 432.8,259.3 432.9,259.4 433.0,259.4 433.1,259.4 433.2,259.4 433.3,259.4 433.4,259.4 433.5,259.4 433.6,259.4 433.7,259.3 433.8,259.3 433.9,259.2 434.0,259.2 434.1,259.1 434.2,259.0 434.3,259.0 434.4,258.9 434.5,258.7 434.6,258.6 434.7,258.5 434.8,258.3 434.9,258.1 435.0,257.9 435.1,257.7 435.2,257.5 435.3,257.2 435.4,257.0 435.5,256.7 435.6,256.4 435.7,256.1 435.8,255.9 435.9,255.6 436.0,255.4 436.1,255.1 436.2,254.9 436.3,254.7 436.4,254.6 436.5,254.5 436.6,254.4 436.7,254.4 436.8,254.4 436.9,254.4 437.0,254.6 437.1,254.8 437.2,255.0 437.3,255.3 437.4,255.6 437.5,256.0 437.6,256.5 437.7,256.9 437.8,257.4 437.9,258.0 438.0,258.5 438.1,259.1 438.2,259.6 438.3,260.2 438.4,260.7 438.5,261.2 438.6,261.6 438.7,262.0 438.8,262.3 438.9,262.6 439.0,262.8 439.1,262.9 439.2,262.9 439.3,262.8 439.4,262.6 439.5,262.4 439.6,262.0 439.7,261.6 439.8,261.0 439.9,260.4 440.0,259.8 440.1,259.1 440.2,258.3 440.3,257.5 440.4,256.7 440.5,255.8 440.6,255.0 440.7,254.2 440.8,253.5 440.9,252.8 441.0,252.1 441.1,251.6 441.2,251.1 441.3,250.8 441.4,250.5 441.5,250.4 441.6,250.4 441.7,250.5 441.8,250.8 441.9,251.2 442.0,251.7 442.1,252.3 442.2,253.0 442.3,253.8 442.4,254.8 442.5,255.7 442.6,256.8 442.7,257.8 442.8,258.9 442.9,260.0 443.0,261.1 443.1,262.1 443.2,263.0 443.3,263.9 443.4,264.7 443.5,265.4 443.6,265.9 443.7,266.3 443.8,266.6 443.9,266.7 444.0,266.6 444.1,266.4 444.2,266.0 444.3,265.5 444.4,264.8 444.5,264.0 444.6,263.1 444.7,262.0 444.8,260.8 444.9,259.6 445.0,258.3 445.1,257.0 445.2,255.7 445.3,254.3 445.4,253.1 445.5,251.9 445.6,250.7 445.7,249.7 445.8,248.8 445.9,248.1 446.0,247.5 446.1,247.1 446.2,246.9 446.3,246.8 446.4,247.0 446.5,247.3 446.6,247.8 446.7,248.6 446.8,249.4 446.9,250.5 447.0,251.7 447.1,253.0 447.2,254.4 447.3,255.8 447.4,257.4 447.5,258.9 447.6,260.5 447.7,262.0 447.8,263.4 447.9,264.8 448.0,266.0 448.1,267.1 448.2,268.1 448.3,268.9 448.4,269.4 448.5,269.8 448.6,270.0 448.7,269.9 448.7,269.6 448.8,269.1 448.9,268.4 449.0,267.5 449.1,266.4 449.2,265.1 449.3,263.7 449.4,262.2 449.5,260.6" fill="none" stroke="#000" stroke-width="1.05" stroke-linejoin="round" opacity="1.0"/>
</g>
<rect x="397.40" y="191.65" width="56.00" height="25.65" rx="1.6" fill="#fff" fill-opacity="0.8" stroke="#cfcfcf" stroke-width="0.9"/>
<g clip-path="url(#c12)">
<polyline points="516.2,246.1 516.3,246.9 516.4,248.3 516.5,250.1 516.6,252.1 516.7,254.1 516.8,255.9 516.9,257.3 517.0,258.2 517.1,258.5 517.2,258.2 517.3,257.4 517.4,256.2 517.5,254.7 517.6,253.0 517.7,251.4 517.8,249.9 517.9,248.8 518.0,248.1 518.1,247.9 518.2,248.1 518.3,248.7 518.4,249.6 518.5,250.8 518.6,252.0 518.7,253.2 518.8,254.4 518.9,255.3 519.0,255.9 519.1,256.3 519.2,256.3 519.3,256.1 519.4,255.6 519.5,254.8 519.6,254.0 519.7,253.0 519.8,252.1 519.9,251.2 520.0,250.4 520.1,249.8 520.2,249.5 520.3,249.3 520.4,249.4 520.5,249.8 520.6,250.4 520.7,251.2 520.8,252.1 520.9,253.1 521.0,254.1 521.1,255.0 521.2,255.7 521.3,256.2 521.4,256.4 521.5,256.2 521.6,255.7 521.7,254.9 521.8,253.9 521.9,252.7 522.0,251.4 522.1,250.3 522.2,249.4 522.3,248.7 522.4,248.4 522.5,248.6 522.6,249.1 522.7,250.0 522.8,251.2 522.9,252.6 523.0,253.9 523.1,255.2 523.2,256.2 523.3,256.8 523.4,257.0 523.5,256.8 523.6,256.1 523.7,255.1 523.8,253.8 523.9,252.4 524.0,251.1 524.1,249.9 524.2,249.1 524.3,248.7 524.4,248.6 524.5,249.0 524.6,249.8 524.7,250.8 524.8,252.0 524.9,253.2 525.0,254.3 525.1,255.2 525.2,255.7 525.3,255.9 525.4,255.7 525.5,255.2 525.6,254.5 525.7,253.6 525.8,252.7 525.9,251.9 526.0,251.2 526.1,250.8 526.2,250.6 526.3,250.6 526.4,250.9 526.5,251.4 526.6,251.9 526.7,252.4 526.8,252.8 526.9,253.2 526.9,253.3 527.0,253.3 527.1,253.2 527.2,253.0 527.3,252.8 527.4,252.6 527.5,252.5 527.6,252.5 527.7,252.7 527.8,252.9 527.9,253.2 528.0,253.5 528.1,253.8 528.2,253.9 528.3,253.9 528.4,253.6 528.5,253.2 528.6,252.6 528.7,251.9 528.8,251.2 528.9,250.6 529.0,250.1 529.1,249.9 529.2,250.0 529.3,250.4 529.4,251.1 529.5,252.1 529.6,253.3 529.7,254.4 529.8,255.4 529.9,256.2 530.0,256.7 530.1,256.7 530.2,256.2 530.3,255.4 530.4,254.1 530.5,252.7 530.6,251.2 530.7,249.7 530.8,248.6 530.9,247.8 531.0,247.6 531.1,247.9 531.2,248.7 531.3,250.0 531.4,251.5 531.5,253.3 531.6,255.0 531.7,256.4 531.8,257.5 531.9,258.1 532.0,258.1 532.1,257.6 532.2,256.5 532.3,255.0 532.4,253.2 532.5,251.4 532.6,249.8 532.7,248.4 532.8,247.5 532.9,247.1 533.0,247.3 533.1,248.0 533.2,249.2 533.3,250.7 533.4,252.4 533.5,254.1 533.6,255.6 533.7,256.8 533.8,257.5 533.9,257.8 534.0,257.5 534.1,256.8 534.2,255.7 534.3,254.4 534.4,252.9 534.5,251.5 534.6,250.2 534.7,249.1 534.8,248.5 534.9,248.2 535.0,248.3 535.1,248.8 535.2,249.6 535.3,250.6 535.4,251.8 535.5,253.1 535.6,254.2 535.7,255.2 535.8,256.0 535.9,256.5 536.0,256.7 536.1,256.5 536.2,256.1 536.3,255.3 536.4,254.4 536.5,253.3 536.6,252.1 536.7,251.0 536.8,250.0 536.9,249.1 537.0,248.6 537.1,248.4 537.2,248.5 537.3,249.0 537.4,249.8 537.5,250.9 537.6,252.3 537.7,253.7 537.8,255.0 537.9,256.2 538.0,257.1 538.1,257.6 538.2,257.7 538.3,257.3 538.4,256.4 538.5,255.1 538.6,253.6 538.7,251.8 538.8,250.1 538.9,248.6 539.0,247.5 539.1,246.8 539.2,246.8 539.3,247.3 539.4,248.3 539.5,249.9 539.6,251.7 539.7,253.7 539.8,255.6 539.9,257.2 540.0,258.4 540.1,259.0 540.2,259.0 540.3,258.3 540.4,256.9 540.5,255.2 540.6,253.1 540.7,251.0 540.8,249.1 540.9,247.5 541.0,246.5 541.1,246.1 541.2,246.4 541.3,247.4 541.4,248.9 541.5,250.8 541.6,252.8 541.7,254.8 541.8,256.6 541.9,257.8 542.0,258.6 542.1,258.6 542.2,258.1 542.3,257.0 542.4,255.5 542.5,253.7 542.6,251.8 542.7,250.2 542.8,248.8 542.9,247.9 543.0,247.5 543.1,247.7 543.2,248.4 543.3,249.5 543.4,250.9 543.5,252.3 543.6,253.8 543.7,255.0 543.8,255.9 543.9,256.3 544.0,256.4 544.1,256.1 544.2,255.4 544.3,254.6 544.4,253.6 544.5,252.6 544.6,251.7 544.7,251.0 544.8,250.6 544.9,250.4 545.0,250.5 545.1,250.8 545.2,251.2 545.3,251.7 545.4,252.1 545.5,252.6 545.6,252.9 545.7,253.1 545.8,253.2 545.9,253.2 546.0,253.2 546.1,253.2 546.2,253.1 546.3,253.1 546.4,253.2 546.5,253.3 546.6,253.4 546.6,253.5 546.7,253.6 546.8,253.5 546.9,253.3 547.0,253.1 547.1,252.6 547.2,252.2 547.3,251.6 547.4,251.1 547.5,250.7 547.6,250.5 547.7,250.5 547.8,250.7 547.9,251.1 548.0,251.8 548.1,252.6 548.2,253.4 548.3,254.3 548.4,255.0 548.5,255.4 548.6,255.6 548.7,255.5 548.8,255.1 548.9,254.4 549.0,253.5 549.1,252.5 549.2,251.5 549.3,250.6 549.4,249.8 549.5,249.4 549.6,249.3 549.7,249.5 549.8,250.1 549.9,250.9 550.0,251.9 550.1,252.9 550.2,253.9 550.3,254.8 550.4,255.4 550.5,255.8 550.6,255.8 550.7,255.5 550.8,255.0 550.9,254.3 551.0,253.4 551.1,252.5 551.2,251.7 551.3,250.9 551.4,250.4 551.5,250.1 551.6,250.0 551.7,250.1 551.8,250.5 551.9,250.9 552.0,251.5 552.1,252.2 552.2,252.8 552.3,253.4 552.4,253.9 552.5,254.4 552.6,254.7 552.7,254.9 552.8,254.9 552.9,254.8 553.0,254.6 553.1,254.2 553.2,253.7 553.3,253.1 553.4,252.4 553.5,251.7 553.6,251.0 553.7,250.4 553.8,249.9 553.9,249.6 554.0,249.5 554.1,249.8 554.2,250.3 554.3,251.0 554.4,252.0 554.5,253.2 554.6,254.3 554.7,255.4 554.8,256.3 554.9,256.9 555.0,257.1 555.1,256.9 555.2,256.2 555.3,255.1 555.4,253.7 555.5,252.1 555.6,250.5 555.7,249.0 555.8,247.8 555.9,247.1 556.0,246.9 556.1,247.3 556.2,248.3 556.3,249.8 556.4,251.6 556.5,253.7 556.6,255.6 556.7,257.4 556.8,258.6 556.9,259.3 557.0,259.3 557.1,258.6 557.2,257.2 557.3,255.3 557.4,253.1 557.5,250.9 557.6,248.8 557.7,247.0 557.8,245.9 557.9,245.4 558.0,245.7 558.1,246.8 558.2,248.4 558.3,250.5 558.4,252.9 558.5,255.2 558.6,257.2 558.7,258.7 558.8,259.6 558.9,259.8 559.0,259.2 559.1,257.9 559.2,256.1 559.3,254.0 559.4,251.7 559.5,249.6 559.6,247.9 559.7,246.6 559.8,246.1 559.9,246.2 560.0,246.9 560.1,248.3 560.2,250.0 560.3,251.9 560.4,253.9 560.5,255.6 560.6,257.0 560.7,257.9 560.8,258.3 560.9,258.0 561.0,257.3 561.1,256.1 561.2,254.7 561.3,253.1 561.4,251.6 561.5,250.2 561.6,249.2 561.7,248.5 561.8,248.3 561.9,248.4 562.0,249.0 562.1,249.8 562.2,250.8 562.3,251.9 562.4,253.1 562.5,254.1 562.6,254.9 562.7,255.5 562.8,255.8 562.9,255.9 563.0,255.7 563.1,255.3 563.2,254.7 563.3,254.0 563.4,253.2 563.5,252.4 563.6,251.7 563.7,251.0 563.8,250.5 563.9,250.1 564.0,249.8 564.1,249.8 564.2,250.0 564.3,250.4 564.4,251.0 564.5,251.8 564.6,252.6 564.7,253.5 564.8,254.3 564.9,255.0 565.0,255.6 565.1,255.9 565.2,255.9 565.3,255.6 565.4,255.1 565.5,254.2 565.6,253.2 565.7,252.2 565.8,251.1 565.9,250.1 566.0,249.4 566.1,249.0 566.2,248.9 566.3,249.2 566.3,249.9 566.4,250.8 566.5,252.0 566.6,253.2 566.7,254.3 566.8,255.3 566.9,256.0 567.0,256.4 567.1,256.4 567.2,255.9 567.3,255.2 567.4,254.2 567.5,253.1 567.6,251.9 567.7,250.8 567.8,250.0 567.9,249.5 568.0,249.3 568.1,249.5 568.2,250.0 568.3,250.7 568.4,251.6 568.5,252.6 568.6,253.5 568.7,254.3 568.8,254.8 568.9,255.0 569.0,255.0 569.1,254.8 569.2,254.3 569.3,253.7 569.4,253.1 569.5,252.5 569.6,252.0 569.7,251.7 569.8,251.5 569.9,251.5 570.0,251.6 570.1,251.8 570.2,252.1 570.3,252.3 570.4,252.5 570.5,252.5 570.6,252.5 570.7,252.4 570.8,252.3 570.9,252.2 571.0,252.1 571.1,252.1 571.2,252.3 571.3,252.6 571.4,253.0 571.5,253.5 571.6,254.0 571.7,254.4 571.8,254.7 571.9,254.8 572.0,254.6 572.1,254.2 572.2,253.5 572.3,252.6 572.4,251.7 572.5,250.7 572.6,249.9 572.7,249.3 572.8,249.0 572.9,249.2 573.0,249.7 573.1,250.6 573.2,251.8 573.3,253.2 573.4,254.6 573.5,255.9 573.6,256.9 573.7,257.4 573.8,257.5 573.9,257.0 574.0,256.0 574.1,254.6 574.2,253.0 574.3,251.2 574.4,249.6 574.5,248.2 574.6,247.3 574.7,246.9 574.8,247.2 574.9,248.0 575.0,249.3 575.1,251.1 575.2,253.0 575.3,254.9 575.4,256.6 575.5,257.9 575.6,258.6 575.7,258.7 575.8,258.2 575.9,257.1 576.0,255.5 576.1,253.7 576.2,251.7 576.3,249.9 576.4,248.3 576.5,247.2 576.6,246.7 576.7,246.8 576.8,247.5 576.9,248.7 577.0,250.2 577.1,252.0 577.2,253.8 577.3,255.5 577.4,256.8 577.5,257.7 577.6,258.1 577.7,257.9 577.8,257.2 577.9,256.2 578.0,254.8 578.1,253.3 578.2,251.7 578.3,250.3 578.4,249.2 578.5,248.4 578.6,248.0 578.7,248.1 578.8,248.5 578.9,249.3 579.0,250.3 579.1,251.6 579.2,252.8 579.3,254.0 579.4,255.1 579.5,256.0 579.6,256.5 579.7,256.8 579.8,256.7 579.9,256.2 580.0,255.5 580.1,254.6 580.2,253.5 580.3,252.3 580.4,251.2 580.5,250.1 580.6,249.2 580.7,248.6 580.8,248.4 580.9,248.4 581.0,248.9 581.1,249.7 581.2,250.8 581.3,252.0 581.4,253.4 581.5,254.8 581.6,256.0 581.7,256.9 581.8,257.5 581.9,257.6 582.0,257.3 582.1,256.5 582.2,255.3 582.3,253.8 582.4,252.1 582.5,250.5 582.6,249.0 582.7,247.8 582.8,247.1 582.9,246.9 583.0,247.3 583.1,248.3 583.2,249.7 583.3,251.4 583.4,253.3 583.5,255.2 583.6,256.8 583.7,258.0 583.8,258.6 583.9,258.7 584.0,258.1 584.1,256.9 584.2,255.3 584.3,253.4 584.4,251.5 584.5,249.6 584.6,248.1 584.7,247.1 584.8,246.7 584.9,246.9 585.0,247.7 585.1,249.0 585.2,250.7 585.3,252.5 585.4,254.4 585.5,256.0 585.6,257.2 585.7,257.9 585.8,258.0 585.9,257.6 585.9,256.6 586.0,255.3 586.1,253.7 586.2,252.1 586.3,250.6 586.4,249.4 586.5,248.6 586.6,248.3 586.7,248.4 586.8,249.0 586.9,249.9 587.0,251.1 587.1,252.3 587.2,253.5 587.3,254.5 587.4,255.2 587.5,255.6 587.6,255.6 587.7,255.3 587.8,254.8 587.9,254.1 588.0,253.3 588.1,252.6 588.2,252.0 588.3,251.5 588.4,251.3 588.5,251.2 588.6,251.4 588.7,251.6 588.8,251.9 588.9,252.2 589.0,252.4 589.1,252.6 589.2,252.6 589.3,252.6 589.4,252.5 589.5,252.4 589.6,252.3 589.7,252.3 589.8,252.4 589.9,252.6 590.0,252.9 590.1,253.2 590.2,253.7 590.3,254.0 590.4,254.3 590.5,254.4 590.6,254.3 590.7,254.0 590.8,253.5 590.9,252.8 591.0,252.0 591.1,251.2 591.2,250.5 591.3,250.0 591.4,249.8 591.5,249.8 591.6,250.2 591.7,250.9 591.8,251.8 591.9,252.8 592.0,253.9 592.1,254.8 592.2,255.6 592.3,256.1 592.4,256.2 592.5,256.0 592.6,255.4 592.7,254.5 592.8,253.3 592.9,252.1 593.0,251.0 593.1,250.0 593.2,249.3 593.3,248.9 593.4,248.9 593.5,249.3 593.6,250.0 593.7,251.0 593.8,252.1 593.9,253.3 594.0,254.4 594.1,255.3 594.2,255.9 594.3,256.2 594.4,256.1 594.5,255.8 594.6,255.1 594.7,254.2 594.8,253.3 594.9,252.3 595.0,251.3 595.1,250.6 595.2,250.0 595.3,249.7 595.4,249.6 595.5,249.8 595.6,250.2 595.7,250.8 595.8,251.5 595.9,252.3 596.0,253.0 596.1,253.8 596.2,254.4 596.3,255.0 596.4,255.3 596.5,255.5 596.6,255.5 596.7,255.2 596.8,254.8 596.9,254.2 597.0,253.4 597.1,252.6 597.2,251.7 597.3,250.8 597.4,250.0 597.5,249.4 597.6,249.0 597.7,249.0 597.8,249.2 597.9,249.8 598.0,250.7 598.1,251.8 598.2,253.1 598.3,254.4 598.4,255.7 598.5,256.7 598.6,257.4 598.7,257.6 598.8,257.3 598.9,256.6 599.0,255.4 599.1,253.9 599.2,252.2 599.3,250.4 599.4,248.8 599.5,247.6 599.6,246.8 599.7,246.5 599.8,246.9 599.9,248.0 600.0,249.5 600.1,251.4 600.2,253.5 600.3,255.6 600.4,257.4 600.5,258.7 600.6,259.5 600.7,259.5 600.8,258.8 600.9,257.5 601.0,255.6 601.1,253.4 601.2,251.1 601.3,248.9 601.4,247.1 601.5,245.9 601.6,245.4 601.7,245.6 601.8,246.6 601.9,248.3 602.0,250.3 602.1,252.6 602.2,254.9 602.3,257.0 602.4,258.5 602.5,259.5 602.6,259.7 602.7,259.2 602.8,258.0 602.9,256.2 603.0,254.1 603.1,252.0 603.2,249.9 603.3,248.2 603.4,246.9 603.5,246.3 603.6,246.4 603.7,247.1 603.8,248.3 603.9,250.0 604.0,251.8 604.1,253.7 604.2,255.3 604.3,256.7 604.4,257.5 604.5,257.9 604.6,257.7 604.7,257.0 604.8,255.9 604.9,254.6 605.0,253.2 605.1,251.8 605.2,250.5 605.3,249.6 605.4,249.0 605.5,248.8 605.6,248.9 605.6,249.4 605.7,250.1 605.8,251.0 605.9,251.9 606.0,252.9 606.1,253.7 606.2,254.4 606.3,254.9 606.4,255.2 606.5,255.3 606.6,255.1 606.7,254.9 606.8,254.4 606.9,253.9 607.0,253.4 607.1,252.8 607.2,252.2 607.3,251.7 607.4,251.2 607.5,250.8 607.6,250.5 607.7,250.3 607.8,250.3 607.9,250.5 608.0,250.9 608.1,251.4 608.2,252.0 608.3,252.8 608.4,253.5 608.5,254.2 608.6,254.9 608.7,255.3 608.8,255.5 608.9,255.5 609.0,255.2 609.1,254.6 609.2,253.9 609.3,252.9 609.4,252.0 609.5,251.0 609.6,250.2 609.7,249.6 609.8,249.4 609.9,249.4 610.0,249.8 610.1,250.4 610.2,251.3 610.3,252.4 610.4,253.4 610.5,254.4 610.6,255.2 610.7,255.7 610.8,255.9 610.9,255.8 611.0,255.3 611.1,254.6 611.2,253.7 611.3,252.7 611.4,251.8 611.5,251.0 611.6,250.4 611.7,250.0 611.8,250.0 611.9,250.2 612.0,250.6 612.1,251.3 612.2,252.0 612.3,252.7 612.4,253.3 612.5,253.8 612.6,254.2 612.7,254.3 612.8,254.3 612.9,254.1 613.0,253.8 613.1,253.4 613.2,253.1 613.3,252.8 613.4,252.6 613.5,252.5 613.6,252.4 613.7,252.4 613.8,252.4 613.9,252.3 614.0,252.3 614.1,252.2 614.2,252.0 614.3,251.8 614.4,251.6 614.5,251.4 614.6,251.3 614.7,251.4 614.8,251.6 614.9,252.0 615.0,252.6 615.1,253.2 615.2,254.0 615.3,254.6 615.4,255.2 615.5,255.5 615.6,255.6 615.7,255.3 615.8,254.7 615.9,253.8 616.0,252.6 616.1,251.4 616.2,250.2 616.3,249.2 616.4,248.5 616.5,248.2 616.6,248.4 616.7,249.0 616.8,250.1 616.9,251.5 617.0,253.2 617.1,254.8 617.2,256.3 617.3,257.4 617.4,258.1 617.5,258.2 617.6,257.7 617.7,256.6 617.8,255.1 617.9,253.3 618.0,251.3 618.1,249.5 618.2,247.9 618.3,246.8 618.4,246.3 618.5,246.5 618.6,247.4 618.7,248.8 618.8,250.6 618.9,252.7 619.0,254.8 619.1,256.6 619.2,258.1 619.3,259.0 619.4,259.2 619.5,258.7 619.6,257.6 619.7,256.0 619.8,254.1 619.9,252.0 620.0,250.0 620.1,248.3 620.2,247.1 620.3,246.5 620.4,246.5 620.5,247.1 620.6,248.2 620.7,249.8 620.8,251.7 620.9,253.6 621.0,255.3 621.1,256.7 621.2,257.7 621.3,258.2 621.4,258.1 621.5,257.5 621.6,256.5 621.7,255.1 621.8,253.5 621.9,252.0 622.0,250.5 622.1,249.3 622.2,248.4 622.3,248.0 622.4,248.0 622.5,248.4 622.6,249.1 622.7,250.1 622.8,251.3 622.9,252.6 623.0,253.8 623.1,254.9 623.2,255.8 623.3,256.4 623.4,256.7 623.5,256.6 623.6,256.3 623.7,255.6 623.8,254.7 623.9,253.7 624.0,252.5 624.1,251.4 624.2,250.4 624.3,249.5 624.4,248.8 624.5,248.5 624.6,248.5 624.7,248.9 624.8,249.6 624.9,250.6 625.0,251.8 625.1,253.1 625.2,254.4 625.2,255.6 625.3,256.6 625.4,257.2 625.5,257.4 625.6,257.2 625.7,256.5 625.8,255.4 625.9,254.1 626.0,252.5 626.1,250.9 626.2,249.5 626.3,248.3 626.4,247.5 626.5,247.3 626.6,247.6 626.7,248.3 626.8,249.6 626.9,251.2 627.0,252.9 627.1,254.7 627.2,256.2 627.3,257.4 627.4,258.1 627.5,258.2 627.6,257.8 627.7,256.8 627.8,255.4 627.9,253.7 628.0,251.9 628.1,250.2 628.2,248.8 628.3,247.8 628.4,247.3 628.5,247.4 628.6,248.0 628.7,249.1 628.8,250.6 628.9,252.2 629.0,253.9 629.1,255.3 629.2,256.5 629.3,257.1 629.4,257.3 629.5,257.0 629.6,256.2 629.7,255.1 629.8,253.8 629.9,252.4 630.0,251.1 630.1,250.1 630.2,249.4 630.3,249.1 630.4,249.2 630.5,249.7 630.6,250.4 630.7,251.3 630.8,252.3 630.9,253.2 631.0,254.0 631.1,254.5 631.2,254.7 631.3,254.7 631.4,254.5 631.5,254.0 631.6,253.5 631.7,253.0 631.8,252.6 631.9,252.2 632.0,252.0 632.1,252.0 632.2,252.1 632.3,252.3 632.4,252.5 632.5,252.7 632.6,252.8 632.7,252.8 632.8,252.7 632.9,252.4 633.0,252.1 633.1,251.8 633.2,251.5 633.3,251.4 633.4,251.4 633.5,251.5 633.6,251.9 633.7,252.5 633.8,253.2 633.9,253.9 634.0,254.5 634.1,255.0 634.2,255.3 634.3,255.2 634.4,254.9 634.5,254.3 634.6,253.4 634.7,252.4 634.8,251.3 634.9,250.4 635.0,249.6 635.1,249.1 635.2,249.0 635.3,249.3 635.4,249.9 635.5,250.9 635.6,252.1 635.7,253.4 635.8,254.7 635.9,255.8 636.0,256.5 636.1,256.9 636.2,256.8 636.3,256.3 636.4,255.3 636.5,254.1 636.6,252.8 636.7,251.4 636.8,250.1 636.9,249.1 637.0,248.5 637.1,248.3 637.2,248.5 637.3,249.2 637.4,250.2 637.5,251.4 637.6,252.7 637.7,254.0 637.8,255.1 637.9,256.0 638.0,256.5 638.1,256.7 638.2,256.4 638.3,255.9 638.4,255.0 638.5,254.0 638.6,252.8 638.7,251.7 638.8,250.7 638.9,249.9 639.0,249.4 639.1,249.2 639.2,249.2 639.3,249.5 639.4,250.1 639.5,250.9 639.6,251.7 639.7,252.7 639.8,253.6 639.9,254.4 640.0,255.1 640.1,255.7 640.2,256.0 640.3,256.0 640.4,255.8 640.5,255.3 640.6,254.6 640.7,253.8 640.8,252.8 640.9,251.7 641.0,250.7 641.1,249.8 641.2,249.1 641.3,248.6 641.4,248.5 641.5,248.8 641.6,249.4 641.7,250.4 641.8,251.6 641.9,253.0 642.0,254.5 642.1,255.8 642.2,256.9 642.3,257.6 642.4,257.9 642.5,257.7 642.6,256.9 642.7,255.7 642.8,254.1 642.9,252.3 643.0,250.5 643.1,248.8 643.2,247.5 643.3,246.6 643.4,246.3 643.5,246.7 643.6,247.7 643.7,249.3 643.8,251.2 643.9,253.3 644.0,255.4 644.1,257.3 644.2,258.7 644.3,259.5 644.4,259.6 644.5,258.9 644.6,257.6 644.7,255.8 644.8,253.6 644.9,251.3 644.9,249.1 645.0,247.3 645.1,246.1 645.2,245.5 645.3,245.7 645.4,246.6 645.5,248.2 645.6,250.2 645.7,252.4 645.8,254.7 645.9,256.7 646.0,258.2 646.1,259.2 646.2,259.4 646.3,259.0 646.4,257.9 646.5,256.2 646.6,254.3 646.7,252.2 646.8,250.2 646.9,248.5 647.0,247.3 647.1,246.7 647.2,246.8 647.3,247.4 647.4,248.5 647.5,250.0 647.6,251.7 647.7,253.5 647.8,255.0 647.9,256.2 648.0,257.0 648.1,257.4 648.2,257.2 648.3,256.6 648.4,255.6 648.5,254.4 648.6,253.2 648.7,251.9 648.8,250.9 648.9,250.1 649.0,249.6 649.1,249.4 649.2,249.5 649.3,249.9 649.4,250.5 649.5,251.2 649.6,252.0 649.7,252.7 649.8,253.4 649.9,253.9 650.0,254.2 650.1,254.5 650.2,254.5 650.3,254.5 650.4,254.4 650.5,254.1 650.6,253.9 650.7,253.5 650.8,253.2 650.9,252.8 651.0,252.4 651.1,252.0 651.2,251.6 651.3,251.2 651.4,250.9 651.5,250.7 651.6,250.7 651.7,250.8 651.8,251.0 651.9,251.4 652.0,252.0 652.1,252.6 652.2,253.4 652.3,254.1 652.4,254.7 652.5,255.1 652.6,255.3 652.7,255.3 652.8,255.0 652.9,254.5 653.0,253.7 653.1,252.9 653.2,251.9 653.3,251.1 653.4,250.3 653.5,249.8 653.6,249.6 653.7,249.7 653.8,250.1 653.9,250.7 654.0,251.5 654.1,252.5 654.2,253.4 654.3,254.3 654.4,255.0 654.5,255.4 654.6,255.5 654.7,255.4 654.8,255.0 654.9,254.3 655.0,253.5 655.1,252.7 655.2,251.9 655.3,251.2 655.4,250.8 655.5,250.5 655.6,250.4 655.7,250.6 655.8,250.9 655.9,251.4 656.0,251.9 656.1,252.4 656.2,252.9 656.3,253.3 656.4,253.6 656.5,253.7 656.6,253.8 656.7,253.8 656.8,253.8 656.9,253.7 657.0,253.6 657.1,253.5 657.2,253.4 657.3,253.2 657.4,253.1 657.5,252.9 657.6,252.6 657.7,252.3 657.8,251.9 657.9,251.5 658.0,251.1 658.1,250.8 658.2,250.6 658.3,250.5 658.4,250.7 658.5,251.1 658.6,251.7 658.7,252.5 658.8,253.5 658.9,254.4 659.0,255.3 659.1,255.9 659.2,256.3 659.3,256.3 659.4,255.9 659.5,255.2 659.6,254.1 659.7,252.7 659.8,251.3 659.9,249.9 660.0,248.7 660.1,247.9 660.2,247.5 660.3,247.7 660.4,248.4 660.5,249.7 660.6,251.3 660.7,253.1 660.8,254.9 660.9,256.6 661.0,257.9 661.1,258.6 661.2,258.8 661.3,258.3 661.4,257.2 661.5,255.5 661.6,253.6 661.7,251.4 661.8,249.4 661.9,247.7 662.0,246.5 662.1,245.9 662.2,246.0 662.3,246.9 662.4,248.3 662.5,250.2 662.6,252.4 662.7,254.6 662.8,256.6 662.9,258.2 663.0,259.2 663.1,259.5 663.2,259.1 663.3,258.0 663.4,256.4 663.5,254.4 663.6,252.3 663.7,250.2 663.8,248.4 663.9,247.1 664.0,246.3 664.1,246.3 664.2,246.8 664.3,248.0 664.4,249.5 664.5,251.4 664.6,253.3 664.6,255.1 664.7,256.6 664.8,257.7 664.9,258.2 665.0,258.2 665.1,257.6 665.2,256.6 665.3,255.3 665.4,253.7 665.5,252.2 665.6,250.7 665.7,249.5 665.8,248.6 665.9,248.1 666.0,248.1 666.1,248.4 666.2,249.1 666.3,250.1 666.4,251.2 666.5,252.4 666.6,253.6 666.7,254.7 666.8,255.6 666.9,256.2 667.0,256.5 667.1,256.5 667.2,256.2 667.3,255.6 667.4,254.8 667.5,253.8 667.6,252.8 667.7,251.7 667.8,250.7 667.9,249.8 668.0,249.2 668.1,248.8 668.2,248.8 668.3,249.0 668.4,249.6 668.5,250.5 668.6,251.5 668.7,252.8 668.8,254.0 668.9,255.1 669.0,256.1 669.1,256.8 669.2,257.1 669.3,257.0 669.4,256.4 669.5,255.5 669.6,254.3 669.7,252.9 669.8,251.4 669.9,250.1 670.0,248.9 670.1,248.1 670.2,247.7 670.3,247.9 670.4,248.5 670.5,249.5 670.6,250.9 670.7,252.5 670.8,254.1 670.9,255.5 671.0,256.7 671.1,257.4 671.2,257.7 671.3,257.4 671.4,256.6 671.5,255.5 671.6,254.0 671.7,252.4 671.8,250.9 671.9,249.5 672.0,248.6 672.1,248.0 672.2,248.0 672.3,248.5 672.4,249.4 672.5,250.6 672.6,252.0 672.7,253.4 672.8,254.6 672.9,255.6 673.0,256.3 673.1,256.5 673.2,256.3 673.3,255.7 673.4,254.8 673.5,253.8 673.6,252.7 673.7,251.7 673.8,250.8 673.9,250.3 674.0,250.0 674.1,250.1 674.2,250.4 674.3,251.0 674.4,251.6 674.5,252.3 674.6,253.0 674.7,253.5 674.8,253.8 674.9,253.9 675.0,253.8 675.1,253.6 675.2,253.3 675.3,252.9" fill="none" stroke="#f02626" stroke-width="1.1" stroke-linejoin="round" opacity="1.0"/>
<polyline points="516.2,249.5 516.3,249.9 516.4,251.1 516.5,253.0 516.6,255.5 516.7,258.5 516.8,262.0 516.9,265.8 517.0,269.8 517.1,274.0 517.2,278.2 517.3,282.2 517.4,286.0 517.5,289.4 517.6,292.4 517.7,294.8 517.8,296.7 517.9,297.8 518.0,298.3 518.1,298.1 518.2,297.2 518.3,295.6 518.4,293.4 518.5,290.7 518.6,287.5 518.7,284.0 518.8,280.2 518.9,276.3 519.0,272.3 519.1,268.4 519.2,264.8 519.3,261.5 519.4,258.5 519.5,256.1 519.6,254.2 519.7,252.9 519.8,252.3 519.9,252.2 520.0,252.9 520.1,254.1 520.2,255.9 520.3,258.1 520.4,260.8 520.5,263.9 520.6,267.1 520.7,270.5 520.8,274.0 520.9,277.3 521.0,280.5 521.1,283.5 521.2,286.1 521.3,288.3 521.4,290.0 521.5,291.2 521.6,291.9 521.7,292.0 521.8,291.6 521.9,290.7 522.0,289.3 522.1,287.5 522.2,285.4 522.3,282.9 522.4,280.3 522.5,277.5 522.6,274.7 522.7,272.0 522.8,269.4 522.9,267.0 523.0,264.9 523.1,263.1 523.2,261.7 523.3,260.7 523.4,260.1 523.5,260.0 523.6,260.3 523.7,261.0 523.8,262.1 523.9,263.5 524.0,265.2 524.1,267.1 524.2,269.2 524.3,271.3 524.4,273.5 524.5,275.6 524.6,277.6 524.7,279.5 524.8,281.1 524.9,282.5 525.0,283.6 525.1,284.4 525.2,284.8 525.3,284.9 525.4,284.7 525.5,284.1 525.6,283.3 525.7,282.3 525.8,281.0 525.9,279.5 526.0,278.0 526.1,276.3 526.2,274.7 526.3,273.0 526.4,271.5 526.5,270.0 526.6,268.7 526.7,267.6 526.8,266.7 526.9,266.0 526.9,265.6 527.0,265.3 527.1,265.4 527.2,265.6 527.3,266.1 527.4,266.7 527.5,267.6 527.6,268.5 527.7,269.6 527.8,270.8 527.9,272.0 528.0,273.2 528.1,274.4 528.2,275.6 528.3,276.8 528.4,277.8 528.5,278.8 528.6,279.6 528.7,280.3 528.8,280.8 528.9,281.2 529.0,281.5 529.1,281.6 529.2,281.5 529.3,281.3 529.4,281.0 529.5,280.5 529.6,279.9 529.7,279.1 529.8,278.3 529.9,277.4 530.0,276.4 530.1,275.3 530.2,274.3 530.3,273.1 530.4,272.0 530.5,270.9 530.6,269.8 530.7,268.8 530.8,267.8 530.9,267.0 531.0,266.2 531.1,265.6 531.2,265.2 531.3,264.9 531.4,264.8 531.5,264.9 531.6,265.2 531.7,265.7 531.8,266.4 531.9,267.3 532.0,268.4 532.1,269.7 532.2,271.2 532.3,272.7 532.4,274.4 532.5,276.1 532.6,277.9 532.7,279.6 532.8,281.2 532.9,282.8 533.0,284.2 533.1,285.3 533.2,286.3 533.3,287.0 533.4,287.3 533.5,287.4 533.6,287.1 533.7,286.4 533.8,285.4 533.9,284.1 534.0,282.5 534.1,280.6 534.2,278.5 534.3,276.1 534.4,273.7 534.5,271.2 534.6,268.7 534.7,266.3 534.8,264.0 534.9,261.9 535.0,260.1 535.1,258.7 535.2,257.6 535.3,256.9 535.4,256.7 535.5,257.0 535.6,257.7 535.7,258.9 535.8,260.6 535.9,262.6 536.0,265.0 536.1,267.7 536.2,270.6 536.3,273.7 536.4,276.8 536.5,279.9 536.6,282.8 536.7,285.6 536.8,288.1 536.9,290.2 537.0,291.8 537.1,293.0 537.2,293.7 537.3,293.8 537.4,293.3 537.5,292.3 537.6,290.7 537.7,288.7 537.8,286.2 537.9,283.3 538.0,280.2 538.1,276.8 538.2,273.4 538.3,270.0 538.4,266.6 538.5,263.5 538.6,260.6 538.7,258.2 538.8,256.2 538.9,254.7 539.0,253.8 539.1,253.5 539.2,253.8 539.3,254.7 539.4,256.2 539.5,258.2 539.6,260.7 539.7,263.6 539.8,266.9 539.9,270.3 540.0,273.9 540.1,277.5 540.2,280.9 540.3,284.2 540.4,287.1 540.5,289.7 540.6,291.7 540.7,293.2 540.8,294.1 540.9,294.4 541.0,294.1 541.1,293.1 541.2,291.6 541.3,289.5 541.4,286.9 541.5,283.9 541.6,280.6 541.7,277.1 541.8,273.5 541.9,269.9 542.0,266.4 542.1,263.2 542.2,260.3 542.3,257.9 542.4,255.9 542.5,254.6 542.6,253.8 542.7,253.7 542.8,254.2 542.9,255.4 543.0,257.1 543.1,259.4 543.2,262.1 543.3,265.3 543.4,268.7 543.5,272.3 543.6,275.9 543.7,279.6 543.8,283.0 543.9,286.2 544.0,289.0 544.1,291.3 544.2,293.1 544.3,294.3 544.4,294.9 544.5,294.9 544.6,294.2 544.7,292.8 544.8,290.9 544.9,288.5 545.0,285.6 545.1,282.3 545.2,278.8 545.3,275.1 545.4,271.3 545.5,267.7 545.6,264.2 545.7,261.0 545.8,258.3 545.9,255.9 546.0,254.2 546.1,253.0 546.2,252.4 546.3,252.5 546.4,253.3 546.5,254.6 546.6,256.5 546.6,259.0 546.7,261.9 546.8,265.1 546.9,268.6 547.0,272.3 547.1,276.0 547.2,279.6 547.3,283.1 547.4,286.3 547.5,289.1 547.6,291.4 547.7,293.3 547.8,294.6 547.9,295.3 548.0,295.3 548.1,294.8 548.2,293.7 548.3,292.0 548.4,289.8 548.5,287.2 548.6,284.3 548.7,281.1 548.8,277.7 548.9,274.3 549.0,270.9 549.1,267.6 549.2,264.5 549.3,261.8 549.4,259.4 549.5,257.5 549.6,256.1 549.7,255.2 549.8,254.8 549.9,255.0 550.0,255.6 550.1,256.8 550.2,258.4 550.3,260.4 550.4,262.8 550.5,265.4 550.6,268.1 550.7,271.0 550.8,273.9 550.9,276.7 551.0,279.4 551.1,281.8 551.2,284.0 551.3,285.9 551.4,287.4 551.5,288.5 551.6,289.2 551.7,289.4 551.8,289.3 551.9,288.7 552.0,287.8 552.1,286.6 552.2,285.1 552.3,283.3 552.4,281.4 552.5,279.3 552.6,277.2 552.7,275.1 552.8,273.0 552.9,271.0 553.0,269.2 553.1,267.6 553.2,266.2 553.3,265.1 553.4,264.2 553.5,263.6 553.6,263.3 553.7,263.3 553.8,263.5 553.9,264.0 554.0,264.7 554.1,265.5 554.2,266.6 554.3,267.7 554.4,269.0 554.5,270.3 554.6,271.6 554.7,272.9 554.8,274.2 554.9,275.5 555.0,276.6 555.1,277.6 555.2,278.6 555.3,279.3 555.4,280.0 555.5,280.5 555.6,280.8 555.7,281.0 555.8,281.1 555.9,281.0 556.0,280.8 556.1,280.4 556.2,280.0 556.3,279.4 556.4,278.7 556.5,278.0 556.6,277.2 556.7,276.3 556.8,275.4 556.9,274.5 557.0,273.6 557.1,272.7 557.2,271.8 557.3,270.9 557.4,270.1 557.5,269.4 557.6,268.7 557.7,268.2 557.8,267.8 557.9,267.5 558.0,267.4 558.1,267.4 558.2,267.6 558.3,267.9 558.4,268.4 558.5,269.1 558.6,269.9 558.7,270.8 558.8,271.9 558.9,273.0 559.0,274.2 559.1,275.4 559.2,276.7 559.3,277.9 559.4,279.0 559.5,280.1 559.6,281.0 559.7,281.7 559.8,282.3 559.9,282.6 560.0,282.7 560.1,282.6 560.2,282.1 560.3,281.5 560.4,280.5 560.5,279.4 560.6,278.0 560.7,276.5 560.8,274.9 560.9,273.1 561.0,271.3 561.1,269.6 561.2,267.9 561.3,266.3 561.4,264.9 561.5,263.7 561.6,262.8 561.7,262.2 561.8,262.0 561.9,262.1 562.0,262.6 562.1,263.4 562.2,264.6 562.3,266.1 562.4,267.9 562.5,270.0 562.6,272.3 562.7,274.7 562.8,277.1 562.9,279.5 563.0,281.9 563.1,284.1 563.2,286.1 563.3,287.7 563.4,289.0 563.5,289.9 563.6,290.3 563.7,290.3 563.8,289.8 563.9,288.8 564.0,287.3 564.1,285.4 564.2,283.1 564.3,280.4 564.4,277.6 564.5,274.5 564.6,271.3 564.7,268.2 564.8,265.1 564.9,262.2 565.0,259.6 565.1,257.4 565.2,255.6 565.3,254.3 565.4,253.6 565.5,253.5 565.6,253.9 565.7,254.9 565.8,256.6 565.9,258.7 566.0,261.4 566.1,264.4 566.2,267.8 566.3,271.4 566.3,275.1 566.4,278.9 566.5,282.6 566.6,286.1 566.7,289.2 566.8,292.0 566.9,294.3 567.0,296.0 567.1,297.1 567.2,297.6 567.3,297.3 567.4,296.4 567.5,294.9 567.6,292.7 567.7,290.0 567.8,286.8 567.9,283.2 568.0,279.3 568.1,275.3 568.2,271.2 568.3,267.1 568.4,263.3 568.5,259.8 568.6,256.6 568.7,254.0 568.8,251.9 568.9,250.5 569.0,249.7 569.1,249.7 569.2,250.4 569.3,251.7 569.4,253.7 569.5,256.3 569.6,259.4 569.7,262.9 569.8,266.7 569.9,270.7 570.0,274.8 570.1,278.9 570.2,282.8 570.3,286.4 570.4,289.6 570.5,292.3 570.6,294.5 570.7,296.1 570.8,297.0 570.9,297.2 571.0,296.7 571.1,295.6 571.2,293.8 571.3,291.5 571.4,288.6 571.5,285.4 571.6,281.9 571.7,278.1 571.8,274.3 571.9,270.5 572.0,266.9 572.1,263.5 572.2,260.5 572.3,257.9 572.4,255.9 572.5,254.4 572.6,253.6 572.7,253.4 572.8,253.8 572.9,254.8 573.0,256.4 573.1,258.5 573.2,261.1 573.3,264.0 573.4,267.2 573.5,270.6 573.6,274.0 573.7,277.4 573.8,280.6 573.9,283.6 574.0,286.2 574.1,288.4 574.2,290.1 574.3,291.3 574.4,292.0 574.5,292.1 574.6,291.6 574.7,290.6 574.8,289.0 574.9,287.1 575.0,284.7 575.1,282.0 575.2,279.2 575.3,276.2 575.4,273.1 575.5,270.2 575.6,267.4 575.7,264.8 575.8,262.6 575.9,260.7 576.0,259.3 576.1,258.3 576.2,257.9 576.3,257.9 576.4,258.5 576.5,259.5 576.6,261.0 576.7,262.8 576.8,264.9 576.9,267.4 577.0,269.9 577.1,272.6 577.2,275.3 577.3,277.9 577.4,280.4 577.5,282.7 577.6,284.6 577.7,286.3 577.8,287.5 577.9,288.4 578.0,288.8 578.1,288.8 578.2,288.3 578.3,287.4 578.4,286.2 578.5,284.7 578.6,282.8 578.7,280.7 578.8,278.5 578.9,276.2 579.0,273.9 579.1,271.6 579.2,269.4 579.3,267.3 579.4,265.5 579.5,264.0 579.6,262.7 579.7,261.8 579.8,261.2 579.9,261.0 580.0,261.1 580.1,261.5 580.2,262.3 580.3,263.3 580.4,264.6 580.5,266.1 580.6,267.8 580.7,269.6 580.8,271.4 580.9,273.3 581.0,275.2 581.1,276.9 581.2,278.6 581.3,280.1 581.4,281.5 581.5,282.6 581.6,283.5 581.7,284.2 581.8,284.6 581.9,284.8 582.0,284.8 582.1,284.5 582.2,284.0 582.3,283.3 582.4,282.4 582.5,281.4 582.6,280.3 582.7,279.0 582.8,277.7 582.9,276.3 583.0,274.9 583.1,273.5 583.2,272.1 583.3,270.8 583.4,269.5 583.5,268.4 583.6,267.3 583.7,266.4 583.8,265.7 583.9,265.0 584.0,264.6 584.1,264.3 584.2,264.2 584.3,264.3 584.4,264.6 584.5,265.0 584.6,265.7 584.7,266.5 584.8,267.5 584.9,268.6 585.0,269.8 585.1,271.2 585.2,272.7 585.3,274.2 585.4,275.7 585.5,277.3 585.6,278.8 585.7,280.3 585.8,281.7 585.9,282.9 585.9,283.9 586.0,284.8 586.1,285.4 586.2,285.8 586.3,286.0 586.4,285.8 586.5,285.3 586.6,284.6 586.7,283.6 586.8,282.3 586.9,280.8 587.0,279.1 587.1,277.2 587.2,275.2 587.3,273.1 587.4,271.0 587.5,268.9 587.6,266.9 587.7,265.0 587.8,263.4 587.9,262.0 588.0,260.9 588.1,260.1 588.2,259.7 588.3,259.7 588.4,260.0 588.5,260.8 588.6,261.9 588.7,263.4 588.8,265.2 588.9,267.3 589.0,269.6 589.1,272.1 589.2,274.6 589.3,277.2 589.4,279.7 589.5,282.1 589.6,284.3 589.7,286.2 589.8,287.8 589.9,289.0 590.0,289.7 590.1,290.0 590.2,289.9 590.3,289.2 590.4,288.1 590.5,286.6 590.6,284.7 590.7,282.4 590.8,279.9 590.9,277.1 591.0,274.3 591.1,271.4 591.2,268.6 591.3,265.9 591.4,263.4 591.5,261.2 591.6,259.4 591.7,258.1 591.8,257.2 591.9,256.9 592.0,257.1 592.1,257.8 592.2,259.0 592.3,260.7 592.4,262.9 592.5,265.4 592.6,268.2 592.7,271.3 592.8,274.4 592.9,277.6 593.0,280.7 593.1,283.6 593.2,286.2 593.3,288.5 593.4,290.4 593.5,291.7 593.6,292.6 593.7,292.8 593.8,292.4 593.9,291.5 594.0,290.0 594.1,287.9 594.2,285.5 594.3,282.6 594.4,279.4 594.5,276.0 594.6,272.5 594.7,269.0 594.8,265.6 594.9,262.4 595.0,259.6 595.1,257.2 595.2,255.3 595.3,253.9 595.4,253.1 595.5,253.0 595.6,253.6 595.7,254.7 595.8,256.5 595.9,258.8 596.0,261.7 596.1,264.9 596.2,268.5 596.3,272.2 596.4,276.1 596.5,279.9 596.6,283.6 596.7,287.0 596.8,290.1 596.9,292.7 597.0,294.8 597.1,296.3 597.2,297.1 597.3,297.2 597.4,296.7 597.5,295.4 597.6,293.6 597.7,291.1 597.8,288.1 597.9,284.7 598.0,280.9 598.1,277.0 598.2,272.9 598.3,268.8 598.4,264.9 598.5,261.3 598.6,258.0 598.7,255.2 598.8,252.9 598.9,251.2 599.0,250.2 599.1,249.9 599.2,250.3 599.3,251.4 599.4,253.1 599.5,255.4 599.6,258.3 599.7,261.6 599.8,265.2 599.9,269.1 600.0,273.1 600.1,277.1 600.2,281.0 600.3,284.7 600.4,288.0 600.5,290.9 600.6,293.3 600.7,295.2 600.8,296.4 600.9,297.0 601.0,296.9 601.1,296.1 601.2,294.8 601.3,292.8 601.4,290.4 601.5,287.5 601.6,284.3 601.7,280.8 601.8,277.2 601.9,273.6 602.0,270.0 602.1,266.6 602.2,263.5 602.3,260.7 602.4,258.4 602.5,256.5 602.6,255.2 602.7,254.5 602.8,254.3 602.9,254.7 603.0,255.6 603.1,257.0 603.2,258.9 603.3,261.2 603.4,263.7 603.5,266.5 603.6,269.5 603.7,272.5 603.8,275.4 603.9,278.3 604.0,280.9 604.1,283.3 604.2,285.3 604.3,287.0 604.4,288.2 604.5,289.0 604.6,289.3 604.7,289.2 604.8,288.7 604.9,287.7 605.0,286.4 605.1,284.8 605.2,282.9 605.3,280.9 605.4,278.7 605.5,276.4 605.6,274.2 605.6,272.1 605.7,270.0 605.8,268.2 605.9,266.6 606.0,265.3 606.1,264.3 606.2,263.6 606.3,263.2 606.4,263.2 606.5,263.5 606.6,264.0 606.7,264.9 606.8,265.9 606.9,267.2 607.0,268.5 607.1,270.0 607.2,271.6 607.3,273.1 607.4,274.6 607.5,276.0 607.6,277.4 607.7,278.5 607.8,279.5 607.9,280.3 608.0,280.9 608.1,281.3 608.2,281.5 608.3,281.4 608.4,281.2 608.5,280.8 608.6,280.2 608.7,279.5 608.8,278.7 608.9,277.8 609.0,276.8 609.1,275.8 609.2,274.8 609.3,273.8 609.4,272.8 609.5,271.9 609.6,271.1 609.7,270.3 609.8,269.7 609.9,269.1 610.0,268.7 610.1,268.4 610.2,268.3 610.3,268.2 610.4,268.3 610.5,268.5 610.6,268.8 610.7,269.2 610.8,269.7 610.9,270.3 611.0,270.9 611.1,271.7 611.2,272.5 611.3,273.4 611.4,274.3 611.5,275.2 611.6,276.1 611.7,277.0 611.8,277.9 611.9,278.7 612.0,279.4 612.1,280.1 612.2,280.7 612.3,281.1 612.4,281.4 612.5,281.5 612.6,281.5 612.7,281.3 612.8,280.9 612.9,280.4 613.0,279.6 613.1,278.7 613.2,277.6 613.3,276.4 613.4,275.0 613.5,273.6 613.6,272.1 613.7,270.6 613.8,269.0 613.9,267.6 614.0,266.2 614.1,265.0 614.2,263.9 614.3,263.1 614.4,262.5 614.5,262.2 614.6,262.3 614.7,262.6 614.8,263.2 614.9,264.2 615.0,265.5 615.1,267.0 615.2,268.8 615.3,270.8 615.4,273.0 615.5,275.3 615.6,277.7 615.7,280.0 615.8,282.2 615.9,284.3 616.0,286.2 616.1,287.8 616.2,289.1 616.3,290.0 616.4,290.5 616.5,290.5 616.6,290.1 616.7,289.3 616.8,288.0 616.9,286.2 617.0,284.1 617.1,281.6 617.2,278.9 617.3,276.0 617.4,272.9 617.5,269.8 617.6,266.8 617.7,263.9 617.8,261.2 617.9,258.9 618.0,256.9 618.1,255.3 618.2,254.3 618.3,253.8 618.4,253.9 618.5,254.5 618.6,255.7 618.7,257.4 618.8,259.7 618.9,262.3 619.0,265.4 619.1,268.7 619.2,272.2 619.3,275.8 619.4,279.4 619.5,282.8 619.6,286.1 619.7,289.0 619.8,291.5 619.9,293.5 620.0,295.0 620.1,295.9 620.2,296.2 620.3,295.8 620.4,294.8 620.5,293.2 620.6,291.0 620.7,288.3 620.8,285.2 620.9,281.8 621.0,278.1 621.1,274.3 621.2,270.5 621.3,266.8 621.4,263.3 621.5,260.1 621.6,257.4 621.7,255.1 621.8,253.4 621.9,252.3 622.0,251.9 622.1,252.1 622.2,253.0 622.3,254.5 622.4,256.6 622.5,259.2 622.6,262.3 622.7,265.7 622.8,269.3 622.9,273.1 623.0,276.9 623.1,280.5 623.2,284.0 623.3,287.1 623.4,289.9 623.5,292.1 623.6,293.7 623.7,294.8 623.8,295.2 623.9,294.9 624.0,294.0 624.1,292.5 624.2,290.4 624.3,287.8 624.4,284.8 624.5,281.4 624.6,277.9 624.7,274.3 624.8,270.6 624.9,267.1 625.0,263.8 625.1,260.9 625.2,258.4 625.2,256.3 625.3,254.9 625.4,254.1 625.5,253.8 625.6,254.3 625.7,255.3 625.8,257.0 625.9,259.1 626.0,261.8 626.1,264.8 626.2,268.1 626.3,271.6 626.4,275.1 626.5,278.6 626.6,282.0 626.7,285.1 626.8,287.8 626.9,290.1 627.0,291.9 627.1,293.2 627.2,293.8 627.3,293.9 627.4,293.3 627.5,292.1 627.6,290.4 627.7,288.1 627.8,285.5 627.9,282.4 628.0,279.2 628.1,275.8 628.2,272.3 628.3,268.9 628.4,265.7 628.5,262.7 628.6,260.0 628.7,257.8 628.8,256.1 628.9,255.0 629.0,254.4 629.1,254.4 629.2,254.9 629.3,256.1 629.4,257.7 629.5,259.8 629.6,262.4 629.7,265.2 629.8,268.3 629.9,271.6 630.0,274.9 630.1,278.1 630.2,281.2 630.3,284.1 630.4,286.6 630.5,288.8 630.6,290.5 630.7,291.8 630.8,292.5 630.9,292.7 631.0,292.4 631.1,291.6 631.2,290.3 631.3,288.5 631.4,286.4 631.5,284.0 631.6,281.3 631.7,278.5 631.8,275.6 631.9,272.7 632.0,269.9 632.1,267.2 632.2,264.8 632.3,262.7 632.4,260.9 632.5,259.6 632.6,258.6 632.7,258.1 632.8,257.9 632.9,258.3 633.0,259.0 633.1,260.1 633.2,261.5 633.3,263.2 633.4,265.2 633.5,267.3 633.6,269.5 633.7,271.8 633.8,274.0 633.9,276.2 634.0,278.3 634.1,280.2 634.2,281.9 634.3,283.4 634.4,284.5 634.5,285.4 634.6,286.0 634.7,286.3 634.8,286.2 634.9,285.9 635.0,285.3 635.1,284.5 635.2,283.5 635.3,282.3 635.4,281.0 635.5,279.5 635.6,278.0 635.7,276.4 635.8,274.9 635.9,273.4 636.0,272.0 636.1,270.6 636.2,269.4 636.3,268.3 636.4,267.4 636.5,266.6 636.6,266.0 636.7,265.5 636.8,265.3 636.9,265.2 637.0,265.3 637.1,265.6 637.2,266.0 637.3,266.5 637.4,267.2 637.5,268.0 637.6,268.9 637.7,269.9 637.8,271.0 637.9,272.1 638.0,273.2 638.1,274.4 638.2,275.6 638.3,276.7 638.4,277.8 638.5,278.8 638.6,279.7 638.7,280.6 638.8,281.3 638.9,281.8 639.0,282.3 639.1,282.5 639.2,282.5 639.3,282.4 639.4,282.1 639.5,281.5 639.6,280.8 639.7,279.9 639.8,278.9 639.9,277.7 640.0,276.3 640.1,274.9 640.2,273.5 640.3,272.0 640.4,270.6 640.5,269.2 640.6,267.8 640.7,266.7 640.8,265.7 640.9,264.9 641.0,264.3 641.1,264.0 641.2,264.0 641.3,264.3 641.4,264.8 641.5,265.6 641.6,266.7 641.7,268.0 641.8,269.5 641.9,271.2 642.0,273.0 642.1,274.9 642.2,276.8 642.3,278.7 642.4,280.5 642.5,282.1 642.6,283.5 642.7,284.6 642.8,285.5 642.9,286.0 643.0,286.2 643.1,286.0 643.2,285.4 643.3,284.4 643.4,283.1 643.5,281.5 643.6,279.6 643.7,277.5 643.8,275.3 643.9,272.9 644.0,270.5 644.1,268.1 644.2,265.9 644.3,263.9 644.4,262.2 644.5,260.7 644.6,259.7 644.7,259.1 644.8,258.9 644.9,259.2 644.9,260.0 645.0,261.2 645.1,262.9 645.2,264.9 645.3,267.3 645.4,270.0 645.5,272.8 645.6,275.8 645.7,278.7 645.8,281.6 645.9,284.4 646.0,286.8 646.1,289.0 646.2,290.7 646.3,292.0 646.4,292.7 646.5,292.9 646.6,292.5 646.7,291.6 646.8,290.1 646.9,288.0 647.0,285.6 647.1,282.7 647.2,279.5 647.3,276.1 647.4,272.5 647.5,268.9 647.6,265.5 647.7,262.2 647.8,259.2 647.9,256.6 648.0,254.5 648.1,252.9 648.2,251.9 648.3,251.6 648.4,251.9 648.5,252.9 648.6,254.5 648.7,256.7 648.8,259.5 648.9,262.7 649.0,266.3 649.1,270.1 649.2,274.1 649.3,278.1 649.4,282.1 649.5,285.8 649.6,289.3 649.7,292.3 649.8,294.8 649.9,296.7 650.0,298.0 650.1,298.6 650.2,298.4 650.3,297.6 650.4,296.1 650.5,293.9 650.6,291.2 650.7,287.9 650.8,284.3 650.9,280.3 651.0,276.2 651.1,272.0 651.2,267.9 651.3,263.9 651.4,260.2 651.5,257.0 651.6,254.2 651.7,252.0 651.8,250.5 651.9,249.7 652.0,249.5 652.1,250.1 652.2,251.4 652.3,253.3 652.4,255.8 652.5,258.8 652.6,262.2 652.7,266.0 652.8,269.9 652.9,273.9 653.0,277.9 653.1,281.8 653.2,285.4 653.3,288.6 653.4,291.3 653.5,293.5 653.6,295.2 653.7,296.1 653.8,296.4 653.9,296.1 654.0,295.1 654.1,293.5 654.2,291.4 654.3,288.7 654.4,285.7 654.5,282.4 654.6,278.9 654.7,275.3 654.8,271.7 654.9,268.3 655.0,265.1 655.1,262.2 655.2,259.7 655.3,257.7 655.4,256.2 655.5,255.3 655.6,255.0 655.7,255.2 655.8,256.0 655.9,257.4 656.0,259.2 656.1,261.4 656.2,264.0 656.3,266.8 656.4,269.8 656.5,272.9 656.6,275.9 656.7,278.8 656.8,281.5 656.9,283.9 657.0,285.9 657.1,287.6 657.2,288.8 657.3,289.5 657.4,289.7 657.5,289.4 657.6,288.7 657.7,287.5 657.8,286.0 657.9,284.1 658.0,281.9 658.1,279.5 658.2,277.0 658.3,274.5 658.4,272.0 658.5,269.6 658.6,267.4 658.7,265.5 658.8,263.8 658.9,262.5 659.0,261.6 659.1,261.0 659.2,260.9 659.3,261.2 659.4,261.8 659.5,262.9 659.6,264.2 659.7,265.8 659.8,267.6 659.9,269.6 660.0,271.6 660.1,273.7 660.2,275.8 660.3,277.8 660.4,279.6 660.5,281.2 660.6,282.6 660.7,283.8 660.8,284.6 660.9,285.1 661.0,285.3 661.1,285.2 661.2,284.7 661.3,284.0 661.4,283.1 661.5,281.9 661.6,280.5 661.7,279.0 661.8,277.3 661.9,275.7 662.0,274.0 662.1,272.4 662.2,270.8 662.3,269.4 662.4,268.1 662.5,266.9 662.6,266.0 662.7,265.3 662.8,264.8 662.9,264.5 663.0,264.5 663.1,264.7 663.2,265.0 663.3,265.6 663.4,266.4 663.5,267.3 663.6,268.3 663.7,269.4 663.8,270.6 663.9,271.9 664.0,273.2 664.1,274.5 664.2,275.7 664.3,277.0 664.4,278.1 664.5,279.2 664.6,280.2 664.6,281.0 664.7,281.7 664.8,282.3 664.9,282.7 665.0,283.0 665.1,283.1 665.2,283.0 665.3,282.8 665.4,282.4 665.5,281.8 665.6,281.0 665.7,280.1 665.8,279.1 665.9,278.0 666.0,276.7 666.1,275.3 666.2,273.9 666.3,272.4 666.4,271.0 666.5,269.5 666.6,268.1 666.7,266.8 666.8,265.6 666.9,264.5 667.0,263.6 667.1,262.9 667.2,262.5 667.3,262.3 667.4,262.3 667.5,262.7 667.6,263.3 667.7,264.2 667.8,265.4 667.9,266.8 668.0,268.4 668.1,270.3 668.2,272.3 668.3,274.3 668.4,276.5 668.5,278.6 668.6,280.7 668.7,282.7 668.8,284.5 668.9,286.1 669.0,287.4 669.1,288.4 669.2,289.1 669.3,289.3 669.4,289.2 669.5,288.7 669.6,287.7 669.7,286.4 669.8,284.7 669.9,282.7 670.0,280.4 670.1,277.9 670.2,275.2 670.3,272.5 670.4,269.7 670.5,267.0 670.6,264.5 670.7,262.2 670.8,260.2 670.9,258.6 671.0,257.4 671.1,256.6 671.2,256.3 671.3,256.5 671.4,257.2 671.5,258.4 671.6,260.1 671.7,262.1 671.8,264.6 671.9,267.3 672.0,270.3 672.1,273.3 672.2,276.5 672.3,279.6 672.4,282.5 672.5,285.2 672.6,287.6 672.7,289.7 672.8,291.2 672.9,292.3 673.0,292.8 673.1,292.8 673.2,292.2 673.3,291.0 673.4,289.4 673.5,287.2 673.6,284.7 673.7,281.8 673.8,278.7 673.9,275.4 674.0,272.0 674.1,268.7 674.2,265.6 674.3,262.7 674.4,260.2 674.5,258.0 674.6,256.4 674.7,255.3 674.8,254.8 674.9,254.9 675.0,255.6 675.1,256.8 675.2,258.6 675.3,260.9" fill="none" stroke="#000" stroke-width="1.05" stroke-linejoin="round" opacity="1.0"/>
</g>
<rect x="611.20" y="191.50" width="67.90" height="27.70" rx="1.6" fill="#fff" fill-opacity="0.8" stroke="#cfcfcf" stroke-width="0.9"/>
</g>
<g filter="url(#nf)">
<rect x="56.5" y="2.1" width="175.0" height="142.0" fill="none" stroke="#1a1a1a" stroke-width="1.15"/>
<path d="M51.90 144.10H56.50 M51.90 99.72H56.50 M51.90 55.35H56.50 M51.90 10.97H56.50 M64.45 144.10V148.70 M96.27 144.10V148.70 M128.09 144.10V148.70 M159.91 144.10V148.70 M191.73 144.10V148.70 M223.55 144.10V148.70" stroke="#1a1a1a" stroke-width="1.15" fill="none"/>
<text x="44.90" y="149.80" font-size="17.5" text-anchor="end" fill="#3a3a3a">0.0</text>
<text x="44.90" y="105.42" font-size="17.5" text-anchor="end" fill="#3a3a3a">0.5</text>
<text x="44.90" y="61.05" font-size="17.5" text-anchor="end" fill="#3a3a3a">1.0</text>
<text x="44.90" y="16.67" font-size="17.5" text-anchor="end" fill="#3a3a3a">1.5</text>
<text x="64.15" y="165.30" font-size="17.5" text-anchor="middle" fill="#3a3a3a">0</text>
<text x="95.37" y="165.30" font-size="17.5" text-anchor="middle" fill="#3a3a3a">10</text>
<text x="127.19" y="165.30" font-size="17.5" text-anchor="middle" fill="#3a3a3a">20</text>
<text x="159.01" y="165.30" font-size="17.5" text-anchor="middle" fill="#3a3a3a">30</text>
<text x="190.83" y="165.30" font-size="17.5" text-anchor="middle" fill="#3a3a3a">40</text>
<text x="222.65" y="165.30" font-size="17.5" text-anchor="middle" fill="#3a3a3a">50</text>
<text x="59.10" y="16.50" fill="#3a3a3a"><tspan font-size="19.5">(</tspan><tspan font-size="17" font-style="italic">a</tspan><tspan font-size="12" dy="3.2">1</tspan><tspan font-size="19.5" dy="-3.2">)</tspan></text>
<path d="M174.80 12.50H193.00" stroke="#3a3a3a" stroke-width="1.0"/>
<text x="198.80" y="15.85" font-size="8.6" font-style="italic" fill="#262626">q</text>
<path d="M207.50 14.50H214.60M207.50 12.50H214.60" stroke="#262626" stroke-width="0.7" opacity="0.8"/>
<text x="218.00" y="15.85" font-size="8.6" fill="#262626">0</text>
<path d="M174.80 24.50H193.00" stroke="#d84040" stroke-width="1.0"/>
<text x="198.80" y="27.90" font-size="8.6" font-style="italic" fill="#262626">q</text>
<path d="M207.50 26.50H214.60M207.50 24.50H214.60" stroke="#262626" stroke-width="0.7" opacity="0.8"/>
<text x="218.00" y="27.90" font-size="8.6" fill="#262626">4</text>
<rect x="282.5" y="2.1" width="175.0" height="142.0" fill="none" stroke="#1a1a1a" stroke-width="1.15"/>
<path d="M277.90 144.10H282.50 M277.90 99.72H282.50 M277.90 55.35H282.50 M277.90 10.97H282.50 M290.45 144.10V148.70 M322.27 144.10V148.70 M354.09 144.10V148.70 M385.91 144.10V148.70 M417.73 144.10V148.70 M449.55 144.10V148.70" stroke="#1a1a1a" stroke-width="1.15" fill="none"/>
<text x="270.90" y="149.80" font-size="17.5" text-anchor="end" fill="#3a3a3a">0.0</text>
<text x="270.90" y="105.42" font-size="17.5" text-anchor="end" fill="#3a3a3a">0.5</text>
<text x="270.90" y="61.05" font-size="17.5" text-anchor="end" fill="#3a3a3a">1.0</text>
<text x="270.90" y="16.67" font-size="17.5" text-anchor="end" fill="#3a3a3a">1.5</text>
<text x="290.15" y="165.30" font-size="17.5" text-anchor="middle" fill="#3a3a3a">0</text>
<text x="321.37" y="165.30" font-size="17.5" text-anchor="middle" fill="#3a3a3a">10</text>
<text x="353.19" y="165.30" font-size="17.5" text-anchor="middle" fill="#3a3a3a">20</text>
<text x="385.01" y="165.30" font-size="17.5" text-anchor="middle" fill="#3a3a3a">30</text>
<text x="416.83" y="165.30" font-size="17.5" text-anchor="middle" fill="#3a3a3a">40</text>
<text x="448.65" y="165.30" font-size="17.5" text-anchor="middle" fill="#3a3a3a">50</text>
<text x="285.10" y="16.50" fill="#3a3a3a"><tspan font-size="19.5">(</tspan><tspan font-size="17" font-style="italic">a</tspan><tspan font-size="12" dy="3.2">2</tspan><tspan font-size="19.5" dy="-3.2">)</tspan></text>
<path d="M400.60 12.50H418.80" stroke="#3a3a3a" stroke-width="1.0"/>
<text x="424.70" y="15.85" font-size="8.6" font-style="italic" fill="#262626">ζ</text>
<path d="M433.00 14.50H440.10M433.00 12.50H440.10" stroke="#262626" stroke-width="0.7" opacity="0.8"/>
<text x="444.20" y="15.85" font-size="8.6" fill="#262626">1</text>
<path d="M400.60 24.50H418.80" stroke="#d84040" stroke-width="1.0"/>
<text x="424.70" y="27.90" font-size="8.6" font-style="italic" fill="#262626">ζ</text>
<path d="M433.00 26.50H440.10M433.00 24.50H440.10" stroke="#262626" stroke-width="0.7" opacity="0.8"/>
<text x="444.20" y="27.90" font-size="8.6" fill="#262626">5</text>
<rect x="508.25" y="2.1" width="175.0" height="142.0" fill="none" stroke="#1a1a1a" stroke-width="1.15"/>
<path d="M503.65 144.10H508.25 M503.65 99.72H508.25 M503.65 55.35H508.25 M503.65 10.97H508.25 M516.20 144.10V148.70 M548.02 144.10V148.70 M579.84 144.10V148.70 M611.66 144.10V148.70 M643.48 144.10V148.70 M675.30 144.10V148.70" stroke="#1a1a1a" stroke-width="1.15" fill="none"/>
<text x="496.65" y="149.80" font-size="17.5" text-anchor="end" fill="#3a3a3a">0.0</text>
<text x="496.65" y="105.42" font-size="17.5" text-anchor="end" fill="#3a3a3a">0.5</text>
<text x="496.65" y="61.05" font-size="17.5" text-anchor="end" fill="#3a3a3a">1.0</text>
<text x="496.65" y="16.67" font-size="17.5" text-anchor="end" fill="#3a3a3a">1.5</text>
<text x="515.90" y="165.30" font-size="17.5" text-anchor="middle" fill="#3a3a3a">0</text>
<text x="547.12" y="165.30" font-size="17.5" text-anchor="middle" fill="#3a3a3a">10</text>
<text x="578.94" y="165.30" font-size="17.5" text-anchor="middle" fill="#3a3a3a">20</text>
<text x="610.76" y="165.30" font-size="17.5" text-anchor="middle" fill="#3a3a3a">30</text>
<text x="642.58" y="165.30" font-size="17.5" text-anchor="middle" fill="#3a3a3a">40</text>
<text x="674.40" y="165.30" font-size="17.5" text-anchor="middle" fill="#3a3a3a">50</text>
<text x="510.85" y="16.50" fill="#3a3a3a"><tspan font-size="19.5">(</tspan><tspan font-size="17" font-style="italic">a</tspan><tspan font-size="12" dy="3.2">3</tspan><tspan font-size="19.5" dy="-3.2">)</tspan></text>
<path d="M614.40 12.50H632.60" stroke="#3a3a3a" stroke-width="1.0"/>
<text x="639.60" y="16.45" font-size="8.6" font-style="italic" fill="#262626">β</text>
<path d="M648.50 15.50H655.60M648.50 13.50H655.60" stroke="#262626" stroke-width="0.7" opacity="0.8"/>
<text x="659.10" y="16.45" font-size="8.6" fill="#262626" textLength="14.8" lengthAdjust="spacingAndGlyphs">1/4</text>
<path d="M614.40 25.50H632.60" stroke="#d84040" stroke-width="1.0"/>
<text x="639.60" y="28.70" font-size="8.6" font-style="italic" fill="#262626">β</text>
<path d="M648.50 27.50H655.60M648.50 25.50H655.60" stroke="#262626" stroke-width="0.7" opacity="0.8"/>
<text x="659.10" y="28.70" font-size="8.6" fill="#262626">4</text>
<rect x="56.5" y="187.5" width="175.0" height="142.0" fill="none" stroke="#1a1a1a" stroke-width="1.15"/>
<path d="M51.90 329.50H56.50 M51.90 285.12H56.50 M51.90 240.75H56.50 M51.90 196.38H56.50 M64.45 329.50V334.10 M96.27 329.50V334.10 M128.09 329.50V334.10 M159.91 329.50V334.10 M191.73 329.50V334.10 M223.55 329.50V334.10" stroke="#1a1a1a" stroke-width="1.15" fill="none"/>
<text x="44.90" y="335.20" font-size="17.5" text-anchor="end" fill="#3a3a3a">0.0</text>
<text x="44.90" y="290.82" font-size="17.5" text-anchor="end" fill="#3a3a3a">0.5</text>
<text x="44.90" y="246.45" font-size="17.5" text-anchor="end" fill="#3a3a3a">1.0</text>
<text x="44.90" y="202.07" font-size="17.5" text-anchor="end" fill="#3a3a3a">1.5</text>
<text x="64.15" y="350.70" font-size="17.5" text-anchor="middle" fill="#3a3a3a">0</text>
<text x="95.37" y="350.70" font-size="17.5" text-anchor="middle" fill="#3a3a3a">10</text>
<text x="127.19" y="350.70" font-size="17.5" text-anchor="middle" fill="#3a3a3a">20</text>
<text x="159.01" y="350.70" font-size="17.5" text-anchor="middle" fill="#3a3a3a">30</text>
<text x="190.83" y="350.70" font-size="17.5" text-anchor="middle" fill="#3a3a3a">40</text>
<text x="222.65" y="350.70" font-size="17.5" text-anchor="middle" fill="#3a3a3a">50</text>
<text x="59.10" y="201.90" fill="#3a3a3a"><tspan font-size="19.5">(</tspan><tspan font-size="17" font-style="italic">b</tspan><tspan font-size="12" dy="3.2">1</tspan><tspan font-size="19.5" dy="-3.2">)</tspan></text>
<path d="M174.80 197.50H193.00" stroke="#3a3a3a" stroke-width="1.0"/>
<text x="198.80" y="201.25" font-size="8.6" font-style="italic" fill="#262626">q</text>
<path d="M207.50 200.50H214.60M207.50 198.50H214.60" stroke="#262626" stroke-width="0.7" opacity="0.8"/>
<text x="218.00" y="201.25" font-size="8.6" fill="#262626">0</text>
<path d="M174.80 209.50H193.00" stroke="#d84040" stroke-width="1.0"/>
<text x="198.80" y="213.30" font-size="8.6" font-style="italic" fill="#262626">q</text>
<path d="M207.50 212.50H214.60M207.50 210.50H214.60" stroke="#262626" stroke-width="0.7" opacity="0.8"/>
<text x="218.00" y="213.30" font-size="8.6" fill="#262626">4</text>
<rect x="282.5" y="187.5" width="175.0" height="142.0" fill="none" stroke="#1a1a1a" stroke-width="1.15"/>
<path d="M277.90 329.50H282.50 M277.90 285.12H282.50 M277.90 240.75H282.50 M277.90 196.38H282.50 M290.45 329.50V334.10 M322.27 329.50V334.10 M354.09 329.50V334.10 M385.91 329.50V334.10 M417.73 329.50V334.10 M449.55 329.50V334.10" stroke="#1a1a1a" stroke-width="1.15" fill="none"/>
<text x="270.90" y="335.20" font-size="17.5" text-anchor="end" fill="#3a3a3a">0.0</text>
<text x="270.90" y="290.82" font-size="17.5" text-anchor="end" fill="#3a3a3a">0.5</text>
<text x="270.90" y="246.45" font-size="17.5" text-anchor="end" fill="#3a3a3a">1.0</text>
<text x="270.90" y="202.07" font-size="17.5" text-anchor="end" fill="#3a3a3a">1.5</text>
<text x="290.15" y="350.70" font-size="17.5" text-anchor="middle" fill="#3a3a3a">0</text>
<text x="321.37" y="350.70" font-size="17.5" text-anchor="middle" fill="#3a3a3a">10</text>
<text x="353.19" y="350.70" font-size="17.5" text-anchor="middle" fill="#3a3a3a">20</text>
<text x="385.01" y="350.70" font-size="17.5" text-anchor="middle" fill="#3a3a3a">30</text>
<text x="416.83" y="350.70" font-size="17.5" text-anchor="middle" fill="#3a3a3a">40</text>
<text x="448.65" y="350.70" font-size="17.5" text-anchor="middle" fill="#3a3a3a">50</text>
<text x="285.10" y="201.90" fill="#3a3a3a"><tspan font-size="19.5">(</tspan><tspan font-size="17" font-style="italic">b</tspan><tspan font-size="12" dy="3.2">2</tspan><tspan font-size="19.5" dy="-3.2">)</tspan></text>
<path d="M400.60 197.50H418.80" stroke="#3a3a3a" stroke-width="1.0"/>
<text x="424.70" y="201.25" font-size="8.6" font-style="italic" fill="#262626">ζ</text>
<path d="M433.00 200.50H440.10M433.00 198.50H440.10" stroke="#262626" stroke-width="0.7" opacity="0.8"/>
<text x="444.20" y="201.25" font-size="8.6" fill="#262626">1</text>
<path d="M400.60 209.50H418.80" stroke="#d84040" stroke-width="1.0"/>
<text x="424.70" y="213.30" font-size="8.6" font-style="italic" fill="#262626">ζ</text>
<path d="M433.00 212.50H440.10M433.00 210.50H440.10" stroke="#262626" stroke-width="0.7" opacity="0.8"/>
<text x="444.20" y="213.30" font-size="8.6" fill="#262626">5</text>
<rect x="508.25" y="187.5" width="175.0" height="142.0" fill="none" stroke="#1a1a1a" stroke-width="1.15"/>
<path d="M503.65 329.50H508.25 M503.65 285.12H508.25 M503.65 240.75H508.25 M503.65 196.38H508.25 M516.20 329.50V334.10 M548.02 329.50V334.10 M579.84 329.50V334.10 M611.66 329.50V334.10 M643.48 329.50V334.10 M675.30 329.50V334.10" stroke="#1a1a1a" stroke-width="1.15" fill="none"/>
<text x="496.65" y="335.20" font-size="17.5" text-anchor="end" fill="#3a3a3a">0.0</text>
<text x="496.65" y="290.82" font-size="17.5" text-anchor="end" fill="#3a3a3a">0.5</text>
<text x="496.65" y="246.45" font-size="17.5" text-anchor="end" fill="#3a3a3a">1.0</text>
<text x="496.65" y="202.07" font-size="17.5" text-anchor="end" fill="#3a3a3a">1.5</text>
<text x="515.90" y="350.70" font-size="17.5" text-anchor="middle" fill="#3a3a3a">0</text>
<text x="547.12" y="350.70" font-size="17.5" text-anchor="middle" fill="#3a3a3a">10</text>
<text x="578.94" y="350.70" font-size="17.5" text-anchor="middle" fill="#3a3a3a">20</text>
<text x="610.76" y="350.70" font-size="17.5" text-anchor="middle" fill="#3a3a3a">30</text>
<text x="642.58" y="350.70" font-size="17.5" text-anchor="middle" fill="#3a3a3a">40</text>
<text x="674.40" y="350.70" font-size="17.5" text-anchor="middle" fill="#3a3a3a">50</text>
<text x="510.85" y="201.90" fill="#3a3a3a"><tspan font-size="19.5">(</tspan><tspan font-size="17" font-style="italic">b</tspan><tspan font-size="12" dy="3.2">3</tspan><tspan font-size="19.5" dy="-3.2">)</tspan></text>
<path d="M614.40 198.50H632.60" stroke="#3a3a3a" stroke-width="1.0"/>
<text x="639.60" y="201.85" font-size="8.6" font-style="italic" fill="#262626">β</text>
<path d="M648.50 200.50H655.60M648.50 198.50H655.60" stroke="#262626" stroke-width="0.7" opacity="0.8"/>
<text x="659.10" y="201.85" font-size="8.6" fill="#262626" textLength="14.8" lengthAdjust="spacingAndGlyphs">1/4</text>
<path d="M614.40 210.50H632.60" stroke="#d84040" stroke-width="1.0"/>
<text x="639.60" y="214.10" font-size="8.6" font-style="italic" fill="#262626">β</text>
<path d="M648.50 213.50H655.60M648.50 211.50H655.60" stroke="#262626" stroke-width="0.7" opacity="0.8"/>
<text x="659.10" y="214.10" font-size="8.6" fill="#262626">4</text>
<text transform="translate(15.3 93.00) rotate(-90)" font-size="17" font-style="italic" fill="#3a3a3a" textLength="17.4" lengthAdjust="spacingAndGlyphs">W</text>
<text transform="translate(15.600000000000001 75.40) rotate(-90)" font-size="19.5" fill="#3a3a3a" textLength="19.0" lengthAdjust="spacingAndGlyphs">(<tspan font-style="italic">t</tspan>)</text>
<text transform="translate(15.3 278.40) rotate(-90)" font-size="17" font-style="italic" fill="#3a3a3a" textLength="17.4" lengthAdjust="spacingAndGlyphs">W</text>
<text transform="translate(15.600000000000001 260.80) rotate(-90)" font-size="19.5" fill="#3a3a3a" textLength="19.0" lengthAdjust="spacingAndGlyphs">(<tspan font-style="italic">t</tspan>)</text>
<text x="143.60" y="371.6" font-size="18" text-anchor="middle" fill="#3a3a3a" font-style="italic" textLength="15" lengthAdjust="spacingAndGlyphs">λt</text>
<text x="369.60" y="371.6" font-size="18" text-anchor="middle" fill="#3a3a3a" font-style="italic" textLength="15" lengthAdjust="spacingAndGlyphs">λt</text>
<text x="595.35" y="371.6" font-size="18" text-anchor="middle" fill="#3a3a3a" font-style="italic" textLength="15" lengthAdjust="spacingAndGlyphs">λt</text>
</g>
</svg></body></html>
